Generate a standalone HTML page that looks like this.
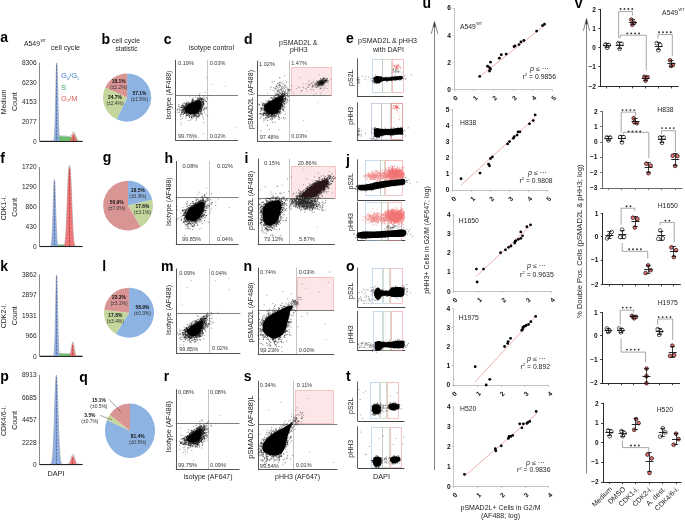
<!DOCTYPE html>
<html><head><meta charset="utf-8"><style>
html,body{margin:0;padding:0;background:#fff;width:685px;height:520px;overflow:hidden}
svg{display:block;will-change:transform}
text{font-family:"Liberation Sans",sans-serif}
</style></head><body>
<svg width="685" height="520" viewBox="0 0 685 520" fill="#1e1e1e">
<defs><filter id="b1" x="-20%" y="-20%" width="140%" height="140%"><feGaussianBlur stdDeviation="0.7"/></filter><filter id="b2" x="-20%" y="-20%" width="140%" height="140%"><feGaussianBlur stdDeviation="0.5"/></filter></defs>
<text x="0.30" y="42.30" font-size="14" fill="#000" font-weight="bold">a</text>
<text x="24.00" y="46.00" font-size="7" textLength="16" lengthAdjust="spacingAndGlyphs">A549</text>
<text x="40.40" y="42.20" font-size="4" textLength="5.6" lengthAdjust="spacingAndGlyphs">WT</text>
<text x="51.00" y="50.10" font-size="7" textLength="29" lengthAdjust="spacingAndGlyphs">cell cycle</text>
<line x1="39.5" y1="62.6" x2="39.5" y2="141.7" stroke="#8a8a8a" stroke-width="1.0"/>
<text x="36.60" y="65.00" font-size="6.6" text-anchor="end">8306</text>
<text x="36.60" y="84.68" font-size="6.6" text-anchor="end">6230</text>
<text x="36.60" y="104.35" font-size="6.6" text-anchor="end">4153</text>
<text x="36.60" y="124.03" font-size="6.6" text-anchor="end">2077</text>
<text x="36.60" y="143.70" font-size="6.6" text-anchor="end">0</text>
<path d="M40.20 141.30 L40.20 140.95 L40.37 140.95 L40.55 140.95 L40.72 140.95 L40.90 140.95 L41.07 140.95 L41.25 140.95 L41.42 140.95 L41.60 140.95 L41.77 140.95 L41.95 140.95 L42.12 140.95 L42.30 140.95 L42.47 140.95 L42.64 140.95 L42.82 140.95 L42.99 140.95 L43.17 140.95 L43.34 140.95 L43.52 140.95 L43.69 140.95 L43.87 140.95 L44.04 140.95 L44.22 140.95 L44.39 140.95 L44.56 140.95 L44.74 140.95 L44.91 140.95 L45.09 140.95 L45.26 140.95 L45.44 140.95 L45.61 140.95 L45.79 140.95 L45.96 140.95 L46.14 140.95 L46.31 140.95 L46.48 140.95 L46.66 140.95 L46.83 140.95 L47.01 140.95 L47.18 140.95 L47.36 140.95 L47.53 140.95 L47.71 140.95 L47.88 140.95 L48.06 140.95 L48.23 140.95 L48.41 140.95 L48.58 140.95 L48.75 140.95 L48.93 140.95 L49.10 140.95 L49.28 140.95 L49.45 140.95 L49.63 140.95 L49.80 140.95 L49.98 140.95 L50.15 140.95 L50.33 140.95 L50.50 140.95 L50.67 140.95 L50.85 140.95 L51.02 140.95 L51.20 140.95 L51.37 140.95 L51.55 140.95 L51.72 140.95 L51.90 140.95 L52.07 140.95 L52.25 140.95 L52.42 140.94 L52.60 140.94 L52.77 140.93 L52.94 140.90 L53.12 140.86 L53.29 140.78 L53.47 140.65 L53.64 140.42 L53.82 140.04 L53.99 139.44 L54.17 138.52 L54.34 137.15 L54.52 135.21 L54.69 132.52 L54.87 128.95 L55.04 124.39 L55.21 118.77 L55.39 112.14 L55.56 104.64 L55.74 96.57 L55.91 88.34 L56.09 80.45 L56.26 73.47 L56.44 67.94 L56.61 64.33 L56.79 62.96 L56.96 63.94 L57.13 67.20 L57.31 72.43 L57.48 79.21 L57.66 86.98 L57.83 95.20 L58.01 103.32 L58.18 110.94 L58.36 117.73 L58.53 123.52 L58.71 128.26 L58.88 131.99 L59.05 134.81 L59.23 135.81 L59.40 135.82 L59.58 135.83 L59.75 135.85 L59.93 135.86 L60.10 135.87 L60.28 135.88 L60.45 135.90 L60.63 135.91 L60.80 135.92 L60.98 135.94 L61.15 135.95 L61.32 135.96 L61.50 135.98 L61.67 135.99 L61.85 136.00 L62.02 136.01 L62.20 136.03 L62.37 136.04 L62.55 136.05 L62.72 136.07 L62.90 136.08 L63.07 136.09 L63.25 136.11 L63.42 136.12 L63.59 136.13 L63.77 136.14 L63.94 136.16 L64.12 136.17 L64.29 136.18 L64.47 136.20 L64.64 136.21 L64.82 136.22 L64.99 136.23 L65.17 136.25 L65.34 136.26 L65.51 136.27 L65.69 136.28 L65.86 136.29 L66.04 136.31 L66.21 136.32 L66.39 136.33 L66.56 136.34 L66.74 136.35 L66.91 136.36 L67.09 136.36 L67.26 136.37 L67.44 136.38 L67.61 136.38 L67.78 136.39 L67.96 136.39 L68.13 136.39 L68.31 136.39 L68.48 136.39 L68.66 136.38 L68.83 136.38 L69.01 136.37 L69.18 136.36 L69.36 136.34 L69.53 136.32 L69.70 136.30 L69.88 136.28 L70.05 136.25 L70.23 136.22 L70.40 136.19 L70.58 136.16 L70.75 136.12 L70.93 136.08 L71.10 136.04 L71.28 135.99 L71.45 135.95 L71.62 135.90 L71.80 135.47 L71.97 134.94 L72.15 134.41 L72.32 133.91 L72.50 133.44 L72.67 133.01 L72.85 132.64 L73.02 132.33 L73.20 132.09 L73.37 131.93 L73.55 131.85 L73.72 131.87 L73.89 131.98 L74.07 132.17 L74.24 132.44 L74.42 132.77 L74.59 133.17 L74.77 133.61 L74.94 134.10 L75.12 134.61 L75.29 135.13 L75.47 135.66 L75.64 136.19 L75.81 136.29 L75.99 136.37 L76.16 136.86 L76.34 137.38 L76.51 137.89 L76.69 138.39 L76.86 138.89 L77.04 139.39 L77.21 139.68 L77.39 139.89 L77.56 140.08 L77.74 140.23 L77.91 140.36 L78.08 140.47 L78.26 140.57 L78.43 140.64 L78.61 140.70 L78.78 140.75 L78.96 140.79 L79.13 140.82 L79.31 140.85 L79.48 140.87 L79.66 140.89 L79.83 140.90 L80.00 140.91 L80.18 140.92 L80.35 140.92 L80.53 140.93 L80.70 140.93 L80.88 140.94 L81.05 140.94 L81.23 140.94 L81.40 140.94 L81.58 140.94 L81.75 140.95 L81.93 140.95 L82.10 140.95 L82.10 141.30 Z" fill="#fff" stroke="#666" stroke-width="0.45"/>
<path d="M55.91 141.30 L55.91 140.79 L56.09 140.01 L56.26 139.24 L56.44 138.46 L56.61 137.69 L56.79 136.93 L56.96 136.16 L57.13 136.00 L57.31 136.01 L57.48 136.03 L57.66 136.04 L57.83 136.05 L58.01 136.06 L58.18 136.08 L58.36 136.09 L58.53 136.10 L58.71 136.12 L58.88 136.13 L59.05 136.14 L59.23 136.16 L59.40 136.17 L59.58 136.18 L59.75 136.20 L59.93 136.21 L60.10 136.22 L60.28 136.23 L60.45 136.25 L60.63 136.26 L60.80 136.27 L60.98 136.29 L61.15 136.30 L61.32 136.31 L61.50 136.33 L61.67 136.34 L61.85 136.35 L62.02 136.36 L62.20 136.38 L62.37 136.39 L62.55 136.40 L62.72 136.42 L62.90 136.43 L63.07 136.44 L63.25 136.46 L63.42 136.47 L63.59 136.48 L63.77 136.49 L63.94 136.51 L64.12 136.52 L64.29 136.53 L64.47 136.55 L64.64 136.56 L64.82 136.57 L64.99 136.59 L65.17 136.60 L65.34 136.61 L65.51 136.63 L65.69 136.64 L65.86 136.65 L66.04 136.66 L66.21 136.68 L66.39 136.69 L66.56 136.70 L66.74 136.72 L66.91 136.73 L67.09 136.74 L67.26 136.76 L67.44 136.77 L67.61 136.78 L67.78 136.79 L67.96 136.81 L68.13 136.82 L68.31 136.83 L68.48 136.85 L68.66 136.86 L68.83 136.87 L69.01 136.89 L69.18 136.90 L69.36 136.91 L69.53 136.93 L69.70 136.94 L69.88 136.95 L70.05 136.96 L70.23 136.98 L70.40 136.99 L70.58 137.00 L70.75 137.02 L70.93 137.03 L71.10 137.04 L71.28 137.06 L71.45 137.07 L71.62 137.08 L71.80 137.09 L71.97 137.11 L72.15 137.12 L72.32 137.13 L72.50 137.15 L72.67 137.16 L72.85 137.17 L73.02 137.19 L73.20 137.20 L73.37 137.21 L73.55 137.22 L73.72 137.24 L73.89 137.25 L74.07 137.26 L74.24 137.28 L74.42 137.29 L74.59 137.30 L74.77 137.32 L74.94 137.33 L75.12 137.34 L75.29 137.36 L75.47 137.37 L75.64 137.38 L75.81 137.39 L75.99 137.41 L76.16 137.84 L76.34 138.31 L76.51 138.77 L76.69 139.22 L76.86 139.67 L77.04 140.12 L77.21 140.57 L77.39 141.01 L77.39 141.30 Z" fill="#5cb85c" fill-opacity="0.9"/>
<path d="M53.29 141.30 L53.29 141.13 L53.47 141.00 L53.64 140.77 L53.82 140.39 L53.99 139.79 L54.17 138.87 L54.34 137.50 L54.52 135.56 L54.69 132.87 L54.87 129.30 L55.04 124.74 L55.21 119.12 L55.39 112.49 L55.56 104.99 L55.74 96.92 L55.91 88.69 L56.09 80.80 L56.26 73.82 L56.44 68.29 L56.61 64.68 L56.79 63.31 L56.96 64.29 L57.13 67.55 L57.31 72.78 L57.48 79.56 L57.66 87.33 L57.83 95.55 L58.01 103.67 L58.18 111.29 L58.36 118.08 L58.53 123.87 L58.71 128.61 L58.88 132.34 L59.05 135.16 L59.23 137.22 L59.40 138.67 L59.58 139.66 L59.75 140.30 L59.93 140.71 L60.10 140.97 L60.28 141.12 L60.28 141.30 Z" fill="#86a6dc" fill-opacity="0.92"/>
<path d="M68.48 141.30 L68.48 141.19 L68.66 141.16 L68.83 141.11 L69.01 141.05 L69.18 140.98 L69.36 140.89 L69.53 140.78 L69.70 140.65 L69.88 140.49 L70.05 140.30 L70.23 140.08 L70.40 139.83 L70.58 139.54 L70.75 139.23 L70.93 138.87 L71.10 138.49 L71.28 138.07 L71.45 137.63 L71.62 137.17 L71.80 136.71 L71.97 136.23 L72.15 135.77 L72.32 135.32 L72.50 134.90 L72.67 134.52 L72.85 134.19 L73.02 133.91 L73.20 133.70 L73.37 133.57 L73.55 133.50 L73.72 133.52 L73.89 133.61 L74.07 133.78 L74.24 134.01 L74.42 134.31 L74.59 134.66 L74.77 135.06 L74.94 135.49 L75.12 135.94 L75.29 136.41 L75.47 136.88 L75.64 137.35 L75.81 137.80 L75.99 138.23 L76.16 138.63 L76.34 139.01 L76.51 139.35 L76.69 139.66 L76.86 139.93 L77.04 140.17 L77.21 140.37 L77.39 140.55 L77.56 140.70 L77.74 140.82 L77.91 140.92 L78.08 141.01 L78.26 141.07 L78.43 141.13 L78.61 141.17 L78.61 141.30 Z" fill="#ec6464" fill-opacity="0.88"/>
<line x1="56.5" y1="65.3" x2="56.5" y2="141.3" stroke="#2b3a6a" stroke-width="0.5" stroke-dasharray="2.2 1.2"/>
<line x1="73.5" y1="135.5" x2="73.5" y2="141.3" stroke="#7a2020" stroke-width="0.5" stroke-dasharray="2.2 1.2"/>
<line x1="39.7" y1="141.5" x2="82.6" y2="141.5" stroke="#222" stroke-width="1.1"/>
<text x="61.00" y="78.30" font-size="7.6" fill="#3f7cc4">G<tspan font-size="3.8" dy="1.4">0</tspan><tspan dy="-1.4">/G</tspan><tspan font-size="3.8" dy="1.4">1</tspan></text>
<text x="61.00" y="89.80" font-size="7.6" fill="#3aa050">S</text>
<text x="61.00" y="101.00" font-size="7.6" fill="#e05a5a">G<tspan font-size="3.8" dy="1.4">2</tspan><tspan dy="-1.4">/M</tspan></text>
<text x="6.00" y="101.90" font-size="7" text-anchor="middle" transform="rotate(-90 6.00 101.90)">Medium</text>
<text x="17.00" y="101.70" font-size="7" text-anchor="middle" transform="rotate(-90 17.00 101.70)">Count</text>
<text x="0.30" y="162.50" font-size="14" fill="#000" font-weight="bold">f</text>
<line x1="39.5" y1="167" x2="39.5" y2="247.1" stroke="#8a8a8a" stroke-width="1.0"/>
<text x="36.60" y="169.40" font-size="6.6" text-anchor="end">1720</text>
<text x="36.60" y="189.33" font-size="6.6" text-anchor="end">1290</text>
<text x="36.60" y="209.25" font-size="6.6" text-anchor="end">860</text>
<text x="36.60" y="229.17" font-size="6.6" text-anchor="end">430</text>
<text x="36.60" y="249.10" font-size="6.6" text-anchor="end">0</text>
<path d="M40.20 246.70 L40.20 246.35 L40.37 246.35 L40.55 246.35 L40.72 246.35 L40.90 246.35 L41.07 246.35 L41.25 246.35 L41.42 246.35 L41.60 246.35 L41.77 246.35 L41.95 246.35 L42.12 246.35 L42.30 246.35 L42.47 246.35 L42.64 246.35 L42.82 246.35 L42.99 246.35 L43.17 246.35 L43.34 246.35 L43.52 246.35 L43.69 246.35 L43.87 246.35 L44.04 246.35 L44.22 246.35 L44.39 246.35 L44.56 246.35 L44.74 246.35 L44.91 246.35 L45.09 246.35 L45.26 246.35 L45.44 246.35 L45.61 246.35 L45.79 246.35 L45.96 246.35 L46.14 246.35 L46.31 246.35 L46.48 246.35 L46.66 246.35 L46.83 246.35 L47.01 246.35 L47.18 246.35 L47.36 246.35 L47.53 246.35 L47.71 246.35 L47.88 246.35 L48.06 246.35 L48.23 246.35 L48.41 246.35 L48.58 246.35 L48.75 246.35 L48.93 246.35 L49.10 246.35 L49.28 246.34 L49.45 246.34 L49.63 246.33 L49.80 246.31 L49.98 246.28 L50.15 246.22 L50.33 246.14 L50.50 246.01 L50.67 245.81 L50.85 245.51 L51.02 245.07 L51.20 244.45 L51.37 243.57 L51.55 242.39 L51.72 240.81 L51.90 238.76 L52.07 236.18 L52.25 233.01 L52.42 229.21 L52.60 224.79 L52.77 219.80 L52.94 214.34 L53.12 208.56 L53.29 202.67 L53.47 196.93 L53.64 191.61 L53.82 186.97 L53.99 183.30 L54.17 180.80 L54.34 179.63 L54.52 179.86 L54.69 181.48 L54.87 184.38 L55.04 188.40 L55.21 193.28 L55.39 198.78 L55.56 204.60 L55.74 210.47 L55.91 216.16 L56.09 221.49 L56.26 226.30 L56.44 230.52 L56.61 234.11 L56.79 237.09 L56.96 239.49 L57.13 241.37 L57.31 242.81 L57.48 243.89 L57.66 244.68 L57.83 244.75 L58.01 244.75 L58.18 244.75 L58.36 244.75 L58.53 244.75 L58.71 244.75 L58.88 244.75 L59.05 244.75 L59.23 244.75 L59.40 244.75 L59.58 244.75 L59.75 244.75 L59.93 244.74 L60.10 244.74 L60.28 244.74 L60.45 244.74 L60.63 244.74 L60.80 244.74 L60.98 244.74 L61.15 244.73 L61.32 244.73 L61.50 244.73 L61.67 244.72 L61.85 244.72 L62.02 244.71 L62.20 244.71 L62.37 244.70 L62.55 244.69 L62.72 244.68 L62.90 244.67 L63.07 244.66 L63.25 244.65 L63.42 244.64 L63.59 244.62 L63.77 244.61 L63.94 244.59 L64.12 244.57 L64.29 244.54 L64.47 244.52 L64.64 244.21 L64.82 243.48 L64.99 242.56 L65.17 241.38 L65.34 239.93 L65.51 238.17 L65.69 236.05 L65.86 233.55 L66.04 230.67 L66.21 227.39 L66.39 223.72 L66.56 219.69 L66.74 215.34 L66.91 210.74 L67.09 205.95 L67.26 201.07 L67.44 196.19 L67.61 191.41 L67.78 186.83 L67.96 182.55 L68.13 178.65 L68.31 175.20 L68.48 172.27 L68.66 169.87 L68.83 168.02 L69.01 166.71 L69.18 165.90 L69.36 165.52 L69.53 165.45 L69.70 165.61 L69.88 166.12 L70.05 167.10 L70.23 168.59 L70.40 170.63 L70.58 173.22 L70.75 176.33 L70.93 179.94 L71.10 183.98 L71.28 188.38 L71.45 193.03 L71.62 197.86 L71.80 202.75 L71.97 207.61 L72.15 212.34 L72.32 216.87 L72.50 221.11 L72.67 225.02 L72.85 228.56 L73.02 231.70 L73.20 234.46 L73.37 236.82 L73.55 238.81 L73.72 240.47 L73.89 241.82 L74.07 242.90 L74.24 243.76 L74.42 244.42 L74.59 244.93 L74.77 245.31 L74.94 245.59 L75.12 245.80 L75.29 245.95 L75.47 246.05 L75.64 246.13 L75.81 246.18 L75.99 246.22 L76.16 246.25 L76.34 246.27 L76.51 246.29 L76.69 246.30 L76.86 246.31 L77.04 246.31 L77.21 246.32 L77.39 246.32 L77.56 246.33 L77.74 246.33 L77.91 246.33 L78.08 246.34 L78.26 246.34 L78.43 246.34 L78.61 246.34 L78.78 246.34 L78.96 246.34 L79.13 246.35 L79.31 246.35 L79.48 246.35 L79.66 246.35 L79.83 246.35 L80.00 246.35 L80.18 246.35 L80.35 246.35 L80.53 246.35 L80.70 246.35 L80.88 246.35 L81.05 246.35 L81.23 246.35 L81.40 246.35 L81.58 246.35 L81.75 246.35 L81.93 246.35 L82.10 246.35 L82.10 246.70 Z" fill="#fff" stroke="#666" stroke-width="0.45"/>
<path d="M55.56 246.70 L55.56 246.62 L55.74 246.38 L55.91 246.15 L56.09 245.92 L56.26 245.68 L56.44 245.45 L56.61 245.22 L56.79 245.10 L56.96 245.10 L57.13 245.10 L57.31 245.10 L57.48 245.10 L57.66 245.10 L57.83 245.10 L58.01 245.10 L58.18 245.10 L58.36 245.10 L58.53 245.10 L58.71 245.10 L58.88 245.10 L59.05 245.10 L59.23 245.10 L59.40 245.10 L59.58 245.10 L59.75 245.10 L59.93 245.10 L60.10 245.10 L60.28 245.10 L60.45 245.10 L60.63 245.10 L60.80 245.10 L60.98 245.10 L61.15 245.10 L61.32 245.10 L61.50 245.10 L61.67 245.10 L61.85 245.10 L62.02 245.10 L62.20 245.10 L62.37 245.10 L62.55 245.10 L62.72 245.10 L62.90 245.10 L63.07 245.10 L63.25 245.10 L63.42 245.10 L63.59 245.10 L63.77 245.10 L63.94 245.10 L64.12 245.10 L64.29 245.10 L64.47 245.10 L64.64 245.10 L64.82 245.10 L64.99 245.10 L65.17 245.10 L65.34 245.10 L65.51 245.12 L65.69 245.30 L65.86 245.49 L66.04 245.67 L66.21 245.86 L66.39 246.05 L66.56 246.23 L66.74 246.42 L66.91 246.61 L66.91 246.70 Z" fill="#5cb85c" fill-opacity="0.9"/>
<path d="M50.15 246.70 L50.15 246.57 L50.33 246.49 L50.50 246.36 L50.67 246.16 L50.85 245.86 L51.02 245.42 L51.20 244.80 L51.37 243.92 L51.55 242.74 L51.72 241.16 L51.90 239.11 L52.07 236.53 L52.25 233.36 L52.42 229.56 L52.60 225.14 L52.77 220.15 L52.94 214.69 L53.12 208.91 L53.29 203.02 L53.47 197.28 L53.64 191.96 L53.82 187.32 L53.99 183.65 L54.17 181.15 L54.34 179.98 L54.52 180.21 L54.69 181.83 L54.87 184.73 L55.04 188.75 L55.21 193.63 L55.39 199.13 L55.56 204.95 L55.74 210.82 L55.91 216.51 L56.09 221.84 L56.26 226.65 L56.44 230.87 L56.61 234.46 L56.79 237.44 L56.96 239.84 L57.13 241.72 L57.31 243.16 L57.48 244.24 L57.66 245.03 L57.83 245.58 L58.01 245.97 L58.18 246.23 L58.36 246.41 L58.53 246.52 L58.71 246.59 L58.71 246.70 Z" fill="#86a6dc" fill-opacity="0.92"/>
<path d="M63.42 246.70 L63.42 246.57 L63.59 246.50 L63.77 246.40 L63.94 246.25 L64.12 246.04 L64.29 245.74 L64.47 245.35 L64.64 244.81 L64.82 244.12 L64.99 243.22 L65.17 242.08 L65.34 240.66 L65.51 238.93 L65.69 236.85 L65.86 234.40 L66.04 231.55 L66.21 228.32 L66.39 224.69 L66.56 220.71 L66.74 216.41 L66.91 211.86 L67.09 207.12 L67.26 202.29 L67.44 197.46 L67.61 192.72 L67.78 188.19 L67.96 183.96 L68.13 180.10 L68.31 176.70 L68.48 173.79 L68.66 171.43 L68.83 169.61 L69.01 168.32 L69.18 167.53 L69.36 167.16 L69.53 167.10 L69.70 167.25 L69.88 167.75 L70.05 168.71 L70.23 170.17 L70.40 172.18 L70.58 174.73 L70.75 177.81 L70.93 181.38 L71.10 185.37 L71.28 189.72 L71.45 194.33 L71.62 199.11 L71.80 203.95 L71.97 208.76 L72.15 213.45 L72.32 217.92 L72.50 222.12 L72.67 225.98 L72.85 229.47 L73.02 232.58 L73.20 235.29 L73.37 237.61 L73.55 239.56 L73.72 241.18 L73.89 242.50 L74.07 243.55 L74.24 244.38 L74.42 245.01 L74.59 245.50 L74.77 245.85 L74.94 246.12 L75.12 246.30 L75.29 246.44 L75.47 246.53 L75.64 246.59 L75.64 246.70 Z" fill="#ec6464" fill-opacity="0.88"/>
<line x1="54.5" y1="181.9" x2="54.5" y2="246.7" stroke="#2b3a6a" stroke-width="0.5" stroke-dasharray="2.2 1.2"/>
<line x1="69.5" y1="169.1" x2="69.5" y2="246.7" stroke="#7a2020" stroke-width="0.5" stroke-dasharray="2.2 1.2"/>
<line x1="39.7" y1="246.5" x2="82.6" y2="246.5" stroke="#222" stroke-width="1.1"/>
<text x="6.00" y="208.00" font-size="7" text-anchor="middle" transform="rotate(-90 6.00 208.00)">CDK1-i.</text>
<text x="17.00" y="207.50" font-size="7" text-anchor="middle" transform="rotate(-90 17.00 207.50)">Count</text>
<text x="0.30" y="271.00" font-size="14" fill="#000" font-weight="bold">k</text>
<line x1="39.5" y1="274.5" x2="39.5" y2="356.5" stroke="#8a8a8a" stroke-width="1.0"/>
<text x="36.60" y="276.90" font-size="6.6" text-anchor="end">3862</text>
<text x="36.60" y="297.30" font-size="6.6" text-anchor="end">2897</text>
<text x="36.60" y="317.70" font-size="6.6" text-anchor="end">1931</text>
<text x="36.60" y="338.10" font-size="6.6" text-anchor="end">966</text>
<text x="36.60" y="358.50" font-size="6.6" text-anchor="end">0</text>
<path d="M40.20 356.10 L40.20 355.75 L40.37 355.75 L40.55 355.75 L40.72 355.75 L40.90 355.75 L41.07 355.75 L41.25 355.75 L41.42 355.75 L41.60 355.75 L41.77 355.75 L41.95 355.75 L42.12 355.75 L42.30 355.75 L42.47 355.75 L42.64 355.75 L42.82 355.75 L42.99 355.75 L43.17 355.75 L43.34 355.75 L43.52 355.75 L43.69 355.75 L43.87 355.75 L44.04 355.75 L44.22 355.75 L44.39 355.75 L44.56 355.75 L44.74 355.75 L44.91 355.75 L45.09 355.75 L45.26 355.75 L45.44 355.75 L45.61 355.75 L45.79 355.75 L45.96 355.75 L46.14 355.75 L46.31 355.75 L46.48 355.75 L46.66 355.75 L46.83 355.75 L47.01 355.75 L47.18 355.75 L47.36 355.75 L47.53 355.75 L47.71 355.75 L47.88 355.75 L48.06 355.75 L48.23 355.75 L48.41 355.75 L48.58 355.75 L48.75 355.75 L48.93 355.75 L49.10 355.75 L49.28 355.75 L49.45 355.75 L49.63 355.75 L49.80 355.75 L49.98 355.75 L50.15 355.75 L50.33 355.75 L50.50 355.75 L50.67 355.75 L50.85 355.75 L51.02 355.75 L51.20 355.75 L51.37 355.75 L51.55 355.75 L51.72 355.75 L51.90 355.75 L52.07 355.75 L52.25 355.75 L52.42 355.74 L52.60 355.74 L52.77 355.73 L52.94 355.70 L53.12 355.65 L53.29 355.56 L53.47 355.40 L53.64 355.11 L53.82 354.64 L53.99 353.88 L54.17 352.71 L54.34 350.97 L54.52 348.47 L54.69 345.03 L54.87 340.50 L55.04 334.78 L55.21 327.87 L55.39 319.91 L55.56 311.20 L55.74 302.22 L55.91 293.56 L56.09 285.91 L56.26 279.92 L56.44 276.14 L56.61 274.96 L56.79 276.47 L56.96 280.55 L57.13 286.78 L57.31 294.60 L57.48 303.33 L57.66 312.31 L57.83 320.94 L58.01 328.79 L58.18 335.56 L58.36 341.13 L58.53 345.52 L58.71 348.82 L58.88 351.22 L59.05 352.88 L59.23 353.47 L59.40 353.48 L59.58 353.48 L59.75 353.48 L59.93 353.48 L60.10 353.49 L60.28 353.49 L60.45 353.49 L60.63 353.49 L60.80 353.49 L60.98 353.50 L61.15 353.50 L61.32 353.50 L61.50 353.50 L61.67 353.51 L61.85 353.51 L62.02 353.51 L62.20 353.51 L62.37 353.52 L62.55 353.52 L62.72 353.52 L62.90 353.52 L63.07 353.53 L63.25 353.53 L63.42 353.53 L63.59 353.53 L63.77 353.53 L63.94 353.54 L64.12 353.54 L64.29 353.54 L64.47 353.54 L64.64 353.55 L64.82 353.55 L64.99 353.55 L65.17 353.55 L65.34 353.56 L65.51 353.56 L65.69 353.56 L65.86 353.56 L66.04 353.56 L66.21 353.57 L66.39 353.57 L66.56 353.57 L66.74 353.57 L66.91 353.57 L67.09 353.57 L67.26 353.58 L67.44 353.58 L67.61 353.57 L67.78 353.57 L67.96 353.57 L68.13 353.57 L68.31 353.56 L68.48 353.55 L68.66 353.54 L68.83 353.53 L69.01 353.51 L69.18 353.49 L69.36 353.47 L69.53 353.44 L69.70 353.41 L69.88 353.37 L70.05 353.33 L70.23 353.27 L70.40 353.22 L70.58 352.69 L70.75 351.92 L70.93 351.03 L71.10 350.05 L71.28 348.98 L71.45 347.86 L71.62 346.71 L71.80 345.58 L71.97 344.52 L72.15 343.59 L72.32 342.81 L72.50 342.25 L72.67 341.92 L72.85 341.86 L73.02 342.07 L73.20 342.53 L73.37 343.21 L73.55 344.07 L73.72 345.08 L73.89 346.18 L74.07 347.33 L74.24 348.47 L74.42 349.57 L74.59 350.59 L74.77 351.52 L74.94 352.35 L75.12 353.05 L75.29 353.65 L75.47 354.14 L75.64 354.53 L75.81 354.84 L75.99 355.08 L76.16 355.26 L76.34 355.40 L76.51 355.50 L76.69 355.57 L76.86 355.62 L77.04 355.66 L77.21 355.69 L77.39 355.70 L77.56 355.72 L77.74 355.73 L77.91 355.73 L78.08 355.74 L78.26 355.74 L78.43 355.74 L78.61 355.75 L78.78 355.75 L78.96 355.75 L79.13 355.75 L79.31 355.75 L79.48 355.75 L79.66 355.75 L79.83 355.75 L80.00 355.75 L80.18 355.75 L80.35 355.75 L80.53 355.75 L80.70 355.75 L80.88 355.75 L81.05 355.75 L81.23 355.75 L81.40 355.75 L81.58 355.75 L81.75 355.75 L81.93 355.75 L82.10 355.75 L82.10 356.10 Z" fill="#fff" stroke="#666" stroke-width="0.45"/>
<path d="M57.66 356.10 L57.66 355.80 L57.83 355.46 L58.01 355.13 L58.18 354.80 L58.36 354.47 L58.53 354.14 L58.71 353.82 L58.88 353.82 L59.05 353.82 L59.23 353.82 L59.40 353.83 L59.58 353.83 L59.75 353.83 L59.93 353.83 L60.10 353.84 L60.28 353.84 L60.45 353.84 L60.63 353.84 L60.80 353.84 L60.98 353.85 L61.15 353.85 L61.32 353.85 L61.50 353.85 L61.67 353.86 L61.85 353.86 L62.02 353.86 L62.20 353.86 L62.37 353.87 L62.55 353.87 L62.72 353.87 L62.90 353.87 L63.07 353.88 L63.25 353.88 L63.42 353.88 L63.59 353.88 L63.77 353.88 L63.94 353.89 L64.12 353.89 L64.29 353.89 L64.47 353.89 L64.64 353.90 L64.82 353.90 L64.99 353.90 L65.17 353.90 L65.34 353.91 L65.51 353.91 L65.69 353.91 L65.86 353.91 L66.04 353.92 L66.21 353.92 L66.39 353.92 L66.56 353.92 L66.74 353.92 L66.91 353.93 L67.09 353.93 L67.26 353.93 L67.44 353.93 L67.61 353.94 L67.78 353.94 L67.96 353.94 L68.13 353.94 L68.31 353.95 L68.48 353.95 L68.66 353.95 L68.83 353.95 L69.01 353.96 L69.18 353.96 L69.36 353.96 L69.53 353.96 L69.70 353.97 L69.88 353.97 L70.05 353.97 L70.23 353.97 L70.40 353.97 L70.58 353.98 L70.75 353.98 L70.93 353.98 L71.10 353.98 L71.28 353.99 L71.45 353.99 L71.62 353.99 L71.80 353.99 L71.97 354.00 L72.15 354.00 L72.32 354.00 L72.50 354.00 L72.67 354.01 L72.85 354.01 L73.02 354.04 L73.20 354.29 L73.37 354.53 L73.55 354.77 L73.72 355.02 L73.89 355.26 L74.07 355.50 L74.24 355.75 L74.42 355.99 L74.42 356.10 Z" fill="#5cb85c" fill-opacity="0.9"/>
<path d="M53.29 356.10 L53.29 355.91 L53.47 355.75 L53.64 355.46 L53.82 354.99 L53.99 354.23 L54.17 353.06 L54.34 351.32 L54.52 348.82 L54.69 345.38 L54.87 340.85 L55.04 335.13 L55.21 328.22 L55.39 320.26 L55.56 311.55 L55.74 302.57 L55.91 293.91 L56.09 286.26 L56.26 280.27 L56.44 276.49 L56.61 275.31 L56.79 276.82 L56.96 280.90 L57.13 287.13 L57.31 294.95 L57.48 303.68 L57.66 312.66 L57.83 321.29 L58.01 329.14 L58.18 335.91 L58.36 341.48 L58.53 345.87 L58.71 349.17 L58.88 351.57 L59.05 353.23 L59.23 354.35 L59.40 355.06 L59.58 355.51 L59.75 355.77 L59.93 355.93 L59.93 356.10 Z" fill="#86a6dc" fill-opacity="0.92"/>
<path d="M69.01 356.10 L69.01 355.97 L69.18 355.91 L69.36 355.82 L69.53 355.69 L69.70 355.51 L69.88 355.28 L70.05 354.97 L70.23 354.58 L70.40 354.10 L70.58 353.51 L70.75 352.81 L70.93 352.00 L71.10 351.10 L71.28 350.11 L71.45 349.07 L71.62 348.00 L71.80 346.95 L71.97 345.97 L72.15 345.10 L72.32 344.38 L72.50 343.86 L72.67 343.57 L72.85 343.51 L73.02 343.70 L73.20 344.12 L73.37 344.75 L73.55 345.55 L73.72 346.49 L73.89 347.51 L74.07 348.57 L74.24 349.63 L74.42 350.65 L74.59 351.60 L74.77 352.45 L74.94 353.20 L75.12 353.84 L75.29 354.37 L75.47 354.80 L75.64 355.15 L75.81 355.41 L75.99 355.61 L76.16 355.76 L76.34 355.87 L76.51 355.95 L76.51 356.10 Z" fill="#ec6464" fill-opacity="0.88"/>
<line x1="56.5" y1="277.3" x2="56.5" y2="356.1" stroke="#2b3a6a" stroke-width="0.5" stroke-dasharray="2.2 1.2"/>
<line x1="72.5" y1="345.5" x2="72.5" y2="356.1" stroke="#7a2020" stroke-width="0.5" stroke-dasharray="2.2 1.2"/>
<line x1="39.7" y1="356.5" x2="82.6" y2="356.5" stroke="#222" stroke-width="1.1"/>
<text x="6.00" y="316.00" font-size="7" text-anchor="middle" transform="rotate(-90 6.00 316.00)">CDK2-i.</text>
<text x="17.00" y="315.80" font-size="7" text-anchor="middle" transform="rotate(-90 17.00 315.80)">Count</text>
<text x="0.30" y="381.20" font-size="14" fill="#000" font-weight="bold">p</text>
<line x1="39.5" y1="375" x2="39.5" y2="465.2" stroke="#8a8a8a" stroke-width="1.0"/>
<text x="36.60" y="377.40" font-size="6.6" text-anchor="end">8913</text>
<text x="36.60" y="399.85" font-size="6.6" text-anchor="end">6685</text>
<text x="36.60" y="422.30" font-size="6.6" text-anchor="end">4457</text>
<text x="36.60" y="444.75" font-size="6.6" text-anchor="end">2228</text>
<text x="36.60" y="467.20" font-size="6.6" text-anchor="end">0</text>
<path d="M40.20 464.80 L40.20 464.45 L40.37 464.45 L40.55 464.45 L40.72 464.45 L40.90 464.45 L41.07 464.45 L41.25 464.45 L41.42 464.45 L41.60 464.45 L41.77 464.45 L41.95 464.45 L42.12 464.45 L42.30 464.45 L42.47 464.45 L42.64 464.45 L42.82 464.45 L42.99 464.45 L43.17 464.45 L43.34 464.45 L43.52 464.45 L43.69 464.45 L43.87 464.45 L44.04 464.45 L44.22 464.45 L44.39 464.45 L44.56 464.45 L44.74 464.45 L44.91 464.45 L45.09 464.45 L45.26 464.45 L45.44 464.45 L45.61 464.45 L45.79 464.45 L45.96 464.45 L46.14 464.45 L46.31 464.45 L46.48 464.45 L46.66 464.45 L46.83 464.45 L47.01 464.45 L47.18 464.45 L47.36 464.45 L47.53 464.45 L47.71 464.45 L47.88 464.45 L48.06 464.45 L48.23 464.45 L48.41 464.45 L48.58 464.45 L48.75 464.45 L48.93 464.44 L49.10 464.44 L49.28 464.43 L49.45 464.42 L49.63 464.41 L49.80 464.39 L49.98 464.36 L50.15 464.32 L50.33 464.26 L50.50 464.18 L50.67 464.08 L50.85 463.93 L51.02 463.73 L51.20 463.46 L51.37 463.11 L51.55 462.65 L51.72 462.07 L51.90 461.33 L52.07 460.40 L52.25 459.24 L52.42 457.83 L52.60 456.13 L52.77 454.10 L52.94 451.70 L53.12 448.92 L53.29 445.73 L53.47 442.12 L53.64 438.10 L53.82 433.67 L53.99 428.88 L54.17 423.77 L54.34 418.42 L54.52 412.91 L54.69 407.34 L54.87 401.84 L55.04 396.53 L55.21 391.55 L55.39 387.01 L55.56 383.06 L55.74 379.81 L55.91 377.34 L56.09 375.75 L56.26 375.07 L56.44 375.34 L56.61 376.53 L56.79 378.62 L56.96 381.54 L57.13 385.20 L57.31 389.49 L57.48 394.30 L57.66 399.48 L57.83 404.91 L58.01 410.47 L58.18 416.01 L58.36 421.45 L58.53 426.67 L58.71 431.61 L58.88 436.20 L59.05 440.40 L59.23 444.20 L59.40 447.57 L59.58 450.53 L59.75 453.09 L59.93 455.28 L60.10 457.12 L60.28 458.66 L60.45 459.92 L60.63 460.94 L60.80 461.76 L60.98 462.41 L61.15 462.92 L61.32 463.32 L61.50 463.62 L61.67 463.85 L61.85 464.02 L62.02 464.14 L62.20 464.23 L62.37 464.30 L62.55 464.35 L62.72 464.38 L62.90 464.40 L63.07 464.42 L63.25 464.43 L63.42 464.44 L63.59 464.44 L63.77 464.44 L63.94 464.44 L64.12 464.45 L64.29 464.45 L64.47 464.45 L64.64 464.45 L64.82 464.45 L64.99 464.44 L65.17 464.44 L65.34 464.44 L65.51 464.44 L65.69 464.44 L65.86 464.43 L66.04 464.43 L66.21 464.42 L66.39 464.41 L66.56 464.40 L66.74 464.39 L66.91 464.38 L67.09 464.36 L67.26 464.33 L67.44 464.30 L67.61 464.27 L67.78 464.22 L67.96 464.16 L68.13 464.09 L68.31 464.00 L68.48 463.89 L68.66 463.76 L68.83 463.61 L69.01 463.43 L69.18 463.21 L69.36 462.96 L69.53 462.67 L69.70 462.34 L69.88 461.97 L70.05 461.56 L70.23 461.10 L70.40 460.61 L70.58 460.09 L70.75 459.53 L70.93 458.96 L71.10 458.37 L71.28 457.78 L71.45 457.20 L71.62 456.64 L71.80 456.12 L71.97 455.64 L72.15 455.22 L72.32 454.88 L72.50 454.61 L72.67 454.44 L72.85 454.35 L73.02 454.38 L73.20 454.49 L73.37 454.71 L73.55 455.00 L73.72 455.38 L73.89 455.82 L74.07 456.32 L74.24 456.86 L74.42 457.43 L74.59 458.01 L74.77 458.60 L74.94 459.19 L75.12 459.76 L75.29 460.30 L75.47 460.81 L75.64 461.29 L75.81 461.72 L75.99 462.12 L76.16 462.47 L76.34 462.79 L76.51 463.06 L76.69 463.30 L76.86 463.50 L77.04 463.67 L77.21 463.82 L77.39 463.94 L77.56 464.04 L77.74 464.12 L77.91 464.18 L78.08 464.24 L78.26 464.28 L78.43 464.32 L78.61 464.34 L78.78 464.37 L78.96 464.38 L79.13 464.40 L79.31 464.41 L79.48 464.42 L79.66 464.42 L79.83 464.43 L80.00 464.43 L80.18 464.44 L80.35 464.44 L80.53 464.44 L80.70 464.44 L80.88 464.44 L81.05 464.45 L81.23 464.45 L81.40 464.45 L81.58 464.45 L81.75 464.45 L81.93 464.45 L82.10 464.45 L82.10 464.80 Z" fill="#fff" stroke="#666" stroke-width="0.45"/>
<path d="M53.64 464.80 L53.64 464.67 L53.82 464.51 L53.99 464.35 L54.17 464.19 L54.34 464.03 L54.52 463.87 L54.69 463.71 L54.87 463.70 L55.04 463.70 L55.21 463.70 L55.39 463.70 L55.56 463.70 L55.74 463.70 L55.91 463.70 L56.09 463.70 L56.26 463.70 L56.44 463.70 L56.61 463.70 L56.79 463.70 L56.96 463.70 L57.13 463.70 L57.31 463.70 L57.48 463.70 L57.66 463.70 L57.83 463.70 L58.01 463.70 L58.18 463.70 L58.36 463.70 L58.53 463.70 L58.71 463.70 L58.88 463.70 L59.05 463.70 L59.23 463.70 L59.40 463.70 L59.58 463.70 L59.75 463.70 L59.93 463.70 L60.10 463.78 L60.28 463.90 L60.45 464.03 L60.63 464.16 L60.80 464.29 L60.98 464.42 L61.15 464.54 L61.32 464.67 L61.32 464.80 Z" fill="#5cb85c" fill-opacity="0.9"/>
<path d="M50.15 464.80 L50.15 464.67 L50.33 464.61 L50.50 464.53 L50.67 464.43 L50.85 464.28 L51.02 464.08 L51.20 463.81 L51.37 463.46 L51.55 463.00 L51.72 462.42 L51.90 461.68 L52.07 460.75 L52.25 459.59 L52.42 458.18 L52.60 456.48 L52.77 454.45 L52.94 452.05 L53.12 449.27 L53.29 446.08 L53.47 442.47 L53.64 438.45 L53.82 434.02 L53.99 429.23 L54.17 424.12 L54.34 418.77 L54.52 413.26 L54.69 407.69 L54.87 402.19 L55.04 396.88 L55.21 391.90 L55.39 387.36 L55.56 383.41 L55.74 380.16 L55.91 377.69 L56.09 376.10 L56.26 375.42 L56.44 375.69 L56.61 376.88 L56.79 378.97 L56.96 381.89 L57.13 385.55 L57.31 389.84 L57.48 394.65 L57.66 399.83 L57.83 405.26 L58.01 410.82 L58.18 416.36 L58.36 421.80 L58.53 427.02 L58.71 431.96 L58.88 436.55 L59.05 440.75 L59.23 444.55 L59.40 447.92 L59.58 450.88 L59.75 453.44 L59.93 455.63 L60.10 457.47 L60.28 459.01 L60.45 460.27 L60.63 461.29 L60.80 462.11 L60.98 462.76 L61.15 463.27 L61.32 463.67 L61.50 463.97 L61.67 464.20 L61.85 464.37 L62.02 464.49 L62.20 464.58 L62.37 464.65 L62.55 464.70 L62.55 464.80 Z" fill="#86a6dc" fill-opacity="0.92"/>
<path d="M67.78 464.80 L67.78 464.68 L67.96 464.64 L68.13 464.58 L68.31 464.52 L68.48 464.44 L68.66 464.33 L68.83 464.21 L69.01 464.06 L69.18 463.88 L69.36 463.67 L69.53 463.42 L69.70 463.14 L69.88 462.82 L70.05 462.46 L70.23 462.06 L70.40 461.62 L70.58 461.15 L70.75 460.66 L70.93 460.14 L71.10 459.61 L71.28 459.08 L71.45 458.56 L71.62 458.05 L71.80 457.58 L71.97 457.15 L72.15 456.77 L72.32 456.47 L72.50 456.23 L72.67 456.07 L72.85 456.00 L73.02 456.02 L73.20 456.13 L73.37 456.31 L73.55 456.58 L73.72 456.91 L73.89 457.31 L74.07 457.76 L74.24 458.25 L74.42 458.76 L74.59 459.29 L74.77 459.82 L74.94 460.35 L75.12 460.85 L75.29 461.34 L75.47 461.80 L75.64 462.22 L75.81 462.60 L75.99 462.95 L76.16 463.25 L76.34 463.52 L76.51 463.76 L76.69 463.95 L76.86 464.12 L77.04 464.26 L77.21 464.38 L77.39 464.47 L77.56 464.55 L77.74 464.61 L77.91 464.65 L78.08 464.69 L78.08 464.80 Z" fill="#ec6464" fill-opacity="0.88"/>
<line x1="56.5" y1="377.4" x2="56.5" y2="464.8" stroke="#2b3a6a" stroke-width="0.5" stroke-dasharray="2.2 1.2"/>
<line x1="72.5" y1="458" x2="72.5" y2="464.8" stroke="#7a2020" stroke-width="0.5" stroke-dasharray="2.2 1.2"/>
<line x1="39.7" y1="464.5" x2="82.6" y2="464.5" stroke="#222" stroke-width="1.1"/>
<text x="6.00" y="420.80" font-size="7" text-anchor="middle" transform="rotate(-90 6.00 420.80)">CDK4/6-i.</text>
<text x="17.00" y="420.50" font-size="7" text-anchor="middle" transform="rotate(-90 17.00 420.50)">Count</text>
<text x="47.50" y="476.00" font-size="7" textLength="17" lengthAdjust="spacingAndGlyphs">DAPI</text>
<text x="101.50" y="43.50" font-size="14" fill="#000" font-weight="bold">b</text>
<text x="112.00" y="43.30" font-size="7" textLength="28" lengthAdjust="spacingAndGlyphs">cell cycle</text>
<text x="115.50" y="50.60" font-size="7" textLength="22" lengthAdjust="spacingAndGlyphs">statistic</text>
<path d="M127.1 97.55 L127.10 73.45 A24.1 24.1 0 1 1 116.62 119.25 Z" fill="#8db3e2"/>
<path d="M127.1 97.55 L116.62 119.25 A24.1 24.1 0 0 1 105.22 87.45 Z" fill="#c3d69b"/>
<path d="M127.1 97.55 L105.22 87.45 A24.1 24.1 0 0 1 127.10 73.45 Z" fill="#d99594"/>
<text x="139.50" y="94.80" font-size="4.9" fill="#111" text-anchor="middle" font-weight="bold">57.1%</text>
<text x="139.50" y="100.60" font-size="4.9" fill="#333" text-anchor="middle">(±1.5%)</text>
<text x="115.00" y="99.40" font-size="4.9" fill="#111" text-anchor="middle" font-weight="bold">24.7%</text>
<text x="115.00" y="105.20" font-size="4.9" fill="#333" text-anchor="middle">(±2.4%)</text>
<text x="118.60" y="82.70" font-size="4.9" fill="#111" text-anchor="middle" font-weight="bold">18.1%</text>
<text x="118.60" y="88.50" font-size="4.9" fill="#333" text-anchor="middle">(±2.2%)</text>
<text x="102.70" y="161.80" font-size="14" fill="#000" font-weight="bold">g</text>
<path d="M128 205.6 L128.00 180.70 A24.9 24.9 0 0 1 152.22 199.81 Z" fill="#8db3e2"/>
<path d="M128 205.6 L152.22 199.81 A24.9 24.9 0 0 1 140.68 227.03 Z" fill="#c3d69b"/>
<path d="M128 205.6 L140.68 227.03 A24.9 24.9 0 1 1 128.00 180.70 Z" fill="#d99594"/>
<text x="137.80" y="192.10" font-size="4.9" fill="#111" text-anchor="middle" font-weight="bold">18.5%</text>
<text x="137.80" y="197.90" font-size="4.9" fill="#333" text-anchor="middle">(±0.3%)</text>
<text x="142.40" y="207.90" font-size="4.9" fill="#111" text-anchor="middle" font-weight="bold">17.6%</text>
<text x="142.40" y="213.70" font-size="4.9" fill="#333" text-anchor="middle">(±3.1%)</text>
<text x="116.70" y="204.40" font-size="4.9" fill="#111" text-anchor="middle" font-weight="bold">50.9%</text>
<text x="116.70" y="210.20" font-size="4.9" fill="#333" text-anchor="middle">(±7.0%)</text>
<text x="102.30" y="270.50" font-size="14" fill="#000" font-weight="bold">l</text>
<path d="M129.1 312.7 L129.10 287.70 A25 25 0 1 1 115.84 333.89 Z" fill="#8db3e2"/>
<path d="M129.1 312.7 L115.84 333.89 A25 25 0 0 1 104.24 310.03 Z" fill="#c3d69b"/>
<path d="M129.1 312.7 L104.24 310.03 A25 25 0 0 1 129.10 287.70 Z" fill="#d99594"/>
<text x="142.40" y="309.00" font-size="4.9" fill="#111" text-anchor="middle" font-weight="bold">58.9%</text>
<text x="142.40" y="314.80" font-size="4.9" fill="#333" text-anchor="middle">(±0.3%)</text>
<text x="119.00" y="299.00" font-size="4.9" fill="#111" text-anchor="middle" font-weight="bold">23.3%</text>
<text x="119.00" y="304.80" font-size="4.9" fill="#333" text-anchor="middle">(±3.1%)</text>
<text x="115.30" y="317.00" font-size="4.9" fill="#111" text-anchor="middle" font-weight="bold">17.8%</text>
<text x="115.30" y="322.80" font-size="4.9" fill="#333" text-anchor="middle">(±3.4%)</text>
<text x="79.30" y="381.60" font-size="14" fill="#000" font-weight="bold">q</text>
<path d="M130 430.75 L130.00 403.50 A25.05 27.25 0 1 1 106.95 420.09 Z" fill="#8db3e2"/>
<path d="M130 430.75 L106.95 420.09 A25.05 27.25 0 0 1 109.64 414.87 Z" fill="#c3d69b"/>
<path d="M130 430.75 L109.64 414.87 A25.05 27.25 0 0 1 130.00 403.50 Z" fill="#d99594"/>
<text x="137.60" y="438.20" font-size="4.9" fill="#111" text-anchor="middle" font-weight="bold">81.4%</text>
<text x="137.60" y="444.00" font-size="4.9" fill="#333" text-anchor="middle">(±0.5%)</text>
<text x="98.90" y="401.90" font-size="4.9" fill="#111" text-anchor="middle" font-weight="bold">15.1%</text>
<text x="98.90" y="407.70" font-size="4.9" fill="#333" text-anchor="middle">(±0.5%)</text>
<text x="89.90" y="417.00" font-size="4.9" fill="#111" text-anchor="middle" font-weight="bold">3.5%</text>
<text x="89.90" y="422.80" font-size="4.9" fill="#333" text-anchor="middle">(±0.7%)</text>
<line x1="109.2" y1="399.4" x2="121.1" y2="412.2" stroke="#333" stroke-width="0.45"/>
<line x1="100.2" y1="415.3" x2="111.7" y2="419.9" stroke="#333" stroke-width="0.45"/>
<text x="163.80" y="43.50" font-size="14" fill="#000" font-weight="bold">c</text>
<text x="189.00" y="50.00" font-size="7" textLength="45" lengthAdjust="spacingAndGlyphs">isotype control</text>
<line x1="207.5" y1="59.8" x2="207.5" y2="140.4" stroke="#bdbdbd" stroke-width="0.9"/>
<line x1="175" y1="95.5" x2="238" y2="95.5" stroke="#7a7a7a" stroke-width="0.95"/>
<line x1="175.5" y1="59.8" x2="175.5" y2="140.9" stroke="#555" stroke-width="1.0"/>
<line x1="175" y1="140.5" x2="238" y2="140.5" stroke="#555" stroke-width="1.1"/>
<text x="178.00" y="65.00" font-size="5.6" fill="#3a3a3a">0.19%</text>
<text x="209.70" y="65.00" font-size="5.6" fill="#3a3a3a">0.03%</text>
<text x="178.00" y="138.30" font-size="5.6" fill="#3a3a3a">99.76%</text>
<text x="209.70" y="137.80" font-size="5.6" fill="#3a3a3a">0.02%</text>
<text x="171.00" y="95.10" font-size="7.4" text-anchor="middle" textLength="49" lengthAdjust="spacingAndGlyphs" transform="rotate(-90 171.00 95.10)">Isotype (AF488)</text>
<text x="244.00" y="43.50" font-size="14" fill="#000" font-weight="bold">d</text>
<text x="298.30" y="44.60" font-size="7" text-anchor="middle" textLength="38.5" lengthAdjust="spacingAndGlyphs">pSMAD2L &amp;</text>
<text x="298.80" y="52.40" font-size="7" text-anchor="middle" textLength="17.5" lengthAdjust="spacingAndGlyphs">pHH3</text>
<rect x="291.5" y="67.5" width="40" height="28" fill="#fce6e7" stroke="#f2b0b1" stroke-width="0.7"/>
<line x1="289.5" y1="60.6" x2="289.5" y2="141.2" stroke="#bdbdbd" stroke-width="0.9"/>
<line x1="257.1" y1="95.5" x2="331.5" y2="95.5" stroke="#7a7a7a" stroke-width="0.95"/>
<line x1="257.5" y1="60.6" x2="257.5" y2="141.7" stroke="#555" stroke-width="1.0"/>
<line x1="257.1" y1="141.5" x2="331.5" y2="141.5" stroke="#555" stroke-width="1.1"/>
<text x="259.00" y="65.80" font-size="5.6" fill="#3a3a3a">1.02%</text>
<text x="291.20" y="65.40" font-size="5.6" fill="#3a3a3a">1.47%</text>
<text x="259.70" y="138.90" font-size="5.6" fill="#3a3a3a">97.48%</text>
<text x="291.20" y="137.50" font-size="5.6" fill="#3a3a3a">0.03%</text>
<text x="253.40" y="99.50" font-size="7.4" text-anchor="middle" textLength="59" lengthAdjust="spacingAndGlyphs" transform="rotate(-90 253.40 99.50)">pSMAD2L (AF488)</text>
<text x="164.50" y="162.50" font-size="14" fill="#000" font-weight="bold">h</text>
<line x1="209.5" y1="161.1" x2="209.5" y2="244" stroke="#bdbdbd" stroke-width="0.9"/>
<line x1="175.8" y1="197.5" x2="238.6" y2="197.5" stroke="#7a7a7a" stroke-width="0.95"/>
<line x1="176.5" y1="161.1" x2="176.5" y2="244.5" stroke="#555" stroke-width="1.0"/>
<line x1="175.8" y1="244.5" x2="238.6" y2="244.5" stroke="#555" stroke-width="1.1"/>
<text x="182.40" y="167.50" font-size="5.6" fill="#3a3a3a">0.08%</text>
<text x="217.00" y="167.50" font-size="5.6" fill="#3a3a3a">0.02%</text>
<text x="182.00" y="241.40" font-size="5.6" fill="#3a3a3a">99.85%</text>
<text x="217.00" y="240.70" font-size="5.6" fill="#3a3a3a">0.04%</text>
<text x="171.00" y="201.75" font-size="7.4" text-anchor="middle" textLength="48.5" lengthAdjust="spacingAndGlyphs" transform="rotate(-90 171.00 201.75)">Isotype (AF488)</text>
<text x="244.50" y="162.50" font-size="14" fill="#000" font-weight="bold">i</text>
<rect x="291.5" y="166.5" width="44" height="32" fill="#fce6e7" stroke="#f2b0b1" stroke-width="0.7"/>
<line x1="289.5" y1="158.7" x2="289.5" y2="244" stroke="#bdbdbd" stroke-width="0.9"/>
<line x1="257.7" y1="198.5" x2="334.8" y2="198.5" stroke="#7a7a7a" stroke-width="0.95"/>
<line x1="258.5" y1="158.7" x2="258.5" y2="244.5" stroke="#555" stroke-width="1.0"/>
<line x1="257.7" y1="244.5" x2="334.8" y2="244.5" stroke="#555" stroke-width="1.1"/>
<text x="264.00" y="164.80" font-size="5.6" fill="#3a3a3a">0.15%</text>
<text x="297.70" y="164.80" font-size="5.6" fill="#3a3a3a">20.86%</text>
<text x="264.00" y="241.30" font-size="5.6" fill="#3a3a3a">73.12%</text>
<text x="298.90" y="240.60" font-size="5.6" fill="#3a3a3a">5.87%</text>
<text x="253.40" y="200.50" font-size="7.4" text-anchor="middle" textLength="59" lengthAdjust="spacingAndGlyphs" transform="rotate(-90 253.40 200.50)">pSMAD2L (AF488)</text>
<text x="161.00" y="270.50" font-size="14" fill="#000" font-weight="bold">m</text>
<line x1="209.5" y1="268.5" x2="209.5" y2="353.1" stroke="#bdbdbd" stroke-width="0.9"/>
<line x1="176" y1="313.5" x2="240.4" y2="313.5" stroke="#7a7a7a" stroke-width="0.95"/>
<line x1="176.5" y1="268.5" x2="176.5" y2="353.6" stroke="#555" stroke-width="1.0"/>
<line x1="176" y1="353.5" x2="240.4" y2="353.5" stroke="#555" stroke-width="1.1"/>
<text x="179.20" y="274.50" font-size="5.6" fill="#3a3a3a">0.09%</text>
<text x="210.90" y="274.50" font-size="5.6" fill="#3a3a3a">0.04%</text>
<text x="179.20" y="350.80" font-size="5.6" fill="#3a3a3a">99.85%</text>
<text x="212.10" y="350.40" font-size="5.6" fill="#3a3a3a">0.02%</text>
<text x="171.00" y="310.00" font-size="7.4" text-anchor="middle" textLength="50" lengthAdjust="spacingAndGlyphs" transform="rotate(-90 171.00 310.00)">Isotype (AF488)</text>
<text x="243.50" y="270.50" font-size="14" fill="#000" font-weight="bold">n</text>
<rect x="297.5" y="277.5" width="36" height="33" fill="#fce6e7" stroke="#f2b0b1" stroke-width="0.7"/>
<line x1="296.5" y1="267.6" x2="296.5" y2="354" stroke="#bdbdbd" stroke-width="0.9"/>
<line x1="257.8" y1="310.5" x2="334.3" y2="310.5" stroke="#7a7a7a" stroke-width="0.95"/>
<line x1="258.5" y1="267.6" x2="258.5" y2="354.5" stroke="#555" stroke-width="1.0"/>
<line x1="257.8" y1="354.5" x2="334.3" y2="354.5" stroke="#555" stroke-width="1.1"/>
<text x="260.10" y="274.00" font-size="5.6" fill="#3a3a3a">0.74%</text>
<text x="298.70" y="274.00" font-size="5.6" fill="#3a3a3a">0.03%</text>
<text x="260.10" y="351.70" font-size="5.6" fill="#3a3a3a">99.23%</text>
<text x="298.70" y="351.70" font-size="5.6" fill="#3a3a3a">0.00%</text>
<text x="253.40" y="312.50" font-size="7.4" text-anchor="middle" textLength="60" lengthAdjust="spacingAndGlyphs" transform="rotate(-90 253.40 312.50)">pSMAD2L (AF488)</text>
<text x="163.80" y="380.90" font-size="14" fill="#000" font-weight="bold">r</text>
<line x1="208.5" y1="389.2" x2="208.5" y2="469.6" stroke="#bdbdbd" stroke-width="0.9"/>
<line x1="175.8" y1="423.5" x2="239.5" y2="423.5" stroke="#7a7a7a" stroke-width="0.95"/>
<line x1="176.5" y1="389.2" x2="176.5" y2="470.1" stroke="#555" stroke-width="1.0"/>
<line x1="175.8" y1="469.5" x2="239.5" y2="469.5" stroke="#555" stroke-width="1.1"/>
<text x="178.00" y="394.40" font-size="5.6" fill="#3a3a3a">0.08%</text>
<text x="210.00" y="394.40" font-size="5.6" fill="#3a3a3a">0.08%</text>
<text x="178.00" y="467.40" font-size="5.6" fill="#3a3a3a">99.75%</text>
<text x="210.00" y="466.70" font-size="5.6" fill="#3a3a3a">0.09%</text>
<text x="171.00" y="426.75" font-size="7.4" text-anchor="middle" textLength="51.5" lengthAdjust="spacingAndGlyphs" transform="rotate(-90 171.00 426.75)">Isotype (AF488)</text>
<text x="208.10" y="479.00" font-size="7" text-anchor="middle" textLength="48.75" lengthAdjust="spacingAndGlyphs">isotype (AF647)</text>
<text x="243.70" y="380.90" font-size="14" fill="#000" font-weight="bold">s</text>
<rect x="295.5" y="390.5" width="38" height="33" fill="#fce6e7" stroke="#f2b0b1" stroke-width="0.7"/>
<line x1="293.5" y1="380.7" x2="293.5" y2="469.9" stroke="#bdbdbd" stroke-width="0.9"/>
<line x1="258" y1="424.5" x2="337.4" y2="424.5" stroke="#7a7a7a" stroke-width="0.95"/>
<line x1="258.5" y1="380.7" x2="258.5" y2="470.4" stroke="#555" stroke-width="1.0"/>
<line x1="258" y1="469.5" x2="337.4" y2="469.5" stroke="#555" stroke-width="1.1"/>
<text x="259.80" y="387.30" font-size="5.6" fill="#3a3a3a">0.34%</text>
<text x="296.80" y="387.30" font-size="5.6" fill="#3a3a3a">0.11%</text>
<text x="259.80" y="467.50" font-size="5.6" fill="#3a3a3a">99.54%</text>
<text x="295.80" y="467.00" font-size="5.6" fill="#3a3a3a">0.01%</text>
<text x="253.40" y="427.00" font-size="7.4" text-anchor="middle" textLength="63.5" lengthAdjust="spacingAndGlyphs" transform="rotate(-90 253.40 427.00)">pSMAD2 (AF488)L</text>
<text x="297.50" y="479.00" font-size="7" text-anchor="middle" textLength="45" lengthAdjust="spacingAndGlyphs">pHH3 (AF647)</text>
<path d="M193.5 105.1h0m4.9-3.3h0m-2.1 17.2h0m5-19.3h0m-5.9 5.4h0m-7.7 4.7h0m1.2-1.2h0m9.2-7.5h0m-4.8 12.8h0m-14.5-9.1h0m6.1 2.2h0m9.6 8.6h0m3.6-6.1h0m3.7-2.8h0m-22.3 5.4h0m9.6-6.6h0m-3.7 5.5h0m16-12.1h0m-7.6 14.8h0m-2.8-9h0m9.8-2.6h0m-8.4 6.7h0m-2.2-0.5h0m5.3 2.5h0m4.5 1.2h0m-0.2-3.1h0m-13.8-5.1h0m0.4 10.5h0m6.9-14.5h0m3.1 3.7h0m-9.5 7.7h0m-0.5 1.9h0m12.5-1.6h0m-5.8-7h0m-8.4 7.8h0m1.5-2.8h0m12.7-2.7h0m-3 7.1h0m1.5-7.1h0m-7.1-1.5h0m7.9-5.1h0m3-1.5h0m-14.2 9.9h0m8.6-1h0m-3.9 5.2h0m2.9-10h0m-5.2 3.6h0m12 0.8h0m-16.1-0.5h0m7.9 1.3h0m-7.8 0.1h0m7.3 0.5h0m10.1-2.6h0m-6.6 0.5h0m-4.4 11.2h0m-6.1-9.1h0m13.6-7.3h0m-3.4 10.1h0m-12.1 0.4h0m21.6-11.1h0m-14.5 6.3h0m0.5 0.4h0m2.5-1.3h0m5.6-3.7h0m-7.9 10.6h0m9.8-4.6h0m-4-2.8h0m1.5-5.6h0m-7.2 4.3h0m-6 3.3h0m3.6-3.5h0m4.5-3.3h0m9.2-1.5h0m-3.5 6.1h0m-10.1 7.7h0m8.6-10.4h0m-13.3 10h0m6.8-9.8h0m-3.1 1.6h0m4.4-2.8h0m1.8 6h0m7.7-2.9h0m-4.3 5.3h0m-1.9 2.8h0m-11.7-5.3h0m17 1.5h0m-4.9 1.4h0m2.2-2.5h0m-2.6 3.6h0m1-4.4h0m0-3.8h0m-12.8 9.3h0m8.3-7.6h0m3.1 5.4h0m1.8-6.5h0m-8.5 5.6h0m7.8-6.7h0m-4.7 9.2h0m-0.4-9h0m2.6-1.5h0m12-3.9h0m-9.9 5.5h0m-4.6 0.6h0m8.3-5.7h0m-0.5 2.6h0m-13.8 3.2h0m4.2 2.1h0m8.8-2h0m-6.1-4.7h0m6.5 10.1h0m5.3-1.1h0m-12.7 3.1h0m9.5-10.5h0m-13.7 9.1h0m6.3-4.5h0m7.2 1.6h0m-6.9 7.5h0m-1-9.5h0m11.5-6.1h0m-18.9 5.9h0m14.6-5.9h0m-8.9 10.4h0m-2.1 7.8h0m-7.8-9.4h0m14 3.5h0m2.2-8.1h0m-2.4 1.2h0m2.4-5.8h0m-4.5 9.8h0m-1.8 8.7h0m8-10.3h0m-0.3-5.1h0m-6.3 8h0m11-8.7h0m-14.5 4.8h0m9.8 1.5h0m1.8-2.9h0m-2.7-0.9h0m-5.9-3h0m10.1 0.2h0m1.7 2.6h0m-21.4 6.8h0m7.1-6.1h0m0.5 9.6h0m12.6-11.9h0m-11.3 2.5h0m-6.3 0.3h0m13.1 6.7h0m3.3-8.5h0m-13.7 12.3h0m0.8-4.8h0m6.3 3.4h0m-8.7-6.9h0m1.7-0.6h0m12.2-3.7h0m0 7.4h0m-11.4-5h0m8.6-1.7h0m-13.5 4h0m7.2 1.9h0m7.7 5.8h0m-11.8-6.2h0m9.7-5.7h0m3.8 5.6h0m-8.1-7.8h0m-13.8 5.8h0m23.3-1.7h0m-16.5 3.8h0m2.1-3.5h0m7.2 4.8h0m1.5-8.1h0m-2.5 8.7h0m-7.1-0.4h0m16-6.5h0m-13.5 1.9h0m-1.5 4.9h0m3.2 2.8h0m2.8-3.5h0m-9.5-0.4h0m4.9-1.8h0m-4.8-0.5h0m16.9-0.1h0m2.3-2.2h0m-19.7 8.6h0m7.1-0.7h0m-0.4-5.1h0m8 8.8h0m-13.9-7.4h0m10.9-5.5h0m0.4 2.9h0m-11.7 2.6h0m16-2.7h0m-16.7-0.4h0m0.2 3.6h0m14.5 3.4h0m-7.9 1.7h0m7.9-0.8h0m-11.4-2.3h0m10.7-9.6h0m-15.5 5.4h0m10.8-2.8h0m7.9-2.9h0m-18.1 6.3h0m11.3 1.2h0m1.3-3.5h0m-0.3-2.6h0m2-2.2h0m-0.2 2.3h0m-1.7 3h0m-7.5 3.6h0m-0.2-1.1h0m16.4-6.9h0m-18.3 7.7h0m10.5-0.9h0m-0.6-2.1h0m6.1-7.5h0m-10.2 4.6h0m2.5 10.4h0m-8.6-4.4h0m16.4 3.2h0m-3.9-6.3h0m0 4.1h0m0.6-8.7h0m-5.1 1.2h0m9.7-1h0m-14.6 8.8h0m9.2-6.3h0m3.9 5.1h0m-5 6.7h0m5.3-10.4h0m-7.6-1.7h0m6.4-2.5h0m-4.3 7.5h0m-1.7-4.2h0m5.6 7.8h0m-17.7-0.1h0m7.4-6.5h0m7.7-1.4h0m3.7 2.5h0m-9.9-1h0m-1.5 4.3h0m-9.6 4.7h0m12.3-2.3h0m6-9.2h0m-2 3.4h0m1.8 3.2h0m-2.3-6.5h0m-9.5 12h0m3.1-0.6h0m8-4h0m-8.3-7.3h0m9.3-3.7h0m2.1 9h0m-11.9 1.4h0m-1.1-6.3h0m10-4.4h0m-0.5 6.2h0m-10-0.7h0m2.7 8.2h0m4.7-7.8h0m5.2 0.4h0m-13.6 5.4h0m12.3-0.9h0m-7.1-7.5h0m6.2 7h0m-6.1-0.6h0m5.2 6h0m-7.1-8.6h0m-3.6 4.9h0m8.2-4.2h0m-1.3 2.2h0m7.9-7.1h0m-10.6 9.5h0m1.3-6.3h0m-1.2-2.3h0m2.8-4.2h0m-8.5 12.7h0m9.5-10.2h0m-4.2 7.5h0m-2.2-1.4h0m11-3.1h0m-11.8 0.7h0m1.1 1.1h0m1.3 9.1h0m-2.8-3.8h0m11.1-7.1h0m-11 8.3h0m14.9-12.9h0m-8.1 11.5h0m-8.9-4.9h0m8.2 0.1h0m6.1-0.4h0m-1.3 9.6h0m-15.6-6.2h0m0.3-0.9h0m10.3 4.4h0m4.8-4.2h0m-5.1-1.8h0m-8.1-2h0m4.3 7.3h0m4.2-10.8h0m5.6 2.5h0m-8.8 3.8h0m7.6 4.8h0m4.3-4.2h0m-5.5 1.2h0m0.8-1.5h0m-5.2 4.3h0m4.3-7.9h0m-9.2-2.1h0m2.9 3.1h0m-3.3 5.7h0m16.4-5.7h0m-10.4-0.6h0m3.3-2.6h0m0.6-1.1h0m0.7 1.5h0m1.3 7.2h0m-0.9-9.9h0m5.9 1.6h0m-20.9 7.7h0m15.2-8.2h0m-6.9 6.6h0m8.4-3.5h0m-3.4 1h0m6.1 3.2h0m-2.8 6.8h0m3.1-6.2h0m-10.5 4.2h0m-4.7-8.3h0m7.6-2.2h0m9.2 0.5h0m-9.6 7.5h0m-10.1-1.2h0m8.6-7.1h0m8.9 10.7h0m-6.7 1.6h0m0-12.8h0m-9.2 8.6h0m10.1 0.8h0m-0.8-7.2h0m-1.9 3.4h0m5.2-2.1h0m8-4.8h0m-11.8 15.6h0m-10.8-7.9h0m2.8-0.3h0m4.6-2.3h0m-4.9-2.5h0m-4.1 9.1h0m14.2-8.6h0m-6.6-1.2h0m2.9-2.4h0m11 0.7h0m-21 4.5h0m13.4 0.4h0m3.6 0.5h0m-15.5 4h0m1.9 2.6h0m2.9-0.9h0m-2.2-5.5h0m13.9 2.8h0m-7.8-6h0m10-4.4h0m-1.1-0.3h0m-8.2-1.1h0m7.7 4.5h0m-2.6 8.2h0m-3.3-3.6h0m3 6.8h0m1.1-8.9h0m-9.7 8.2h0m10.7-6.4h0m-0.3-2h0m-10.2 4.3h0m7.2 2.8h0m-6.8-1.8h0m2.8-2.7h0m9.8-5.1h0m-3.4-3h0m-1.7 1.7h0m-4.2 9.9h0m7.8 0.4h0m-8.3-8.3h0m2.3 12.3h0m-9.6-2.2h0m4.6-7.5h0m-0.1 0.6h0m12.9 10.8h0m-1.9-13.8h0m-5.2 1.3h0m-0.3 7.8h0m4.3-12.1h0m-13.3 7.9h0m9.8-7.6h0m-8.6 2.8h0m-3.3 5.6h0m8-1.3h0m-2.9-1.8h0m4.3 7h0m0.4-3.3h0m-0.3 0h0m-5.9-2.2h0m2.4 5.1h0m3.6-5.4h0m3.7-4.8h0m3.4 3.8h0m-3.2-5.9h0m-8.8 10.6h0m4 1.9h0m5.1-5.9h0m-17.4 10.2h0m18.6-7.9h0m-8 2.6h0m4.1-7.2h0m-6.7 1h0m1.5-1.4h0m4.2 4.8h0m9-5.4h0m-20.3 1.9h0m10.9 1.8h0m-1 4h0m-4.2-1.8h0m1.5-3.8h0m4.1 9.3h0m-4.3-7.2h0m14.4 4.5h0m-15.3-4.8h0m6.7 2.2h0m1.9-5.1h0m1.6 4.2h0m-5.5-6.2h0m0.5 3h0m-10.5 2.3h0m11.7 6.8h0m-5.9-4.1h0m4.7-5.6h0m5.6 3.6h0m-9.6 2h0m9.8-6.5h0m0.1-0.7h0m1-0.1h0m-3.8-1.1h0m1.7 0.4h0m4.3 0.7h0m-13.4 2.3h0m-3.6 6.4h0m-3.6-1.7h0m3.6 0.2h0m-5.1-4.5h0m16.9-3.8h0m5-0.5h0m-10.6 0.2h0m-6 13.7h0m3.4-12.5h0m-9.1 4.6h0m6.8 4.6h0m0.3-7.1h0m-1.2 7.6h0m7.1-7.7h0m-12.4 7.5h0m17.9 2.9h0m-16.6-5h0m13.3 0.6h0m2.9-6h0m-10.1 4.6h0m9.7-1.3h0m-1.7-4.1h0m5.3 9.9h0m-3.6-11.8h0m0.2-3.9h0m1.5 4.5h0m1.6 3h0m-0.6 4.3h0m-23.5 2.5h0m8.3-1.5h0m12.9 4.8h0m-3.4-7.9h0m0.7 1.6h0m-5.2 6.7h0m-3-1.9h0m10.6-6.5h0m-15.6 3.2h0m16.1-10.3h0m-13 10h0m5.8-6h0m-7.5 6h0m8-4.6h0m10.8 4.1h0m-5 2.8h0m-12.1-3.6h0m11.8 2.8h0m2-8.6h0m-1-0.7h0m-5 6.4h0m12-2.3h0m-9.6-5.5h0m-9 8.8h0m11.3-4.6h0m-8-1.8h0m5.3 8.5h0m-4.6-4.2h0m-4-2h0m8 7.2h0m2.4-3.4h0m-5.7 0h0m-2.7 3.7h0m7.2-9.4h0m-5.5 3.2h0m-4.4 5.7h0m-3.3 1.1h0m3.9-7.4h0m-1.9 1.8h0m13.7-0.9h0m-1.9-6.4h0m2 3.9h0m4.5 3.1h0m-8.8-7.5h0m3 4.5h0m-3.8 10.9h0m-7.2-5.6h0m14.3-12.1h0m-7.5 15h0m-2.2-0.5h0m-7.5-0.5h0m12.2-7.4h0m4.9 2.6h0m-20.1-0.7h0m17.9-8.2h0m-9.3 7.7h0m9.6-1.2h0m0.8 3h0m-7.8-0.2h0m2-3.6h0m-2.6 11.8h0m0.9-14.3h0m0.7 14.7h0m4.6-3.9h0m-2.5-3.7h0m2.2-6.8h0m0.3 4.8h0m-9.1-3.6h0m3.8 1.5h0m8.6 1.1h0m-7-2.8h0m-5.1 7.3h0m12.1-6.2h0m-14.2 3.8h0m3.2 3h0m2.3 2h0m4.3-10.9h0m5 7.8h0m-17.6-2.3h0m0-5h0m11.3 2.7h0m-0.3-1.2h0m0.2-3.8h0m-1.4 13.9h0m1.1-3.7h0m-9.1 0.5h0m14.2-5.8h0m-4.1 3.4h0m1-5.5h0m-10.1 10.2h0m4.8-10.3h0m3.9 7.9h0m6-8.3h0m-8.8 5h0m9.3-3.3h0m1.5-5.1h0m-3.9 1.9h0m-9.5 9.9h0m-0.4 1.5h0m5.7-7.3h0m-16.9 3.3h0m17-7.4h0m-7.7 4.5h0m8.4-3.5h0m-11.1 6.2h0m0.9 4.2h0m2.3-8.6h0m7.8 4.4h0m-1.9 5.4h0m4.2-0.5h0m-13.5-2.1h0m14.9-0.2h0m-7.1-8.2h0m8.6 1.3h0m-16.6 2.5h0m11.4-5.2h0m-6.4 5.4h0m7.6-3.9h0m-7.5 5.3h0m5.5-0.7h0m4.7 3h0m3.4-5.8h0m-8.5 10h0m-10.4-1.8h0m16.7-14h0m-7.6 4h0m6.6 4.2h0m-5.3 3.2h0m2.7-5.6h0m-9.3 4.7h0m-2.3-0.3h0m11.2-1.8h0m7.4 0.3h0m-5.9-1.4h0m2.2-8.1h0m-12.6 15.8h0m8.2-7.9h0m-13.9 5.1h0m10.4-8.7h0m-7.7 8.6h0m13.9-10.9h0m-8.2 11.7h0m0.5-7h0m4.4 8.2h0m-6.1-4.6h0m9.3-5.1h0m1 0.4h0m-5.8 2.6h0m5.8-1h0m-7.8 1.8h0m4.5 5.2h0m-3.2-1.1h0m-12.4 2.7h0m15.4-3h0m9.7-9.5h0m-18.5 0.5h0m1 11h0m12.4-11.1h0m-11.1 4.5h0m4.2-1.8h0m-8 3.3h0m7.5-3.7h0m3.3 8.4h0m-5.3 1.1h0m-0.4-4.6h0m9.5-10.5h0m-6.9 16.1h0m2-4.8h0m-15.6 4.1h0m9.8-3.6h0m9.8-7.3h0m-5.6 0h0m-7.3 12.2h0m3.1-6h0m1.8 1h0m5.2-12.3h0m-4.2 4.2h0m5.3 4.7h0m1.9 1.8h0m-11.9 4.5h0m-11.1-3.6h0m11.8 5.8h0m2.7-12.4h0m-7.2 9.9h0m-0.2-5.1h0m10.2-1.5h0m0.7-4.6h0m-5.4 3.3h0m11.7-0.9h0m1.3 2.4h0m-19.8 0.4h0m0-0.6h0m16.5 0.7h0m-7.1 4.5h0m5.4-10.7h0m-5 1.9h0m-5.9 6h0m12-13.6h0m-19.5 14.7h0m22.6-7h0m-11.2 2.6h0m-3.4 5.6h0m-1-7.1h0m5.4 3h0m3.8-5.7h0m3.3 10.1h0m-2.5 0.4h0m5.3 2.5h0m-3-0.5h0m7.3-5.9h0m-5.6-6.8h0m-9.1 0.4h0m5.9 3.5h0m1.2 5.1h0m-15.4-0.1h0m7-1.6h0m-4.1 3.2h0m8.7-5.2h0m5.8 3h0m-4.1-3.2h0m2.7-4.4h0m4.4 2.5h0m-2 0.8h0m0.9 2.1h0m-19.7 0.5h0m9.2 4.2h0m1.8 1h0m-3.2 0.7h0m4.6-7.4h0m-5.7 3.9h0m7.2 4.7h0m-7 1.1h0m4.3-9.9h0m7.5 5.4h0m-1.6-9.7h0m-9.1 9.3h0m-4.2-2.9h0m14.1 3h0m-4.2-7.6h0m-2.3 8.7h0m-1.1 1.1h0m4.9-12.3h0m-7.4 13.4h0m11-12.4h0m-13.1 3.5h0m14.8-2.9h0m-3.6 6.9h0m-1.3-3h0m-11.9-2.5h0m6.9-0.1h0m0.9-0.3h0m-10 4.3h0m15.4-8.3h0m-3.9 15.7h0m-6.2 2h0m0.1-12h0m10.6 2.3h0m-4.4 5.6h0m-4.7-6.1h0m5.1 1.4h0m3.1 3.2h0m-17.9-0.1h0m16.8-2.4h0m-13.3 1.4h0m-1-1.8h0m12.8 7.6h0m-14.8-2.3h0m2.4-5.2h0m7.4-1h0m3.7-3.7h0m2.8-1.7h0m-0.1 5.1h0m-5.3-1.7h0m2.8 5.6h0m-1.1-9.4h0m9 1.6h0m-18.2 2.6h0m11.4 0h0m1.3 1.1h0m-10.6 2.7h0m10.6-12.3h0m-1 11.4h0m1.2-2.6h0m-6.2 6.8h0m0.8-11.8h0m5.2 15.5h0m-7.8-4.5h0m-6.3-3.4h0m13.9-2.7h0m3 1.2h0m1.4-0.9h0m-1.5-1.7h0m-13.6 1.3h0m8.9 5.3h0m-5.5-1.6h0m-3.2-0.5h0m12.6-1.1h0m-13-3.3h0m13.2-7.9h0m-13.9 18.5h0m10.3 2h0m0.9-16.7h0m1.7 0h0m-13.1 10.1h0m12.8-3.4h0m-6 1h0m-8.7-1h0m16.3 5.5h0m-14.8-7.6h0m12.1 7.8h0m-9.1-1.9h0m6.2 3.3h0m-8.5-5.1h0m6.7-3.6h0m7.3 5.1h0m-4 1.6h0m5.1-6.8h0m-13.1-2.1h0m3.3 10.9h0m5.7-11.3h0m-9.2 9.1h0m-0.1 0.3h0m12.4-9.7h0m-10.6 4.4h0m6.3 0.1h0m-5.2 6.1h0" stroke="#1a1a1a" stroke-width="0.75" stroke-linecap="square" stroke-opacity="0.85" fill="none"/>
<path d="M188.5 110.4h0m-4.4-4.6h0m18-7h0m-18.3 11.4h0m15.5 1.3h0m-4.5-0.7h0m-2.1 3.8h0m-6.4-1.3h0m4.1-2.2h0m9.3-14.9h0m-18.9 23.2h0m16.5-17.6h0m2.6-8.5h0m-12.8 19.2h0m3-1.7h0m-1.4-3.1h0m-5.5 8.4h0m-0.6-12.2h0m14.8 2.4h0m3.2-4.4h0m-9.4 10.5h0m0.4 5.2h0m11.3-7.9h0m-9.7-7.7h0m6.9 0.3h0m-10.6 14.9h0m2-13.7h0m0.4-4.1h0m6.3 8.3h0m-4.7-5.3h0m1.9 8.5h0m8.4 11.7h0m5.5-26.9h0m-8.3 14h0m-11.2 1.6h0m2.5-3.9h0m0.2 9.2h0m-2.7-19.6h0m-0.2 8.7h0m5.3-2.5h0m-1 7h0m9.9-10.2h0m-10.7 9h0m-7.2-0.4h0m2.3 12h0m-7.1 3.7h0m5.6-22h0m6.6 13.2h0m2.3-8.2h0m-0.2 9.8h0m11.9-18.3h0m-24 13h0m4.4-6.8h0m10.3 4.5h0m0.8 7.6h0m-1.8-7.4h0m-9.9-3.8h0m-3.3 7.6h0m12.1-2.2h0m-13.3-6.3h0m-2.6 4.2h0m17.4-3.3h0m1.9-10.6h0m1 14.6h0m-12.9 1.2h0m8.9 9.3h0m-0.7-23.4h0m-2.4 6.8h0m-1.1-1.6h0m-8.1 7.2h0m2.3 4.2h0m-3.8 5h0m14.2-13.4h0m8.3-12.8h0m-18.3 18.2h0m-5.4 0.3h0m15.4-10.9h0m1.6 1.2h0m-2.2 10h0m-7.7-0.9h0m15.1 8.7h0m-15.4-15.5h0m-11 6.8h0m24-3.8h0m-21.2 0.9h0m13.3 7.9h0m-0.7-12.1h0m-0.8 9.3h0m-4.2-6.9h0m-4.9 0.6h0m3.3 0.4h0m12.4 5.6h0m1-12.7h0m-5.9 13.4h0m-7.5-1.1h0m12.4 3.1h0m-6.1 0.3h0m7.2-1.5h0m-13.2-2.1h0m5.4 7.3h0m7.4-14.3h0m-16.2 0.5h0m16.8 3.2h0m-14 9.9h0m0.9-13.9h0m17.6 0.7h0m3.6 11h0m-7.7-0.9h0m-3-10.8h0m-9.7 11.2h0m12.2-13.7h0m7.1 7h0m-17.8 4.1h0m-0.1-10.9h0m15-3.8h0m-19.4 8.1h0m-1.9 6.4h0m15.6-9.1h0m-2.9 12.6h0m4.7-6.5h0m-9.7-4.8h0m12.5-7.2h0m-12.5 15.4h0m11 0.6h0m-14.8-1.8h0m-0.3 3.7h0m0.4-1.8h0m10-13.2h0m7.6-4.3h0m-2.2 8h0m-9.5 14.3h0m9.9-10.3h0m-6.2 5.5h0m-8.7-8.2h0m9.4 5.2h0m-15.9-0.6h0m7.1-1.8h0m12.6-8.9h0m1.9-0.9h0m-17.8 13.3h0m-3.2-5.7h0m16-2.7h0m-11.3 2.2h0m6.6-5.2h0m-2.4 19.7h0m-4.5-11.3h0m3.6-5.5h0m15.6 6h0m1 5.5h0m-18.2-10h0m6.1 5.7h0m-3.7 2.3h0m5.1-0.5h0m4.3-14.5h0m-7.7 9.2h0m1.5 9.2h0m-2.2-14.3h0m-7 1.6h0m6 10.1h0m11.9-15.1h0" stroke="#333" stroke-width="0.65" stroke-linecap="square" stroke-opacity="0.8" fill="none"/>
<path d="M184.8 108.8C184.9 107.9 185.8 106.8 186.5 106.0C187.2 105.2 188.1 104.7 189.1 104.1C190.1 103.5 191.4 103.1 192.5 102.6C193.6 102.2 194.8 101.7 195.8 101.3C196.8 100.9 197.7 100.4 198.4 100.3C199.2 100.3 200.0 100.4 200.4 101.0C200.8 101.5 201.0 102.5 201.1 103.6C201.1 104.7 201.0 106.2 200.7 107.5C200.3 108.8 199.8 110.3 199.0 111.4C198.2 112.4 197.0 113.3 195.8 113.7C194.6 114.1 193.1 114.1 191.9 114.0C190.6 113.9 189.2 113.7 188.2 113.3C187.1 112.9 186.3 112.4 185.7 111.7C185.2 110.9 184.6 109.8 184.8 108.8Z" fill="#000" filter="url(#b1)"/>
<path d="M280.2 111.3h0m3.2-15.7h0m-5.1 12.2h0m-2.1 1.2h0m-6.1 7.4h0m4.2-7.3h0m-3.4 6h0m5.1-14.1h0m-5.3 8.5h0m12.3-7.3h0m-7.4 11.5h0m-6.6-11.8h0m0.3 8.9h0m12.5-6.1h0m0.4-8h0m-2.3 10h0m-3.9-4h0m-13 12h0m15.6-15h0m-5.1 10.1h0m5.2-12.8h0m-3.3 16.7h0m-3.3 1.3h0m-7.1-4.6h0m14.4-14.2h0m-6.6 13.9h0m-4.1 7.3h0m4.6-17.4h0m6.9-0.7h0m2.8 10.4h0m1.6-6.5h0m-6.2 8.3h0m-5.7 1h0m5-6.4h0m-5-1.3h0m7.9 2.5h0m2.3-5.5h0m-11.5 4h0m5.2 0.5h0m-2 8.1h0m-4.7-6.8h0m13.8-11.6h0m-8.8 0h0m3.5 14.4h0m-6.4 2.5h0m8.7-16.2h0m-14.1 19h0m2.7-3.3h0m-5.3-1.6h0m12.7-2h0m2.4-2.6h0m-13.7 0.7h0m-1.3-1.9h0m3.5 5.7h0m14.8-12.7h0m-12.2 12.3h0m9.2 7.1h0m-3.6-18.8h0m-11.8 9.7h0m21.9-10.5h0m-16.6 3.3h0m-6.5 13.3h0m1.3-6.2h0m1.6 1.5h0m13.2-7h0m-17.6 7.6h0m16.2-11.6h0m7.5-4.6h0m-7.3 10.7h0m7.1-0.8h0m-7 5.2h0m0.3 1.6h0m-2.6-1h0m3.7-10.8h0m-14.9 11h0m5 4.2h0m15.5-6.5h0m-9.4-13.1h0m-2.6 5.5h0m1 4.9h0m3.5-6.9h0m2.6 16h0m-12.5 1h0m3.7-5.2h0m1.9 1.1h0m-3.6-9.1h0m9.5-3.4h0m-0.2 10.6h0m4-12.3h0m-2.5 7.8h0m-14.4 0h0m18.3-1.4h0m-14.9 12.6h0m0-2.2h0m11.6-12h0m-9.8 5.6h0m-0.6 4h0m8.1-3h0m-11.1 4h0m8.2-12.5h0m-6.2 8.6h0m2.7-6.1h0m-5.5 11.9h0m14.4-14.6h0m-7.9 16.9h0m3.5-5h0m-1.9-9.2h0m4.9 1.3h0m-15.6 0.5h0m8.4 1.1h0m6.1 0.2h0m-5.3-3.9h0m-7.1 12.9h0m9.1-15.5h0m-10.6 9.7h0m17.9-7.7h0m-4.9 8.1h0m2.7-4.9h0m-9.7 6.3h0m9.5 1.5h0m-13.1-4h0m-5.2 0.6h0m11.9-8.2h0m-5.4 9.4h0m7.9 1.1h0m6.5-3.9h0m-12.6-3.1h0m-8.7 4.5h0m18.1-9.3h0m6.6 4.1h0m-7.9 2.7h0m-13.2 14.2h0m5.7-4.1h0m9.4-18.5h0m-3.8 16.3h0m2.2-9.6h0m4.9-3.6h0m-1.8-1.5h0m-11.1 6.2h0m-1.4 6.2h0m3.7-6.2h0m-5.5 4.4h0m1.1-1.5h0m2.8-1.5h0m8.5-6.4h0m-4.8 7.8h0m-7.8 7.5h0m11.4-1.5h0m-8.8-8.6h0m-2.5 7.8h0m8.2-15.4h0m-0.9 6h0m8.3-5h0m-3.1 7.8h0m-13 5.9h0m8.6-4.2h0m1.3 0.5h0m-1.8 2.7h0m-15.5-6.8h0m9.7-0.5h0m-8.4 7.1h0m11.2 2.6h0m0.5-10.3h0m12 0.7h0m-13.7 5.3h0m1.1-2h0m-10.6 0.6h0m20.6-3.9h0m-1.2-8.4h0m-2.9 13.2h0m-1.8-7.7h0m1.8-1.2h0m4.8-6.1h0m-11.8 11h0m-2.5 12.1h0m8.6-5.7h0m-4.6 3.1h0m-0.1-3.1h0m-0.7 5.4h0m-5.3-10.2h0m16.7-5.9h0m-0.4-3.5h0m-15.2 8.1h0m13.3-2.1h0m-4.1 12.8h0m-0.6-5.8h0m-3.4-9.9h0m9 4.5h0m-15.8 0.3h0m5.5 10.3h0m-4.3-2h0m12.7 5.6h0m-3.3-20.3h0m-3.1 9.6h0m-0.8-5.9h0m-2 4.7h0m11.5-8.3h0m-17.7 16.9h0m4.1-14.4h0m10.6-6.9h0m-3.5 3.9h0m3.3 0.5h0m-8.3 13.2h0m13.3-10.5h0m0.9-2.8h0m-6.4 7.8h0m-13.2 6.4h0m15-6.3h0m-14.6-0.7h0m13.2 0.7h0m-1.8 0.6h0m-8.4 10h0m8.6-8.9h0m-4.5 3.8h0m-6.4-4.9h0m19.9-13.9h0m-12.6 7h0m6.4 7.2h0m4.2-9.4h0m-10.5 5.1h0m-1.9 10.2h0m-2.3-8.7h0m9.7 0.5h0m-2.7 2.6h0m-1.5-5.7h0m4.1 9.2h0m-18.3-3.1h0m16.8-7.9h0m-9.6 6.4h0m9.4-7.1h0m12-9.4h0m-16 17.9h0m12-16.5h0m-4.7 7.7h0m-13.8 10.7h0m9.2 5.7h0m9.3-17h0m-4-1.6h0m-7.6 18.1h0m1.3 0.8h0m3.5-9.3h0m-15.2 7.3h0m5.1-0.6h0m-2.5-3.2h0m11.4 3.5h0m10.1-14.8h0m-9.5 13.1h0m-10.8-2.1h0m-1.1 0.7h0m2.8 0.5h0m14.1-15.9h0m-1-3.5h0m-4.4 21.1h0m2.4-3.6h0m-5.3 0.6h0m-6 0.8h0m4.5-8.9h0m2.4 11.4h0m-2.4 2.9h0m-0.1-14.5h0m11.8 0h0m-16.9 3.9h0m3.6-1.5h0m1.4 14.6h0m13.6-16.5h0m-5.4 0.2h0m-14.2 8.7h0m13.8-0.9h0m-11.6-7.9h0m8.7-1.4h0m-6.4 0.3h0m4.5 4.7h0m-2.3-2.2h0m1.8-5.4h0m-8.5 14h0m7.8-6.2h0m3.8-3.9h0m4.9-3h0m-3.9 8.8h0m3.1-4.1h0m-6 6h0m-1.2-12.2h0m-3.3 17.7h0m6.6-14.5h0m0.9 0.4h0m-3.6 15.2h0m-6.7-1.8h0m-1.2-4h0m-2.7-6.4h0m2.2 4.9h0m12.3 0.3h0m-5.2-2.3h0m-4.9 3.8h0m-2.3-1.4h0m6.7-10h0m9.9 0.6h0m-17.7 17.9h0m5.9-3.9h0m-5-7.1h0m2.6-1.5h0m5.5-1.1h0m-14.7 13.7h0m24.7-26.9h0m-18.3 14.7h0m11.2-9.1h0m-5.8 17.8h0m-6.3-9h0m14.4-9.5h0m-13.2 14.9h0m18-10.2h0m-18 5.2h0m-1 5.8h0m-5 1.7h0m9-4.9h0m13.2-6.1h0m-10.2 9.1h0m-0.9 2.8h0m11.3-18.1h0m-12.1 11.6h0m17.2-11.1h0m-6.3-2.9h0m-10.6 20.8h0m6.1-9.8h0m-15.5 0.5h0m8.4-7.6h0m1.6 11.1h0m-3.3-8.6h0m9.5 9.9h0m-3.6-2.8h0m12.7-13.5h0m-7.4 15.2h0m-6.3-2.4h0m2-1.8h0m-4.5-1.9h0m-0.2 0.4h0m12.5-6.9h0m-11.7 11h0m-6.6-3.6h0m16.8-5.4h0m-3.8 13.6h0m3.7-16h0m-19.2 14.4h0m9.5 6.3h0m3.6-14.2h0m-6.5 4.2h0m2.9 4.7h0m-3.6-3.7h0m3-0.3h0m-6.3-1.2h0m2.9 1.7h0m7.1-7.5h0m-3.1 13h0m-1.3-2.4h0m1.7-8.8h0m11.1-3.3h0m-9.7 9.6h0m8.7-6.9h0m-10.2 3.9h0m5.5 0.5h0m-0.2-2.4h0m3.7 2.6h0m-13.1-4.7h0m5.5 13.5h0m9.7-21.3h0m-20.6 21.1h0m13.4-6.3h0m8.3-13.9h0m-13 21.1h0m6.1-10.5h0m3.4-8h0m-8.8 9.3h0m9.3-2.2h0m-6 6.4h0m-8.6 4.3h0m14.2-12.5h0m-4.1-1.8h0m-2.6 5.6h0m8.6-15.2h0m-9 21.2h0m-6.4-10.1h0m15.8-2.1h0m-4.3 9h0m2-5.1h0m-11-2.6h0m-2.8 10.4h0m7.3-11h0m-0.8 5.7h0m-2.7-0.3h0m-5.7 2.4h0m14.3 0.2h0m-11.7 1.6h0m5.7 4.3h0m5.2-12.1h0m-10.7 12.5h0m10.9-10.5h0m-10.2 11.4h0m11.3-10.4h0m-1.9-0.9h0m0.3 8.3h0m-14-6.7h0m18 0.3h0m-17.7 2.3h0m13.5 3.3h0m6.7-14.4h0m-21 7.7h0m13.2 0.8h0m1.6 5.4h0m-7.1-13.2h0m-5.5 14.2h0m2.3-3h0m1.7-7.8h0m-7.2 11.7h0m17.8-18.8h0m5-1.3h0m-3.4 6.6h0m2.4-1.3h0m-1.4-0.5h0m0.7 0.6h0m-6.2 9.4h0m4.7-12.8h0m-2.5 8.5h0m-6.4-6.2h0m3.1 14.3h0m-2.4 0h0m-0.4-5.6h0m-7.2-3.4h0m-1.8 6h0m2.3 2.9h0m8.1-10.2h0m-8.7 1.7h0m3.7 6.5h0m10.3-13.1h0m3.2-2h0m-6 6.2h0m-5.8 3.1h0m4-1.5h0m-1.7-1.5h0m2.4 10.9h0m-10 13.4h0m10.9-8.8h0m-6.2-2.5h0m5.9-20h0m-8.9 14.3h0m0 1.8h0m14.7-5.4h0m-16.6 3.3h0m3.1-2.6h0m1.1 14.3h0m7.4-24.2h0m2.3 13h0m-1.7 4h0m3.4-19.8h0m0 12.5h0m5.2-16.2h0m-15.9 21h0m11.4-13.8h0m-10.1 13.8h0m5.9-8.5h0m6.5-2.8h0m-6.7 7.6h0m-0.7 3.2h0m-11.8 0.4h0m8.6-7.6h0m-10.1 11.1h0m3.5-8.5h0m-0.8 1h0m9.3 0.9h0m-11.7 2.4h0m6.6-7.4h0m6.9 2.8h0m-19.8 0.2h0m17.5 4.2h0m7.2-14.7h0m-17.2 18.8h0m18.6-14.6h0m-6.4-1.9h0m-11.6 12h0m7.1 3.8h0m-5.3 3.4h0m7.1-10.2h0m4.5-7.4h0m-6.3 2.4h0m0.3 12.4h0m7.5-7h0m-18.9 1.1h0m4.6 3.7h0m3.5-0.3h0m13.3-14.6h0m-11.9 6h0m0 3.7h0m-0.5-4.7h0m2.1 0.6h0m-3.6-0.5h0m2.8 10.5h0m-3-9.1h0m6.3 4.2h0m2.3-4.6h0m-10.3 11.9h0m3.8 8h0m-8.5-8h0m15.2-1.4h0m8-12.8h0m-14.1-0.4h0m-7.2 13.8h0m7.2-9.1h0m-7.1 13.4h0m15.4-19.4h0m-18.4 7.1h0m2.7 4.3h0m-0.5 8.5h0m6.5-20.4h0m16-5.5h0m-15.1 13.1h0m15.6-15h0m-16.9 26h0m10.9-17.4h0m-10.9 15.9h0m2.5-8.8h0m-4.4 6.7h0m6.8-4.8h0m-8.4 5.7h0m7.5-4.8h0m0.8-1.2h0m-8 0.3h0m14.1-1.6h0m-14.4 0h0m1.3-3.3h0m-2 3.6h0m5.6 3.9h0m3 0.7h0m1.5-12.4h0m-9.2 11.4h0m14.9-10.5h0m-12.7 4h0m10.3 5.5h0m-3.6-2.6h0m-2 9.1h0m-1.9-2h0m-11.5-4.2h0m18.1-13.7h0m-1.5 11.2h0m-5.3 4.4h0m-8.6-0.9h0m17.9-17h0m0 7.1h0m-7.1 17.3h0m7.2-21.8h0m-18 7.9h0m12.7 3.8h0m5.2-1.9h0m-1.6-12.6h0m-7.1 7.5h0m6.4 2.9h0m-6.7 5.2h0m-4.2 5.6h0m-6.5-9.9h0m16.2 3.2h0m-14.2 2.5h0m2.6 5.8h0m6.6-13.5h0m-8.2 10.6h0m11.1-1h0m4.8-6.3h0m-10-4.4h0m1.9 4.6h0m4.7-0.4h0m1.4-6.5h0m-13.3 6.2h0m7.6 10.3h0m10.6-21.6h0m-1.9 0.4h0m-10.8 13.2h0m8.5 0.5h0m2.2-6.1h0m5-5.9h0m-8 0.8h0m-0.5 9h0m-0.3-10.6h0m-9.5 18.7h0m-1.2 6.3h0m9.2-17h0m-2.7 1.1h0m-8.5 0.6h0m17.2-7.6h0m-18.5 10.4h0m16.2-4.7h0m-9.5 2.2h0m-5.3 0.5h0m11.8-4h0m-9.3 3.9h0m9.1-2.8h0m-2.4 8h0m2-9.3h0m1.2 5.2h0m4.1 3h0m-12.6 6.9h0m1.5-14.4h0m-7.1 7.1h0m12.5-6.2h0m7.1 3.7h0m-14.7-0.4h0m8.2-0.4h0m-12.8-1.6h0m16.6-6.1h0m-0.1 6.4h0m-9.8 1.3h0m10.9-4.2h0m-15.6 4.3h0m11 1.4h0m-4.3 7h0m8.1-10.3h0m-5.8-5.4h0m-9.9 10.5h0m-0.5 2.4h0m17.8-3.3h0m0.5 1.8h0m-2.7-6.5h0m-6.1 12.4h0m-10.6-3.3h0m1-2.2h0m5.9-3.2h0m3.7-3.5h0m4.8-11.3h0m-4.7 8.4h0m-10.5 4.6h0m15.4 6.2h0m5.4-17h0m-12.3 5.8h0m-2.9 1.6h0m1.1 5.9h0m-1.5-2.5h0m12.3-0.5h0m-14-0.1h0m6.1 5h0m1.1-11.4h0m1.8-3.6h0m2.1 17.4h0m-5.8 0.7h0m6.8-1.8h0m-6.8-5.8h0m-8 7.8h0m23.7-24h0m-8.7 7.5h0m-6.7 4.9h0m0 15.9h0m-10.9-8.9h0m19.7-1.6h0m-8.4 1.2h0m4.6-5.8h0m-9 7.6h0m7.5-4.3h0m-4 5.7h0m1.2-11.5h0m-7.2 14.5h0m-0.4-8.2h0m-2.2-1.1h0m13.3-5h0m-8.1 9.1h0m12.1-13h0m-1.9 7.3h0m0.7 6h0m-2.5-1.2h0m-1.9 2.8h0m-10.4-7.3h0m2.2 8.5h0m17.9-15.6h0m-16.3 6.4h0m11.9-4.2h0m-3.3-1.5h0m-16.6 16.6h0m14.3-4.8h0m4-3h0m-13.4-2.3h0m-0.6 9.2h0m18.1 4.2h0m-7-15.6h0m-9.4 14.5h0m9.9-2.9h0m2.6-8.5h0m1.4 7h0m-14.6-4.1h0m9.1 5.5h0m-11.8 0h0m3.4-8.5h0m1-0.7h0m13.4 4h0m0-13.7h0m-4.8 2.9h0m0.9 1.2h0m0 12.9h0m4.7-6.2h0m-8-4.9h0m-0.3 12.5h0m1.7-5.8h0m-2.3 4h0m4-14.2h0m-9.2 4h0m15.2-1.8h0m1.5-3.3h0m-4.6 7.2h0m-8.3 8.9h0m5.4-9.4h0m0.9-2.2h0m6.7-1.7h0m-6.6-2.6h0m-7.3 22h0m-5.7-3.1h0m2.5 2.1h0m11.8-11.3h0m-14.9 3.9h0m14.9-11.7h0m0.4-4.8h0m-11.9 17.4h0m-6.1-2.3h0m23.2-7.5h0m-7.1 4.7h0m-3.6-2.6h0m-5.5 7.6h0m2.5 5.6h0m8-13.5h0m-2.1-1.8h0m2 5.7h0m-3.9 1.3h0m3.8 1.5h0m-6.2 1.6h0m3.1-5.3h0m-5.3 4h0m9.6-13.8h0m3.1 5.5h0m-12.2 8.5h0m3.3 3.9h0m-8.5-2.8h0m2.4-5.4h0m8.6-2.5h0m-4.4-1.1h0m-8.4 4.1h0m17.9-13.8h0m-1.9 16.5h0m-8.5-3.2h0m-0.1 9.5h0m1.8-5h0m5.5-13.2h0m5.4-3.9h0m-12.3 20.1h0m7.4-4.9h0m-5.6-0.8h0m-6.9-1.1h0m3.7-4h0m16.3-2h0m-15.2-1.9h0m-3.2 14.5h0m2.6-6.8h0m2.7 0.3h0m2.7 4.1h0m-14.4-6.6h0m14.6-9.4h0m-0.4 19.7h0m-3.8-11.5h0m-3.5 2.9h0m10.3-0.8h0m3.6-10.6h0m-10.5 20h0m-0.9-9.3h0m-8.4 11h0m2.7-11.4h0m14.5-3.4h0m-12.5 13.3h0m-4-1.4h0m15.7-8.7h0m-3.5 2.6h0m5-1h0m-21.7 8h0m23.6-4h0m0.8-15.5h0m-3.1 13.6h0m-6-9h0m5.3 14.7h0m-9.9-2.6h0m-3.6 0.5h0m12.6-10h0m-0.9-0.5h0m4.8 2.4h0m-12.1 2.1h0m5.4 4.2h0m-5.1 2.5h0m3.3-6.8h0m10-13h0m-4.1 15.3h0m-2.9 6.5h0m-7.2-8.7h0m-6.4 0.2h0m12.1 5.5h0m2.3 5.1h0m2.3-16.2h0m-10.7 9.2h0m8.4-6.2h0m-8.8 4h0m7.1-8.9h0m-11.3 8.8h0m11.4-2.4h0" stroke="#1a1a1a" stroke-width="0.75" stroke-linecap="square" stroke-opacity="0.85" fill="none"/>
<path d="M283.7 101.6h0m-13.6 1.4h0m8.3 5h0m-1.7-10.5h0m10.7-3.1h0m-22.4 16.9h0m-1.3-8.1h0m15.3 26.7h0m5.1-10.8h0m-13.1-17.6h0m0.4 1.9h0m-2.1 26h0m2.8-18.4h0m1.7-12.7h0m10.7-5.4h0m-3.9 11.6h0m-8.6 2.9h0m1.4 2.2h0m-4.6 2.9h0m14.1-11.6h0m-14.9 10.2h0m12.3 0.6h0m0.9-16.9h0m-7.7 9.2h0m14.8-10.9h0m-13 20.4h0m5.4-14.3h0m-6.5 8.7h0m15-7.6h0m-3.6-0.4h0m-15.2 1.4h0m4.6 7.1h0m-3.6-3.5h0m8.6-2.7h0m-12 5.4h0m-0.1 2.9h0m17.4 7.6h0m-10.5-11.1h0m0 15.5h0m-3.6-7.7h0m5.4-12h0m6.5-3.1h0m-15.9 6h0m1.8 3.8h0m11.3-19.9h0m-18.6 12.4h0m22.5 9.2h0m-10.6-8.5h0m-7.7-1h0m6.1 1h0m-3.9 12h0m7.3-3.9h0m1.5-2.1h0m-9.8 9.7h0m13.9-16.2h0m9.4-12.7h0m-24.7 24.1h0m11.9-8.4h0m0.6 4.5h0m4.2-5h0m-19.9 1.6h0m15.7-2.1h0m-7.5 14.6h0m5.6-15.7h0m5.1 15h0m-1.3-14.2h0m1.2 2.2h0m9.9-20.5h0m-27.8 23.2h0m3.2-3h0m7.6-7.9h0m10.3-2.5h0m-2 9h0m5.2-2.1h0m-3.4-1.1h0m-14.9 0.5h0m9.6 1.3h0m-18.9 10.7h0m3.4 5.2h0m7.4-9.8h0m7.4 2.3h0m3.5-8.4h0m0.8-0.9h0m-4.3 8.5h0m0 8.5h0m-0.9-19.6h0m-11.8 5h0m9.7 11.5h0m4.4-10h0m-8.2 5.3h0m7.6-18h0m2.1-3.3h0m-8 21.3h0m-3.7-0.4h0m-9.8-6.8h0m22.2-10.2h0m-3.7 0.6h0m-3.3 16.6h0m1.6-12.4h0m11.1-10.6h0m-6.6 15.9h0m-18 8.9h0m10.8 0.6h0m-9.3-4.4h0m6.9-2.9h0m-0.9 4.2h0m1.6 6.9h0m-6.7-7h0m7.2-4.7h0m-7.3 1.3h0m20 7.6h0m-17.8-5.2h0m-6.3 21.7h0m24.7-32h0m-16 20.3h0m4.8-7.3h0m-13.2 4.6h0m17-0.9h0m-7.2 0h0m2.6 1.3h0m2.8-15.9h0m-5.7 11.3h0m15.7-16.6h0m-19.9 6.6h0m13.3-4.4h0m-7.8 11.8h0m3.3-14.2h0m-10.4 18.9h0m23-24.4h0m-11.5 24.2h0m3.9-12.4h0m9.3-10.6h0m-12 22.3h0m-0.6-13.4h0m-12.5 12.5h0m-4.3 1.1h0m19.8-9.2h0m-1.1-0.6h0m5.4 2.2h0m-3.4-8.2h0m-12.7 4.3h0m9.9 6.4h0m6.2-12.7h0m-11.9 23.4h0m2.9-10.6h0m-7.5 7h0m1-5.9h0m18.5-14.6h0m-21.4 11.9h0m-2.8-3.9h0m20.9-2.2h0m-20.6 20h0m4.5-14.6h0m7.6 4.4h0m7.5-1.9h0m-9.5-12.5h0m6.7 12.9h0m-1.2-6.8h0m1.4 4.3h0m-4.6-5.3h0" stroke="#333" stroke-width="0.65" stroke-linecap="square" stroke-opacity="0.8" fill="none"/>
<path d="M264.1 107.6C264.1 106.4 264.9 105.2 265.8 104.2C266.6 103.2 267.9 102.5 269.2 101.7C270.4 100.9 271.9 100.4 273.3 99.7C274.7 99.0 276.3 98.2 277.5 97.5C278.8 96.9 279.9 96.2 280.9 95.9C281.9 95.5 283.1 94.9 283.4 95.5C283.8 96.0 283.3 97.7 283.0 99.2C282.8 100.6 282.3 102.5 281.8 104.2C281.3 105.9 280.7 107.9 280.0 109.3C279.3 110.7 278.6 111.8 277.5 112.7C276.4 113.5 274.7 114.1 273.3 114.3C271.9 114.5 270.4 114.3 269.2 113.9C267.9 113.5 266.6 112.8 265.8 111.8C264.9 110.7 264.1 108.9 264.1 107.6Z" fill="#000" filter="url(#b1)"/>
<path d="M208.1 208h0m-13.7 2h0m11.9-12.5h0m-17 16.9h0m-3.4 3.1h0m18.7-22.8h0m1.4 20.8h0m-10.2-8.3h0m-1.6-4.1h0m8.3-3h0m-2 12.1h0m-12.3 1.2h0m11.1-10h0m-15.4 15.6h0m16.4-2.3h0m-6-0.6h0m9.2-8.6h0m-6.5-2.3h0m-8.2 10.9h0m-3.4 0.3h0m12.7 1.6h0m1.3-3h0m-4.1-4.8h0m-0.5 0.8h0m6.1-5.1h0m2.3-1.7h0m-12.5 5.2h0m2.1 10h0m6.9-14.7h0m0.9 2.3h0m-4.7 14.6h0m-7.5-2.5h0m4.1 7.4h0m-2.6-14.3h0m1.1 2.2h0m10.2-1.1h0m-8.9-5.7h0m2 9.6h0m-8.8-0.3h0m7.1-9.9h0m10.8 2.9h0m-8.1 6.3h0m1.9-7.5h0m-0.9 11.4h0m4.5-14.3h0m2.1-8.9h0m-7.3 6h0m-6.9 11.6h0m12.3 2.1h0m-3.7-2.1h0m3.4-16.8h0m-1.7 6.3h0m-1.7 4.7h0m-11.1 17.3h0m7.4-5h0m-4.6-10h0m-0.6 6.3h0m11.6-12.2h0m4.3 2.5h0m-11.2 12.2h0m-8.3-4.4h0m2.3-1.1h0m-0.5 3.5h0m6.3-8.2h0m-7.3 6.9h0m15.1-6.8h0m3.4-7.3h0m-1.6-4.6h0m-3 21.1h0m-9.3 0.2h0m14.2-16.3h0m-8.6 9.7h0m-6.3 1.8h0m7.7-10.5h0m1.9 8.6h0m8.8-6.1h0m-19.2 4.1h0m-4 2.1h0m12.8 6.6h0m-0.4-0.1h0m-2.7-2h0m11.6-9.1h0m-12.4 4.2h0m6.1-7.6h0m-3.4-0.8h0m-10 9.9h0m9.7-7.4h0m-7.3 10.7h0m1.9 3.2h0m9.2-4.1h0m-16.3-1.9h0m9.8 4.9h0m14.7-20.1h0m-3.6 8.8h0m0.1-2.1h0m-11.9 11.7h0m11.6-7.6h0m-0.1-4.6h0m-2.2 7.8h0m2-6h0m-10.4 1h0m-7.7 5.4h0m3.5 5.9h0m5.2-5.6h0m-7 6.8h0m8.8-12.5h0m-2.2 4.2h0m-1.3 6.9h0m2.6-5.3h0m1.3-7.3h0m4.7 10h0m-17.3-3.7h0m2.6-9.4h0m8.9 9.4h0m0.6 7h0m3.9-9.4h0m-7 8.9h0m-4.2-1.4h0m16.5-15h0m-12.2 7h0m-3.8 4.4h0m5.6 4.5h0m-4.2-9.3h0m2-3.4h0m0.9 18h0m0.8-13h0m-4 0.1h0m2-2.1h0m-4.5 1.6h0m12.4-7.6h0m-1.7 6.3h0m-4.8-3.2h0m4.6 11.8h0m1.1-0.4h0m4.5-9h0m-2.2-12.3h0m-9.9 14.4h0m4.6 11.2h0m-5.3-8.9h0m-0.7-2.4h0m-6.6 4.7h0m22.9-7.3h0m-20-3.6h0m17.8 6.6h0m-1.1-1.2h0m-12.2 6.5h0m-5.5 4.8h0m15.7-4.5h0m-12.3-8.9h0m-0.6 12.9h0m-0.1-9.5h0m5.9 2.5h0m-6.9 4.8h0m8-10.7h0m4.5 9.6h0m1.1 4.6h0m-7.6-2.7h0m-8.9-1.9h0m7.4-11.5h0m8.7-2.4h0m-2.7 16.4h0m-3.8-6.6h0m-5.3-7.4h0m12.6 5.6h0m-2.6 2.9h0m3.4-5h0m0.5-2.5h0m-5.1-3.5h0m-2.5 4.4h0m3.3-5.1h0m4.5 7.9h0m-15.4 9.4h0m5-11.2h0m-1.3 1h0m1.3-0.4h0m-7.3 1.2h0m-0.2 0.2h0m13.6 7.5h0m-13.4-2.9h0m23.9-9h0m-10.7 1.4h0m-5.5 5.4h0m0.8-8.5h0m1.7 6.7h0m-3 14.5h0m6.3-16.9h0m-10.1 4.2h0m14.8-13.4h0m-19.2 18.4h0m10.9-8.2h0m6.9-5.9h0m-14.9 16.9h0m9.4-0.1h0m-7.9 2.4h0m10.7-10.8h0m5.2-15.4h0m-7 20.2h0m-9.1 8.9h0m1.8-15.9h0m8-8.7h0m4.3 2.7h0m-12.1 8.8h0m-0.4-1.3h0m13.6-6.7h0m-17.5 4.7h0m7.3 3.1h0m-5.3-1.3h0m2.5 2.2h0m8.6-2.4h0m-12.1 8.3h0m5.2-4.1h0m4.3-1.9h0m-1.6 3h0m7.8-18h0m-3.1 15.1h0m-2.9-4.7h0m-3.9-1.2h0m-6.1 12.7h0m4-3.1h0m-4-8.5h0m5.1-3.2h0m-2.1 5.3h0m8.5-9.1h0m-7 20.1h0m-6.4-1h0m17.8-9.4h0m-20.6-0.9h0m13.5 11.7h0m4.7-8.7h0m2.7-9.1h0m2.7 11.6h0m-12.6-10.4h0m-9.4 16.2h0m3.8-12.4h0m1.7 4.7h0m6.2-7h0m-0.6 13.4h0m-10.3 1.7h0m14.6-3.1h0m2.9-3.6h0m-2.6-12.9h0m-0.5 15.1h0m0.1 3.5h0m1-8h0m0.6-5.8h0m-5.9-1.5h0m5.1 9.8h0m-2.2-0.8h0m4.7 0.5h0m-0.2-6.7h0m-8.6 10.4h0m-5.4-2.1h0m15.5-8h0m-0.7-8.4h0m3.1 7.8h0m-5.1 4.6h0m-0.5 0.8h0m2.8-4.8h0m-13.7-0.7h0m12.3 6.1h0m-12.7 1.4h0m14.8-1h0m-15.6-3.3h0m13.3-6.9h0m3.2-1.7h0m-23.9 14h0m30.5-12.5h0m-11.2-3.5h0m-13.7 16.7h0m11.2-4.3h0m-2.2-8.6h0m-8.2-2.8h0m-1.7 15.2h0m14.7-12.3h0m-11.9 14.6h0m0.6-2h0m8.3-18.4h0m4.3 8.1h0m-10.1 6.7h0m1.3 3.2h0m-4.3 0.2h0m-2.6-6.3h0m5.9 2.4h0m1.6 2.4h0m5.9-7.5h0m3.8 7.7h0m-3.9 3h0m-7.1-13.1h0m9.8 0.1h0m-5-2.2h0m6.5-3.1h0m-12.5 15.7h0m-5.5 0.2h0m9.9-10.3h0m-0.6-2.9h0m-9.3 8.8h0m11.1-4.9h0m-11 2.9h0m21 5.3h0m-10.5 2.1h0m-0.7-13.8h0m-2.3 15.2h0m-4-8.2h0m0.8 4.5h0m-3.5 2.4h0m-1.1-6.5h0m15.4 2h0m1.6-12.7h0m-10.7 17.1h0m5.5-6.8h0m6.4-5.1h0m-17.7 6.4h0m10.9 4.8h0m-4.5-7.2h0m8.3 5h0m-13.6 7.7h0m6.8-17.9h0m7.3-1.1h0m-12.5 4.3h0m-3.2 13.6h0m17.6-13.2h0m-2.3 3.7h0m-10.9 9.5h0m3.1 1.3h0m-2-13.2h0m1 2h0m2.3 13.8h0m-9.9-12.1h0m17.3-0.9h0m-4.8 4.7h0m-12.5 3h0m17.7-10.1h0m-10.7-0.2h0m9.6-2.2h0m-13.1 10.1h0m8-13.4h0m-6.9 5.2h0m0.5-0.1h0m1.7 0h0m-4.6 4.6h0m8.7 1.4h0m-2.1-13.8h0m6.4 6.6h0m3.9 2.6h0m-0.4-5.5h0m-8.8 4.3h0m8.1-8.7h0m-6.4 19.1h0m-6.6 2.1h0m2-11.2h0m4 10.7h0m-0.1-0.3h0m-1.9-4.5h0m5.7-4.2h0m-10-2h0m-5.1 3.6h0m12.8-0.4h0m-8.8 6.1h0m11.6-7.4h0m-8.1 5.7h0m5.7-15.3h0m-0.3 8.5h0m-7.3 10.1h0m0.8-3.8h0m-8.9 2.2h0m17.8-13.9h0m6.2 4.6h0m-18.9 6.7h0m25.4-14.3h0m-9.6 3.9h0m-13.6 13.6h0m2.9-13.5h0m2.4 14.9h0m-0.2-3.3h0m-7.8-1.8h0m13 0.5h0m2.3-15.6h0m-5.3 18h0m0.4-18.8h0m2.2 12.9h0m-12.8 5.5h0m19.5-18.3h0m-10.3 4h0m-6.4 8.2h0m5.3 0.1h0m14.1-14.7h0m-15.5 17.4h0m0.4-7.5h0m7.9 11.1h0m-7.9-7.4h0m-4.7-3.6h0m0.6 1.4h0m18.6-9.1h0m-19.2 10.5h0m2.6-3.7h0m4.9 8.6h0m-0.8-1.4h0m5.2-13h0m3.6 8.9h0m-12.2 1.7h0m-9.3-1.4h0m6.2-1.5h0m13.5-2.7h0m-1 6.7h0m-10.7 9.5h0m-2.7 1.6h0m9.5-8.6h0m-7.7 7.6h0m10.5-21.9h0m1.9 4.4h0m-17.4 12.2h0m2.7-4.1h0m9.7-0.1h0m-1.8-5.6h0m0.6 6.8h0m-3.6-6.9h0m-2-0.3h0m1.2-1.5h0m-2.1 11h0m-2.5-1.7h0m5.9 2.3h0m10.6-5.1h0m-14.6-0.4h0m5.9-2.6h0m2-10.7h0m-1.7 8.4h0m0.8-1.4h0m-3.5 10h0m3.6-2.9h0m5.1-5h0m-14.4 7h0m8.2-8.9h0m-1.8-0.6h0m9.5-4.3h0m-3.3-1.6h0m-9.5 12.8h0m0.9 3h0m9.2-3.4h0m-1.7 4h0m-9.8 7.1h0m17-16.7h0m-18.5 4.3h0m4.1 4.4h0m-2.8 5.8h0m-2.2-0.4h0m5.6 3.2h0m3.7-19.2h0m0.8-1.3h0m4.3-3.2h0m-14 24.6h0m26.3-22.5h0m-21.5 21.3h0m-0.4-4.1h0m7.7-5.8h0m-3.6 7.5h0m5.6-1.4h0m1.9-11.2h0m-6.3-5h0m4.6 14.4h0m-6-4.8h0m-3.2-2.6h0m-0.7 8.6h0m-5.1-5.9h0m10.5-3.9h0m-10.6 4.3h0m13.1-2.1h0m-4.8 6h0m3.6-4.1h0m-6 1.7h0m-0.6-1.3h0m-3.5 1.2h0m4.2-3.5h0m8.4-5.3h0m-5 3.1h0m3.1-6.6h0m-6.5 5.5h0m-7.2 13.2h0m12.7-15.9h0m-8.1 14.7h0m2.1-16.9h0m-0.9 17h0m-1.2-5.5h0m11.5-10.9h0m-7.4 12.9h0m-6.4 2.3h0m6.4-3h0m8.1-13.4h0m-2.5 1.5h0m-2.9 12h0m-9.9-4.5h0m14.9-0.5h0m-4.1-2.5h0m-7 2.2h0m15.6-7.7h0m-10.4 2.9h0m7.2 10.6h0m-9.2 12.6h0m-7.6-10.4h0m12.9 6.2h0m-12.8-12.5h0m3.6 11h0m4.9-10.8h0m-9 2h0m14.5-1.1h0m-4.7-4.5h0m1.7-0.4h0m-9.9 8.3h0m0.1-1.3h0m17.2-15.1h0m2 0.1h0m-11.1 20.2h0m11.5-10.9h0m-3.7-7.2h0m-14.1 15.9h0m19.4-18.9h0m-11.5 13.3h0m1.2 7.7h0m-2.5-15.6h0m4.9-1.2h0m-10.7 13h0m10.6-9.2h0m-5.7-2.9h0m-3.7 8.2h0m-2.5 5.6h0m13-16h0m-8-1.4h0m-2.3 6.5h0m5.1 14.4h0m9.2-7.5h0m-15.7 1.8h0m10.3-1.8h0m-9.9-0.3h0m-4.1 3.8h0m11.6-6.7h0m-0.6-3h0m-11.1 3.2h0m10.9 6.9h0m2.8-9.8h0m-6.6-3.8h0m1.1 12.7h0m3.1-3.5h0m5.7-1.2h0m-19.3 2h0m19.9-2h0m-13.5 8.6h0m0-4.6h0m21.6-17.6h0m-9.3 0h0m6.3 5.1h0m-5.3 6.8h0m-7.2-7.5h0m-10.2 10.5h0m-1.2 0.8h0m18.2-14.8h0m1.2-0.2h0m-9.6 15.3h0m6.4 1h0m-3.8 6.7h0m-6.6-14.8h0m-2 3.9h0m14.3 1h0m-9.7 0.7h0m4.8-8.2h0m-0.2 4.3h0m0.5-1.9h0m3.5-8h0m-12.5 19.8h0m3.9-2.6h0m6.2-8.2h0m-8.9 8.1h0m-4.1-2.5h0m8-1.9h0m-0.5 10.3h0m-0.3-2.9h0m-5.1-4.6h0m3.3 8.1h0m16.5-26.1h0m-3.5 12.9h0m-8.1 5.3h0m2.7 3.7h0m-4.8-5.5h0m6.4-3.2h0m0.5-10.9h0m-14.1 12.6h0m9.8 0.4h0m-8.7 0.2h0m7.7 9.5h0m-1.8-10.4h0m9.1-2.4h0m-4.4-4.5h0m-7.1 12.9h0m0.6-8.6h0m9.9-6.1h0m-18.1 7.1h0m3.2 7.2h0m-3.3-7.5h0m15.8-9.2h0m4.4 6.5h0m-10.2 18.5h0m3.7-12.5h0m1 3.3h0m-1 0.2h0m2.6-10.3h0m1.4-0.2h0m-1.5 1.3h0m-0.3 7.8h0m-11.3-1.1h0m7.7-6h0m8.9 11.7h0m-9.6 1.1h0m-8.6-5.2h0m16-13h0m-13.6 17.4h0m15.5-10.6h0m-16.3 13.3h0m-2.4-7.7h0m18-16.8h0m-3.5 17.4h0m-9.3-9h0m8.5 8.4h0m-8.7-9.6h0m-0.2 6.6h0m1 5.4h0m4.9-2.7h0m8.4-1.1h0m-5.6-8.2h0m-6.7 11.9h0m8 1.4h0m-1.3-10.7h0m-6.2 8.7h0m-3.8-3.4h0m5 3.9h0m-2.2-6.6h0m-1.9 7.1h0m0.2-6.1h0m12.1-4.5h0m-13.2 3h0m-0.8 0.8h0m-2.8 8.8h0m8.4-5.1h0m-1.6 5.6h0m-2.5-2.3h0m-2 0.7h0m1-5.8h0m9.1 6.9h0m-3.2-7.9h0m2.3-1.3h0m-4.3 2.5h0m10.2 3.1h0m-13.3-2.1h0m11.5 0.9h0m-2-14.5h0m-9.3 11h0m-3.2 6.6h0m0.2-9.4h0m15.6-3h0m-1.1 0.8h0m0.3-0.5h0m-8.6 10.6h0m1.2-6.4h0m5.4-1.4h0m-8.7 3.8h0m6.4-8.5h0m4.2-0.9h0m-2.1 12.7h0m-3.8 0.5h0m-1.8-5.1h0m-6.9 12.2h0m-1.4-11.3h0m19-6.4h0m2.1-5.1h0m-15 11.4h0m0.4 7.2h0m-2.6-12.3h0m10.4 9.6h0m-14.5-0.3h0m14-12.9h0m-1.1 3h0m-13.4 2.6h0m21.7-4.2h0m-11.5-1h0m-7.1 21.5h0m17-22.4h0m-10.4 4.3h0m-9 8h0m16-10.3h0m-5 2.9h0m-6.7 9.6h0m1.8 3.1h0m0.9-6.9h0m-2.3 5.1h0m7.6 0.4h0m-11.2-2.5h0m-1.4 6.5h0m20.8-26.6h0m-2 3.6h0m-14 14.5h0m-1.6-3.4h0m7.7-5.7h0m-6.8 10.4h0m2.5 0.6h0m4.3-3.6h0m-2.9-4.7h0m12.6-5h0m-18 11.8h0m3.5 3.6h0m11-10.3h0m-0.4 5.9h0m-13.9-2.2h0m-1.2 6.7h0m7.8 5.1h0m-2.3-4.7h0m12.8-16.4h0m-15.2 6.3h0m11.7 7.9h0m-5.3-1.2h0m1.8-8.4h0m-6.9 3.6h0m12.5-11.3h0m-12.7 22.5h0m-5-12.9h0m11.1-6.9h0m-1.4 6.8h0m6.2 6h0m-11.8-10.7h0m-2 9.6h0m-0.6-1.1h0m7 0.1h0m0.1 0.3h0m-8.3 7.3h0m11.5-6.7h0m1.2-12.4h0m-9.6 5.8h0m14.4 3.4h0m-16.9 6.3h0m18.1-12h0m-12 8.8h0m-0.2 0.5h0m1.2-5.9h0m2.2 11.2h0m-8.5-12.3h0m16.1-4.9h0m-13.4 5.5h0m0 19.9h0m3.2-22h0m-7.3 22.1h0m10.2-9.9h0m7.5-16.8h0m-9.8 14.9h0m-2.4-5.2h0m10.6-4.5h0m0.5 8.7h0m-9.5 4.4h0m-5.1 8.3h0m13.5-15.9h0m6.8-12.6h0m-10.9 6.6h0m0.4 2.3h0m-2.1 10.2h0m8.8-17.8h0m-11.2 15.8h0m7.5-10.6h0m-11.5 4.5h0m1.7-4.7h0m-4.4 12.9h0m17.6-23.8h0m-8.1 19h0m-10.5-2.5h0m19.9-1.3h0m-18.3-4.2h0m5.2-3.4h0m-0.1 12.3h0m-0.7 1.9h0m4.3-15.1h0m7.5 7.9h0m-4.9-6.4h0m-3.3 10.4h0m-6.9-0.5h0m14.5-2.7h0m-7.9 6.2h0m-0.5-3.5h0m0.2 4.1h0m-2.1-2.1h0m8.1-4.2h0m-0.3 8h0m-19.1 0.8h0m14.4-14.6h0m-12 15.9h0m10.9 4.1h0m-3.4-18.2h0m7.5 2.2h0m3.6 1.3h0m-2.4-7.7h0m-4.9 1.5h0m-8.6 13.6h0m20-11.7h0m-7.2-2.2h0m-2.4 1h0m-4.5 4h0m5.3 1h0" stroke="#1a1a1a" stroke-width="0.75" stroke-linecap="square" stroke-opacity="0.85" fill="none"/>
<path d="M215.6 205.5h0m-7.1-0.4h0m-15.3 16.4h0m-0.7-0.5h0m2.3-15.8h0m-1.3-1.8h0m-1.6-0.3h0m-5.3 12.4h0m10.5 5.6h0m6-18.5h0m-2.8-0.4h0m-7.7 13.7h0m-1.3-5.1h0m13.7 1.8h0m6.3-3.7h0m-8.2 2.1h0m2 1.7h0m-7.3-9h0m-11.9 8.3h0m19.2 5.8h0m-2.6-18.8h0m-2.2 16.2h0m2.8-14.9h0m-13.6 10.9h0m1.7-3.8h0m13.5-12.3h0m3.5 10h0m-12.4 1.5h0m-0.8-1.3h0m3.8 16.7h0m-15.9-11.8h0m9.3 8.8h0m10.7-3.3h0m-12.8-6.6h0m21.3-15h0m-22.4 28.1h0m17.1-22.7h0m-10.6 15h0m-4.9-1.8h0m4.5 6.2h0m-12.5-9.2h0m9.7 5.9h0m-0.7 0.9h0m13.9-15h0m-9.6 5.7h0m-18.8-0.8h0m25.9 12h0m-5.7 0h0m-14.4 4.4h0m13.7-13.3h0m-5 2h0m8.3-10h0m-7 12.1h0m-1.2-0.4h0m0.1 13.2h0m4.1-11.1h0m5.7-4.9h0m-18 4.9h0m5.4 2.6h0m8.6 6.8h0m-13 10.7h0m2.9-14h0m15.1-21.3h0m-4.6 13.6h0m5.8-1.9h0m-1.9-2.3h0m8.2 1.1h0m-23.8 7.4h0m9.1 4.2h0m-6.6-6.8h0m-10.1 2.6h0m4.3-10.3h0m21.1-3.7h0m0.4 0.5h0m-15.3 0.7h0m10.1-13h0m7.3 1.1h0m3.1 11.8h0m-32.2 14.1h0m11.2-9.9h0m21.1 3.9h0m-1.1 9.1h0m-22.4-16.2h0m11-3.9h0m8.1 4.2h0m-1.7 8.1h0m-22.8-1.6h0m8.2 15.4h0m2-15.5h0m6.8-18.5h0m8.1 12.1h0m-3.4 7.7h0m-10-0.3h0m10.4-9.3h0m-7 13.5h0m3 0.6h0m1.7-9.8h0m0.6 9.1h0m-12-5h0m6.7-12.4h0m-3.8 22.4h0m4.1-15.5h0m2.3-3.2h0m0.4 2.6h0m-9.2 16.9h0m8.4-21.8h0m-0.1 8.2h0m0.9 6.6h0m-4.7-11.5h0m5 9.2h0m-6.3 7.6h0m-15.7-12.1h0m27 4.2h0m-7.6-3h0m-1.2-13.2h0m11.4 13h0m-20.3 10.9h0m6.4-10.1h0m-4.4 3.6h0m14.1 8.4h0m-10.2-13.7h0m0.1 2.6h0m11.9 4.9h0m-7.2 5.6h0m-1.5-14.6h0m13.8-2.2h0m-17.9 14.8h0m1.9-12.7h0m-12.2 10.8h0m21.8-3.7h0m-4.2-10.6h0m4.2 1.3h0m-4 22.8h0m-4-19.1h0m-4.3 11.5h0m-7 1.2h0m19.4-6.2h0m-14.7 7h0m21.6-20h0m-7.1 8.9h0m-16.8 8.7h0m6.2-4.7h0m-4.9-5.5h0m7.1 5.7h0m-3.3 8.6h0m10.5-4.5h0m5.5-21.8h0m-13.5 28.4h0m-0.1-23.2h0m3.7 8.6h0m-1.5 6h0m-1.8-12.3h0m-1.5 6.6h0m5.5 0.9h0m3.6-3.1h0m-13.7 16.6h0m11.3-14.5h0m-4-6.5h0m3.1 10h0m-16.1-0.4h0" stroke="#333" stroke-width="0.65" stroke-linecap="square" stroke-opacity="0.8" fill="none"/>
<path d="M185.8 215.9C185.9 214.5 186.7 212.2 187.5 210.8C188.4 209.4 189.6 208.4 190.8 207.4C192.1 206.4 193.6 205.7 195.0 204.9C196.4 204.1 198.0 202.9 199.3 202.4C200.5 201.8 201.7 201.3 202.6 201.6C203.4 201.9 204.2 202.9 204.3 204.1C204.5 205.4 203.9 207.4 203.5 209.1C203.0 210.7 202.6 212.6 201.8 214.1C201.0 215.7 199.7 217.3 198.4 218.4C197.1 219.5 195.6 220.6 194.2 220.9C192.8 221.2 191.3 220.8 190.1 220.4C188.8 220.1 187.4 219.5 186.7 218.8C186.0 218.0 185.7 217.2 185.8 215.9Z" fill="#000" filter="url(#b1)"/>
<path d="M269.7 205.4h0m14.5 2.8h0m-16.2-4h0m-3.1 9.1h0m3.2-10.2h0m-2.9 19.6h0m2.2 3.6h0m14.8-24.7h0m-1.7 13h0m-13.1 0.9h0m3.1-3.9h0m-2.1 19.1h0m8.4-23h0m1.7 5.3h0m-0.4 5h0m-14.6-0.2h0m20.8-9h0m1 1h0m-19.5 4.3h0m8.2 4.1h0m5.5 3.9h0m0.5-17.2h0m-7.5 7.6h0m-0.1-6.9h0m10.1 4.8h0m-2.6-10.5h0m-19.5 4h0m20.4 9.2h0m-7.8 22.6h0m-10.2-17.4h0m15.3-10.8h0m-11-2.4h0m9.4 5.8h0m-6.8-3.8h0m7.5 2.8h0m-4.4-9.1h0m8.8 2.4h0m0.2 2.2h0m-15.2 6.5h0m1-8.6h0m3 18.6h0m-6.6-12.6h0m17.3 9h0m-3.4-13.8h0m-13.1 18.3h0m10.8-24.8h0m3.6 11.1h0m-4.1 5.9h0m2-12.4h0m-1.2 22.9h0m-7.1-19.1h0m1.9 8.7h0m-7.2-7.1h0m7.2 1.4h0m1.3 2.3h0m5-5h0m-6.7-4.3h0m-1.5 6h0m12.6 3.1h0m-13.8 16.4h0m11.4-25.9h0m0 13.7h0m-6.3 12.5h0m2.6-27.9h0m1.7 20.1h0m1.8-17.6h0m-6.5 12.8h0m-4.4-6.7h0m7.4 15h0m-13.9-3.5h0m4.9-7h0m-0.7 5.1h0m18.1-11.2h0m-22 17h0m11.7-19.6h0m-2.4 1.5h0m0-5.9h0m1.6 22.7h0m5.4-7.5h0m-9.4 9.6h0m0.8-0.2h0m-3.1-19h0m4.9-0.7h0m-6.9 8.7h0m5.1-11.7h0m11 0.3h0m1.2 2.3h0m-10.6 2.2h0m-0.8-1.3h0m3.9 4.6h0m-2.5 16.7h0m-4.6-25.5h0m-3 19.3h0m-0.5 0.5h0m1.1-12.9h0m2.3 12.6h0m4.5 5.2h0m-1.9-8.5h0m10.9-17.6h0m-17.4 13h0m13.7-3.6h0m-4.6 4.2h0m-5.7-2.7h0m2.9 10.5h0m-6.8-13.1h0m5.4 0h0m-6.9 1.9h0m5.4-9.2h0m16.1 0.5h0m4.7-2.8h0m-12.8 10.3h0m-0.9 3.7h0m6-14.9h0m-12.3 19.7h0m10.5 5.2h0m-6.1 3.1h0m-8.6-11.7h0m7.9 10.5h0m-3.5-26.3h0m-5.4 12.7h0m14.7-6.4h0m-5.5 2.7h0m-3-1.4h0m-7.8 16.7h0m20.7-14.5h0m-4.1 7.2h0m-6-5.1h0m-3.6 5h0m-2.2 3.2h0m0 1.1h0m2.1-7h0m15.7-8.1h0m-4.4 20h0m-14.1-19.5h0m9.3 17.5h0m-12-12.8h0m20-4.7h0m-21.5 5.8h0m8.9 9.8h0m-3.1-14.3h0m-0.1 18h0m0.2-19.6h0m-2.3-0.6h0m0.1 10.1h0m12.8 4.6h0m-0.2 2.3h0m3.4-8.3h0m-13.8 3.1h0m3.7-2.9h0m8.1 6.6h0m-12.1-7.2h0m-2.3-7.4h0m0.1 20.6h0m9.1-23h0m-1.2 9.5h0m-5.7 10.8h0m8.7 0.5h0m-7.1 0.4h0m-1.2 0.3h0m-1.5-6.1h0m13.1 2.1h0m-5.2-2.6h0m-5.2-6.8h0m4.3 14.6h0m-6.5-8.5h0m10.2-15.7h0m-1.2 9.7h0m5-11.1h0m-9.9 25.3h0m2.3-15.3h0m-3.4 14.3h0m11.1-10.6h0m-9.9-15h0m8.6 7.8h0m-15.1 5.4h0m8-1.4h0m-1.1-2.8h0m1.5-2.8h0m-5.2 15.2h0m3.9 6.3h0m3-8.3h0m2.7-14.5h0m-8.7 6.9h0m1.2 5.5h0m14.1-5.6h0m-6.8 11.3h0m-5.3-13.8h0m12.6-3.9h0m-8.7 6.8h0m2.8-3.3h0m0.1-9.9h0m-4 20h0m-5.4 12.2h0m-2-15.4h0m5.1 8.7h0m-2.5-15.3h0m-6.6 10.1h0m11.6-8.3h0m-3 0.8h0m8.1-8.4h0m-2.5 12.6h0m-10.5-5.7h0m12.8 5.8h0m-8.9-11.3h0m-0.7 7.7h0m-3.9-1.4h0m-4.2 13.9h0m3.8-0.5h0m8.8-1.6h0m5.1-24.1h0m-16.6 25.6h0m10.4-18.2h0m13.1-4.2h0m-6.2 6.9h0m-11.5 18.6h0m-3.8-12.8h0m-0.8 7.7h0m15.4-1.6h0m-6.5-10.9h0m9.6-0.3h0m-6.7 4h0m5.5-6.3h0m-9.2 18.1h0m8.6-19.5h0m-12.1 9.9h0m3.4 13.8h0m-3-23h0m6.7-2.3h0m4.4 4.3h0m-10.2-3h0m8.9 11.2h0m-16.4-3h0m2.3 2h0m2.9-11.3h0m14 2.4h0m-12.3 14.3h0m-4.8-7.7h0m4.5-1.9h0m0.2 15.3h0m-4.7-17.9h0m11.2-1h0m2.4-8.7h0m3.3 7.7h0m-18.9 6.3h0m7.5-10.1h0m5.4 3.1h0m8.3-0.6h0m-6.5 17.5h0m-14.1-8.2h0m4.1 15.1h0m2.9-18.6h0m-2.6 15.2h0m10.8-25.2h0m-7 21.2h0m2-19.8h0m3.4 1.4h0m-10 4.2h0m-5.9-2.3h0m10.1-2.7h0m9.8 27.4h0m-11.1-5.6h0m-3.4 0.2h0m1 0.9h0m9.9-1.8h0m8.3-20.2h0m2.1-3.1h0m-5.4 11.3h0m-15.6 9.8h0m2.5-3.3h0m4 1.7h0m-6.4 4.8h0m2.4-17.4h0m3.2 2.4h0m11-2.7h0m-13.3 11.8h0m4-0.7h0m3.4-8.5h0m4.1-4h0m-6.4 18.2h0m6.4-4h0m-16.2 2.3h0m15.9-11.4h0m1.4-4.5h0m-12.4 10h0m0.2-6.6h0m10.7 4h0m-10.8-10.9h0m0.2 10.6h0m-0.3 12.3h0m17.3-4.5h0m-20-8.3h0m5.7 6.1h0m11.2-10.3h0m-1.2 1.8h0m-9.3-11.7h0m-2.4 8.6h0m9.9 10.5h0m-12.8 2.4h0m-3.6-5.4h0m18.9-8.9h0m-6.1 19.8h0m1-14.4h0m4.2-10.9h0m-1.8 1.9h0m-13.5 27.1h0m3.6-7.4h0m-8.4-15.3h0m2.6 19.8h0m3-13.1h0m-1.8-7.9h0m8.9 19.2h0m-6.4-10.9h0m1.6 7.5h0m11.8-20.2h0m-19.5 15.5h0m16.6-1.8h0m-13.7 0.2h0m7.2 5.3h0m5.4 2.8h0m5.7-12.5h0m-5.9 10.1h0m-6.9-1.8h0m1.7-2.1h0m-1.9 10.7h0m-1.5-20h0m6.4 8.2h0m-13.3-12.3h0m19.6 1h0m-10.7 0.1h0m-3.8 20.7h0m2.7-21.6h0m-6.6 8.7h0m4.1 12.1h0m0.9-18.1h0m8.9 14h0m0-16.4h0m-0.1 21.6h0m-9.3-5.6h0m6.8-21.6h0m-5.1 14.1h0m-5.5 7.9h0m13.1-3.6h0m-6.6 4.2h0m9.9-18.2h0m-7.1 9.8h0m-9.8-9.2h0m10.5 8.4h0m0.3 8.3h0m-7.5-15.4h0m3.5 18.2h0m-8-2.4h0m17.8-5h0m-1.5-1.6h0m-2-4.9h0m-10.8 19.4h0m0.2-2.2h0m-0.8-8.8h0m8.2 7.3h0m-9.8-21.7h0m5.2-3.5h0m-2.3 28.7h0m1.4-12.5h0m-5.4-6.1h0m3-4.9h0m10.2 1.7h0m5.2 7.7h0m-10.4 12.3h0m10.6-5.4h0m-20.2-12.9h0m9.6 0.7h0m-4.8 12.2h0m5.7-14.7h0m-6-1.9h0m4.8 16.9h0m-2.3 1.5h0m-4-14.9h0m4.7 5.8h0m5 0.9h0m-0.3-2.7h0m-7.9-3.4h0m-4.9 1h0m16.8 11.6h0m5.7-18.2h0m-17.9 6.3h0m5.5 0.7h0m5.3 12.9h0m-0.5-4.6h0m-7.8-10.9h0m-8.4 16.7h0m4.8 1.2h0m1.9-18.6h0m6.5 1.5h0m-4.1-3.3h0m16.4 7.4h0m-4.9 1.5h0m-0.2-13.9h0m-12.7 5.5h0m0.7 13.7h0m-1.1 4h0m1.6-9.3h0m19.2-7.4h0m-15.8 24.9h0m-6.2-20.7h0m13.5 5.1h0m-12.6-5.8h0m5.6 1.2h0m2.8-4.4h0m8.4 5h0m-4.5 10.7h0m-6.2 2.2h0m-1.5-15.6h0m1.3 6.1h0m-3.7-8.7h0m0.9 13.4h0m12.5-17.6h0m-15 3.3h0m2.6 19h0m-4.4-7.9h0m10.3 7.9h0m-6.7-9.5h0m-1.8 1.6h0m9.9-12.9h0m4.1 10.9h0m-0.8-5.6h0m-15 11.4h0m12-9.7h0m1.3-3h0m-8 2.2h0m-7.4 5.5h0m16.8 6.4h0m-13-15.6h0m0.2-2.1h0m4.1 21.8h0m1.5-15h0m-10.5 20.4h0m5.8-5.7h0m3.5-3.8h0m-4 2.2h0m2.2-7h0m5.2 1.1h0m-1-20.4h0m2.3 6.8h0m-6.3-5.1h0m-1.3 7.3h0m5.9 11.6h0m-0.7 2.2h0m-1.5 5.5h0m12.3-27.6h0m-19 26h0m0.8-6.9h0m-0.1 8h0m2.3-15.5h0m-1.1-11.1h0m0.1 2.4h0m10.4 13.6h0m-0.1-12.6h0m-6.6 21.4h0m10.4-20.5h0m-1 17.9h0m-11.1 5.7h0m4.6-7.9h0m3.2 5.5h0m-3.5-14.3h0m1.7 13.9h0m-12 8.9h0m16.5-24h0m-6.9 4.4h0m8.1-3.5h0m-5.8-7.6h0m-11.7 19.7h0m0.9-7.5h0m10.3 0.6h0m-1.8 4h0m7.7-2.6h0m-11.7-10.7h0m-2 2.2h0m0 12.4h0m-0.2 14.1h0m-5-11.3h0m2.9-17.6h0m0.9 6.9h0m18.8-5.6h0m-16 18.3h0m0-22.2h0m23.9 1.5h0m-17.7 19.7h0m-5-10.3h0m9.4-6.9h0m1.5-4.4h0m-18 8.7h0m2.9 19.2h0m-1.2-8h0m16.4-13.8h0m-10.7-5.4h0m13.1 5.9h0m-12 16.7h0m9-24.9h0m1.8 9.1h0m-20.1 2.5h0m6.4 11.6h0m5.2-15.3h0m-10.8-1.4h0m9 11.2h0m-1.9-14.2h0m6.6 8h0m9.6 9.1h0m-10.1-3h0m-9.5-4.7h0m8.6 16.2h0m-4.2-14.8h0m6.8-7.6h0m-12.1 7.3h0m12.2 8.6h0m-10.3-14.3h0m7.7-1.4h0m-11.1 12.7h0m17.8-2.5h0m-18.8 2h0m9.3 11.3h0m4.3-31.7h0m-8.6 6.1h0m-1.6 23.7h0m2.2-11.9h0m-3.1 0.3h0m18.2-6.9h0m-5.9-0.6h0m3.6 3h0m-16.2 1.6h0m2.9 0.2h0m1-9.4h0m3.6-2.4h0m2.7 11.8h0m9.2-16.9h0m-17.8 22.7h0m10.9 3.6h0m-0.2-13.3h0m-1.2-12.5h0m1.4 9.1h0m-4.9-6.5h0m-10 13.8h0m11.4-11.4h0m-1.4 7.3h0m0.5-7.2h0m1.7 5.4h0m-5.3 8.3h0m9.5 5.3h0m-2.2-4.6h0m-4.1 1h0m15-17.9h0m-19.3 24.4h0m4.1-22.3h0m1.7 8.8h0m-1.8-7.1h0m7.9 10.8h0m-12.2-9.6h0m5.1 11.6h0m-2.3-16.3h0m6.8 20.4h0m-11.8-9.6h0m12.4-7.8h0m-9.8 14.5h0m5 3.2h0m4.5-4.1h0m-11.5-4.2h0m-2.3 1.4h0m10.9 7.5h0m-11.1-14.7h0m2.7 10.7h0m4.7-4.6h0m2.4 12.8h0m3.6-27.6h0m1.5 20.2h0m-5.8-10.1h0m-5.2 11.3h0m10.4-17.1h0m-4.6 1.4h0m3.8-1.8h0m-15.6 17.2h0m13.2-11.7h0m-2.5-2.3h0m11 15h0m-13.4 7.1h0m5-3.5h0m-5-1.4h0m10.6-10.2h0m-9.2-2.5h0m-5.5 12.5h0m2.7 2.4h0m11.2-15.8h0m-6.5 7.5h0m-6.8-10.1h0m5.7 8.6h0m-3-0.5h0m-8.1-7.3h0m15.8 8.1h0m-8.4-8.8h0m-0.4 6.6h0m12.7-9h0m-4.8 11.1h0m-6.7-6.1h0m9.5-9.1h0m0.2 8.3h0m-12.9 13h0m8.2 6.2h0m10.6-25.2h0m-22.8 13.1h0m11.2-13.5h0m-10.7 4.2h0m2.3 6.3h0m-0.1-0.7h0m8.8-2.2h0m-7.4-9.9h0m7.3 13.6h0m-6.4-10.1h0m-4.3 14h0m9.3-14.4h0m5.2 19h0m-8.9-15.5h0m-6.5-1.3h0m15.4 16.2h0m8.7-20.5h0m-13.7 5.1h0m4.5-7.5h0m4.1 4.8h0m-5.8 23.1h0m1.2-2.4h0m2.7-19.2h0m-13.3 4.3h0m4.6 6h0m12.4-11.7h0m-9.8 25h0m-2.8-23h0m4.2-0.6h0m-1.6 10.8h0m8.4-6.3h0m-9.7-4.7h0m-4.9 25.2h0m18.7-25.5h0m-6.8 14h0m-13.5-7.3h0m-0.2 13.2h0m11.6-5.8h0m-9.2-3.7h0m6.8-1.6h0m3.1-6.1h0m1.2-6.3h0m-4.3 12.4h0m-7.8-6.1h0m6.2 2.5h0m7.9 12.5h0m-5.8 3.3h0m5-12.2h0m-4.8-1.6h0m-5.4 18h0m2.4-12.3h0m1.4-5.9h0m-9.9-2.5h0m-1.9 12.2h0m5.5-11.2h0m-3.3 0h0m14.1 9.6h0m0.8-12.8h0m-0.1 11.8h0m-7-15.8h0m-8.9 20h0m11.5-24h0m-12.6 11.1h0m16.5 3.1h0m-8.8-0.7h0m6.8 3.6h0m6.4-8.1h0m-14.1 8.2h0m1.1-4.1h0m8.4-10.4h0m-5.2 16.2h0m4.4-10.8h0m-7.3 20.7h0m9.7-22.5h0m-13.8 3.5h0m8.8 11h0m0.3-7.8h0m12.2 6.5h0m-24.6-5.6h0m15.5-15.6h0m-13.2 29.2h0m11.9-5.3h0m-1-0.9h0m3.3-10.7h0m-1.8-10.3h0m2.2 22.1h0m-11.9-3.3h0m4.6-12h0m5.2 9.6h0m-14.3-2.4h0m14-8.6h0m0.2 22.2h0m5.3-18.9h0m-14.8 8h0m-0.3-5.4h0m-3.3 9.4h0m9.2-3.8h0m9.4-17.9h0m-19 16.1h0m7.6 11.7h0m0.3-18h0m0.1 12.2h0m6.6 2.3h0m-3.4-2.9h0m-1 6.4h0m10.7-22.8h0m-13.6 26.7h0m-0.7-18.6h0m-3.4 12.4h0m11.6-5.1h0m-10.6-3.7h0m-4.2 5.5h0m4.3 3.1h0m-5.6-12.1h0m15.2 8.7h0m1.9-3.8h0m1.9-6.4h0m-3.8-1.8h0m-9.4 16.2h0m-2.6-5.1h0m1.3-14.8h0m6.1 30.9h0m-8.4-28.5h0m17.5 10.3h0m0.1-15.9h0m-4.8 22.7h0m-12.4-3.3h0m5.2-7.1h0m7.1-5.1h0m1.8 7.8h0m-11.3-14.6h0m14.2 6.3h0m-2.2 7.2h0m7.3-11h0m-4.3 8.7h0m-10.2-4.3h0m-4.6 21.4h0m-6.6-16.7h0m-0.7 0.3h0m12.9 2.4h0m4.1-13.4h0m0.8 4.8h0m-16.8 15.7h0m6.5-13.7h0m10.3 9.5h0m-11.3 4.4h0m14.8-15.7h0m-14.4 18.8h0m-0.5-19.7h0m8.5 13h0m-3-13.5h0m-2.7 6.6h0m-0.3 14.9h0m-7.2-7.4h0m15.2-0.7h0m-0.6 5.1h0m-8-1.7h0m0.2-18.7h0m1.6 14.8h0m-5.2-0.8h0m-0.5-10.7h0m17 4.8h0m-13.9 5.8h0m10.6 4.5h0m-8.7-15.2h0m11 10.4h0m-1.4 4.9h0m1.3-12.8h0m-19.1 10h0m2.4-8h0m-2.6-4.6h0m5.6 1.2h0m5-2.5h0m-5.1 8.5h0m1.4-5.9h0m-0.6 8.5h0m10.8-10.9h0m-4 13.3h0m8.4-6.5h0m-2.3-10.2h0m-11 27.2h0m-5.7-10h0m-2.2-7.6h0m15.8-6.3h0m-6.8 20.7h0m0-20.4h0m-6.1 2.8h0m17.3-3h0m-5.9 1h0m-8.3 11.3h0m4.2 5.6h0m3.3-6.8h0m-1.2-10.5h0m-8 16.8h0m18.9-24.2h0m-9.4 8.4h0" stroke="#1a1a1a" stroke-width="0.75" stroke-linecap="square" stroke-opacity="0.85" fill="none"/>
<path d="M260.4 215.3h0m6.9-6.3h0m21.3-17.5h0m-7.5 22.8h0m-5.6-5h0m-13.8 16.3h0m7.7-0.3h0m10.5-32.2h0m2 26.1h0m-18.9-17h0m4.3 14h0m-3.4-7.7h0m13.5-22.3h0m-13.8 32.9h0m21.1-13.9h0m-7.9 14.5h0m-14.6-11.8h0m2.8 17.6h0m9.9-18.8h0m-8.4 21.1h0m-7.9-22.6h0m14.6 5.2h0m13.4-1.8h0m-19.6 20.8h0m3.7 6h0m6.8-28.3h0m-12.2 9.6h0m14.2-4.7h0m-13.3-8.4h0m6-3.4h0m7.6 13.8h0m-1-8.8h0m2.5-11.3h0m-7.7 17.1h0m-6.8 1.2h0m8.7-13h0m4 3.5h0m-17.6 25.3h0m2.3 4.8h0m13.6-9.2h0m-2.7-8h0m6.1-8.5h0m-11.2 15.1h0m-8.6-5.6h0m13.6-1.4h0m-15.5-10.3h0m3.4 2h0m21.1-7.6h0m-1.2-1.8h0m-2.7 15.2h0m-8.1-18.3h0m-2.1 5.3h0m-7.6 10.9h0m13.4 26.4h0m-2.3-21.7h0m-8.8-3.5h0m11.3-18.3h0m-10.7 15.3h0m2.1 22.2h0m7-27.4h0m-11.4 26.3h0m10-24.9h0m8.4-5.7h0m-1 24.2h0m-3.1-37.3h0m0.7 31.5h0m8.1-7.4h0m-8.5 13.7h0m-4.3-3.4h0m-2.5-22.7h0m6.2 25.1h0m-16.9-4.4h0m12.1 8.8h0m4.2-28.4h0m13.1 8.7h0m-15.9 13.3h0m-5.8-16.8h0m4.3 17h0m-0.6-17.4h0m6.4 8.6h0m1.1-12.7h0m-15.4 15.5h0m8.9-2.4h0m-3.7-0.4h0m11.4 23.9h0m0.8-1.3h0m-10.8-35.6h0m-7.8 27.9h0m20.9-9.9h0m-14.6-11.9h0m14.1-0.2h0m-10.6-4.2h0m-2.3 19h0m13.4-21.1h0m-20.1 10.7h0m7.4-11.2h0m6.2 7.9h0m-2.1 17.1h0m-2.4 0.8h0m13.6-14.6h0m-20.6-22.8h0m9.2 25.3h0m-9.4 0.2h0m6.2 11.1h0m2.2-27.5h0m-5 6.7h0m7.2 8.3h0m3.7-5.2h0m-5.3 3.9h0m9.3 5.1h0m-15.4-14.2h0m0.1 7h0m1.7-6h0m1.7 5.8h0m0.3 22.9h0m-6.3-25.4h0m18.5-1.3h0m-18.3-3.6h0m13.3 1.1h0m1.4-8.1h0m10.9-15.8h0m-13.7 46.2h0m-16.9-5.3h0m0.5-6.4h0m14-12.6h0m-3.1 21.6h0m-2.7-7.3h0m3.3-9.8h0m1.1 11h0m2.5 6.9h0m0 8.1h0m11.3-50.7h0m-2.5 25.5h0m-23.3 12h0m16.1 4.1h0m-12.3 3.3h0m-2.4-3h0m7.7-28.7h0m6.7 12h0m-1.6 18.5h0m-15.9-23.1h0m18.4 13.4h0m-10.5-5.3h0m-3.5 17.2h0m7-27.3h0m-6.9 14.7h0m19.3-19.7h0m0.7 22.2h0m-21.7 0h0m19.5-10.9h0m-2.9 17.1h0m-6.2-18.7h0m-0.8 10.6h0m5.8 2.5h0m-5.5-17.9h0m-8.2 17.9h0m7.6 0.9h0m-4.8 14.7h0m23.2-31.5h0m-12.4 3h0" stroke="#333" stroke-width="0.65" stroke-linecap="square" stroke-opacity="0.8" fill="none"/>
<path d="M262.8 210.7C263.0 208.6 263.4 207.4 264.4 206.0C265.5 204.5 267.3 202.9 269.2 202.0C271.0 201.1 273.6 200.6 275.5 200.5C277.3 200.3 279.3 200.0 280.2 201.2C281.2 202.4 281.2 205.3 281.1 207.6C281.0 210.0 280.3 213.1 279.5 215.5C278.7 217.9 277.7 220.3 276.4 221.9C275.0 223.5 273.2 224.7 271.5 225.1C269.8 225.5 267.4 225.3 266.0 224.2C264.6 223.2 263.7 220.9 263.2 218.7C262.6 216.4 262.6 212.9 262.8 210.7Z" fill="#000" filter="url(#b1)"/>
<path d="M306.5 193h0m5.7 1.2h0m1.7-3.7h0m1.4-5.1h0m-4.2-0.5h0m2.3 10.2h0m7.9-8.5h0m-13.3 7.8h0m-2.9 6.1h0m9.2-4.8h0m-6.3-5.8h0m6.6-6.6h0m1.1 7.7h0m5-3.6h0m6.7-3.4h0m-7.5 0.9h0m-9.8 5.3h0m19-12.1h0m-14.1 6.9h0m14.3-0.8h0m-19.7 6.9h0m-0.1-3.5h0m2.8 14.9h0m-4.6-11.5h0m7.4-7.7h0m1.8 15.1h0m17.5-20.1h0m-12.2 5.7h0m-11.1 16.6h0m-8.1-8.5h0m20.6-3.5h0m-20.4 6.3h0m14-13.3h0m-0.9 10.6h0m-14.9 1.1h0m3 2.7h0m-4.2-1.1h0m11.4 0.6h0m11.5-9.6h0m-7.8-1.3h0m4.3-1.9h0m-8.4 3.9h0m7.1-2.1h0m-22.6 16.1h0m17.7-17.2h0m0.3 8.1h0m8.1-7.7h0m-4.8-1.9h0m0.4 5.6h0m14.6-13.6h0m-34.5 28.8h0m5.8-6.6h0m9.2-0.5h0m-2.8-4.8h0m8.7 0.8h0m-1.1-5.4h0m8.2-5.5h0m-3.8 6.1h0m-17.2 9.8h0m29.2-20.2h0m-17.5 7.5h0m-8.9 11h0m-7.5 1.9h0m15.3-1.8h0m-2.4-3.9h0m-4.7 1.5h0m14.9-9.6h0m-20.7 8.5h0m9.9 2.2h0m9.3-4h0m-12.8 9.1h0m6.2-8.1h0m4.7-9.6h0m-11 14h0m15.4-7.6h0m-15.4 1.9h0m7.8 8.6h0m7.8-19.2h0m-2.2 3.1h0m-6.5 14h0m-7.7 1h0m1.1-3.8h0m-5.1 7.3h0m17.1-17.9h0m-14.7 16.2h0m7.8-6.7h0m-7.5 6.2h0m21.8-21.1h0m-18.8 8.8h0m-1.3 3.1h0m11.6-3.8h0m-7.6 9.9h0m7.2-4.2h0m3-2.5h0m-21.5 11.3h0m10.4-6.8h0m7.9-0.9h0m13.9-10.6h0m-25.8 11.1h0m-7.7 6.9h0m-2.8-3.9h0m28.7-18.8h0m-1.7 6.1h0m-0.8 1.9h0m-7.9-0.8h0m15.1-6.3h0m-17.7 7.2h0m-3.9 8.2h0m-8.4 1.4h0m4.1-1.2h0m6-2.4h0m8.9-2.2h0m-22.6 9.2h0m25.2-11.4h0m2.7 5.4h0m2.6-4.5h0m0.8-7.9h0m-1.8 10h0m-19.8 6.7h0m9.2-12h0m-2.8 6.3h0m16.9-5.3h0m-1.4 1.9h0m-7.2 5.6h0m3.8-5.7h0m6.7-7.6h0m-24.8 18.9h0m3.7-10.1h0m5.5 9.9h0m-10.8-1.3h0m-7.7 0.6h0m30.3-16.7h0m-12.2 2.4h0m-4.3 15.5h0m3.5-6h0m-6.4 0.4h0m13.9-10.6h0m-9.3 15h0m-5.6-6.6h0m-10 8.5h0m11.4-5.2h0m10.8-9.3h0m-4.7 7.9h0m-5.9 5.7h0m4.9-13.3h0m-14.5 10h0m6.4 2h0m15.9-8h0m-2.8-1.1h0m-7.7-1.1h0m11.4-8h0m5 8.7h0m-29.3 8.9h0m18.7-5.8h0m3.5-3.7h0m-9.3-1.5h0m6.8 5.7h0m12.3-13h0m-3.1 8.3h0m-24.5 11h0m2.7-4.8h0m12.1-5.9h0m-9.9 7.8h0m7.4 2.6h0m0-13.8h0m-5.8 9.9h0m-8.1 6h0m16-3.7h0m1-12.3h0m-12 9.5h0m4.8-2.3h0m7-9.3h0m12.9-4.5h0m-3.3 2.7h0m-2.8 10.8h0m-18.3 7.2h0m24.2-16.2h0m-18.5 3.4h0m5.7 8.9h0m-7.9-2.7h0m0.9-1.3h0m14.7-5.9h0m-5 1.7h0m-5.9 15.4h0m-3.9-10.3h0m5.7-3.3h0m-9.5 4.4h0m-0.9 5h0m18.6-16.3h0m-14.4 8.9h0m14.4 0.2h0m0.1-10.5h0m1.5 0.2h0m-6.6 5.7h0m-7.8 13.8h0m7.3-20.5h0m-8.5 22h0m10.6-14.4h0m2.4-0.7h0m-5.3 9.4h0m-2-1.9h0m8.7-3.5h0m-8.9 2.2h0m-2.4 1.2h0m8.6-7.1h0m-12.3 10.5h0m19.2-19h0m-27.4 19.6h0m10.6-3.8h0m-5.4-1.9h0m11.1 1.4h0m-14.6-1.6h0m13.6 5.9h0m-2.3 3.7h0m-4.7-13h0m16.4-6.2h0m-1.8 4.7h0m-0.9 2.5h0m-6.4 2.9h0m-5.9-0.1h0m6.7-0.7h0m-6.7 12.2h0m-15.7 0h0m18.9-19.5h0m7.2 4.8h0m-11.9 11.1h0m-5.1-1.8h0m-4.7-1.5h0m7.3-7.3h0m8.2 3.7h0m7.1-4h0m-10.3 4.7h0m12.9-11.6h0m-21.3 13.5h0m-1.2 2.2h0m24.4-9.9h0m-11.3 3.6h0m-3.3-0.8h0m2.8-3.7h0m-3.3 5.7h0m12.6-3.5h0m-32.2 15.5h0m24.5-20.6h0m7.3 0.7h0m1.9-0.7h0m-4.7 10.2h0m1.9-1.9h0m-10.6-1.6h0m-5.7 4h0m-10.8 6.7h0m26.2-19.3h0m-1.1 6.7h0m-10.5 1.2h0m11.2 3.2h0m5.4-6h0m-19.5 3.1h0m24.7-7.6h0m-19.2 16.9h0m10.5-17.9h0m-17.3 8.2h0m19.2-7.3h0m-21.5 11.7h0m12.8 5.5h0m-1-17.9h0m-11.2 14.7h0m16.7-11.4h0m7-0.9h0m-17.2 4.6h0m10.2-0.4h0m10.6-9.2h0m-15.2 16.5h0m-17.2-0.5h0m8.8 2.3h0m-8.6 1.5h0m12.8-13.5h0m5.7 12.8h0m-8.8-8.3h0m-8.7 13.8h0m4.1-2.9h0m19.2-22h0m-3.4 4.5h0m-10.9 14.1h0m9.3-3.5h0m-11.2-3.7h0m16.2-0.6h0m-2.4-1.3h0m-6.5 1.1h0m-8.6 2.1h0m21.4-10.8h0m-24.9 19.6h0m24.7-17.8h0m-24 10.9h0m19.1-9.5h0m1.8-4.1h0m-4 11.4h0m-3.1-8.5h0m-15.5 19.5h0m18.9-21.2h0m-15.4 16.3h0m5.1 0.5h0m5-10.8h0m0.8-1.6h0m-8.4 5.9h0m-2.3 5.7h0m2.6 1.4h0m18.7-14h0m-2.7 5.1h0m-15.2 0.2h0m3.1-4h0m9.4 0.7h0m-7.4 7.5h0m-3.2 4.2h0m17-11.3h0m-23.4 8.3h0m11.2-11.5h0m12.7-0.6h0m2 1.2h0m-10.3 3.2h0m-10.6 3.3h0m14.1 0.1h0m-10.4-2.1h0m-6.5 3.9h0m-4.4 4.6h0m14.1-9h0m-10.1 7.9h0m-4.4 2.6h0m13.3-1.3h0m1.3-12.5h0m4.2-1.7h0m-5.1 4.7h0m-4.8 6.3h0m12.2-13.2h0m-4.4 1.1h0m6.8 3.9h0m0-3.1h0m-0.1 3.6h0m-14 1.3h0m6.1 4.1h0m2.1 3.4h0m-20.5-1.3h0m6.4 5.5h0m0.3 7.8h0m20.4-25.4h0m-23.8 14.4h0m5.6 4.1h0m16.4-14.5h0m-2.3 5.3h0m-16.6 8h0m0.7-1.2h0m0.2-1.1h0m12.1-14.5h0m-11.2 6.7h0m7.3 11.5h0m1.4-8.2h0m-5 4.7h0m0.8-9.7h0m-10 11.9h0m17.3-14.2h0m-4.2 8.7h0m-8.9 5.6h0m-3.2 2.8h0m15.7-11.6h0m-25 3.9h0m22.2 1.5h0m-15.3-1.2h0m8.9 3.3h0m7.1-5.5h0m2.8-9.3h0m-1.4 5.6h0m-2.7 10.3h0m-17.6-1.3h0m15.1-11.8h0m-5.4 4.5h0m12.5 4.6h0m2.3-13.9h0m-8.1 3.3h0m13.1-2.2h0m-14.2 5.1h0m-5.9 6.8h0m-2.6 1h0m19.4-5.9h0m-2.1-5.7h0m-7 12.1h0m-3.3-8.4h0m15.1-2.7h0m-26.5 17.9h0m5.2-10.6h0m20.8-11.6h0m-19.4 15.5h0m19-12.6h0m-4.6-6.3h0m-20.2 20.6h0m24.8-15.3h0m-1.1-1.7h0m2.9 4.3h0m-16.9 7.4h0m13.7-9.2h0m-20.2 10h0m0.5 5.6h0m24-18.4h0m-19.6 18.7h0m-1.1-8.6h0m5.8-3.8h0m-15.1 7.6h0m20-0.9h0m-20.3 9.6h0m14.6-7.1h0m13.5-12.5h0m-29.6 15h0m22-11.4h0m-7.7 2.7h0m11.6-3.5h0m-7.8 9.9h0m3.7-7.5h0m0-5.8h0m-0.8 5.9h0m5.8-11.7h0m-12.7 19.8h0m0.8 0h0m7.7-9.3h0m-2.5 5.2h0m0.2 2.2h0m-1-4.8h0m6.9 3.7h0m-2.5-0.3h0m-3.2 2.7h0m2.9-12.3h0m-12 7h0m23.3-6.2h0m-12.3-3.8h0m4.2 9.2h0m-7.6-5.5h0m8.1 1.1h0m-9.8 1h0m-4.4 11.5h0m8.7-4.7h0m-12.5 3.5h0m19.5-9.7h0m1.7-2.7h0m-16.3 13.2h0m-7.2 2.8h0m23.2-21h0m-16.4 8.2h0m3.3 9.7h0m2.4-10h0m-11.6 12.3h0m23.3-21.2h0m-5.1 11.7h0m-15.9 8.2h0m21.2-16.7h0m-10.2 14.3h0m-0.1 1.9h0m6-11.2h0m-28.1 15.2h0m16.8-16.5h0m8.8 6.6h0m-13.9 6.8h0m15.6-6.3h0m1.1-2h0m-23.4 6.9h0m6.9-0.4h0m-5.3-2.1h0m18.9-9h0m-17.8 9.5h0m14.6-4.5h0m-12.2 0.7h0m7.9 4.9h0m-6.9 1.9h0m-9.3 0.9h0m30-18.6h0m-20.9 15.9h0m-0.8-7.4h0m4.6 0.2h0m-12.2 11.3h0m12.7-7.8h0m5.6 4.3h0m11.1-10h0m-27.7 9.6h0m12.7-6.1h0m5.3-8.3h0m-17.4 16h0m2.8 3.2h0m4.7-1.5h0m0-10.1h0m5.1-1.7h0m-3.4 0.2h0m7.3-3.7h0m3.1 1.4h0m4.5 2h0m1.7-8.3h0m0.6 6.8h0m-15.4 12.3h0m-11.5-1.9h0m2.7 1.4h0m-2.3-5.8h0m19.7-1.7h0m-3.2-6.9h0m3.4 3h0m-4.4 0.1h0m0.8-1.5h0m-8.5 10.1h0m-8.8 1.4h0m18.7-12.5h0m-19.8 12.6h0m15.2-10.8h0m3.3 2.1h0m-13.6 4.9h0m22-10.5h0m-13 14.5h0m19.7-15.4h0m-32.3 16.3h0m20.3-6.5h0m-15.7 4.8h0m-5.4 3.7h0m30.7-20.9h0m-5.6 11.7h0m-5.9 6.7h0m11.9-20.4h0m-14.4 14h0m0.3 3.4h0m-6.9-3.2h0m12.1-5.7h0m-2.2-2.7h0m5.9 1h0m-17.3 12.8h0m6.1-6.9h0m2-1.2h0m5.4-1.3h0m-9.4 6.7h0m-1.5-8.5h0m-1 10.8h0m2.3-4.9h0m-3.5 1.2h0m-0.8 6h0m9.8-14.3h0m6.8 5.7h0m-10.7-2.2h0m4.2 0h0m-12.3 2.5h0m14.3 0.7h0m-18.5 3.5h0m14.6-6.7h0m-11.7 8.4h0m7.9-1.2h0m6.4-11.8h0m-7.8 7.3h0m1.7-1.6h0m6.1 4.2h0m2.5-6.2h0m-2 9.7h0m10.5-7.7h0m-18.8 10h0m1.9-4.2h0m-5.4 0.6h0m15.5-6.2h0m8.8-10.3h0m-22.2 11.3h0m1.4-0.9h0m12.4-4h0m-17.3 10.1h0m6.3 3.2h0m1.1-8.7h0m-11.7 10h0m13.5-14.1h0m-2.8 1.2h0m9.4 7.4h0m1 1.5h0m7.1-10.3h0m-22.4 8.1h0m24.1-17h0m-26.2 21.6h0m18.8-7h0m-22.9 6.1h0m11.5-1.1h0m16.2-11.8h0m-17.1 4.1h0m16.3-10.1h0m-21.3 16.7h0m12-5.1h0m-3.3 4.3h0m0.5-3.8h0m-0.3-3h0m3.3 0.6h0m2-5.9h0m-9.5 8.7h0m0.8-4.2h0m4.5 6.1h0m-9.7 4.6h0m11.4-7.2h0m2.1-4.8h0m1.9-3.3h0m-13.4 7.3h0m-3.9 12.3h0m-11.6 0.6h0m26.8-8.1h0m-8.5 0.5h0m-9.3 1.8h0m19.7-13h0m-12.3 4.6h0m17.5-9h0m-8 3.4h0m-9.5 5.7h0m-6.5 15.6h0m21-16.7h0m-5.1-4.4h0m-16.8 14.8h0m17.9-19.5h0m3.8 7.5h0m-27.7 11.5h0m16.3-9.5h0m3.9 0.2h0m-2.7 0.1h0m13.3-4.8h0m-9.4 4.3h0m1.1 6.9h0m1.6-11.6h0m-14.7 9.3h0m6.8 9h0m5.9-12.5h0m-12.7 10.4h0m17.7-10.6h0m0.2 0h0m1.9-0.8h0m0.5-5.4h0m-27.6 14.3h0m13-4.2h0m7.3-4.5h0m-3 7.5h0m2.3-6.4h0m3.3-5.1h0m-3.1 3.7h0m-9.9 15.3h0m8.3-8.5h0m1.2-7.3h0m-8.5 4.7h0m12.1 1.8h0m-18.7 7.4h0m7-11.3h0m10.7 8.8h0m-0.8-14.2h0m-15.7 12.7h0m1.6 0.5h0m15.9-10.7h0m5.4-6.6h0m-18.2 16.5h0m21.4-17.5h0m-4.7 5.4h0m-8.5 11.2h0m5.4-9.1h0m2.6 1.7h0m-11.6 11.6h0m17.4-23.2h0m-12.6 11.4h0m7.5-0.4h0m-8.4 3.2h0m-8.5 0.9h0m2.6-4h0m9.4-3.7h0m9.4-7.9h0m-12.3 18.3h0m11.5-9.4h0m-21.7 9.2h0m12.9-3.2h0m-4.9-6h0m2.5 5.1h0m3.2 1.9h0m-2.5-6.3h0m-24.5 17.4h0m10.8-4.3h0m7.5-9.6h0m-12.2 8.3h0m7.7 1.7h0m-8.3 1.1h0m5.3-5.7h0m2.9-7h0m15.5-1.7h0m-13.5 10.8h0m6.9-8.3h0m0.4 1.6h0m-6.5 4.6h0m-2.6-1.4h0m8.1-8.3h0m0.1-1.6h0m16.2-1.9h0m-13.2 14.6h0m-14.9 2.3h0m-6.7-1.6h0m28.4-9.5h0m-11.1-1.7h0m-11.2 15.6h0m17.7-14.5h0m7.1-1.9h0m-3.4-1.2h0m-25.5 13.6h0m27.1-15.2h0m-12.9 14.7h0m14.7-13.7h0m-13.2 3.6h0m-8.2 3.1h0m16.8-7.7h0m-15.8 7.4h0m14.5-9h0m-11.1 8.3h0m12.1 1.1h0m-5.4-7.6h0m-3.4 5.5h0m-4.8 3.3h0m-2.5 8.2h0m11.6-2.8h0m1.7-12.1h0m-17.5 8.6h0m12.8-4.9h0m8.8 1.9h0m-29.7 9.9h0m20.4-2.2h0m0.2-3h0m7.4-12.1h0m-5.6 2.7h0m6 2h0m-31.3 13.3h0m15.8-8.4h0m5.1 3.7h0m-3.4-6.8h0m-7.4 7.7h0m26.9-8.1h0m-4.7-4.3h0m-16 3.1h0m12.3-5.1h0m-6.3 14.7h0m2.4-15.4h0m-23.4 21.4h0m22-9.4h0m7.7-4.6h0m-4.8 8.9h0m-21.5 0.7h0m28.3-10.7h0m1.9-2.5h0m-18.2 14.5h0m17.4-17.2h0m-3.9 8.3h0m-10.6-3.6h0m11.9-5.8h0m-4.6 6.8h0m-17.7 4.8h0m6.4 3.9h0m13.9-7.2h0m-8.8 2.5h0m4.9 0.3h0m-11.1-1.5h0m-8.3 8.7h0m23.5-11.5h0m-7.2 10.6h0m-15-0.3h0m17.6-12.2h0m4.1 2.1h0m7.1-6.4h0m-23.1 16.5h0m-8.9 0.7h0m8.2-3.3h0m23.6-11.5h0m-14.8 5.4h0m8.5-1.6h0m2.4-3.5h0m-9.3 8.8h0m-0.9 5.5h0m-0.3-8.7h0m1.6-3h0m-12.5 6.9h0m13.2-0.5h0m7-11.7h0m-7.8 12.9h0m-5.1-3.3h0m20.9-6.6h0m-30.8 7.5h0m12.4 6.1h0m-3.5-1h0m8.7-5.4h0m-9.4 9h0m3.8-5.9h0m5.8-1.2h0m-5.8 3h0m10.1-0.2h0m0.5-15.8h0m2.6 5.5h0m-21 14.4h0m19.8-16.8h0m-1.1 3.4h0m-2.1-5.4h0m2.4 3.9h0m4.9-9.7h0m-21.3 21.4h0m15.5-9.5h0m3.5-6.1h0m-6.9 8.9h0m-5.1 4.4h0m4.4-9.9h0m-18.6 11h0m15.8-7.4h0m-9.3 0.5h0m0.3 7.4h0" stroke="#1a1a1a" stroke-width="0.75" stroke-linecap="square" stroke-opacity="0.85" fill="none"/>
<path d="M329.9 178.5h0m-8.8 8.3h0m-6.4 8.6h0m12.5-10h0m-7.3 7.6h0m-22.8 3.7h0m5.6-5.2h0m11.8 9.9h0m-2.9-10.7h0m12.6-3.1h0m-27.9 5.4h0m20.3-8.8h0m-7.1 10h0m0.2-1.5h0m8.1-11.7h0m-6.4 21.8h0m-8.5-8.7h0m6.2-3h0m-2.5 5.3h0m-2.9-5.9h0m19.5-0.4h0m-11.6-3.5h0m20.7 6.3h0m-6-7.8h0m-17.2 9.8h0m4.6 1.9h0m-19.8 9.7h0m20.8-17.3h0m-22.6 12.2h0m27.7-22.4h0m-9.4 24.2h0m6.1-19.6h0m8.5 7.2h0m-3.6-9h0m0.4 4.1h0m-4.4 4.4h0m-4.4-9.4h0m20.4-2.1h0m-10.6 2.5h0m-1.2 5.6h0m-12 3.9h0m1.3 7h0m-1.1-2.6h0m5.9-11.2h0m-3.4-0.5h0m8.9 5.6h0m-7.6-4.4h0m-0.5 7.1h0m7.2-4.9h0m-21.4 3.5h0m12.1 3.2h0m12.5-9.8h0m-3.6-0.8h0m9-0.7h0m-14.4 5.3h0m0.8 1.6h0m12.9-0.5h0m-7.9-0.5h0m1.9-6.3h0m1.5 21.5h0m-4.9-6.1h0m-12-4h0m-5.4 1h0m16.9-11.7h0m14.7-6.1h0m-10.7 29.7h0m-12.5-15.1h0m8.4-17.9h0m-5 21.2h0m1.2-17.4h0m12.9 2h0m4.6-1.7h0m-5.5 1.4h0m-20.5 12.9h0m25.3-8h0m-23.9 9.3h0m19.3-9.1h0m0.8-1.4h0m-6.2 6.4h0m-7.7 8.2h0m-0.8 3.6h0m3.6-11.7h0m9.9 2.7h0m9.1-13.3h0m-7.2 4.1h0m-0.1 9.1h0m-20.6-4.5h0m9.6 3.8h0m-0.8-1.6h0m3.4 13.8h0m-6.5-18.3h0m7.5 7.8h0m-5.5-4.2h0m-20.5 12h0m0.6 1.1h0m16.5-5.4h0m2.5-10h0m-0.7 2.5h0m1.5 12.9h0m-3.7-14.1h0m16.8-12.1h0m-8.1 9.9h0m9.2-2.4h0m-20.6 11.9h0m17.5-7.2h0m-1.2-8.3h0m-7.2 13.7h0m0.5 2.8h0m4.1-13.6h0m-3.3 7h0m-22.1 12.7h0m2-11.9h0m4.4-4.9h0m13.2-2.2h0m-5.2 13.2h0m-1.5 1.9h0m-0.6-14.1h0m5.2 1.4h0m0.7-3.5h0m2.4 4.5h0m11-4.7h0m-8.5 1.4h0m-6.1 9.7h0m-6.3-0.5h0m25.8-12.9h0m-17 9.6h0m-9.3 1h0m6.4 6.4h0m10.1-6.8h0m-8.1 5h0m6.4-2.7h0m-0.9 1.1h0m5.3-6.3h0m-12.9 20.1h0m-21-6.2h0m16.8-11.7h0m-2.4-9.7h0m12.2 9.4h0m-12.6 5h0m21.4-6.3h0m-13.8 2.2h0m4.3-1.2h0m-13.4 13.5h0m-12-6.7h0m27.5-11.8h0m6.2 9.8h0m-12.9-9.1h0m11 6h0m-18 4.7h0m-5.5 1.8h0m13.1-10.5h0m2.8 6.7h0m-17.9 7.8h0m35.8-22.6h0m-5.9 1.4h0m-2.8 2.7h0m-15.5 9.1h0m15.3-2.2h0m-15.5 9.4h0m5.7-13.3h0" stroke="#333" stroke-width="0.65" stroke-linecap="square" stroke-opacity="0.8" fill="none"/>
<path d="M300.9 195.5C301.4 194.6 303.2 193.1 304.6 191.8C306.0 190.6 307.8 189.2 309.4 188.0C311.0 186.9 312.5 185.8 314.0 184.8C315.6 183.8 317.1 182.8 318.7 182.0C320.2 181.2 322.0 180.6 323.4 180.2C324.7 179.8 326.3 179.2 327.0 179.7C327.8 180.2 328.3 181.7 328.0 183.0C327.7 184.2 326.3 185.9 325.2 187.2C324.1 188.5 322.8 189.6 321.5 190.9C320.3 192.1 319.0 193.6 317.7 194.6C316.5 195.7 315.8 196.5 314.0 197.0C312.3 197.4 309.5 197.4 307.4 197.4C305.4 197.5 303.0 197.8 301.9 197.4C300.8 197.1 300.5 196.4 300.9 195.5Z" fill="#2a1414" filter="url(#b1)"/>
<path d="M196.4 333.2h0m-5-4.3h0m6.9-6.7h0m6.7-1.7h0m-13.1 4.3h0m3.2 13h0m-4.8-8.4h0m4.6 5.5h0m-2.4-1.9h0m7.7-2.9h0m-14.3 4.7h0m13.1-0.9h0m10-18.2h0m1.3 5.6h0m-14 1.3h0m-6.6 6.5h0m10.1-0.8h0m1.1 3.3h0m3-11.5h0m2.2 4.7h0m-11.8 6.2h0m4.8 6h0m0.7-10.9h0m-13.3 3.9h0m9.6-0.2h0m2.3-1.7h0m-2.6-5.1h0m-2.9 0.3h0m-0.6 2h0m6.8-1.5h0m-0.1 8.7h0m2.9-14.8h0m3.1 3.4h0m-18.8 6.8h0m10.5-6h0m-2.5 17.1h0m-5.7-8.9h0m11.2-1.9h0m-11.9 3h0m4.8-4.5h0m-8.6 7.8h0m17.9-16h0m-2.3 11.2h0m-2.1-6.7h0m1 11.4h0m-7.5-4.6h0m11.3-3.9h0m-2.4 7.5h0m-0.9-9.9h0m-11.8 1.2h0m15.7 3.9h0m-7.6-0.8h0m-0.3 2.3h0m-6.7 1.5h0m10.9 3.9h0m-13.7-4h0m17-3.2h0m-3.8 6.9h0m-6.2-3.5h0m2-4.7h0m-7.7 8.1h0m14.1-17.1h0m-5.7 5.9h0m-7.7 7.1h0m10.1-8.8h0m-5.7 4.4h0m-0.5-0.5h0m12.8 2.9h0m-1.7-4.1h0m1.3-8.3h0m-15.8 14h0m10.6-2h0m-1.8 10.7h0m2.8-17.5h0m-3.3 7.2h0m10-10.3h0m-12.9 17h0m3.8-7.5h0m-5.5-5h0m14.7-0.4h0m-10.5 11.1h0m1.9-2.3h0m-2.7 2.2h0m-7 0.3h0m6.3-4.9h0m-5.9 3.9h0m12.1 3.2h0m-8.6-1.9h0m11.4-1.3h0m-9.9 2.6h0m10.2-17.3h0m-8.7 5h0m8.7 1.6h0m0.1 0.3h0m-7.7-1h0m7.7-8.3h0m-8.7 21.4h0m7.6-8.8h0m3.5-10.7h0m-8.2 15.3h0m-1.1-8.5h0m-2.5 6.3h0m5.5-7.3h0m5.7-5.3h0m-13 8.3h0m0.8-1.5h0m1.8 14.7h0m0.4-4h0m0.4-10.9h0m-5.6 10h0m5.6-9.7h0m4.3-1.4h0m-6.2 1.9h0m-0.9 1h0m-6.4 4.8h0m4.6-7h0m5.7 11.7h0m2.3-13.7h0m-7.7 4.6h0m17.6-6.8h0m-9.4 1.9h0m2.2 1.3h0m2.4-7.3h0m-7.2 11.6h0m3.5 6.7h0m-9.4 3.3h0m0-2.1h0m2.4-3.6h0m14.2-5.7h0m-17.9 6.5h0m0.2-5.9h0m12.1-1.5h0m-17 11.6h0m3.3-9.6h0m1.2-0.3h0m5.9 7.1h0m2.8-7.7h0m1.9 2.8h0m-8.1-1.4h0m4 4h0m0.4-4.8h0m9.8-4.8h0m-13.3 6.2h0m2 1.5h0m-5.3 1.1h0m0.7 3.5h0m12.4-2.2h0m3.5-7.6h0m-17.5 9.3h0m-2.4-6.5h0m8.3-7h0m-1.6 12.3h0m0.9-5.1h0m10.8-8.8h0m0-2.5h0m-3.6 1.7h0m-4.5 13.6h0m-2.3 1.8h0m-0.3-0.4h0m5.9-4h0m0.5-9h0m-3.4 1.6h0m-17.5 11.9h0m13.1-2.7h0m5.7-7h0m-12.9 13.6h0m-5.2-3.8h0m22.7-14.7h0m-16 9.2h0m12.1-2.2h0m3.2 2h0m-6.8 0.2h0m-1.2 0.7h0m6.1 2.1h0m-5.3-7.7h0m3.9 3.1h0m-7.9 12.1h0m9.4-13.4h0m-2.9 5.1h0m-12.2 5h0m14.9-8h0m-3.8 3.1h0m-8.6-3.5h0m10 3.7h0m-0.4-5.5h0m-4.8 11.6h0m1.5-11.8h0m-3.8 12.5h0m-3.4-3.3h0m3.3 3.7h0m10.7-7.5h0m1-11.7h0m-12.1 7.9h0m5.2 0.4h0m3.4 7.8h0m-8.8-2.8h0m2.8-6.5h0m6.7 4.1h0m3.5-5.8h0m-8.7 4.6h0m-5.1 7.2h0m2.7-9.4h0m3.7 5.4h0m-12.6 2.8h0m20.3-7.7h0m2.8-6.5h0m-6.6 16.6h0m7.5-19.6h0m-13.3 18.6h0m11.8-11h0m-4.6-5.1h0m6.3-3.3h0m-9.9 15.9h0m0.9 2h0m7.1-16.4h0m-3.9 12.7h0m-7.7 6.5h0m3.4-9.5h0m-9 7.6h0m-1.2-4.5h0m14.8 3.1h0m-5.8-0.7h0m4.4-5.5h0m-1.2-1.4h0m1.5 9.2h0m-1.5-6.5h0m-12.2 2.2h0m1.2 4.8h0m2.8-9.9h0m-2.1 10h0m15.8-6.5h0m-20.8 5.1h0m12.5-11.3h0m-13.5 10.6h0m9.5-4h0m-2.1-3.2h0m0.6 7.2h0m7.6-6h0m1.6 1h0m-10.1-0.9h0m-4.3 2.6h0m14.6 2.5h0m-20.4 1.1h0m17.9-4.3h0m-0.5-3.1h0m-3.2 8.5h0m3.9-4.4h0m-5-1.1h0m-6.6 7.5h0m14.3-13.2h0m-2.9 0.1h0m-1.9 1.4h0m-6.4 2.6h0m12.9-2.4h0m1.6-7.1h0m-7 15.8h0m-0.1-7.7h0m-1.2-1.9h0m-4 9.7h0m6.1-13.2h0m-7.9 15.7h0m1.2-10.1h0m10.1-3.3h0m-13.3 6.2h0m-2.9 6.4h0m19.9-13.6h0m-1.1-4h0m-17.7 11.9h0m12.1-10.7h0m-10.7 9.9h0m21.1-5.9h0m-6.8-3.7h0m-1.4 5h0m-4-3.8h0m-8.1 9.7h0m-0.5 0.6h0m5.8 0.9h0m-1.7-6.4h0m-8.2 4h0m10.7 2.3h0m-5.2 1.9h0m6.8-0.8h0m5.3-14.4h0m-0.7 3.6h0m0.4 0.4h0m-0.6 8.8h0m-9.3 4.3h0m11.1-0.2h0m-14.6-1.1h0m7.1-7.9h0m-7.2 7.8h0m-3 2.8h0m4.2-0.3h0m0.7-12.5h0m-1.8 4.6h0m7.1 9.6h0m3.5-5.9h0m4.7-5.9h0m-1.8 8.7h0m-4 0.9h0m-19.3-4.1h0m19.6-6.6h0m-14.2 6.5h0m8.5-2.9h0m5.1 0.7h0m-3.1-0.4h0m7.6-10.3h0m1.4 6.1h0m-7.3 13.8h0m-5.2-5.9h0m-4.6-3.1h0m11.1-0.4h0m2.2-1.1h0m-12.7 2.5h0m9.7-0.1h0m3.3 3.7h0m1.3-9.3h0m3.3-3.8h0m-11.1 8.5h0m-3.3 1h0m2.8 2.5h0m3.4 1.9h0m-3.4-3.1h0m5.8 2.7h0m-5.8-5.8h0m11.1-6.7h0m-16.5 6.3h0m10.5-5.3h0m-1.4-3.3h0m0.9 14.5h0m4.6-11.1h0m-7.8 0.4h0m-7 6.4h0m22.5-8.1h0m-12.7 8.6h0m2-4.5h0m-4.4 8.6h0m-2.6-10.4h0m4.6 0h0m-3.2 0.7h0m1.8 6.4h0m-9.6 1.8h0m-0.4 3.5h0m21.3-10.8h0m-6.3-1.6h0m-7.3 8.4h0m-4.1 3.4h0m1.2-8.8h0m1.6 9h0m3.8-7.8h0m3.9-1.9h0m-9 8.1h0m1.5-1.7h0m-0.7-5.3h0m-0.5 4h0m-5.4-3.5h0m20.1-5.7h0m-11.5 8.8h0m-3-1.9h0m7.6 0.7h0m-11.2-2h0m15-4.8h0m-2.2 9.4h0m-12.3-5.1h0m13.7-0.3h0m5-2.2h0m-12.6 8.7h0m-0.1 0.5h0m-5.5-0.6h0m2.3-2.9h0m12.5-7.3h0m7.2-6h0m-10.6 8.9h0m-1.4 2h0m-5.3 0.2h0m-9.4 0.4h0m14-5.8h0m-4.1 12.4h0m1.5-3.8h0m-3.2 1.2h0m-5.6-2.5h0m12.7-4.7h0m-8.6 6.8h0m-2.7 2.9h0m9.2-6.9h0m3.3 3h0m7.4-17.2h0m-7.6 8.1h0m-5.5 8.6h0m3.3-2.7h0m-7 9.1h0m3.5-10.3h0m3.9-2.9h0m4.5 2h0m-1.6 9.1h0m3.2-15.3h0m1.5 0.4h0m-18 7.1h0m1.2 4.6h0m17.3-10h0m-7.3 4.7h0m-4.5 2.5h0m9.4 3h0m-4.4-3.2h0m-11.3 1.5h0m13.2-3.9h0m-14.8 6.9h0m12.5-10.8h0m2.6-1.1h0m-16 13.3h0m4.4-0.4h0m1.7 2.2h0m7.4-4.4h0m-6.2 6.7h0m-5.2-12.5h0m7.6 6.5h0m-8.1-6h0m9.2 7.3h0m6.8-12.6h0m-2.6 16.5h0m-4.6 2.5h0m-1.1-7.2h0m9.3-9.8h0m-16.3 9.8h0m8.3-2.5h0m6.9 0.5h0m-17.3-0.8h0m11.7 5.4h0m-9.3-7h0m-1.5 2.7h0m17.9-9.1h0m-20.2 11.6h0m5.2 1.9h0m-10.4-2.6h0m14.6-1h0m16-10.1h0m-9.2-5h0m3.9-2h0m-6.1 6.2h0m-3.8 7.5h0m3.8-11.1h0m-6.7 11.3h0m3 4.9h0m10.3-14.4h0m-7.1 13.6h0m9.4-16.5h0m-12.1 12.9h0m-1.7-1.6h0m7.8 0h0m-0.9-5.6h0m-8.9 13h0m6.6 1h0m-0.1-8.1h0m-14.5 2.8h0m5.7 3.7h0m10.5-7.5h0m-11.5-0.7h0m12.9 4.3h0m-9.4-3.4h0m1-4h0m8.1-3.6h0m4.9 2h0m1.2-4.6h0m-18.6 19.1h0m-6.8-0.4h0m14.1-8.9h0m1.2 4.5h0m6-11.9h0m-6.8 10h0m-3.6-5.6h0m-3.4 6h0m10.2 3.2h0m-12.3 0.6h0m4.6-4.7h0m9.9-10.6h0m-6.7 14.9h0m-5.4-4.6h0m0.3-0.2h0m9.5-4.4h0m10.7-1.7h0m-14.1 2.1h0m8.7-5.6h0m-7.1 8.1h0m0.7 6.1h0m-6.2 1h0m-5.4-3.8h0m17.8-14.7h0m-10.7 19.4h0m-6.6-4.8h0m15.7-7.1h0m-1.9-3h0m-10.1 8.2h0m-4.6 0.5h0m10.4-6.6h0m-1.7 8.7h0m-1.2-0.4h0m8-10.9h0m-9.9 14.8h0m4.9-13.5h0m-9.5 15.9h0m8.7-2.2h0m8.9-9.1h0m-10.5 12.7h0m2-17.6h0m-5.2 14.1h0m9.8-8.9h0m0.3 8.8h0m-6.5-8.3h0m-0.7-1.2h0m-4.3 9.7h0m18.1-19.8h0m-24.1 16.5h0m15.3-6.7h0m3.6-6.9h0m-5.1 17.4h0m-7.5-5.7h0m7.2 4.3h0m3.7-15.5h0m-13.4 8.9h0m3 9.9h0m6.2-7.9h0m6.7-12h0m-14.3 15h0m3.8 2.8h0m14.6-21.9h0m-6.4 18.7h0m-8.2 3.6h0m6.3-8.4h0m-2 3.8h0m2-2.1h0m2.4-11h0m-15 11.5h0m5.1-4.6h0m6.2 3.6h0m-2.1 1.5h0m-8.7 3.8h0m12.2-7.7h0m-3.6 6.7h0m-0.1-9.8h0m-4.4-1.1h0m9.3 10h0m1.3-6.7h0m5.2-8.5h0m-5.4 0.6h0m-7.2 12.3h0m11.2-12.8h0m-4.9 6.4h0m-7.9 9.3h0m9-14.7h0m3-1.1h0m-10.1 18.1h0m6.1-1.5h0m-12-6.7h0m16.8-9.7h0m-19.6 11.8h0m12.8-8.2h0m6.4 4.4h0m-11.5 6.5h0m-2.1-5.3h0m6.8 3.1h0m-9.1 2.2h0m8.6-9.4h0m-11.6 15.9h0m18.5-17.3h0m-20.1 15.6h0m10.9-5.9h0m6.1-1.1h0m5.4-14.2h0m-6 8.4h0m2.5 2.7h0m-3.3-5.8h0m-2.4 6.8h0m-11.9 0.8h0m0.4 7.1h0m13.4-0.2h0m-2.7-6.3h0m-0.4-8.4h0m0.5 10.4h0m-5.3-2.6h0m4.6-4h0m-2.8 0.5h0m-4.9 3.6h0m12.5 10.4h0m-1-14.3h0m3.6-5.1h0m1.3 2.3h0m-5.9 7h0m-2.4-5.7h0m6.4 5.4h0m0.2 2.2h0m-4.9-8.6h0m-5.7 10.3h0m1.7-1.2h0m1.1-9.4h0m4 1.7h0m-0.5-0.8h0m2.5 9.4h0m-2.1-0.4h0m-9.3 3.7h0m10.2-13.8h0m-4.2 12h0m8.2-16.1h0m-14.7 12.2h0m15.9-8.2h0m-12.6 15.4h0m-1.5-4.1h0m-2-3.8h0m14.4-2.1h0m-4.4-2.7h0m-7 3.2h0m7.6-3.6h0m-8.1 9.1h0m-0.9-7.8h0m16.7-2.2h0m-1.2 1.4h0m-19.2 10.2h0m3.5-4.4h0m12.5-11.4h0m-8.2 12.8h0m6.3 0.3h0m-10.9 1.4h0m10.9-5.8h0m-8.6 7.2h0m-0.3 0h0m8.4-11.7h0m-4.3 5.7h0m15.5-16.9h0m-12.9 17.6h0m2.7-7.8h0m-12.1 6.8h0m10.5 1.8h0m-0.8 1.9h0m-1.4-9.6h0m4.7 7.3h0m-6.3-4.8h0m6.1 5h0m-13.6 5.6h0m14-13.7h0m-3.1-1.8h0m-1.4 9.9h0m7.8-7.4h0m-21.6 8.9h0m20-14.3h0m-7.4 15.7h0m7.5-9.3h0m-2.3 0.1h0m0.7-7.9h0m-6.8 14.3h0m8.9-3.3h0m-12.6 7.6h0m-1.3-7.1h0m-1.4 0.2h0m-4.4 4.7h0m19.4-11.3h0m-1.7 3.2h0m-5.4 8.5h0m6.5-13h0m-3.9 11.5h0m2.8 1.9h0m-12.2-5.3h0m5.7 8.5h0m-8-5.3h0m2.7 3.7h0m-0.5-10.3h0m5.4 0.2h0m4.3 1.9h0m-5.5-2.6h0m13.5 0.4h0m-17.5 8.7h0m11.9-2.2h0m-6.8-1.8h0m-3.3 3.9h0m1.8-3.6h0m5.7 0.3h0m-8.9 3.9h0m-4-2.4h0m5.3 4.6h0m-10.1 2.8h0m20.7-16.4h0m-17.3 10.8h0m20.6-18.6h0m-2.3 12.8h0m-9.6-1h0m2.2-6.1h0m8.7-2.5h0m-10 23.2h0m-5.9-9.7h0m-0.3 5.1h0m12.2-7.9h0m4-7.6h0m-18.4 6.1h0m12.3 7.3h0m0.4-11.8h0m-5.8 1.1h0m3.9 9.1h0m-0.4 2.9h0m1.1-6.4h0m-1.6-2.9h0m5.1 1.4h0m-5.6 6.4h0m-15.7 5h0m18.3-3.8h0m-2.7-13.1h0m1.9-0.9h0m-0.3 1.3h0m-0.5 17.7h0m5.7-17.3h0m-4.7-0.5h0m-0.3 1.2h0m-6.5 9.8h0m-7.2-2.1h0m7.6 3.2h0m15.7-19.9h0m-17.7 19.9h0m8.9-7.7h0m-9.8 3.9h0m17.1-3.6h0m-8.3 1h0m5 2.2h0m-12.5 0.7h0m9.3-0.8h0m0.5-8.4h0m-0.4-0.5h0m-0.1 12.2h0m-9.1 4.3h0m-4-0.6h0m10.7-14.1h0m-2.9 6h0m4-4.6h0m3.7 3.3h0m-11.9 12.8h0m15-21.4h0m-10.2 14.5h0m-8 0.8h0m2.8-1.9h0m10 3h0m-13.9-2.2h0m19-12.9h0m-11.3 14.7h0m8.3-9.9h0m-11 15.7h0m5.4-16.4h0m-6.4 12.7h0m7.7-7.2h0m-0.7 3.1h0m2.7-12.7h0m-9.9 16.5h0m4.8-13h0m-6.9 4.7h0m6.4 4.5h0m2.3 1.5h0m-11.3-5.3h0m13.1 5.9h0m7.1-16.4h0m-4.3 9.2h0m-1.8 6.1h0m-13.7-2.1h0m22.1-6.5h0m-5.3 4.1h0m-12.8 3.6h0m3.5-12.1h0m-10.2 11.1h0m6.1 0.5h0m7.2-1.3h0m-2.6 1h0m-2-5.2h0m-6.1 9.5h0m11.7-7.2h0m-12.7 11.3h0m18-22.5h0m4.2 5.3h0m-9.4 1.4h0m4.1-1.6h0m-10 5.7h0m14.4-11.2h0m-0.6 3.7h0m-19.9 7.1h0m21.4-9.1h0m-7.8 7.1h0m-6.5 9.7h0m7.2-9.2h0m-7.1 6.8h0m10.3-14.3h0m-2 11.4h0m-19.6-0.9h0m8.6 9.5h0m-0.3-14.4h0m-0.3 8.1h0m14.7-6.5h0m-2.5 0.8h0m-12.1-2.1h0m7.5 10.8h0m6.9-8.8h0m-5.8 11.4h0m-3.7-9.8h0m-4.2 4.2h0m9.7 1.4h0m-1.2-8h0m-2 3.8h0m6.6-0.5h0" stroke="#1a1a1a" stroke-width="0.75" stroke-linecap="square" stroke-opacity="0.85" fill="none"/>
<path d="M191 335.7h0m-4.9-1.8h0m5.1-11.3h0m-5.2 6.8h0m-1.2 1.9h0m22.7-3.9h0m-10.2 1.4h0m7.8-2.9h0m-6.7-9.4h0m-8.2 18.8h0m-4.6-0.9h0m4.9-4.3h0m-8.7 7.2h0m12.6 0.4h0m3.4-12.7h0m0 6.6h0m-5.8 6.6h0m-2.2 4.4h0m-9.7 2.3h0m20-13.4h0m-3.9-9.8h0m-2 0.1h0m-0.9 4.5h0m3-5.6h0m-0.3 9.7h0m-3.6-1.2h0m13.5 2.4h0m-9.6 5.5h0m-9.4-5.1h0m5.2 2.1h0m6 2.8h0m-2-3.1h0m-7.7-3.6h0m11.9 4.6h0m4.2-13.1h0m-6.3 0.3h0m-14.1 12.2h0m9.2-2.4h0m-1.8-8.2h0m2.3 10.6h0m8.6-15.3h0m1 3.6h0m-14.4 11h0m9.9-9.2h0m4.1 4.6h0m-1.2-3.5h0m-18.6 8.4h0m17.1-3.6h0m-3.8-1h0m-10.4-0.4h0m21.6-9.5h0m-17.6 10.2h0m-4.3-1h0m-6.3 9.8h0m29.4-22.3h0m-3.6 14.5h0m-3.5 1.4h0m-12.8 2.2h0m13.7-10.1h0m-11.1 16.6h0m15.9-20.5h0m-8.8 15.2h0m-4.8-14.4h0m5.1 4.9h0m13.1-7.8h0m-16.1 9.3h0m15.5 0.9h0m-17.5-3.7h0m-1.2 9.9h0m-9.9 1.3h0m7.9-7.7h0m2.7-2.1h0m17.7-2h0m-9.6-5.5h0m-8.8 16.8h0m-6.9 4.6h0m21.8-27.1h0m-18.7 26.7h0m10-5.8h0m4.6 5.2h0m0.8-3.5h0m2.6-21.5h0m-10.6 18.7h0m-5.1-6.4h0m15.8-9.2h0m-13.8 14.4h0m13.4-12.7h0m-2.6 7.7h0m-0.4-5.5h0m9.6 1.8h0m-25.2 9.1h0m7.6-6.1h0m-1.5 16.8h0m23.8-30.2h0m-16 8.7h0m-11.9 7.6h0m11.8 4.5h0m-5-2.8h0m0.7-2.1h0m-7.4 6.6h0m8.5 0.4h0m4.9-15.9h0m-2.2 4.8h0m-17.9 21.2h0m0.3-8.9h0m16.7-17.5h0m5.9 3h0m-3.1 7.6h0m5.7-5h0m-9.6-2h0m-2 13.2h0m-4.6-7.7h0m14.7-3.1h0m-17.5 5.8h0m-2.2 5.5h0m6.5 1.8h0m3-22.1h0m10-1.3h0m-14.3 10.7h0m9.7 10.2h0m-14.9 2h0m9.5-12.3h0m-6 3.4h0m19.9-9.9h0m-19.8 8.3h0m9.7 6.8h0m11.2-19.5h0m-32.8 15.5h0m32.7-7.6h0m-20.4 3.9h0m11.8-1.1h0m-16.1 15.6h0m0.5-7.6h0m17.7-11.6h0m-17.1 17.6h0m13.1-16.1h0m-1.9-2.4h0m-8.4 17.2h0m-0.1 5.1h0m-1 8.1h0m4.3-18.7h0m11.5-3.8h0m-25 7.7h0m27.9-21.8h0m-16.7 13.6h0m8.1 2.5h0m-3.7 4.1h0m2.9-14.1h0m-0.9 13h0m11.6-17.9h0m-5.9 3.9h0m-11.6 21h0m4.9-18.9h0m-2.4 5.2h0m2.9-3.8h0m-14 4.6h0m9.7 2.1h0m9.1-10h0m-4.3 14.1h0m-3.5-4.2h0" stroke="#333" stroke-width="0.65" stroke-linecap="square" stroke-opacity="0.8" fill="none"/>
<path d="M187.0 330.4C187.3 329.5 188.5 328.8 189.5 327.9C190.5 327.1 191.5 326.3 192.8 325.5C194.0 324.6 195.7 323.7 197.0 323.0C198.2 322.2 199.3 321.3 200.3 320.9C201.2 320.5 202.3 320.0 202.7 320.5C203.2 321.0 203.3 322.4 203.2 323.8C203.0 325.2 202.5 327.2 201.9 328.7C201.3 330.2 200.5 331.8 199.4 332.9C198.3 334.1 196.6 335.3 195.3 335.8C193.9 336.2 192.4 336.1 191.1 335.8C189.9 335.4 188.6 334.6 187.9 333.7C187.2 332.8 186.7 331.4 187.0 330.4Z" fill="#000" filter="url(#b1)"/>
<path d="M261.2 329.7h0m20.5-21.8h0m-18.2 13.2h0m14.6-3.1h0m-6.8-0.6h0m-6.9 13.1h0m16-20.1h0m-1.4 36.1h0m-7.7-27.2h0m-7 6.3h0m19.2 1.8h0m-12.2-4.8h0m-3.1-1.5h0m0.8 0.9h0m0.5-12.6h0m-10.3 15.9h0m8.4 1.2h0m-1.9-3.8h0m13.9 13.1h0m6.2-15.5h0m-2-1.7h0m-7.8 5.7h0m-5.1 1.6h0m5.3 18.9h0m7.7-7.9h0m-16.7-11.7h0m-1.5-1h0m12.7-11.8h0m-2.3 14.7h0m8.6-20.5h0m-5.4 32.1h0m-8.4-3h0m-4.2-3.8h0m4.6-3.9h0m7.9-9.7h0m-2.9 15.6h0m13.6-23.9h0m-11.3 4.2h0m22.5-15h0m-14.4 19.8h0m-15 9h0m21.7-26.1h0m-10.5 14.2h0m-13.2 10.7h0m-6.4-2.9h0m2.6-1.4h0m13.7 13.5h0m5.6-4.2h0m3.8-14.6h0m-14-0.5h0m-8.6 5.8h0m21.9-3.4h0m-10.3-5.9h0m4.2 7.5h0m-7.9 14.6h0m-8.5-0.3h0m5-7h0m13.3-14.5h0m3.2 8.2h0m-5.2-13.6h0m-4.1 3.5h0m3.2 30h0m-7-25.1h0m11.6 14.7h0m-7.4 7h0m-13.2-11.2h0m5.2-9.3h0m11.4-6.9h0m-9.4 15h0m6.9 5.9h0m-3.2-0.8h0m11.8-26h0m-23.5 29.3h0m3.5-3.9h0m16.9-13h0m2.9-0.1h0m-25 7.3h0m26.1-11.3h0m-1.9 17.6h0m-26.3 4.2h0m26.5-20.7h0m-20.6 14.1h0m12.1 3h0m6.6-16.8h0m0.7-5.7h0m-12.3 23.7h0m6.1 4.6h0m-17.5-16.3h0m36-17.9h0m-9.3 11.8h0m-19.7 29.4h0m19-28.6h0m-19.9 1.7h0m21.6 6.4h0m-24.4 12.8h0m17.4-22.1h0m-7.3 30.3h0m2.9-22.8h0m-1-8h0m7.5 17.7h0m-4-1.3h0m-6-6.4h0m-6.8-7.2h0m9.8 10.9h0m3.5-9.5h0m-8.5-0.7h0m1.5 17.8h0m-10.7-10.9h0m4.7-0.6h0m15.8 1.7h0m-4.7-5.6h0m-5.3-8.8h0m2.8 1.7h0m-3.6 1.6h0m2-2.1h0m9.3-4.3h0m3 26.6h0m-1.8-12.8h0m-0.3-11.8h0m-14.3 18.9h0m12.7-16.2h0m-7.7 6.4h0m4.4-3.6h0m-5.9 2.6h0m-5.3-1.4h0m0.2 8.2h0m1.4 14.1h0m-11.9 0.2h0m26.7-8.1h0m-12.6-1h0m11.5-15.3h0m-20.3 17.4h0m22-7.9h0m-0.9 5.6h0m4-23.3h0m-11.8 3.9h0m-13.7 10.9h0m10.3 15h0m6.5-18.6h0m-14.5 0.1h0m8.3 12.2h0m18.9-27.5h0m-14 23.4h0m-11.7 4.7h0m-0.3 6.5h0m-5.8-4.1h0m-0.2-1.3h0m14.1-1.2h0m-5.1-16.1h0m7.3-0.9h0m7.7-1.1h0m2.7 0.9h0m-0.4 6.2h0m-13.3 2.5h0m4 17.3h0m-14.9-16.3h0m22.4 4.7h0m-13.9 11.1h0m8-20.8h0m-16.5 7.6h0m18.4 5.4h0m3.6-2.5h0m-17.3-5.2h0m19.9-18.1h0m-14.8 30.4h0m2.2-23.5h0m-4.1 16.8h0m10-23.1h0m10 2h0m-23.8 10.9h0m-0.4 17.8h0m15.2-3h0m3.9-7.5h0m-18.1-2.7h0m-1.5 0.7h0m12.4-2h0m-21.1 11h0m4.9 1.9h0m7.8-15.6h0m7.9-7h0m-9.4 13.6h0m9.2-17.8h0m-14.8 12.4h0m18.9 8.4h0m6.3-23.6h0m-22.7 30.1h0m18.1-12.3h0m11.9-18.8h0m-11.3 5.9h0m-0.4 11.4h0m-21.2 15.8h0m-3.1-5.8h0m14.9 9.4h0m-7.4-23.3h0m21 3.8h0m-12.1 6.7h0m-5.9 1.3h0m6.7-8.4h0m-0.2-2.2h0m14.4-13.8h0m-6.6 21.8h0m3.6-11.8h0m-9.9 15h0m2.9 2h0m3.9-10.5h0m6-12.2h0m-15.3 37.2h0m0.5-9.5h0m1.5-6.5h0m3.9-14.6h0m-13.8-2.9h0m2.5 17.6h0m17.6-19.5h0m-4.8 18.7h0m1.5-11.2h0m-15.3 0.9h0m24.7-9.6h0m-14.9 8.4h0m-8.1 3.4h0m-2.8 2.4h0m-1.8 0.8h0m-2.8 0.8h0m15.3-9.1h0m8.2-5.7h0m0.4 0.9h0m-10.1 0.7h0m2.7 19.1h0m0.2-21h0m7.4-0.9h0m-6.8 10.8h0m0 0.7h0m-10.7 0.1h0m17.8-5.2h0m-25.5 18.6h0m18.8-0.3h0m-23.9 1.2h0m12.6 10h0m4.8-27.4h0m16.5-9.8h0m-8.3 15.5h0m1.4-2.7h0m-18 17.7h0m19.2-23.8h0m-20.6 19.8h0m17.8-16.2h0m2.8-12.3h0m-8.4 4h0m-9.2 20h0m10.4-19.3h0m4.6-1.4h0m-8.1 14.3h0m9.2-1.3h0m-8.8 6.6h0m11.4-17.3h0m-14.8 17.2h0m2.7 9h0m14.2-5.9h0m-23.4-4.1h0m13.8-15.6h0m-13.3 10h0m14.8-4.7h0m-13.5 14.2h0m3 2.5h0m-9.7 0.1h0m13.4-6.5h0m-6.6 3.6h0m14.5-6.4h0m-2.3 7.7h0m-3.1-16.8h0m9.8-1.4h0m1.2 10.1h0m-18.4 8.8h0m28.6-34.3h0m-21.6 42.2h0m-14-12.5h0m26.2-6.9h0m-9.3-8.4h0m6.8-4h0m-19.6 14.3h0m1.4 0.1h0m2.2 9.6h0m11.3-20.4h0m-12.1 8.8h0m-0.4-8.5h0m16.4-7.1h0m-11.9 31.8h0m5.4-18.6h0m-2.8 9.9h0m-8.9 0.2h0m5.4-13.9h0m-0.9 12.2h0m5.3 6.3h0m0.7-13h0m3.2 11h0m-8.4 6.4h0m5.7-8.7h0m12-23.5h0m-15.9 19.3h0m10.9-17.4h0m-3.7 21.4h0m-17.9 5.7h0m13.3-9.3h0m-10-3.7h0m24.2-13.7h0m-1.1 12.8h0m-1.7-9.4h0m7.1-1.6h0m-15.2 9.1h0m8.6 9.7h0m-19.8-14.5h0m5.9 11.5h0m-12.6 2.5h0m20.9 3.2h0m-17.2 1.2h0m6.7-21.7h0m-0.1 28.3h0m5.4-7h0m-7-10.7h0m5.4 0.1h0m3.7-2.8h0m-5.4-2h0m-9.3 5h0m24.2-9h0m-17.2 3.1h0m-8.4 14.4h0m27.7-21.3h0m-4.1-3.6h0m0.7 16.4h0m-4.4-15.9h0m-18.1 16.2h0m0.5 3h0m2.7-5.9h0m0.1-3h0m7.8-0.7h0m-0.2 8.1h0m1 2.9h0m5.2-6.2h0m6.3-13.3h0m-13.6 28.2h0m5.9-1.7h0m1.6-25.7h0m-10.2 9.6h0m8.6-4.3h0m-10.3 15.5h0m-9.3-7.1h0m13.5-2.2h0m-2 15h0m-4.8-8.2h0m13.9-19.5h0m2.7 10h0m-3-1.8h0m-1.6 0.5h0m-6.3 25.2h0m-1.5-3.2h0m0.4-29.3h0m5.5 6.3h0m8 14.8h0m-0.7 4.8h0m-18.7-15.7h0m11-10.1h0m-1 12.8h0m3.8 3h0m-10.7-6.3h0m-0.4-5.6h0m9 4.7h0m-16.4 8.4h0m15.2-5.7h0m-2.2 18.3h0m9.3-4.9h0m-23.1-10.1h0m23.5 8.4h0m-21.5-1h0m19.8-22.3h0m2.1 14.4h0m-4.3 3.3h0m-8.9-12.2h0m-8.1 22.8h0m20.5-26.2h0m-19.4 15.2h0m13.6-14.5h0m-0.9 10.7h0m11.5-15.6h0m-20.3 25.6h0m22.1-26.5h0m0.1-4.5h0m-4.2 19.5h0m-18.7 1.1h0m17.1 9.2h0m-8.8-18.9h0m14.2 9.3h0m-10.2 19.7h0m3.9-29.6h0m-15.6 19.3h0m9.4 10.8h0m-4.7-16.8h0m19.7-12.1h0m-25.9-2.1h0m-4.3 10h0m17.6 4.2h0m-10.6-2.3h0m-1.7 4h0m15-8.3h0m-6.2-3h0m-13.2 7.3h0m19.2-16.2h0m-10.4 24.2h0m14.8-18.7h0m-24.7 11.3h0m8.9 13.5h0m-2.4-9.3h0m-5.6-2.6h0m-1.3 0.1h0m22-17.1h0m-10.6 15.2h0m-8.6 1.7h0m-2.7 14.7h0m10.5-8h0m14.2-4.5h0m-13 2.3h0m-0.1-20.3h0m-10.2 15.6h0m-3.9 1.2h0m23.4-19.8h0m-0.7 16.6h0m1.3-1.8h0m15.5-23.3h0m-9.4 11h0m-15.6 33h0m4.7-22.5h0m-13.6-2.7h0m-1 3h0m18.9-8.3h0m-15.1 20.8h0m16.7-14.8h0m-13.7 5.1h0m0.7-0.5h0m2.8 14.8h0m7.3-22.9h0m-2.2 23.3h0m-22.3-8.5h0m21.1 1.1h0m-15.9-4.1h0m18.2-6.6h0m-13.3-3.4h0m0.3 0.4h0m10.2 20.1h0m-19.5-16.4h0m18.9 2.2h0m9.4 4.4h0m-22.9 0.8h0m9.5 3.7h0m2 1.9h0m4-27.2h0m-17.8 14.7h0m10.4 17.5h0m13.4-20.9h0m-23.6 9h0m11.9 10.3h0m4.5-16.9h0m-0.4 7.3h0m-9.5-4.8h0m23.2-18.1h0m-29.7 32.7h0m23.3-27.7h0m-13.1 7.2h0m9.9-6.9h0m-21.9 21.4h0m11 5h0m11.5-22.5h0m-9.9 24.9h0m-13.2-14.6h0m22.5-2.2h0m8.8-10.1h0m-4.1 13.8h0m-4.3 6.5h0m-19.6-4.8h0m19.7-12.2h0m-16.3 11.5h0m1.5-6.9h0m-0.2-4.3h0m-7.2 16.2h0m-2.9 4.8h0m18.3-25.1h0m-9.9 24h0m1.3-14.3h0m13.8 3.1h0m-15.1 4.5h0m17.9 8.2h0m-6.7-3.3h0m0.3-8.7h0m6.6-7h0m-7.2 26.4h0m5-28.3h0m-9.1 19.6h0m-0.6-20h0m7.7 23.2h0m7.3-30.3h0m-23.5 23.9h0m11.3 9.9h0m-2.3-5.4h0m0.5 0.9h0m-6.9-25.5h0m8 22h0m6.8-7.6h0m0.3 5.9h0m-7.7-9.6h0m16.9-14.9h0m-15.8 26h0m-1.1-20.3h0m3.6 14.8h0m-9.7-7.4h0m20.1-8h0m-3.5-2.4h0m-6.9 12.2h0m-17.9 12.5h0m26.3-12.7h0m-5.5-10.7h0m-3.3 4.5h0m-6.6 2.2h0m-8.4 17.3h0m31.2-27.1h0m-13.6 6.8h0m-4.1 20.7h0m7.3-2.2h0m-13.8-3.2h0m-1.2-11.7h0m8.6 0.5h0m7.8 12.2h0m7.4-24h0m-17.9 31.5h0m14.1-15.2h0m-16.9 0.2h0m-4.9 19.8h0m-3.3-12.5h0m19.7-18.6h0m-22 12.6h0m23.9-1.5h0m1.9-3.3h0m-19 19.8h0m14.5-26.2h0m3.6-9.4h0m-19.7 25.7h0m0.5-5.8h0m4 2.1h0m-2.8-7.2h0m15 2.9h0m-7-6.4h0m15.1 4.2h0m-24.1 2.1h0m11.9 14.7h0m-6.4-23.2h0m1.8 16.1h0m-9-10.6h0m1.1 8.8h0m-5.2 7.8h0m30.6-19.8h0m-3.9 2.3h0m-7.7-6.1h0m0 1.4h0m-16.3 12.1h0m15-1.6h0m7.3-11.3h0m-27.4 16.8h0m15.3-5.5h0m-2.9 4.2h0m-4.5 10.1h0m4.5 0.4h0m-1.7-19.9h0m-2 4.3h0m-3 4.2h0m6.9-2.9h0m8.1 1.5h0m4.9-14.4h0m-9.7 5.7h0m2-3.1h0m4.1 17.7h0m-5.7-9.6h0m-1.3 18.2h0m12.5-13.7h0m-8.4 0.9h0m3.3-9.2h0m9.3-10.1h0m-31.7 14.1h0m14.3 16.2h0m-4.9-13.3h0m-5.3-2.3h0m18.2 12.5h0m-15.9-9.9h0m1.3 9.9h0m5.4-8.5h0m21.1-25.7h0m-12.5 20.6h0m7.3 10.2h0m-12.9 5.7h0m-2.3-23.1h0m2-7.6h0m-3.3 21.1h0m2.6-7.9h0m1.7 0.9h0m-8 7.1h0m10.4-5.5h0m6.7 4.9h0m-10.2 15.5h0m5.2-30.4h0m-4.1 26.2h0m15.1-31.7h0m-16.3 26.7h0m-1.7 4.2h0m9.5-20.4h0m-1.4 14.5h0m8.1-15.7h0m-11.5 18.3h0m1.3-10.1h0m6.3-2.5h0m-9.4-0.2h0m-14.8 0.7h0m16.1 7.2h0m-10.7-8.8h0m2.3 12.3h0m17.4-14.4h0m-4.1-6.7h0m-13.1 27.4h0m3.8-11.9h0m-7.2-9.8h0m2.7 18.2h0m7.3-2.7h0m-10.3 4.1h0m16.6-27h0m6.1-0.1h0m-14.4 29.6h0m9.2-15h0m1-12h0m-20 18.8h0m18.2-13.8h0m-0.7 15.3h0m3.6-0.5h0m-13.8-2.2h0m10.1 1.7h0m-8.4-2.4h0m-3.8 0.6h0m-5.2 9h0m14.4-8.3h0m-4.6-16.4h0m-0.1 24.7h0m10-11.9h0m1.6-12.9h0m-6.6-0.3h0m-5.3 24.6h0m-11.9-9.4h0m14.6 7.2h0m0.7-21.9h0m-0.1 21.3h0m5.2-24.6h0m-7.9 6.8h0m6.2 15h0m9.3-15h0m-18.7 24.2h0m12-31.5h0m-3.9 17.8h0m4.6 2h0m5.3-8.9h0m-19.6 5.7h0m5-12.7h0m0.3 24.3h0m-3.8-12.2h0m4.2 12.5h0m-14.1-10.7h0m14.7 3.2h0m-3.3-13h0m10.1-6.8h0m7.7-6.8h0m-9.3 34.4h0m-11.9-9.6h0m-4.7 22.1h0m3.3-27.1h0m6.9 5.4h0m7.5-11.8h0m-12.7 0h0m10.7 7.7h0m8.4-19.2h0m-9.8 28.7h0m10.9-19.4h0m-12.8 12.6h0m-2.4-15.5h0m0.4 15.1h0m19.9-18.6h0m-17.1 14.4h0m-3.4 2h0m9.4-10h0m3.6 2.8h0m-9.1-1.8h0m8.3-0.9h0m13.3-19h0m-17 41.7h0m-18.9-20h0m-1.4 0.9h0m17.2 5.5h0m-2.2-3.1h0m7.3-7.3h0m-2.3-2.4h0m-12.5-0.7h0m4.1 27.9h0m11.8-16.3h0m-25.8 6.3h0m30.3-19.7h0m-18.9 8h0m12.3 10.1h0m-20 16.6h0m4.5-27.3h0m-0.1 7.1h0m20.6-11.6h0m-5.5 17h0m-19.2-8.8h0m19.6 13h0m4.7-14.7h0m-7.7 11.9h0m1.2-5.7h0m-13.7 6.8h0m9.2 4.6h0m-7.7-14.5h0m0.6 18.6h0m-5.6-11.6h0m21.9-17.3h0m-18 22.2h0m3.2 1.3h0m13.7-0.4h0m-15.9-16.5h0m18.5-12.1h0m-2.3 4.3h0m7.8-11.4h0m-15.1 18.2h0m-5.6 15.6h0m2.7 9.2h0m11-15h0m-16.7 3.1h0m-7.7 12.6h0m28.5-8.6h0m-28.1-11.1h0m20.7 0.3h0m-3.8-10.2h0m6.6 13.2h0m3.9-18.4h0m-16.9 19.4h0m1-3.7h0m11.2-3.4h0m-17.5-4.8h0m15.9-6h0m3.7 16.7h0m-1.3 1.7h0m-8.5-10h0m2.8-10.2h0m3.6 16h0m5.8-21.4h0m2.3-0.6h0m-3.2 4.7h0m-2.9 19.4h0m-14.8-9.4h0m15.2 12.6h0m-22.8-11.8h0m9.3 10h0m3.4-16.4h0m1.7 3h0m-3.3 3.4h0m-0.8 19.3h0m11.4-7.5h0m-10.8 8.5h0m-0.3-20.8h0m22.2-17h0m-24.7 36.1h0m8.7-20.1h0m8.5 6.1h0m1.8-7.9h0m-21.9 5.9h0m-1.2 1.1h0m13.2 7h0m-8.8-5.4h0m-1.9 7.1h0m-5.3-6.6h0m4.5-9.5h0m22.5 8h0m-24.2 10.1h0m14.8-5h0m9.7-23.5h0m-8.9 27.4h0m7.3-9.5h0m-10.4 15.9h0m4.7-8.7h0m-11.9 2.3h0m11.8-8.8h0m-20.6 5.4h0m16.6-5.3h0m8.5 3.5h0m-16.8-6.8h0m18.9-9.5h0m-18.6 20.2h0m11.4-10.8h0m-17.3-0.1h0m16.4-2.6h0m-11.9 20h0m17.4-16.4h0" stroke="#1a1a1a" stroke-width="0.75" stroke-linecap="square" stroke-opacity="0.85" fill="none"/>
<path d="M284.8 320.3h0m-0.3-9.8h0m0.8 14.5h0m-15-2.8h0m-2.5 8.6h0m15.7-12.9h0m-24.5 13.6h0m-0.3 4.3h0m11.1-9.1h0m21.6-32.7h0m-28.5 23h0m22.9-4.5h0m-11.2 6.3h0m1.8 12.1h0m-8.6 12.9h0m18.8-2.9h0m6.1-31.2h0m-27.9 20.9h0m22-15.7h0m-15.8 14.5h0m-7.4-13.9h0m23.7-16.7h0m-16 38.4h0m3.4-0.9h0m-1.9-32.7h0m-5 10.5h0m-0.5 18h0m12.1-20.2h0m17.4-8.7h0m-16.9 9.6h0m3.2-21.3h0m10.8 12.5h0m-23.9 21.3h0m13.7-8h0m-10.5-6.1h0m1.7 16.7h0m-12.3 3.3h0m39.2-14.7h0m-21.8-1.2h0m1 12.5h0m-8.4-5.5h0m-7.8 1.2h0m37.3-39.4h0m-8.6 28.6h0m-24.2 3.1h0m18.3 1.1h0m-14.1 24.4h0m-8.9-9.7h0m11.3-14.1h0m-1.9 33.9h0m9.1-9h0m-2.4-9.9h0m-16.8-1h0m18.1-4.2h0m9 8h0m-15.2 0.5h0m4.7-12.4h0m-2.3 9.7h0m6.1-13.2h0m-12.8 16.5h0m36.2-22.2h0m-25.1 18.1h0m-2.5 4.1h0m1.3-16.9h0m-0.8-5.5h0m-13.8-18.8h0m29.3 10.5h0m-28.5 13.4h0m30.5 7.6h0m-13.8 10.1h0m-22.1-6.7h0m19.9-12.7h0m0 34.2h0m1.5-21.3h0m-12.4-5.6h0m12.4-15.6h0m-16.3 4.1h0m3.9 14.5h0m16-19.8h0m-19.6 38h0m11.7-36.9h0m10.7-0.1h0m-19.5 33.7h0m24.5-40.3h0m-20.2 14.9h0m8-6.3h0m12.4-4.4h0m-10.4 17.7h0m3.3-17.9h0m-19 33.8h0m-5-11.6h0m-1.2-5.8h0m16.5-13.4h0m-4.6 4.2h0m14.5-5.7h0m-14.6 9.3h0m3.8-9.4h0m7.7 15.9h0m9.7-22h0m-25.6 17.4h0m-6.2 10.2h0m0.1-24.3h0m17.3 42.1h0m0.4-29.4h0m-2.6 4.5h0m-9.1 23.9h0m20.9-38.3h0m-2.6 0.8h0m-5.1 10h0m9.7-13.3h0m-11.6 37.5h0m-5.9-22.5h0m-3-9.5h0m7.6 14.7h0m-5.7 11.7h0m-4.5-11h0m9.9-5.6h0m-18.3 3.7h0m9.6 5.5h0m9.3-10.2h0m0.7 15.5h0m-2.8 4.6h0m-13-9.5h0m-5.9-16.8h0m28.7 5.6h0m-18.4 8h0m10.3-3h0m1.8 8.2h0m-7.3 11.9h0m7.3-11.6h0m-12.7 2.5h0m-10.5-11.4h0m24.9-13.4h0m-3.7 17.8h0m7.3-6.3h0m-5.1-18.1h0m-9.7 19h0m3.1 16.1h0m-4.9-24h0m17.7-3.6h0m-16.4 2.9h0m15.5 12.4h0m-24.5 3.5h0m6.5 5.2h0m9.7-16.4h0m-9.7 26.8h0m13.2-13.1h0m8.5-5.1h0m-17.4-2.1h0m-14.1 17.7h0m22.1-26.4h0m48-44.4h0m-52.5 60.6h0m12.5-6.8h0m-20.5-1.5h0m24.2-8.9h0m-18.1-10.8h0m-10.8 10.6h0m20.6 22.2h0m-11.2-8.2h0" stroke="#333" stroke-width="0.65" stroke-linecap="square" stroke-opacity="0.8" fill="none"/>
<path d="M262.8 326.5C262.9 324.8 263.2 322.9 264.1 321.3C264.9 319.6 266.3 318.1 268.0 316.7C269.8 315.3 272.4 313.9 274.6 312.7C276.8 311.5 278.9 310.4 281.1 309.4C283.3 308.5 285.9 307.5 287.7 306.8C289.4 306.2 290.8 305.5 291.6 305.5C292.5 305.5 293.2 305.8 292.9 306.8C292.7 307.8 291.1 309.5 290.3 311.4C289.6 313.4 289.0 316.1 288.4 318.6C287.7 321.1 287.1 324.1 286.4 326.5C285.6 328.9 285.0 331.3 283.8 333.1C282.5 334.8 280.9 336.1 279.1 337.0C277.4 337.9 275.2 338.5 273.3 338.3C271.3 338.1 269.0 336.8 267.4 335.7C265.7 334.6 264.2 333.3 263.4 331.8C262.6 330.2 262.6 328.3 262.8 326.5Z" fill="#000" filter="url(#b1)"/>
<path d="M197.1 437.6h0m-2.5 0.8h0m2.8 8.8h0m4.1-5.6h0m-14.7-1.7h0m-1.8 6h0m18.3-9.5h0m-14.2 4.7h0m0.1-3.6h0m14.7-1h0m-1-6.8h0m-4.9 5.8h0m1.8-4.1h0m-13.2 10.4h0m1.6 3.3h0m16.5-12.1h0m-0.4-4.7h0m-5.1 0.1h0m-8.7 9.9h0m5.2-7.6h0m15.2-5.3h0m-16.7 10.7h0m-2.4 1.4h0m8.2-2.8h0m-3.5-6.3h0m-10.7 12.2h0m12.3-6h0m-3.7-0.6h0m8.3-4.4h0m-2.1 1.8h0m-12.7 17.6h0m6.3-9.1h0m-1.3-4.1h0m-5.5 4.5h0m17-4.5h0m-9.4-0.3h0m1.4 10.9h0m7.4-9h0m-13.9-1.5h0m12.3 0.3h0m0.3 9h0m0.6-12.7h0m-11.6 3.5h0m3.1 0.7h0m4.8 3.2h0m-10.6-1.7h0m9.4 3h0m-3.6-2.3h0m-4.9 3.4h0m11.9-12.7h0m-6.3 7.1h0m-9.5 1.8h0m1.6-0.1h0m8.4-1.4h0m7.6-3.3h0m-9.1 1.6h0m-10.7 8.5h0m12.6-11.7h0m-11.1 10.5h0m16.9-8.1h0m-15.6 2.8h0m5 0.1h0m3.7 5.6h0m2.6-9h0m-5.3 8.8h0m1.1-0.5h0m-5-3.3h0m11-0.2h0m-6 0.6h0m2.7 2.5h0m2.2-7.3h0m-3-3h0m-6.5 10.8h0m14.9-16.1h0m-1.6 13.1h0m-7.9 4.7h0m3.9-3.4h0m-8.7 2.8h0m4.2-10.5h0m-0.3 11.2h0m5.7-6.6h0m-2.3 0h0m3.2-16.2h0m-2.9 14.8h0m-12.5 6.6h0m6.7-5.3h0m7.7 4h0m-4.8 2h0m7.1-5.3h0m0.4-2h0m0.8-2.3h0m-6.1 3.8h0m-3.4 7.5h0m3.3-8h0m-1.9 4h0m-2.1 1h0m5.2-11.8h0m0.7 2.8h0m0.7-1h0m2.1-1.9h0m-6.1 12.6h0m-3.2-9.6h0m-1.9 9h0m-0.2-0.2h0m12.6-8.1h0m-7.9-1h0m3.2 5.3h0m-0.7 6.8h0m-7.3 0.6h0m11.2-9.8h0m-12.4 1.7h0m8.2-0.9h0m-9.8 3.3h0m-2.4 4.1h0m9.8-4.9h0m2.1-8.8h0m4.1 4.8h0m5-8.3h0m-9.5 15.9h0m3.9-16.8h0m-18.3 17.2h0m15.9-2h0m-4.3 5h0m10.1-14.7h0m-10.1 8.8h0m8.6-6.4h0m-15.4 7.8h0m0.1-2.6h0m4.2 7.5h0m12.9-16.4h0m-18.1 10.4h0m8.6-10.7h0m0.3 9.1h0m-3.6-4.5h0m-4.4 8.3h0m5.5-5.3h0m3.9-3.3h0m1.8-2.4h0m-5.9-0.6h0m-1.4 3.2h0m8.2 11.3h0m-3.2-7.4h0m-5.9 1.5h0m4.2-2.8h0m9.9-6.8h0m-11.9 8.4h0m-1 0h0m9.5-10.4h0m-4.7 12.2h0m5.3-4.1h0m-4.8 1.7h0m-6.2-4.5h0m12.2-1.4h0m-12.2 5.7h0m8.1-0.2h0m-5.2-6.7h0m-4.5 12.2h0m12.5-12.6h0m-9.3 10.4h0m-0.2 3.5h0m-2.9 0.1h0m0.8-6.7h0m3.5 5.5h0m-3-1.1h0m8.7-11h0m0.3 1.3h0m5.3-6.6h0m-7.1 5.3h0m-14.1 7.3h0m5.8-1.7h0m3 3.5h0m6 3.4h0m1.4-9.1h0m-7.4 3.1h0m-0.5-1.5h0m1.1-5.2h0m3.8 10.5h0m-6-6.5h0m-2.8 5.2h0m11 0.9h0m-13.9 6.6h0m8.2-7h0m6.4-6.3h0m0.6 8h0m-0.4-4.1h0m-5.6-6.7h0m7.4 6.9h0m-2.8-7.8h0m1.7 1.1h0m-7.4 8h0m2.7-4.4h0m5.5-0.3h0m-7.8-0.3h0m6.4 1h0m-3.7 5.6h0m-5.5 0.4h0m-4.5-1.8h0m-0.4 3.5h0m6.3-3.6h0m7.5-3.5h0m-7.3 6.4h0m11.6-13.5h0m-5.6-1.8h0m-1.2-1.9h0m-5.6 8.6h0m7.3 1.5h0m4.2 1.9h0m-0.7 4.5h0m0.6-1.7h0m2.7-10h0m-8.2 11.3h0m-0.3-6.9h0m-1.4 1.2h0m-0.4 1.3h0m6.9-9.1h0m2.3 4.5h0m-3-5.5h0m-1.3 2.1h0m-4.9 10.3h0m0.9 4.1h0m5.9-3.8h0m1.4-10.5h0m-7.8 5h0m6.4 2.1h0m-6.2-3.4h0m-4 7.6h0m-0.5-6h0m7.1 2h0m9.7-7.8h0m-16.3 15.2h0m2.4-5.4h0m3.7 2.3h0m-1.2-5.5h0m-4.7 3.8h0m9.1-6.5h0m-3.1 8h0m2.9-9.4h0m-13.5 8.8h0m5.2-7.4h0m11.5-5.4h0m-7.3 15.7h0m1.5-9.5h0m5.3 5.8h0m-9.8 4.2h0m7.9-16.1h0m-7.2 8.1h0m-1.4 7.2h0m-5.5-3.3h0m15.7 3.4h0m-3.1-0.1h0m-3.5-6.1h0m5.8-9.6h0m-10.4 14.4h0m-9.5 0.7h0m4.2 2.2h0m-0.8-0.9h0m0.1-6.7h0m12.4-1.8h0m0.3 5.1h0m-8.3 0.1h0m0.5-1.7h0m-3.2 0h0m-2.2 0.6h0m15.5-4.1h0m0.9 3.6h0m-4.1-6.6h0m1.1 8.4h0m6.4-7.4h0m-5.1 0h0m-5.9-1.7h0m-3.7 7.7h0m16.8-15.4h0m-13.4 11.8h0m-3.5-1.5h0m11.8-1h0m-3.8-0.8h0m-6.1 0.5h0m9.3 8.4h0m-12.4-0.9h0m0.9-3.7h0m13.7-5.9h0m2.6 2.3h0m-4-3.4h0m-10.4 14.3h0m-2.9-5.5h0m2.4 3.3h0m10.6-15.8h0m-6.6 8.6h0m5.3 2.8h0m3.4-3h0m-13 2.2h0m-0.4 4.1h0m9.6-0.1h0m1-11.1h0m4.5-1.4h0m-12.3 13.3h0m6.4-14.1h0m3.3 11.7h0m-14.6 1.7h0m-0.7 0.2h0m17.2-11.5h0m1.6 0.9h0m-16.7 11.3h0m-0.7-0.6h0m12.6-11.4h0m-3.5 4.5h0m4.4-3.5h0m-9.4 6.6h0m4-5.7h0m3.4 7.2h0m-6 4.5h0m3.3-13.7h0m-4.3 13.9h0m4.8-8.5h0m7.2-3.7h0m-25.3 10.4h0m16-10.7h0m2 7.6h0m4.1-12h0m-1.7 8.1h0m-10 8.6h0m4.7 0.6h0m4.8-9.4h0m-5-2h0m-7.1 4.2h0m15.4 1.2h0m-9.2 5.6h0m-9.2-3h0m11.3-7.8h0m-1.8-0.9h0m2.7 1.5h0m5.2 0.9h0m4.1 4.9h0m-18.3-1.8h0m-0.3 2.7h0m6.2-2.9h0m10.2 2h0m-8.8-4.2h0m-0.1-0.2h0m-3 8.4h0m6.1-5.5h0m-11.9 2.5h0m13.6-12h0m-2.4 15.3h0m-0.1-13.4h0m4.8-1.3h0m-6.9 17.7h0m-1.2-3.7h0m5.1-10.2h0m-2.9 0.7h0m-0.6-2h0m3 7.3h0m-6.8-4.2h0m11.8 3.1h0m-6.2 7.1h0m1.6-13.8h0m-1.5 3h0m-5.2 5.7h0m9.8-8.5h0m-4-0.2h0m6 2.7h0m-10.7 3.1h0m2.5 3h0m-0.2 7.8h0m5.4-14.3h0m-16.8 8.7h0m9.1-5.2h0m1.4 4.7h0m2.5-12.3h0m-4.1 4.8h0m5.8-2h0m-10.5 11.9h0m10.3-11.9h0m-4.2 8.8h0m8.5-11.9h0m-6.1 15.6h0m-3.1 0.3h0m5.3-5.2h0m2.5-1.4h0m-9.4-4.3h0m10.3 0.8h0m4.5 1.7h0m-10.8 3.4h0m-6.8 2.5h0m6.3-10h0m1.1 10.6h0m-5.9-8h0m-8 4.2h0m11.7-6.3h0m-2 1.6h0m12.1-4.1h0m-6.4 7.8h0m-12.5 6.7h0m7.9-6h0m-2 7.2h0m-3.1-7.9h0m-0.1 7.6h0m11.4-21.3h0m-0.1 1.1h0m-3 11.7h0m-4.6-4.3h0m12.5 7h0m-14 1.3h0m4.4 2.8h0m8.4-12h0m-7.3 10.8h0m6.4-10.3h0m1.4 1.7h0m-11 4.2h0m0.3-2.9h0m-9.6 3.3h0m4.1 1.8h0m13.5 0.2h0m-2.4-10.1h0m5.1 3.4h0m-13.6 1.8h0m7.5 1.4h0m3-1.5h0m2.3-7.3h0m0.9 1h0m-9.9 9h0m-0.2-6.3h0m1.8-0.3h0m-10.2 5.3h0m18.6-11.4h0m-3.4 0.7h0m-2.8 6.4h0m-8.3 12.1h0m4.9-8.3h0m-4.8 5.5h0m0.6-6.9h0m3.7 2.6h0m7.4-3.1h0m-11.1 4.1h0m6.7 0.1h0m-13.5 5.7h0m9.2-8.6h0m-4.1 2.2h0m11.3-5.1h0m3.6-1.1h0m0.5-4.2h0m-5.4-0.5h0m-9.9 13.9h0m0.6-7h0m-1.8 3.5h0m14.8-4.4h0m-14.7 15.1h0m4.3-8h0m6-9.1h0m6.6 5.1h0m-13.3 2.3h0m10-0.5h0m-8.6-5h0m10.7-3.4h0m-6.3 1.5h0m7-4.2h0m-5.6 7.5h0m-10.5 1.4h0m-1.8 1h0m20.6-6.6h0m-20.4 9.5h0m12.6-9.3h0m-12 8.4h0m10.7 1.9h0m1.6-0.6h0m-13.2 0.6h0m16.2-8.7h0m1.6 6.2h0m-6.6 4.2h0m3.2-13.8h0m2.6-0.9h0m-9.5 16.3h0m8.1-8.8h0m-11.8-1.5h0m0.5 2.1h0m8.8 1h0m2.4-7.3h0m2.6 9.7h0m-9-5.5h0m4.2-4.9h0m-8.8 16.5h0m9.2-8.9h0m-1.7 2.6h0m-5.5-1.4h0m-2.2-4.7h0m3.7 7.6h0m4.3-6h0m-1.7 1h0m10.2-0.2h0m-14.3-2.1h0m3.4 8.6h0m3.3-13h0m1.8-1.7h0m-3.4 2.1h0m2.8 6.6h0m-3 2h0m0.1-9.4h0m-8.6 14h0m10.4 4.9h0m-6.3-10.5h0m6.6-9h0m-0.5 6.3h0m-0.8 7.6h0m6-15.2h0m-11.8 6.7h0m-6.6 11.4h0m-4.3-0.6h0m18.5-5.2h0m-12.5-1.4h0m15.7-5.4h0m-6.7 12.4h0m-5.2-4.8h0m7.9-5.3h0m1.5-2.6h0m-8.5 6h0m-4-2h0m9.4 0.8h0m2.1-2h0m-13.1 3.5h0m-3.1 2.5h0m1.1 2.4h0m4.8-4.3h0m3.3-3.7h0m2.1 8.9h0m3.6-14.4h0m-2.4 0.3h0m-2.8 13.3h0m4-1.8h0m1.2 2.6h0m-0.8-5.4h0m0.1-9.3h0m1.3 2.2h0m-0.8 11.3h0m-8.5-0.9h0m12.9-6.8h0m-12.7 2.7h0m12.1 7.7h0m-2.1-17.9h0m-2.7 15h0m-14.3 2.4h0m11.8-1.3h0m11.9-7.1h0m-16.2 4.4h0m0.9 2.3h0m-0.3-8.2h0m8.1-3.6h0m4.3 2.3h0m-15.3 4.4h0m8.5-2.2h0m2-3.9h0m0.5-3.6h0m-2.8 5.3h0m1.5 4.3h0m-5.9 4.6h0m5.4 0.5h0m3.3-8.9h0m1.4-1h0m-8.2 11.5h0m1.6-10h0m-3.5 8.2h0m7.8-5.8h0m-3.6 5.7h0m4.8-4.6h0m-16.2 2.8h0m5.6 2.6h0m11.3-3.5h0m-8.6-8.3h0m-3.5 9.5h0m8 4.6h0m3.3-9.9h0m-16.5 3.9h0m14 3.1h0m3.4-7.9h0m-0.9-7h0m-11.6 8.4h0m-1.6 5.8h0m2.3-1h0m3.3-3.7h0m10.7-1.6h0m-3.5 3.6h0m-16.4 1h0m18.1-9.6h0m-14.7 9.1h0m3.7 1.2h0m-1.4-4.5h0m7.8-5.4h0m-1-1.8h0m4.5 0h0m1.7 8h0m-3.4-4.1h0m-8.1 9.8h0m-3.8-7.2h0m-4.6 9h0m13.5-7.1h0m7.9-11.4h0m-4.8 14.4h0m0-1.2h0m-9.6 8.4h0m7.4-8.7h0m-4.6 1.5h0m5.3 3.7h0m0-14.1h0m2.2-3.1h0m-5.4 16.5h0m-6.1-2.6h0m0.7 0.8h0m9.9 0.7h0m1.1-4.3h0m-2.9-10.9h0m-3.3 11.6h0m6.1-2.4h0m6-3.5h0m-7.6-5.6h0m2.7 10.9h0m-1.5-8.1h0m-7.4 13.2h0m2.7-9.8h0m-5.4 8.6h0m3.5-8h0m-3.4 3.7h0m-8.1 1.3h0m8.4 0.8h0m10.2-3.6h0m-11.7 9.2h0m8.1-11.8h0m-0.6 0.2h0m0.6 10.5h0m2.8-4.1h0m-10-0.9h0m12.2-5.1h0m-12.6 4.5h0m-2-2.3h0m9.1 7.3h0m0.1-7.7h0m-11.6 5h0m20.9-5.2h0m-5 5.2h0m-3.3-11.4h0m-5 8.5h0m2.6 6.8h0m3.3-6.2h0m-10.9 1h0m6-0.1h0m6.8-0.8h0m-5 0.5h0m5.1-3.4h0m-2.7-7.3h0m-8.5 10.6h0m13.3-8.1h0m-3.6 4.5h0m-14.6 7.9h0m17.9-13.4h0m-12.7 6.2h0m13.8-5.4h0m-11.4 0.1h0m9.8 3.9h0m-7.2 5.5h0m4.4-1.5h0m-1.5-8.7h0m-6.9 15.1h0m8.8-0.6h0m-8.6-10.6h0m9.9 7h0m-9.3-5.2h0m5.6 7.4h0m7.5-10.7h0m-6.1-4h0m2.5 3.1h0m-12.8 7.8h0m12.1 2.1h0m-1.2-8.5h0m-9.7 5.3h0m-0.3-2h0m4.2 2.7h0m8.4 0.7h0m-3.8 4.5h0m-17.3-1.4h0m19.5-11.8h0m-3.4 12.2h0m-1.2-8.2h0m1.2 2.8h0m-6.5 3.3h0m7.4-9.3h0m0.1 10.7h0m-9.4 0.1h0m4.9 0.8h0m2.1-11h0m1.7 11.8h0m2.5-12.1h0m-1.9-0.9h0m-8.2 13.8h0m5.9-8.7h0m-2.1-3.4h0m13.8-7h0m-10.8 10.7h0m-7.5-0.7h0m7.4-2.6h0m0.7 0h0m-14.6 9.7h0m11.7-11.6h0m12 3h0m-11.9 7.6h0m-2.9-4.2h0m5.7-1h0m10.4 0.3h0m-26.6 5.2h0m20.4-4.1h0m-1.8-7h0m-0.6 8.1h0m4.5-10h0m0.6 12.1h0m-13.7 0.4h0m6-9.7h0m3.4-1.7h0m-8.4 11.5h0m10.9-15.7h0m1.8 6.8h0m-1.5 9.7h0m-12.3-6h0m7.6-5.6h0m-8.3 10.3h0m10.8-11.6h0m-1.4 2.7h0m3.4-12.8h0m-1.8 19.4h0m-6.5-0.7h0m0.4-3.9h0m4.3 4.3h0m-7.7 1.7h0m11.9-1.7h0m2.2 2.1h0m-3.7-3.5h0m1.5-1.7h0m2.5-3.1h0m-6.1-3.7h0m-0.6 11.4h0m-1.8-3.9h0m-8.9 3.2h0m3.5 2.7h0m4.8-12.6h0m-2.7 2.3h0m3.8 11.6h0m-9.9-6.6h0m3.5 2.3h0m-0.2 5.5h0m4-4.4h0m0.8 3.4h0m-4.3-9.2h0m0.5 2.9h0m4.8-3.6h0m-2.1-0.3h0m0.9 0.3h0m-0.5-4.1h0m-8.1 12.8h0m4.1-2.9h0m10.8 0.7h0m-11.5-2.7h0m13.9-1.6h0m-6.6 1h0m-5.2 8.8h0m4-11.4h0m-4.4 4.4h0m2.8-2h0m-5.8 6.3h0m4.8-4.5h0m-0.3 1.5h0m-3.9 1.7h0m-0.6 2.6h0m8.5-3h0m-4.4 4.5h0m11.1-8.5h0m-6.5 0.4h0m1.9 3.7h0m1 0h0m-11 0h0m3.8-7h0m-8.2 2.8h0m7.1 0.9h0m-4.2-3.1h0m10.4 7.5h0m-3.5-0.6h0m-0.2-5.2h0m-3.7 6.4h0m1.4-7.7h0m0.9 4.4h0m-4.7-3.5h0m4.9-3.2h0m10.2-0.9h0m-3.2 4.7h0m-1.9-5.8h0m3.6 3.3h0m-9.1 3.1h0m7.8-5.9h0m-9.3 6.4h0m0.1-2.9h0m-4.6 2h0m13.1 3.6h0m4.9-11.8h0m-8.3 6.3h0m2.6 0h0" stroke="#1a1a1a" stroke-width="0.75" stroke-linecap="square" stroke-opacity="0.85" fill="none"/>
<path d="M196.4 439.2h0m-14-4.1h0m1.8 14.4h0m12.7-15.3h0m-4.4-0.7h0m2.5 13.9h0m1.8-10.8h0m11.6-15.6h0m-17 23.5h0m6.1-11.8h0m-3-0.6h0m12-4h0m-25.7 13.9h0m13.9-1.5h0m7.9-12h0m-4.7 3.2h0m-11.6 8.8h0m-2.2-1.8h0m17.4-8.7h0m-18.1 8.5h0m22.3-10.3h0m-14.5 13.2h0m-11.6 3.9h0m11.3-6.2h0m13.7-1.1h0m-14-0.7h0m2.1-1.5h0m15.6-7.9h0m-20.2 1.5h0m17.1-4h0m-6.3 6.2h0m-5.4 4.9h0m6.3-8.8h0m-15.7 10.9h0m1.8 0.5h0m19.9-3.1h0m1-10.8h0m-8.9 12.4h0m-1-1.3h0m6.5-11.7h0m-11.3 6.5h0m2.9-2.2h0m8.9 9.6h0m-20.1 1.3h0m3.2 4.7h0m3.6-10h0m1.3 0.5h0m8.6 3.7h0m2.2-17.8h0m-4.2 22h0m6.4-15h0m3.3-5.4h0m-14.1 12.8h0m-5.1 5.7h0m1.2 2.9h0m3.6-3.3h0m-9.8 3.7h0m18-14.4h0m0.8-2h0m-12.1 8.7h0m0.7-6.3h0m-1.3 8.4h0m5.6-2.1h0m-14 6.2h0m26.4-10.2h0m-16.3 3.7h0m0.8-1.8h0m9.2 5.1h0m-1.5-12.5h0m1.5 4.6h0m3.3 2.5h0m-12.8 4.5h0m5.5 2.7h0m-2.5-11h0m-8.7 11.9h0m-3.3 10.2h0m24.5-23.7h0m-28.1 20.4h0m17.9-19.2h0m-16.8 13.3h0m23.3-15.8h0m-6.2 8.6h0m-0.5-3.7h0m9 0.3h0m-2.7 3h0m-14 5.4h0m7.4 5h0m6.7-15.7h0m4.1 1.6h0m-22.4 19.2h0m0.7-8.2h0m11.3 1.5h0m3.5-14.8h0m-5.2 8.9h0m-1.8-0.8h0m0.9-5.9h0m1.6 11.1h0m-15.4-3.5h0m27-9.3h0m-18.1 0.4h0m7-6.8h0m-3.6 2.7h0m-5.1 14.3h0m11.1 0h0m-19 2h0m6-5h0m9 8.1h0m-5.8-10.1h0m10.2 0.5h0m-5.8 4.9h0m-2.7-1.7h0m-5.2 4.6h0m7.6-9.4h0m-5.2-2.6h0m9.9 3.4h0m1.2 1.1h0m-6.3-5.7h0m5.4 6.3h0m4.2 2.7h0m-10.8-7.2h0m1.4 4.5h0m13.8-14.6h0m-5.9 11.1h0m-14.4 2.7h0m15.1-6.8h0m-6.2 10.7h0m6.1-12.2h0m-14.8 4.1h0m-6.8 3h0m17.8 4.1h0m-5.9 7.4h0m-5-7.3h0m8.6-4.6h0m10.3-11.3h0m-11.6 10.2h0m-6.2 11h0m0.2-5.9h0m9.4-5.3h0m5.8-3.2h0m-3.2-0.5h0m11-3.5h0m-9.4 13.5h0m6.7-8.8h0m-13.6 8.4h0m-11.1-0.5h0m15.8-7.3h0m-19.7 11.7h0m7.9 4.3h0m5.4-15.3h0m1 4.5h0m3.2 5.7h0m4.4 5.5h0m-4.2-13.3h0m-12.3 7.4h0m-3.2-0.6h0m19.1-15.6h0m-9.8 24.6h0m-4.1 1.5h0m17.8-22.9h0m-22.5 13.4h0" stroke="#333" stroke-width="0.65" stroke-linecap="square" stroke-opacity="0.8" fill="none"/>
<path d="M186.6 439.6C186.7 438.9 187.4 437.5 188.2 436.6C189.0 435.6 190.1 434.7 191.2 433.9C192.3 433.1 193.7 432.4 195.0 431.6C196.2 430.9 197.8 429.8 198.8 429.3C199.9 428.9 200.6 428.5 201.1 429.0C201.6 429.4 201.8 430.8 201.8 432.1C201.8 433.3 201.6 435.2 201.1 436.6C200.6 437.9 199.9 439.5 198.8 440.4C197.8 441.4 196.2 442.0 195.0 442.3C193.7 442.6 192.4 442.5 191.2 442.3C190.0 442.1 188.5 441.6 187.8 441.1C187.0 440.7 186.5 440.4 186.6 439.6Z" fill="#000" filter="url(#b1)"/>
<path d="M269.4 436.5h0m22.5-5h0m-16.9 11.1h0m6.3 5.1h0m-10-9.1h0m-13.2 14.6h0m12-0.4h0m14.9-19.1h0m-10.8 10.2h0m-0.2 12.7h0m-5.5-8.6h0m10.6 7.8h0m7.6-20h0m-5.9 12.1h0m-0.5-7h0m-3.9-6.3h0m-12.8 15.9h0m11.7 9.5h0m1.3-14.8h0m-13.1 7.7h0m17.1-21.3h0m-5.5 24.6h0m-13.1-9.2h0m18.8-14.2h0m-11.3 14.5h0m9.8-14.1h0m-9.5 5.2h0m6.5 16.3h0m4.3-0.1h0m-0.6-1.5h0m-13.1-7.9h0m23.1-13.7h0m-5-1.3h0m-17.5 20.6h0m23.9-27.9h0m-10.2 28h0m6.6-24.1h0m-14.6 29.5h0m5.7-2.8h0m-10.4-11h0m13.2 13.9h0m-14.4-4.2h0m3.2-4.9h0m16.1-4.8h0m-19.9 6.1h0m4.6-9.1h0m9.8 1.1h0m-18 7.7h0m23.1-12.9h0m5.5 5.5h0m-22.5-1.9h0m9.9 8h0m8.3-5h0m7.9-22h0m-19 26.8h0m-8.8 1.5h0m3.7-16.3h0m-6.1 10.7h0m19.7-15.2h0m-16.1 21.4h0m15.5-12.2h0m-6.9-4.5h0m3.9 24.2h0m-11.5-1.8h0m16.4-22.2h0m-15.8 13.7h0m21.4-22.5h0m-30.2 19.3h0m20 12.9h0m-11.1-9h0m-5.6-7.2h0m29.4-13.1h0m-26.7 20.8h0m13.1-10.3h0m11-10h0m-18.9 9h0m20.9-15h0m-13.9 27.1h0m4-9.7h0m-23.2 13.5h0m13.3-6.5h0m7.8-15h0m-14.6 17.1h0m20.3-3.1h0m2.6-12.2h0m-12.8-1.3h0m6.5 7.3h0m-14.3 1.8h0m-1.9 19.1h0m14.9-13.9h0m-2-1.5h0m-14.4-0.1h0m12.4-13h0m-3.5 2.3h0m6-0.9h0m-9.8 13.6h0m17.8-12.9h0m-18.4 6.4h0m5.4-1.6h0m4.4-3.6h0m12-6.6h0m-24.3 17.7h0m-1.4-4.9h0m12 0.4h0m4.8 1.9h0m-9.3 1.5h0m-0.5-3.6h0m-4.9 13.4h0m5.3-16.5h0m-6.8 3.2h0m19.9-4.9h0m-15.5-1.7h0m-2.4 9.6h0m10.8-3.8h0m8.8-12.6h0m-16.1 14h0m10.5 5.2h0m-13-3.4h0m16.7-16.1h0m-5.3 21.8h0m2.9-15.2h0m-23 21.9h0m20.1-22.3h0m-12.8 8.4h0m5.5-1.1h0m-2.6 0.6h0m-3.5-2.4h0m16-1h0m0.8-5.4h0m-17.3 17.8h0m6 4.7h0m-6.2-11.2h0m17.5-9.4h0m-14.5 9.2h0m4.5 6.8h0m0-0.8h0m11.3-17.3h0m-4.7 1.5h0m-1.4 22.9h0m9-25.6h0m-7 17.5h0m-11.2-7.2h0m2.8-6.1h0m7.8 12.5h0m-5 1.8h0m-7.5-16.8h0m6 21.5h0m-7.1-8.8h0m5.2 2.3h0m10.8-17.3h0m-16.5 17.9h0m-1.1-7.1h0m17.3 5.3h0m-5.1-16.2h0m-11.5 12.9h0m3.1 11.3h0m9.7-3.9h0m-9-11.5h0m2.6-5.8h0m9.5-1.6h0m-7.1 8h0m11.8 4.4h0m-25.5-4.4h0m13.5 10.2h0m2.5-9.8h0m-6.9-4.1h0m9.5-2.3h0m-12.2 14.2h0m-1.4 2.7h0m16.5-19.4h0m-1.5 4.4h0m-15.2 11.5h0m21.2-17.8h0m-10.6 10.1h0m-2.4-2.5h0m13-3h0m-11.4 18.3h0m18.7-30.2h0m-31.7 24.9h0m27-8.4h0m-16.3 2h0m-7.4 12h0m0.6 4.1h0m12.9-19.2h0m1.9 7.2h0m-18.5-2h0m7.3 6.4h0m8.3-2.9h0m-12.2-7.5h0m18.5 4.8h0m-4.1 4.8h0m7.8-17.5h0m-10.9 22.7h0m-11.5 5h0m3.4-2.6h0m1.4-3.6h0m13.7-10.8h0m-4.8-4.1h0m2.5-6.9h0m-10.9 7.7h0m8.3 11h0m-3 6.3h0m-12.2-3.3h0m18.5-17.4h0m-12.5 14.6h0m16-23h0m-11.9 28.3h0m11.5-23.1h0m-3.5 22.3h0m0.3-4.1h0m-19.4-2.4h0m22.3-2.4h0m-11-11.1h0m-5.5 15.4h0m6.2-16.7h0m-1.5 0.4h0m11.9 0.2h0m-9.8 14.7h0m-10.1-0.4h0m10.8-3.5h0m-2.3-6.4h0m0.8 14.5h0m-2.2 1.1h0m4.9-5.6h0m-3.6 3.6h0m-13.8-8.3h0m8.3 11.8h0m1.2-19.9h0m8.8-5.1h0m-18.3 21.7h0m16.9-3.9h0m-13.6 0.2h0m15.9-13h0m-5.8 4.7h0m14.1-10.4h0m1.2-1.4h0m-8.9 9.1h0m-11.9 11.7h0m17.7-13.9h0m-19.8 8.8h0m12.1 5.9h0m-3.8 5.9h0m1.5-23.3h0m-9.7 8.2h0m7.4-2.4h0m8.8 5h0m-16.8 4.5h0m11.4-13.1h0m0.4 28.8h0m7-14.6h0m-22.2-0.7h0m17.2 6h0m7.2-8.1h0m-0.9-12h0m-12 3.6h0m11.8 15.7h0m-10.8-22.6h0m-2.4 16.5h0m6.3-9h0m-6.8 6.7h0m-1.6-13.9h0m1.1 18.1h0m-2.9 7.5h0m11.1-26.5h0m-11.2 21.5h0m11.5-1.8h0m-5.3-0.1h0m17.2-28.5h0m-26.6 38.3h0m14.3-27.4h0m5.7 9.1h0m4-3.2h0m-7.4-3.8h0m-10.5 8.6h0m-5.8-3h0m10.6-1.5h0m10-9.1h0m-16 23.3h0m-7.9-12.2h0m19.9 20.5h0m-1.4-16.9h0m0.8-2.8h0m-19.4 13.8h0m16.6-11.4h0m-11.7 3h0m5-3.1h0m-11.9 4.2h0m19.8 4.7h0m-21.2-5.4h0m13.2 5.4h0m21.8-34.1h0m1.1 3.3h0m-4.4 2.5h0m-5.5 17.1h0m-14.1 8.9h0m12.7-3.3h0m-6.7 6.5h0m-1.1 0.5h0m-7.7 0h0m25.4-32h0m-14.8 22.3h0m6.6-15.8h0m-19.9 29.9h0m11.8-5.6h0m-12.9 0h0m1-0.5h0m28.6-29.3h0m-24.1 37.1h0m16-29.8h0m0.6 13.2h0m-17.6 11.4h0m10.9-7.5h0m-14.1-8.3h0m0.7 12.3h0m4.6 1.5h0m9.3-13.2h0m-9.9 6.5h0m4.7 3.7h0m-14.2 4.1h0m4.4 3.9h0m15-6.2h0m0.5-4.9h0m-11.6-3.6h0m15.8-13h0m-0.3 5.9h0m-12.8 3.6h0m12.9-9.4h0m-18 15.2h0m1.2-8.1h0m12 10.3h0m-5.2-7.4h0m-3.7 10h0m4-17.5h0m3.8 24.2h0m-14.7-5.4h0m13.5-17.5h0m-7.5 2h0m0.7 16.2h0m4.6-0.5h0m5.8-21.6h0m-10.6 11.2h0m-1.4 9h0m16.3-24.5h0m-10.6 16.1h0m-4.8 7.8h0m8.2 0.9h0m-3.4-13.9h0m-10.3 10.9h0m29.3-17.2h0m-10.9-3.5h0m-19 26.6h0m8.7 1.7h0m6.4-21.2h0m7-0.1h0m-15.6 25.7h0m4.1-14.9h0m10.3-13.1h0m0.7-5.3h0m-19.2 15.8h0m-7.2 18.9h0m11.2-20.8h0m-2 9.6h0m10.4 4.2h0m-0.9 3.9h0m-10.2-13.4h0m-4 19.5h0m19-21h0m-6.3 15.5h0m7.4-15.8h0m0.4-13.7h0m-14 11.4h0m-3.8 8.5h0m2.2 5.3h0m-4-8.3h0m14-4.2h0m5.4 4.6h0m-3.3-12.1h0m7.7 6.1h0m-20.8 8.3h0m-1 7.3h0m11.3-5.5h0m-0.1-4.1h0m-12.1 7.6h0m10.9-17.6h0m-12 4.8h0m11.2-4.4h0m10.9-0.6h0m-1.1-7.5h0m2 6.5h0m-1.5 5.1h0m-3.3 3.4h0m-4-9.1h0m-5.5 0.4h0m-1.5 7.2h0m3.6 6.6h0m-6.9 12.6h0m17.7-17.5h0m-17.4-8.7h0m1.9 0.9h0m-0.5 9.1h0m12.4-0.1h0m-10.6 1.8h0m6.7-13.3h0m-3.6 2.6h0m-3.6 22h0m-11.4-11.4h0m16-7.2h0m-1 18.9h0m5.2-10.5h0m-3.6-7.2h0m7.2 6.8h0m-13.9 2.2h0m12.5-19.4h0m-2.9 7.3h0m-7.8-5.1h0m8.2-0.6h0m-9.7 19.7h0m6.2-10.2h0m-2.1 15.4h0m14.5-26.8h0m-18.4 25.1h0m2.2-13.2h0m5.6 4.9h0m1.6-0.9h0m-19.8-0.9h0m7.1 6.8h0m-3-3.8h0m16.5 2.5h0m0.3-10.8h0m-2.4 8h0m4.4 1.2h0m-0.1-18.4h0m-9.7 10.3h0m9.1 9.1h0m12.9-29.3h0m-26.9 32.9h0m9.4-8.5h0m-16.3 16.6h0m18.5-11.9h0m-5.2-6h0m8.6-5.4h0m0-3.8h0m-20.1 12.6h0m11.9 6.3h0m1.5-3.2h0m6.9-21.6h0m-25.5 18.8h0m22.8-6.2h0m8.8-13.7h0m-15.8 19h0m10.4-8.9h0m-21.2 28.1h0m9.1-24.9h0m-10.1 16.9h0m20-25.7h0m1.7 0.6h0m-17.3 11.5h0m19.5-14.4h0m-16.3 17.7h0m6.3 5.8h0m0.2-5.5h0m13.4-22.9h0m-18 13h0m8.3 1.8h0m-11.3 12.6h0m20.4-30.8h0m-12.5 12.6h0m-11.3 22.4h0m9.6-16.5h0m7.2 2.8h0m-1.4 5.3h0m-21.4 9.1h0m24-12.5h0m-11.9 6.8h0m26.1-28.6h0m-30.5 24.7h0m-1.7 15h0m8-23h0m-8.9 14.1h0m27.6-30.5h0m-22.5 16.3h0m-11.8 5.8h0m9.7-1.6h0m13 8.9h0m-3-19.1h0m-13.8 14.8h0m8.4-4.3h0m1.5 17.3h0m-14.7-7.2h0m8.3-11h0m6.4-6.5h0m2.3 2.8h0m3.8 12.9h0m2.1-16.8h0m-12.7-1.2h0m9 5.5h0m-1.4 3.6h0m9.7 1.3h0m-3.9 0.4h0m11.5-23.6h0m-19.8 12.4h0m6.2 6h0m-8.5-1.5h0m7.5-6.7h0m-1.5 18.4h0m-8.4-13.5h0m-0.6 15.3h0m10.8-8.2h0m-4.8-3.9h0m8.3-0.2h0m-11.1 0.8h0m4 5.4h0m-8.7-1.6h0m-7 1.1h0m6.6 5.3h0m18.8-9.1h0m-13.4 18.7h0m-9.4-16.1h0m15 5.9h0m7-6.6h0m-2.7 7h0m8.1-23.6h0m-10.2 9.7h0m0.4 2.5h0m-16.7 21.2h0m14.4-16.5h0m-14 3.4h0m12 12.2h0m-15.7-6.9h0m30.5-27.3h0m-6.1 2.5h0m-2.4 3.3h0m-0.4 1.7h0m-2.2-1.3h0m-4.8 26.3h0m-11.3-7.5h0m22.6-22h0m-12.7 8.7h0m1 2.7h0m-12.9 14.2h0m5.3-7.2h0m13.6-17h0m2.3 2.2h0m3.3 2.7h0m4.5-10.5h0m-11.3 9.1h0m2.8 15.1h0m-6-11.4h0m2.4 22.8h0m-16.1-3.3h0m15.6 2.3h0m2.8-22.7h0m5.8 6.5h0m-0.7-17.3h0m-4.6 16.1h0m-16.3 11h0m10.4-15.7h0m-3.5 4.1h0m-6.7 7.5h0m-3.2 2.1h0m30.4-30.9h0m-6.6 40.7h0m-13.2-21.3h0m16.8-11h0m-24.2 35h0m-4.9-13.2h0m6.4 2.2h0m10.8-14.7h0m3.6-1.4h0m-5 0.5h0m-1.6-3.8h0m-14.2 21.3h0m24.2-7.8h0m-11.8 2.4h0m10.9-18.6h0m-5-0.5h0m6.2 12.6h0m16.7-27.5h0m-17.3 32.5h0m-5.3-6.3h0m-8.6 14.7h0m-6.6-10.9h0m20.1-3.8h0m-11.8 7.3h0m13.6-10.8h0m-6.3-5.7h0m-8.5 16.5h0m12.8-3.2h0m-21.9 13.2h0m25.6-24.8h0m-15.6 10.2h0m6.3 6.7h0m-8.1-11.2h0m13.8-1.4h0m-7-2.7h0m7.4-4.5h0m-12.5 9h0m8.9 3.3h0m-0.3-0.7h0m-3.4-3h0m8.9-5.5h0m-14.5 22.8h0m14.1-27.3h0m-12.2 22.3h0m-3.8-18.5h0m13.1 1.5h0m-7.7 10.5h0m7.1-1.1h0m-22.2 2h0m8.8-3.6h0m3.4 2.7h0m18.2-15.8h0m-10.8 17.7h0m4-21.6h0m-8 11.7h0m-5.4 14.8h0m7.8-5.3h0m4.1-18.5h0m-5.3 13.2h0m7.1 3.1h0m0.4-12.3h0m-7.3 1.1h0m2.3 7.5h0m8.5-8.4h0m-4.3 4.6h0m-17.9 20.4h0m25.6-30.7h0m-18.8 7h0m1.8 14.4h0m-0.3-8.6h0m3.4 22.9h0m6.4-16.7h0m-7.5 4.1h0m-11 2.5h0m8.8-18.7h0m9.9 0.2h0m-15.5 13.1h0m-8.6 1.9h0m11.8 5.1h0m-0.7-18.6h0m-1.5 8.7h0m14.1-1h0m-3.6 6h0m0.9-10.5h0m-13.3 2.5h0m14.1 2.4h0m-2.2 15.6h0m-2.4-10.9h0m2.9-10.9h0m-20.8 17h0m7.4 7.2h0m6.3-17.6h0m0.8-7.5h0m-13.8 15.4h0m12.5 6.7h0m5.7-19.6h0m-3.2-0.7h0m3.2 22.3h0m-2.2-22.3h0m-11 17.8h0m23.8-24h0m-14.8 9.6h0m3.1 7.1h0m-12.4-1h0m21.2-9.9h0m-23.7 8.4h0m14.8-5.2h0m-12.9-1.3h0m14.4 19.7h0m-2.7-24.8h0m3.7 14.7h0m-15.3-1.1h0m11.6 0.3h0m2.3 3.4h0m9.6-12.4h0m0.1-11h0m-20.6 25.1h0m11.9 9.2h0m2.3-30.1h0m-5.6 17.4h0m-3.4 5.1h0m3.8-15.1h0m-5.2 18.9h0m19-33.4h0m-22.5 36.6h0m-2.3-18.3h0m14.9 2.6h0m-3.6 0.2h0m9.1 1.9h0m-14.9-11.1h0m9.8-9.1h0m-5.8 23.8h0m-0.4-12h0m6.7 0.6h0m3.6 7h0m0.9-2.8h0m-7.5-5h0m-10.1 3h0m11.8 11.3h0m-12.4-14.6h0m-7.9 13.7h0m36.1-28h0m-20.6 9.7h0m7.6 8.8h0m-1.3 0.6h0m-2.8 9.5h0m-12.2-19.3h0m18.6 30.3h0m-19.9-15.9h0m7.6-13.2h0m3.6 6.9h0m-12.8 0.1h0m3.1-3h0m1.2 5.2h0m7.2 10.7h0m-3.1 2.1h0m7.4-25.5h0m-5.3 12.8h0m-1.1-0.8h0m8.2 9.3h0m-14 0.4h0m-5.7 2.3h0m2.6 3.5h0m-4.7-9.3h0m28.1-10h0m-4-6.2h0m-14.9 22.5h0m16.3-8.5h0m-8.5-6.5h0m10.2 0.8h0m-9.7 10.2h0m-14.6 4.2h0m11.1-21.2h0m-4.3 8.7h0m7-7.8h0m-7.1 17.5h0m-7.3-1.9h0m19.4 4.8h0m-2.3-3.7h0m5.5-15.5h0m1.1 10.2h0m-0.9-13.7h0m-3.3 21.4h0m-23.2-4.3h0m25-5.3h0m-19.1 0.2h0m9.6-14h0m-7.1 16.2h0m2.1-10.1h0m16 1.7h0m-5.3 14.3h0m1-21.1h0m-0.4 5.4h0m4.2-1.9h0m-13.3 13.1h0m11.2-20.5h0m15.8-12.5h0m-15.3 26.1h0m-8.7-1.8h0m15.5-6.3h0m-13.3 2.1h0m-1.2 19.3h0m10-6.2h0m7.8-25.3h0m-4.4 18.3h0m3.6-11.8h0m-18.8 27.8h0m3.9-23h0m6 15.7h0m5.2-17.7h0m-3.8-1.3h0m-5.9 22h0m-4.3 1.2h0m-9.8-6h0m14.5-6.8h0m-9 8.5h0m1.8 3.6h0m15.5-19.2h0m-8.7 0.6h0m-14.8 15.4h0m14.2 0.7h0m8.4-19.9h0m-11.7 24.2h0m7.5-3.9h0m18.1-38.8h0m-31.6 39.4h0m15.9-13.3h0m-7.1 13.6h0m5.3-5.3h0m-8.8-4.5h0m12.6-9.6h0m1.5-0.1h0m-24.9 28.8h0m11.3-19.3h0m5.1-8.5h0m-12 14.5h0m14.2 3.6h0m-2.4 8h0m3.6-20.7h0m-15.1 6.4h0" stroke="#1a1a1a" stroke-width="0.75" stroke-linecap="square" stroke-opacity="0.85" fill="none"/>
<path d="M297.9 421.8h0m-15 15.8h0m-10.8 15.7h0m19.4-16.7h0m-30.9 5.7h0m5-3.4h0m8.4 22.4h0m-1.1-7.9h0m-4.1 11.2h0m5.2-9.1h0m1.2-5h0m-6 9.8h0m-10.9-10h0m2.4 0.4h0m7.4-3.3h0m-6.1 12.6h0m28.7-22.4h0m-6.8 10.3h0m-1 17.1h0m-13.7-25.9h0m22.5-16.3h0m-8 25.7h0m-24.9 5.6h0m26.3-9.8h0m0.7-18h0m-0.2 15.9h0m-25.7 12.8h0m2.1 5.6h0m21.7-14.6h0m6.4-19.7h0m-14 3.9h0m16.3 25.2h0m-13.4-15.9h0m-9.6 1.1h0m14.2-15.5h0m4.1 30.2h0m-22.4-4.6h0m1.8-0.9h0m6.9 1.1h0m-12.2-7.3h0m15.5 8.5h0m-0.8-22.9h0m3.6 0.8h0m10.1-5.5h0m-19 12.8h0m7.1 11.9h0m-10.2 7.3h0m3.6-13.2h0m17.2-16.7h0m-1.6 29.5h0m1.4-34.9h0m-9.4 21.4h0m-14.9 9.5h0m-1.2-3.7h0m23.6 9.5h0m-2.5-22.9h0m-10.5 20.2h0m5.9 0.4h0m11.2-18.9h0m7.2-12h0m-31.4 29.7h0m-1.8 3.4h0m2.6-13.6h0m6 10.3h0m10.6-0.3h0m-7.6-3.1h0m-9.8 5.7h0m29.8-38.1h0m-22 14.2h0m-8.5 1.7h0m1.4-4.5h0m1.2 20.6h0m3.9 2h0m-1.6 7.1h0m-7.7-8.4h0m33.9-43.5h0m-34.5 35.8h0m9.1-16.4h0m-1 15.6h0m4.5-0.4h0m-4.4-7.8h0m-1.5 3.4h0m10.3 1.8h0m-14.3 24.5h0m18.4-25h0m-19.6-0.2h0m3.2-4.3h0m17.3 24.1h0m13.3-37.9h0m-19.9 15.1h0m-3.5 1.8h0m5.1-9.4h0m-4.4 18.2h0m-8 1.5h0m17.2-15.7h0m-20.8 8h0m16.6-5.9h0m4.3-3.4h0m-10.6 6.5h0m-12 3.2h0m4.4 20.2h0m19.2-31.8h0m-14.2 15.6h0m21.4-16.8h0m2-3.6h0m0.3 0.7h0m-4.8 17.4h0m-21.6-4.7h0m12.3 8.2h0m15-35.8h0m-5.4 19.4h0m-15.3 15.2h0m15.1 14.1h0m-16.7-20.5h0m-9.6 20.7h0m10.4-11.6h0m2.2 12.2h0m-1.9-28.1h0m-6.7 1.6h0m11.3 17h0m3.1-20.8h0m-20.9 20.5h0m19.1-20.6h0m-13.3 30.5h0m-7.2-25.6h0m19.5 8h0m-17 2.7h0m14.4-1h0m-2.3-7h0m11.4 7.1h0m-18 4.1h0m2.7 4.3h0m8.2-2.3h0m-7.6-16.6h0m10.9 11.5h0m4.2 0.7h0m-12.7 11.9h0m13.4-25.8h0m-2 12.3h0m4.1-13.1h0m-24.3 13.1h0m-6.3 0.1h0m7.8 19.1h0m1.6-11.2h0m30.2-31.4h0m-18.5 19.6h0m-16.1 12.2h0m12.1-24.6h0m5.9 21.1h0m-11.7-1.2h0m-1.1 6.1h0m16.2-33.2h0m-9.4 22.9h0m5.5 6.7h0m10.2-20h0m-21.7 23.5h0m16.1-4.7h0m-11.5-10.3h0m10.2-13.1h0m-20.6 18.2h0" stroke="#333" stroke-width="0.65" stroke-linecap="square" stroke-opacity="0.8" fill="none"/>
<path d="M262.4 446.1C262.7 444.5 263.6 442.7 264.9 441.1C266.1 439.4 268.0 437.7 269.9 436.1C271.8 434.6 274.1 433.0 276.2 431.7C278.3 430.5 280.6 429.6 282.5 428.6C284.4 427.5 286.0 426.3 287.4 425.4C288.9 424.6 290.4 423.5 291.2 423.3C292.0 423.1 292.5 423.3 292.3 424.2C292.1 425.0 290.8 426.4 290.0 428.6C289.1 430.8 288.2 434.6 287.4 437.3C286.7 440.0 286.3 442.5 285.5 444.9C284.8 447.2 284.2 449.5 283.0 451.2C281.9 452.8 280.5 454.2 278.7 454.9C276.9 455.6 274.4 455.7 272.4 455.5C270.4 455.2 268.3 454.5 266.7 453.7C265.2 452.8 263.8 451.8 263.1 450.5C262.4 449.3 262.1 447.7 262.4 446.1Z" fill="#000" filter="url(#b1)"/>
<path d="M311.1 200.8h0m-13.5 0.4h0m10.8 5.4h0m-0.9 0.6h0m-4.5-1.7h0m9-0.2h0m-1.6 0.4h0m-7.5 1h0m0-5h0m11.3-0.1h0m-11.5 1.8h0m0.8 0.6h0m3.3 0.2h0m0.2-2h0m-6.5 0.2h0m9.4 3.8h0m-6.8-7.1h0m10 5.6h0m9.7 3h0m-27.1-0.1h0m16.4-4.9h0m1.2-3.3h0m-1.3 9.1h0m-0.3-1.6h0m-10.8-8.1h0m15.8 7.5h0m-12.3-0.2h0m-3.5-2.1h0m4.9 2.4h0m-5.2 4.3h0m4.7-11h0m0.1 2.1h0m-6.9-2.6h0m7.7 3.3h0m-2.2 7.3h0m5.2-10h0m-17-0.8h0m27.1 10.6h0m-20.9-5.2h0m6 0.1h0m4.5-3.8h0m-5.7 0.3h0m-4.5 0.4h0m7-2.5h0m10.1 4.4h0m-13-0.2h0m-0.5-1h0m-0.8-2.4h0m8.4 9.3h0m-4.2-9.8h0m3.2 6h0m-2.5-2.2h0m9.7 1.2h0m-9.5 1.1h0m-2.8 0.7h0m-6.5 1.5h0m4.7-5.3h0m-4.4 1.9h0m3.6-1.7h0m6.8 0h0m4.6-2.2h0m-12 1.3h0m9-2.2h0m-2 0.6h0m-0.2 2h0m-7.9-2.5h0m2.3 1.8h0m-5.2 3.3h0m0.9-1.9h0m14.4 3.2h0m-12.7-5.6h0m0.8 2.1h0m4.6-1.5h0m-9.1 3h0m19.4 0.7h0m-10.8-1.1h0m8.8-0.3h0m-20.6-2.9h0m21.3 3.3h0m-1.9 2.3h0m-4.2 0.3h0m-11.9-5.3h0m15 5.4h0m-8.9 0.7h0m-6.5-5.1h0m5.7 1.5h0m13.2-2.1h0m-8.2 1.4h0m-1.3 2.6h0m15.3 2.3h0m-14.3-6.3h0m-9.2 3.9h0m11.8-3.9h0m-2-1.5h0m1 1.2h0m3.1 0.6h0m6.5 5.1h0m-3.8-1.5h0m-10.1-0.8h0m9-1.1h0m-9.7-3.1h0m2.3-1.3h0m-6.1 7h0m5.5 0.9h0m10.8-4.2h0m-7.2 6.6h0m-3.6-7h0m-1.2 3.7h0m3.3-4.5h0m-1.9-1.2h0m-3.1 7.7h0m10-3h0m-6.5 3.1h0m2.1-4.6h0m-15.9 0.3h0m14.1-1.1h0m-3.5 3.6h0m14.2-4.8h0m-10 2.3h0m8 2.7h0m-9.7-3.6h0m7-0.1h0m-1.4-1h0m5.1 10.7h0m-6.1-9.1h0m-3.2 0.5h0m2.7-3.8h0m-7.4 2.8h0m9.1 1h0m-2.8 2h0m-6.6-6.2h0m-0.6 7.1h0m-0.3 0.7h0m7.4 1.2h0m-0.9 0.2h0m2.2-10h0m2.7 6.7h0m-19.2 4.3h0m11.9-7.4h0m4.1 1.5h0m0.6 0.3h0m-14.8-5.1h0m23.3 7.6h0m-14.1-0.2h0m4.5 0.7h0m1.2 0.2h0m4.4-6h0m-8 4.5h0m0.5-2.9h0m4.8-2.8h0m-10.5-0.6h0m26.3 0.9h0m-22.1 5.2h0m-4.4 0.6h0m17.9 0.5h0m-4.1-5.7h0m-12.2 4.7h0m3.9 0.4h0m0-4.2h0m14.3 3.2h0m-21.9-0.8h0m-0.1-4.7h0m4.3 1.3h0m4.3 1.1h0m-3.8 2.5h0m-2.8-1.4h0m-6 1.1h0m2.2-3.9h0m1 5.3h0m7.4 1.8h0m-8.5-2.4h0m8.9-5.6h0m4 1.9h0m3.1 3.5h0m-8.7 1.9h0m0.3-4.5h0m-10.3 1h0m7.4 3.7h0m-6.4-3.6h0m2.7-4.6h0m11 3.5h0m2.6 2.6h0m0 3.3h0m7.5-4.6h0m-11.1 0.4h0m-12.3-4.4h0m5.4 3.4h0m3.5 0.7h0m7.5-3.5h0m-5.6 0.3h0m-3.5 9.1h0m17.1-9.7h0m2.1 6.1h0m-13.3-3.9h0m-10.2 2h0m9.6-1.1h0m-5.2 0.2h0m-7.1 2.2h0m12.5-1.4h0m10.9-4.5h0m-10 2h0m14.3 7.8h0m-9.7-1h0m2.6-3.1h0m0 3.4h0m-6.3-2.2h0m0.5-0.6h0m-10.3-5.7h0m0.5 4.5h0m5.2-1.4h0m8.1-1.1h0m-10.5-0.1h0m23.6 0.7h0m-22.4-1.5h0m19.5 1.2h0m-13.1 0.9h0m-12.8-4.3h0m6.9 1.6h0m14.9 2.2h0m-11.7-1.3h0m1.4 2.1h0m-15.6-3.1h0m3 1.7h0m2.8 1h0m16.2 1.5h0m-4.6-2h0m1.8-1.1h0m-10.1 3.3h0m6.1 3.2h0m3.2-6.6h0m-6.3 10.7h0m6.5-11.7h0m-16.1-0.8h0m2.3 7.4h0m3.4-2.1h0m2.2-3.5h0m2.3 8.2h0m6-5.4h0m-9.8 2.4h0m-5.2-5h0m18.9 1.5h0m-19.5 0.8h0m15.5-3.7h0m-12.6-0.3h0m7-0.9h0m-7.1 3.2h0m17.5-1.7h0m-14.4 2.7h0m10.9 0.5h0m-6.2-0.2h0m-11.5-2.6h0m11.5 7.1h0m3.2-4h0m0.3-1.3h0m-16.4 3.3h0m15.5 2.4h0m-4.2 0h0m12-3.7h0m-10.1 1h0m-5.4 3.2h0m6-4h0m-7.5-1.2h0m-2.8-1h0m8.2 3.6h0m-2.6-0.7h0m-2.9-1.6h0m2.2 5.6h0m0.4-10.1h0m4.6 1.7h0m-7.1 3.1h0m-6-3.2h0m21.7 7.7h0m-13.6-5.1h0m5.3 4h0m-2.6-5.8h0m-6.1 3.9h0m0.3-4.2h0m10 4.6h0m-12-2.1h0m6.6 4.3h0m9.7-3.4h0m4.1 3.8h0m-19.5-6.7h0m4-1.8h0m-2.7 2.8h0m8.5 0.3h0m0.5 3.2h0m-6.2-7.1h0m10.3 4.4h0m-11.5-1.8h0m16.2 1.8h0m-20.6 1.2h0m17.2 1.9h0m-2.6-3.5h0m-6.4-1.6h0m-13.2 1.1h0m6.9-0.1h0m7.3-1.3h0m7.5 10.7h0m-7.2-10.8h0m16.9 3.4h0m-32.2 3.7h0m19.1-1.7h0m3.9-2.1h0m-13.8-1.6h0m8.4 2.2h0m-8.4 3.1h0m-0.6-8.4h0m2.9 5.1h0m8.5-0.1h0m-5.1-1.1h0m-8.5-0.5h0m16.7 2.1h0m-11.6-4.1h0m6.4-1.5h0m-0.2 2.8h0m-1.2-1.7h0m5.2 5.3h0m-3.2-3.8h0m-10-0.6h0m13.1 2.2h0m-9.6-3.1h0m-0.8 0.8h0m7.5 1.5h0m6-3.3h0m-15.5 2.9h0m-7.9-0.8h0m15.7 5.8h0m-2.3-6.4h0m-13.6-2.2h0m24.3 0.3h0m-8.7 5.4h0m-9-0.6h0m-1.4 2.1h0m6.9-5.5h0m3.9 0.2h0m-4.1 2h0m-2.3 3.9h0m-3.8-2.6h0m8 4.4h0m-2.4-3.5h0m0.3-2h0m1.3 2.5h0m9.6-1h0m-21.8-1.8h0m-0.3 0h0m11.3 3.3h0m9-2.6h0m-13-0.3h0m1.6 0.5h0m5.3-5h0m-6.3 1.1h0m-1 1.4h0m-8.3 2.9h0m19.4 4.8h0m-0.5-2h0m-8.2-5.2h0m4.3-0.2h0m-4.6-0.6h0m-8.5-2.3h0m19.8 1.9h0m-17.9 2h0m16.8 7.6h0m-10.6-6h0m-6.3-3.2h0m9.2-0.8h0m-4.4 7.6h0m10.1-5.8h0m-2.3 1.8h0m-16.5-3.9h0m3.9-0.8h0m5.1 3.4h0m7.1 0.6h0m-5.1-3.9h0m-1.7 6.7h0m11.2-3.1h0m-13.1-0.5h0m-4.7-1.4h0m29.5 9.2h0m-21.8-10.2h0m1.8 2h0m4.8 0.1h0m6.7 5.5h0m-23-0.8h0m11.4-5.1h0m-1.1 0.9h0m-5.3-1.8h0m4.5 3h0m4.1-5.1h0m6.9 3.3h0m-15.5 0.5h0m10.5 4.2h0m-2.9-7.3h0m-2.9-0.1h0m-10.3 5.9h0m18.9 1.5h0m-10.3-6.4h0m8.8 5.7h0m5 2.6h0m-4.6-6.4h0m1 1.8h0m-0.3 1.2h0m1.9-4h0m-3.1-1.5h0m-4.1 7.8h0m1.3-8.6h0m-4.9 1.7h0m1.6 0.7h0m6.9 3.3h0m-2.4-1h0m-0.6-1.2h0m-4.9 2.1h0m6.1-1.4h0m8.1-2.6h0m-15.3-0.9h0m4.7 2.1h0m-4.7-1.5h0m-3.9 3.7h0m1.4-1.7h0m-2.8 0.5h0m12.3-1.1h0m-3.5-3.1h0m4.5 7.7h0m-9.6 1.5h0m3.5-8h0m-1.2 1.9h0m10.5 0.8h0m-0.5 3.3h0m-2.4 2.9h0m-11.3-6.4h0m-2.2-3.7h0m11.3 0.5h0m7.6 6.1h0m-13.4 0.8h0m5.1-7.2h0m-0.9 5.1h0m12.7-2.9h0m-3.3 0.6h0m-9 2.2h0m-8.3-2.9h0m6.2-1.2h0m14.3 2.3h0m2.2 4.2h0m-9.1-2.9h0m-18.1-1.7h0m30.7 6h0m-11.9-4.8h0m5.5 2.3h0m-8.2-5.5h0m-8.4 0.7h0m-4.1 5.7h0m19 1.9h0m-20.4-5.4h0m9.1-1h0m16.6 3.2h0m-9.8 2.7h0m-12.5-8.1h0m13.7 6.8h0m10.2 1.7h0m-25.6-7.1h0m6.8 2.4h0m7.9 3.5h0m-0.8-4.4h0m-3.1 6.6h0m-6.6-5h0m12.4-0.1h0m-7 1.4h0m-5.9 1.3h0m8.5 0.5h0m-15.6-5.4h0m18.6 4.7h0m-5.4-5.7h0m-4.3 1.3h0m10.1-2.2h0m2.7 3.8h0m-2.6 1.6h0m-11.9-1.9h0m19.2 1.4h0m-5.9 0h0m-9.2 1.8h0m10.3-6.2h0m-10.7 7.2h0m11.6-5.6h0m-19.6 2.2h0m11.5 2h0m-0.1-4.9h0m-4.5 4.8h0m9.6-3.2h0m-18.1-1.2h0m12.5-0.3h0m0.8 2.6h0m-8.7 1.9h0m2.2 0.7h0m15.4-6.6h0m6.4 10.1h0m-16.5-6.7h0m6.6 3.7h0m4.4-1.1h0m-17.8-1h0m6.6-6.1h0m-5.1 3.3h0m17.2 4.8h0m-16.3-7.9h0m13 6.5h0m-1.4-3.5h0m-16.3 1.7h0m-5.1-3.5h0m10.3 0.2h0m4.6 4.7h0m-0.9 1.3h0m0.3-5.1h0m-6.6 3.8h0m6-4.9h0m10.3 4.5h0m-13.9-3.5h0m2.2 4.4h0m7.8 1.4h0m-1.2 1.1h0m2.6-7h0m-10.3 4.2h0m8.3 1.6h0m-8.7-3.3h0m15.2 5.1h0m-1.4-3.2h0m0.6 0.6h0m-11.3-2.3h0m-0.1-0.5h0m12.7 3.6h0m-10-2.1h0m5.6 0.2h0m-9.5 1.2h0m-0.9-6.8h0m-2.5 4.7h0m-1.2-3.3h0m18.3 0.9h0m-18 2.1h0m-2.4-2h0m25.8 8.9h0m-26.3-9.6h0m2.3 0.8h0m-6.8-1.3h0m8.4-0.7h0m7.4 0.9h0m-2.1 7.8h0m6.7 0.9h0m-3.6 1h0m6.2-8.9h0m-7.8 5.7h0m-3.5-0.3h0m3.8-3.4h0m5 5.3h0m-9.9-7.7h0m-1.6 1.8h0m14.1 4.5h0m-10-7.5h0m-4 3.9h0m7.8-3h0m-17.4 3.8h0m18.4 4.7h0m-3-9.6h0m3.4 8.3h0m6.3-6.8h0m-3.2 1.6h0m-9.9-1.6h0m2.1 4.7h0m6.1-4.5h0m-13.6 0.6h0m14.4 6.1h0m-7.5 1.7h0m7.3-0.4h0m-12.2-5.7h0m2.9-1.8h0m17.5 3.9h0m-4.9-3.7h0m-11 4.5h0m3.7-4.5h0m0.9 5.2h0m-3.7-2.1h0m-9.6 0.6h0m2.9-0.3h0m13.7 1.9h0m-21.6-1.7h0m27-1h0m-9.6-5.3h0m8.7 6.4h0m-7.2-2.7h0m-10 0h0m-1.4 2h0m21.2-1.8h0m-8.6-1.6h0m-4.9 5.9h0m5.2 0.1h0m-8.5-7.7h0m6.7 2.7h0m-6.6 2.7h0m20.1 0.1h0m-11.5 2h0m1.1-2.4h0m1.8 0.1h0m-13.6-0.6h0m-6.6 0.5h0m8.4-5.9h0m1.3 0.1h0m-2.3 3.5h0m2.6 1.9h0m-2.9-4h0m4.8 6.9h0m2.3-4h0m5.3-0.4h0m-2.5-2h0m-8.6 2h0m3.5 3.1h0m-3.5-3.4h0m-0.4-1.7h0m7.1 3.2h0m0.7-5.2h0m-2.8 6.1h0m-8.4-1.7h0m18.5-3.5h0m-5.4 10.4h0m-9.5-4.5h0m-5.6-2.6h0m25.1-1.3h0m-6.4-0.5h0m-1.5 4.7h0m-4.4-3.9h0m-15.4-2.6h0m15.2 3h0m5-2.6h0m0.7 7.4h0m-12.3-6.9h0m2.7 7.3h0m5.3-2.3h0m-16-6.1h0m13 3.2h0m5.3 0.9h0m-2 2.5h0m0-5.9h0m-21.2 1.5h0m5.4 4.8h0m7.7-2.4h0m9.8 2.8h0m-6.6-5.6h0m-1.3 2.4h0m-4.8-1.7h0m1.8-1.4h0m11.6 5.7h0m-8.5-6.3h0m-4-0.4h0m7.5 3.9h0m-5.9 2.3h0m1.5-1.6h0m13.8 5h0m-9.8-4.4h0m10.3-0.6h0m-14.7-3.1h0m21.2 8.9h0m-23.1-6.1h0m3.9-0.3h0m-2.4-0.9h0m4.5-0.7h0m4.9 4.7h0m-2.1-1.6h0m-7.7-1.2h0m-3.4 0.7h0m11.3-1.1h0m-2.5-3h0m-8.4 4.4h0m-3.9-5.3h0m15.9 9.1h0m-14.4-10.1h0m0.8 4.3h0m5.8 4.3h0m6.5-3.1h0m-8.5-2.7h0m-0.2 0.3h0m3.1 0.1h0m2.7 2.4h0m4.9 0.5h0m-13.5-3.5h0m6.1 7.7h0m7.8-4.1h0m-15.5-0.4h0m-1.2-4.6h0m9 3.5h0m-5.3 0.6h0m10.4 3.2h0m-9.5-6.5h0m1.1 0.9h0m8.7 2h0m-11.4-3.4h0m6.9 5.2h0m0.6-3.7h0m6.4 5.8h0m-16.7-5.7h0m9.3-0.8h0m-3.4 3.5h0m2-3.9h0m-5 2.9h0m15.7-0.2h0" stroke="#222" stroke-width="0.5" stroke-linecap="square" fill="none"/>
<path d="M320.6 83.6h0m-3.5 1.1h0m8.8-3.5h0m-8.7 3.1h0m2.6 0.2h0m3.4-2.2h0m-2.3-2.5h0m4.5 0.6h0m-6 2.9h0m-1.7 3.7h0m0.1-4.9h0m4.9-0.8h0m-2.1 2.5h0m-3.7 0.2h0m5.8 0.9h0m0.3-2.6h0m-1.9 2.9h0m-3.2-3.9h0m5.4-3.1h0m-4.6 5.7h0m7-5.1h0m-2.1-1.1h0m4 3h0m-5.9 2.5h0m-0.6 2.7h0m-0.1-2.2h0m1.4-1.7h0m-3 1h0m0.3-1.4h0m0.6-1.2h0m6.1-0.7h0m-3.6 0.9h0m1.2 2.2h0m-3-1h0m-0.2 0.2h0m-6 4h0m7.1-5.3h0m6 1.4h0m-9.2 2h0m1.4 0.1h0m2.5-4.2h0m-2.6 2.7h0m-3.1 4h0m1.7-4.5h0m-1.6 1.2h0m2.6 0.2h0m-1 1.2h0m1.5-0.9h0m-1.5 2.3h0m2.3-1.7h0m0.6-2.2h0m0 3.2h0m-3-3.3h0m6-0.1h0m-3-0.2h0m1.8 1.8h0m-1.6 1h0m0.9-0.5h0m-0.2-0.4h0m0.6 0h0m-7.7 1.7h0m5.6-4.7h0m1.3 0.8h0m-2.3 3.5h0m6.6-5.2h0m-5.5 0.6h0m0.7 2h0m-3.1 1.2h0m7.1-2.7h0m-3.6 0.1h0m4.6-0.8h0m-2.1-2h0m-1.5 5.3h0m3.3-3.3h0m-1.8-1.9h0m-2.9 6.1h0m1.8-0.7h0m1.4-1.8h0m-6.4 0.8h0m1.2 0.2h0m3.6 2h0m-4.6-2.5h0m-0.7 3.2h0m9.4-6.8h0m-4.7 5.9h0m2-2.7h0m0 0.5h0m-5.5 1.7h0m2.1-4.2h0m-1.4 2.9h0m1.7 0.1h0m2.2 1.1h0m2.4-3.1h0m-4.3-1.8h0m2.4 3h0m0.6-0.1h0m-4.2 0.1h0m-0.9-0.5h0m-2.1 1.8h0m1.1-2h0m9.1 1.1h0m-5.4-0.3h0m-4.8 0.6h0m5.5-1.5h0m3.1-0.5h0m-6 4.4h0m-5.3-1.5h0m4.3 0.1h0m-0.1-0.4h0m9.1-2.9h0m-5.8 3.5h0m-4.3-1.7h0m4.1-2.7h0m-0.6 4.4h0m0.1 0.5h0m5.1-4.2h0m-3.1 0.6h0m-3.3-2.6h0m-1.7 5.7h0m2.5-3h0m-1.4 2.4h0m2.6-4.5h0m2.2 1.5h0m-5.8 5h0m4.3-2.7h0m-0.3 1.3h0m-2.7-1.7h0m4.9-3.2h0m-4.3 4.7h0m2-3.1h0m2.2 0.7h0m-5.6-0.7h0m-2.9 0.1h0m2.9 2.5h0m-2.3 1.7h0m0.4 0h0m1.6-4.6h0m-1.7 1.3h0m6.1-3.5h0m-2.5 2h0m2.8 0.8h0m1.5-0.6h0m-6 2.1h0m1.7 1.1h0m3.7 1.7h0m-5.2-3.7h0m4.7 1.2h0m-4.1 0.4h0m1.1-1.8h0m-2 4.1h0m0.8-4.4h0m-4 2.7h0m5.2 0.5h0m-4.4-0.8h0m6.3 3.1h0m-0.6-5.3h0m-7.5 2.1h0m6.3 0h0m0.5-3h0m-0.4 2.3h0m0.6-2.8h0m-3 4.1h0m3-0.5h0m-0.7-2.8h0m3.1 0.8h0m-1.5 0.6h0m0.1 0.8h0m-1.3-2.3h0m-2.9 0.5h0m1.8 0.6h0m3 0h0m0.8 0.3h0m2-0.2h0m-4.8-0.2h0m-4.5 0.5h0m1.9-0.1h0m-5.4 7.7h0m7.4-6.1h0m1.1-2.1h0m1.3 2h0m-10.1 2.6h0m11.5-3.1h0m-2.5-1.1h0m0-3.2h0m1.2 3.9h0m-1.3 1.4h0m-1.2 3.9h0m-0.6-4.2h0m0.7-3.2h0m-2 0.9h0" stroke="#2a2a2a" stroke-width="0.55" stroke-linecap="square" fill="none"/>
<path d="M321.8 84.3h0m-1.3-2.3h0m1.6 1.2h0m3.1-1.8h0m-1.9 1.4h0m-1.9-0.1h0m2-0.3h0m-1.6 0h0m-1.9-0.4h0m3.1-1.5h0m0.4 1.7h0m-1.8 1h0m-0.1-1.4h0m1.6 0.3h0m-0.3 0h0m-0.2 0.1h0m3.7-1.3h0m-3.1 1.7h0m-0.8 0h0m-0.8 0.6h0m1.2 0h0m-1-1h0m-3 0.9h0m3.3 0.5h0m1.2-1.3h0m-1.8 0.5h0m1.1 0.4h0m0.8-1.1h0m-3.7 3.3h0m2.2-3.4h0m-0.1 1.7h0m0.4-0.7h0m0.5-0.1h0m-2.2-0.4h0m3.6-1.4h0m0.8-0.6h0m-1.3-0.8h0m-2.2 1.6h0m4.5-0.4h0m-4.5 0.8h0m2.5-0.7h0m-3.5 1.4h0m4.6 0.5h0m-4.2-1.2h0m-0.7 0.8h0m0.3 0.3h0m1.1 0.7h0m-2.2 0.6h0m2-2.5h0m1.5-0.6h0m-1.1 1.5h0m0.3 0.1h0m2.6-2.6h0m-3.4 4.3h0m-0.2-1.7h0m2.6-3h0m-2.5 4.5h0m4.5-3.4h0m-4.7 1.9h0m0 0h0" stroke="#111" stroke-width="0.6" stroke-linecap="square" fill="none"/>
<path d="M312.5 85.6h0m4.3 1.6h0m-4.8 0h0m10.8 2.9h0m-3-1.2h0m-16.6-5.1h0m20.4 4.6h0m4.4-2.9h0m-34.4 7.5h0m23.5-10.5h0m-9.2 4.5h0m-1.7 2.1h0m16.1-8.4h0m-13.2-0.6h0m18-1.7h0m-11 6.1h0m-1.6-0.2h0m-2.9-1h0m4.1 1.3h0m10 3.2h0m-12.4-5.1h0m-7.7 6h0m15.1-0.2h0m-12.3-1.3h0m12.7 5.7h0m-8.3-5.8h0m-2.1 2.7h0m10.9-3.9h0m-3.7-1.1h0m9.6-5.9h0m-13.9 16.5h0m-4-11.3h0m7.2 3.2h0m-17.9-0.8h0m16.4 0.6h0m0.8 0.5h0m-7.3-2.8h0m3.1 4.4h0m3.7-6.4h0m-8.3 4.5h0m-5.7 3h0m8.6-4.2h0m20.8-6.7h0m-10.6 1h0m-24 8.3h0m15.6-6.6h0m8.6 6.6h0m-9.5-5h0m12-1h0m-6.1 2.7h0m-13.2 2.3h0m-4.6-0.2h0m2.9 3.1h0m10.9-4.7h0m5.7 0.7h0m-15.8 0.5h0m9.6-2.4h0m13.5-5.9h0m-19.8 5.2h0m11.3 1.4h0m2.9 9.8h0m-11-10.5h0m-0.5-2.9h0m-7.8 10.2h0m14.8 1.6h0m8.3-11.1h0m-15.1 2.5h0m10.9 2.1h0m-12.7 4.1h0m5-4.5h0" stroke="#444" stroke-width="0.45" stroke-linecap="square" fill="none"/>
<path d="M274.6 81.5h0m7.7 2.6h0m3.6 5.3h0m-9.2 2.5h0m-5.9-4.6h0m8.6 7.1h0m4.3-7.3h0m-5.6 1.9h0m6.3-0.4h0m-8.1-2.4h0m-0.1-0.8h0m-4.3-3.4h0m11.8 2h0m-4.3-1.4h0m-8.3 4.3h0m11.5 5.1h0m-7.1-3.2h0m9.1-12.9h0m-4.4 19.7h0m-5-2.6h0m2.3 2.3h0m-4.7-13.4h0m13.7 5.2h0m-4.9 0.4h0m-1.8-4.5h0m-2.3 0.7h0m3 1.9h0m6-2.9h0m-9.4 11.2h0m7.7-8.8h0m-6.8-1.8h0m-0.6 9.6h0m4.4-4.3h0m-5.2 5.5h0m-3.5-3.8h0m-2.6-1h0m3-1.7h0m12 0h0m2.5 3.7h0m-13-3h0m7.8-6.5h0m-3 0.8h0m-0.4 2.8h0m-1.9 5.7h0m4.5-1.5h0m-5.8-0.3h0m3.8-11.5h0m-12.2 15.5h0m18.4-12.1h0m-8.1 4.3h0m5.4 4.2h0m-2.9-0.4h0m-2.6 1.8h0m7-4.8h0m-5.8 5h0m-4.3-3.1h0m2.9 2.4h0m-0.6-3.2h0m0.4 2.9h0m5.5-3.3h0m-7.1-0.2h0m2.4 4.2h0m4-2.5h0m-2.9-10.9h0m0.3 12.5h0m2.1-1.1h0m-5.8-0.7h0m1.1-1.2h0m8.1-1.4h0m-0.7 2.4h0m-5.5 3.2h0m-0.2-1.2h0m5.8-5.1h0m-2.3 6.8h0m-3.5-5.9h0m-0.9-2.1h0m4.2 2.5h0m-1.7-0.1h0m0.8 9.6h0m0.9-9.2h0m-2.5-1.7h0m-0.3-0.1h0m-5.2 6.1h0m5.6-6.3h0m0.4-2.4h0m1 1h0m1.3 10.3h0m-3.4-6.3h0m1.8 2.8h0m-1.3-3h0" stroke="#333" stroke-width="0.45" stroke-linecap="square" fill="none"/>
<path d="M198.3 137.8h0m-17.3-15.6h0m22.2 11.4h0m3.6-55.6h0m18.7 8.4h0m-13.4-1.9h0m-18.3 54.4h0m41.9-11.1h0" stroke="#555" stroke-width="0.45" stroke-linecap="square" fill="none"/>
<path d="M303.4 120.6h0m23.7-32h0m-9.1 14h0m-4.5-21.2h0m-47.6 18.9h0m40.8 30.7h0m-6.1-53.4h0m18.8-2.8h0" stroke="#555" stroke-width="0.45" stroke-linecap="square" fill="none"/>
<path d="M198.9 208.2h0m30.5-0.7h0m-22.9-19.6h0m-22.5 21.9h0m34.4-10.6h0m-17.4 29.3h0m19.3 7h0m-4.5-33.4h0" stroke="#555" stroke-width="0.45" stroke-linecap="square" fill="none"/>
<path d="M289.7 206.5h0m39.5-35h0m-46.9 13.7h0m35 41.9h0m-56.7-37.2h0m50.5-23.3h0m13.6 36.4h0m-20.9-33.2h0" stroke="#555" stroke-width="0.45" stroke-linecap="square" fill="none"/>
<path d="M228.7 278.3h0m-8.5-3h0m-4.8 5.4h0m-27.9 6.8h0m-8.8-11.7h0m3.4 29.3h0m9-24.7h0m38.2 9.3h0" stroke="#555" stroke-width="0.45" stroke-linecap="square" fill="none"/>
<path d="M319.1 291.9h0m-12.1 20.4h0m-0.8-24.1h0m18.8 35.6h0m-50-17.9h0m53.4-23.5h0m-20.1-8.5h0m17.9 65.6h0" stroke="#555" stroke-width="0.45" stroke-linecap="square" fill="none"/>
<path d="M180.6 428.2h0m39.6-12.6h0m-29.1 49.4h0m34.9-1.2h0m-40.7-9.8h0m-2.5 14.4h0m10.6-7.7h0m14-20.4h0" stroke="#555" stroke-width="0.45" stroke-linecap="square" fill="none"/>
<path d="M309.7 451.6h0m24.2 10.9h0m-27.8-80.2h0m-46.9 17.4h0m9.6 10.5h0m18.8 31.6h0m20.7-43.3h0m-27.4 3.9h0" stroke="#555" stroke-width="0.45" stroke-linecap="square" fill="none"/>
<path d="M294.8 300.4h0m-0.6 4.9h0m0.8-3h0m3.9 2.4h0m-5.1-3h0m3.8 0.5h0m-0.9 0.6h0m-1.6-0.5h0m-1 1.8h0m3.5-0.8h0m-2.1 0.8h0m-0.2-3.8h0m-0.2 1.8h0m0.7 0.9h0m1.1 0.2h0m0.5-1.7h0m-4.1-0.2h0m1.3 2.6h0m1.8-1.9h0m1.4 3.1h0m-2.5-0.8h0m0.1-3.2h0m-4.2 2.5h0m3.3-2.3h0m-0.7-0.9h0m0.1-0.2h0m-2.2 4.6h0m1.9-2.7h0m2.3 2.2h0m-1.1-1.3h0" stroke="#333" stroke-width="0.5" stroke-linecap="square" fill="none"/>
<path d="M298.1 423.8h0m-4-0.6h0m0.1-4.6h0m5.4-3.6h0m-3.1 2.7h0m-5-3.6h0m1.1 9.9h0m9.6-6.1h0m-5.4 7.1h0m-0.6-7.3h0m-4.7-1.3h0m10.8 1.4h0m-0.5-4.2h0m-10.4 9.4h0m9.6-1h0m-5 2.5h0m-0.2-0.6h0m6.2-7.4h0m-6.6 1.8h0m-0.5-2.4h0m1.7 6.6h0m5.2-3.9h0m0.5 5.6h0m-5.8-8.9h0m5.1 3.3h0m-10.2 5.5h0m7.5-2.9h0m4.7-5.8h0m-6.4 3.1h0m4.1-3.8h0" stroke="#333" stroke-width="0.5" stroke-linecap="square" fill="none"/>
<text x="346.00" y="42.80" font-size="14" fill="#000" font-weight="bold">e</text>
<text x="387.50" y="43.40" font-size="7" text-anchor="middle" textLength="59" lengthAdjust="spacingAndGlyphs">pSMAD2L &amp; pHH3</text>
<text x="388.50" y="51.60" font-size="7" text-anchor="middle" textLength="31" lengthAdjust="spacingAndGlyphs">with DAPI</text>
<line x1="357.5" y1="58.3" x2="357.5" y2="96" stroke="#333" stroke-width="0.8"/>
<line x1="357" y1="96.5" x2="403.3" y2="96.5" stroke="#444" stroke-width="1.0"/>
<rect x="372.5" y="59.5" width="10" height="33" fill="none" stroke="#a9c3e6" stroke-width="0.6"/>
<rect x="382.5" y="59.5" width="9" height="33" fill="none" stroke="#b9c9a9" stroke-width="0.6"/>
<rect x="392.5" y="59.5" width="11" height="33" fill="none" stroke="#ee9c9c" stroke-width="0.6"/>
<text x="352.70" y="77.70" font-size="7" text-anchor="middle" transform="rotate(-90 352.70 77.70)">pS2L</text>
<line x1="357.5" y1="102.4" x2="357.5" y2="140.5" stroke="#333" stroke-width="0.8"/>
<line x1="357" y1="140.5" x2="403.3" y2="140.5" stroke="#444" stroke-width="1.0"/>
<rect x="371.5" y="103.5" width="10" height="36" fill="none" stroke="#a0b4d0" stroke-width="0.6"/>
<rect x="381.5" y="103.5" width="9" height="36" fill="none" stroke="#b0b8c0" stroke-width="0.6"/>
<rect x="391.5" y="103.5" width="11" height="36" fill="none" stroke="#d86a6a" stroke-width="0.6"/>
<text x="352.70" y="115.70" font-size="7" text-anchor="middle" transform="rotate(-90 352.70 115.70)">pHH3</text>
<text x="346.00" y="165.00" font-size="14" fill="#000" font-weight="bold">j</text>
<line x1="357.5" y1="159.3" x2="357.5" y2="200.4" stroke="#333" stroke-width="0.8"/>
<line x1="357.3" y1="200.5" x2="405.3" y2="200.5" stroke="#444" stroke-width="1.0"/>
<rect x="365.5" y="160.5" width="15" height="35" fill="none" stroke="#a9c3e6" stroke-width="0.6"/>
<rect x="380.5" y="160.5" width="4" height="35" fill="none" stroke="#b9c9a9" stroke-width="0.6"/>
<rect x="385.5" y="160.5" width="17" height="35" fill="none" stroke="#ee9c9c" stroke-width="0.6"/>
<text x="353.00" y="181.30" font-size="7" text-anchor="middle" transform="rotate(-90 353.00 181.30)">pS2L</text>
<line x1="357.5" y1="201.8" x2="357.5" y2="240.8" stroke="#333" stroke-width="0.8"/>
<line x1="357.3" y1="240.5" x2="405.3" y2="240.5" stroke="#444" stroke-width="1.0"/>
<rect x="365.5" y="202.5" width="16" height="38" fill="none" stroke="#a9c3e6" stroke-width="0.6"/>
<rect x="381.5" y="202.5" width="6" height="38" fill="none" stroke="#b9c9a9" stroke-width="0.6"/>
<rect x="388.5" y="202.5" width="13" height="38" fill="none" stroke="#ee9c9c" stroke-width="0.6"/>
<text x="353.00" y="222.00" font-size="7" text-anchor="middle" transform="rotate(-90 353.00 222.00)">pHH3</text>
<text x="346.00" y="270.50" font-size="14" fill="#000" font-weight="bold">o</text>
<line x1="357.5" y1="267.6" x2="357.5" y2="307.5" stroke="#333" stroke-width="0.8"/>
<line x1="357.3" y1="307.5" x2="405.3" y2="307.5" stroke="#444" stroke-width="1.0"/>
<rect x="372.5" y="268.5" width="10" height="35" fill="none" stroke="#a9c3e6" stroke-width="0.6"/>
<rect x="383.5" y="268.5" width="6" height="35" fill="none" stroke="#b9c9a9" stroke-width="0.6"/>
<rect x="390.5" y="268.5" width="12" height="35" fill="none" stroke="#ee9c9c" stroke-width="0.6"/>
<text x="353.00" y="290.80" font-size="7" text-anchor="middle" transform="rotate(-90 353.00 290.80)">pS2L</text>
<line x1="357.5" y1="310.9" x2="357.5" y2="350.8" stroke="#333" stroke-width="0.8"/>
<line x1="357.3" y1="350.5" x2="405.3" y2="350.5" stroke="#444" stroke-width="1.0"/>
<rect x="373.5" y="311.5" width="9" height="39" fill="none" stroke="#a9c3e6" stroke-width="0.6"/>
<rect x="383.5" y="311.5" width="7" height="39" fill="none" stroke="#b9c9a9" stroke-width="0.6"/>
<rect x="391.5" y="311.5" width="11" height="39" fill="none" stroke="#ee9c9c" stroke-width="0.6"/>
<text x="353.00" y="334.30" font-size="7" text-anchor="middle" transform="rotate(-90 353.00 334.30)">pHH3</text>
<text x="346.00" y="381.00" font-size="14" fill="#000" font-weight="bold">t</text>
<line x1="357.5" y1="381.5" x2="357.5" y2="421.3" stroke="#333" stroke-width="0.8"/>
<line x1="357.8" y1="421.5" x2="404.4" y2="421.5" stroke="#444" stroke-width="1.0"/>
<rect x="370.5" y="382.5" width="9" height="36" fill="none" stroke="#a9c3e6" stroke-width="0.6"/>
<rect x="380.5" y="382.5" width="6" height="36" fill="none" stroke="#b9c9a9" stroke-width="0.6"/>
<rect x="387.5" y="382.5" width="11" height="36" fill="none" stroke="#ee9c9c" stroke-width="0.6"/>
<text x="353.50" y="405.80" font-size="7" text-anchor="middle" transform="rotate(-90 353.50 405.80)">pS2L</text>
<line x1="357.5" y1="426.3" x2="357.5" y2="468.3" stroke="#333" stroke-width="0.8"/>
<line x1="357.8" y1="468.5" x2="404.4" y2="468.5" stroke="#444" stroke-width="1.0"/>
<rect x="371.5" y="427.5" width="11" height="40" fill="none" stroke="#a9c3e6" stroke-width="0.6"/>
<rect x="382.5" y="427.5" width="7" height="40" fill="none" stroke="#b9c9a9" stroke-width="0.6"/>
<rect x="390.5" y="427.5" width="11" height="40" fill="none" stroke="#ee9c9c" stroke-width="0.6"/>
<text x="353.50" y="448.80" font-size="7" text-anchor="middle" transform="rotate(-90 353.50 448.80)">pHH3</text>
<text x="381.50" y="479.00" font-size="7" text-anchor="middle" textLength="17" lengthAdjust="spacingAndGlyphs">DAPI</text>
<path d="M399.7 171.6h0m-1.7 3.6h0m4 2h0m0.4 0.7h0m-13.3-3.1h0m7.1-1.5h0m2.3 3.4h0m-2.4-1.2h0m-6.1-0.7h0m6.4-4.2h0m0.1 5.2h0m-4.1-2h0m7.7 1.5h0m-16.7-2.3h0m5 3h0m4.9-1.2h0m5.3 0.4h0m0.4-4.1h0m-5.1 3.6h0m3.8-2.2h0m-4.7 2.8h0m-0.2-5.4h0m0.4-3.2h0m3.2 7.9h0m-2-0.2h0m0.5-0.6h0m3.9-0.4h0m0.4-0.6h0m-3.7 7.2h0m-3.9-11.6h0m5.8 6.2h0m-4.5 2.7h0m7-0.9h0m-5.2-2.8h0m6.6-1.4h0m-1.6 1.4h0m-10-3h0m0.7 6.9h0m7.2 0h0m-4.2-2.1h0m1.7 2.9h0m-0.7 2.6h0m0.4-7h0m5.8-1h0m2-3.4h0m-9.1 0.8h0m-2.6 1.8h0m11.1-4.3h0m-3.2 5.9h0m-9.1-3.5h0m5.2 5.5h0m1.5-6.3h0m-6.2 0.4h0m7.4 3.5h0m-3 1.5h0m2.4-0.8h0m-2.4-0.5h0m5.7-0.9h0m-4.6-2.1h0m0.4-0.6h0m-5.9 4h0m3 3.1h0m-2.4 0h0m6.4-1.3h0m-1.2 1.2h0m-1.5-1.9h0m-1.6-2.6h0m5.7 4.4h0m-4.9-0.9h0m1.2 1.3h0m0.8-4.7h0m2.3-0.5h0m-3.7 2.4h0m1.9-2.6h0m-5.2 1.4h0m-1.3-0.4h0m1.2 6.4h0m1.6-10.4h0m5.8 2.6h0m4.7 3.7h0m-4.8 1.4h0m0-3.7h0m0.8 1.8h0m4.7-0.5h0m-13.4-0.3h0m4.2-3h0m-1.2 2.3h0m-0.1-3.1h0m-1.6 8.2h0m3.5-5.3h0m7.6-0.2h0m-3.8 1.1h0m0.9-3h0m-6.3-2h0m0.2 4.4h0m-1.8 5.6h0m9.3-8.3h0m2.1-1.4h0m-4.4 2.9h0m-14.3 3.1h0m5.3 2.1h0m10.9-1.2h0m-14.5 1.9h0m8.2-5h0m0.8-3.7h0m2.9 4.6h0m-6.2 2.7h0m3.6-3.9h0m-2.9 3.3h0m0.8-0.5h0m-2-2.9h0m3.7 3.3h0m-1.1 0.2h0m-1.1-3.1h0m6.4 2.8h0m-6.4 0.5h0m-7.3-1.6h0m4.3 2.1h0m10.9-6.5h0m-6.3 2.5h0m-8.8 3.3h0m6.2-0.7h0m-6.6 1.3h0m7.3 2.2h0m3.3-3.5h0m-2.8-3h0m-6.6 5.2h0m6.5-1.6h0m2.3 0.3h0m-3.9-1.9h0m5.6-5.8h0m-2 6.8h0m-4.6-2.2h0m2-3.5h0m0.9 6.1h0m2.1-2h0m-0.7-1.1h0m-1.3-1.2h0m0.5 2.1h0m-5 0h0m11.9 1.3h0m-6.6 0.9h0m-5.7-2.7h0m7.2 1.9h0m5.7-0.6h0m-6.5 2.7h0m-5.1-1.7h0m5.7-1.6h0m-4.7-0.9h0m3.1 5.2h0m-10.2-4.9h0m20.4-6.2h0m-6.8 4.3h0m-5.3 3.1h0m0.5 0.9h0m5-1.1h0m3.1-0.2h0m0 3.2h0m-7.6-6.3h0m-1 3.9h0m4.4 2.2h0m-0.5-3.6h0m-12.4 0.5h0m13.7-0.1h0m-7.3 2.1h0m1.1-3.9h0m7.9 6.4h0m-7.1-2.4h0m5.4-2.9h0m6.8 1.3h0m-11.5-0.6h0m-0.8 0.8h0m6.2 0.6h0m-1.8-1h0m0.2 2.6h0m3.8-3.2h0m-3.3-1.3h0m-6.5 4h0m7.2-2.2h0m-6.9 0.9h0m7 0.7h0m-1.2 0.2h0m-1.6-3.8h0m6.7 3.7h0m-5.1-3.3h0m2.8-1.6h0m-8.7 3.9h0m-6.2 1h0m13.5-0.8h0m-8.5-2.2h0m2.9 7.2h0m1.7-4.2h0m1.3 0.3h0m5.7-5.1h0m-10.3 3.6h0m4.7-6h0m-1.2 4.9h0m-2.3-7.9h0m2.5 7.7h0m6.6 2.6h0m-3.3-5.5h0m0.6 6.2h0m-7.7-2.7h0m9.1 1.2h0m2.2-2.7h0m-4.1 0.8h0m0.9 6.6h0m-2.6-5.6h0m-6.6 0.2h0m6.8 2h0m1.5-0.7h0m-5.3-3.2h0m2.1 2.5h0m-1.4-0.1h0m2.7-1.6h0m-4.7 2.5h0m9.5-0.5h0m-5.8-1.3h0m2.5 0.5h0m-7.3-1.9h0m5.1 0.9h0m0.9-0.1h0m-2.6 3.1h0m-0.8-3.9h0m-1.5 2.3h0m-2.6-1.8h0m-0.3 1.9h0m3.3-2.2h0m11 0.7h0m-4.7-2.7h0m-8.8-0.1h0m5.7 10.7h0m3.9-6.2h0m-2.2-3.3h0m0.5 1.1h0m-5.6 2.7h0m-3.6 0.8h0m11.4 0.6h0m-6.4-1.3h0m2.8 1.6h0m-1.1-3.1h0m1.9 1.7h0m4.7-2.8h0m-11-0.1h0m4.5 0.5h0m3.1 0.6h0m-12.1-6h0m7.6 8.7h0m2.5-4.2h0m7.5 2h0m-6.7 0.8h0m-1.7-0.5h0m-3-6.7h0m1.2 8.4h0m-3.7 1h0m4.3-4h0m4.3 4.2h0m-6.1-2h0m1-1.5h0m1.7 2.2h0m1.4-2.2h0m1.4 0.4h0m-4.8-1.2h0m6-0.2h0m-2.8 0.4h0m-4.9 2.1h0m1 5.3h0m10.3-3.4h0m-7.9-3.1h0m-3.9 0.5h0m5.6 1.6h0m-7.1-5.7h0m10.6 5.5h0m-5.4-2.6h0m0.5-0.7h0m-5.6 1.9h0m-0.8-4.1h0m9.3 2.9h0m-2.3 3.4h0m-2-4h0m-7.2 1.4h0m8.9 0.8h0m-1.4 2.8h0m8.2 0.4h0m0.2-5h0m0.1 1.8h0m-6.1-1.5h0m5.2-5.9h0m-14.6 8.8h0m3.7-5.5h0m5 5.9h0m4.9 1.1h0m3-9h0m-9.1 7.2h0m0.4-2.2h0m4.1-0.3h0m2.1 0.6h0m-6.4 1.2h0m-0.2 2.7h0m-3.3-4.2h0m9.8 3.2h0m-10.5-8.3h0m4.4 4.8h0m-2.3-3.6h0m5.9 1.3h0m1.6 4.5h0m-5-2.7h0m-3-0.5h0m-0.5-0.3h0m0.1 0.9h0m1.1 6.1h0m9.5-2.5h0m-7.3 0.3h0m4.6-1.5h0m-3.1-0.5h0m-5.6-0.2h0m5.4 1.1h0m-1.7-4.9h0m6.7 2.5h0m-12.9 2.1h0m6.9-4.2h0m5.2 4.3h0m-12.2-6h0m6.1 3.3h0m-3.1 6.2h0m7-7.4h0m-12.7 1.1h0m9-2.9h0m-0.3 0.9h0m1 4.3h0m-4.3 1.6h0m6.3-1.2h0m0.3-3.7h0m-8.5 2.1h0m4 2.2h0m2.3-1.8h0m-0.5-0.1h0m-4.8-0.5h0m-6.4-1.7h0m7.8-0.6h0m1.7-0.3h0m1.5 2.3h0m-1.9-4.6h0m4 3.6h0m5.9 2h0m-9.1-1.7h0m-0.1-1.2h0m2.1 0.5h0m2.3 1.8h0m-0.4-4.5h0m-1.2 1.2h0m1.4 1.5h0m-4.3-3h0m1.9 8.1h0m-0.6-4.2h0m1.9 2.1h0m-4-3.5h0m4.7 4.7h0m-4.9-2.4h0m3.2-3.5h0m0.8 2.2h0m-3.5-3.4h0m-1.9 1.2h0m11.1 3.2h0m-17.3 2.7h0m6.2-2.5h0m1 3.1h0m-0.1-6.4h0m1.7 2.6h0m1.2 1h0m4.2-0.5h0m-13.6-1.4h0m8.1 4.8h0m4.5-0.4h0m0.2-6.3h0m-3.7 1.4h0m-3.3-0.3h0m5.3-2.2h0m-0.6 0.1h0m7.5 3.9h0m-7.4 2.5h0m1.3-2.7h0m-10.4 3.4h0m12.4 1.9h0m-1.2-5.8h0m-8.1-4.3h0m8.8 5.7h0m-10-3h0m1-4.2h0m-7.1 5h0m7.6 0.4h0m-1.9 1h0m9.3 1.8h0m-3.6-2.6h0m2.8 2.3h0m-7.2 3.6h0m2.2-3.8h0m7.8-1.4h0m-11.4-2.1h0m-1.3 0.8h0m2 2.9h0m6.4 2.8h0m2.8-3.8h0m-13.1-1.1h0m10.1-0.9h0m7.5 2.6h0m-5.5 4.2h0m-2.1-5.2h0m1.1 1.3h0m1.9-4h0m-10.9 5.3h0m14.6-0.4h0m-7.1-1.7h0m1.5 1.3h0m-7-4.5h0m9.8 1.8h0m-8.2-0.5h0m-0.3 7.2h0m4.4-3.9h0m-3.9-5.2h0m9.6 2.8h0m-5.2-1.1h0m4.8 2.1h0m-3.7-3h0m-0.5 0.6h0m-11.3 3.7h0m14.4-4.4h0m1 4.3h0m-0.4 1.8h0m-8.4-2.8h0m0.4 0.9h0m4.1 5.5h0m-2.5-5.4h0m0.4-2.9h0m-5.5 1.4h0m-3.3 0.1h0m10.3 2.9h0m-1-1h0m0.5-3.1h0m7.4-0.4h0m-2.9 0.2h0m3.3 1h0m-4.8 3.2h0m-6.8-5.1h0m-0.9 1.7h0m5.1-1.1h0m1.8-2.3h0m-0.2 0h0m-1 1.6h0m-6.4 3.1h0m3.9 0.8h0m7.9-4.1h0m-2.1 0.7h0m0.4-3.2h0m-3.6 7.8h0m5.5-2.4h0m-4.3-0.2h0m-0.9-0.6h0m-4.8 2.1h0m6.6 0.7h0m1.2-2.1h0m-9.9-3.9h0m6.3 6.1h0m-2.5 4.8h0m1.1-7.8h0m-0.7-3h0m-7 2.6h0m8.9-1.6h0m-2.8-0.3h0m2.8-0.1h0m1.4 2.1h0m-6.2 2.5h0m4.5 1.8h0m-2.9-3.3h0m2 1.9h0m9.7 1.3h0m-15.1 1.2h0m5.3-0.8h0m3.8-1.9h0m-2.7-2h0m4.5-4.2h0m-6 4.6h0m3.5 5.1h0m2.4-5.1h0m-1.1-3.1h0m-5.3-3.6h0m2.2 6.1h0m-4-2.2h0m-6.1 0h0m5.5 5.2h0m11.4-3.8h0m-8.9 6.2h0m0.7-8.2h0m4.4 3.2h0m-3 2.2h0m1.1-3.2h0m0.6 3.7h0m4.9-1h0m-10.2-0.3h0m11.9-2.6h0m-14.4-4.9h0m12.2 5.7h0m0.7 0.2h0m-16.3 0.4h0m5.4-0.5h0m8 1.9h0m-4.5-0.1h0m-2.2-0.1h0m4.5-1.5h0m-1.5-3.2h0m4.6 6.1h0m-2.6 2.9h0m0.3-8h0m-6 5.6h0m5.7-3.6h0m3.7 3.3h0m-9.4-1.9h0m12.6 0.7h0m-7.6-4.5h0m1.8-1.1h0m2.8 0.3h0m-1.6 3.4h0m-5.8 3.9h0m4-5.5h0m0.8-1.5h0m-0.3 0.7h0m-3.2 3.6h0m3.5-1.4h0m3.7-3.1h0m-5.6 4.7h0m3.6-3.4h0m-8.4 1.1h0m7.5-4.7h0m-1.4 7.2h0m1-0.7h0m-7-1h0m-1.8 5.1h0m7.5-5.3h0m5.9 1h0m-13.5-2.4h0m4.9 3.1h0m4.5-1.8h0m-5.6-1.7h0m-1.9-1.9h0m-1.8 3.7h0m0.4 3.8h0m7.5-1.2h0m1.3 1.7h0m-4.8-8.3h0m8.8-2.4h0m-8.6 7.8h0m8.6-2.3h0m-5.5-2.1h0m-4.3 4h0m0.1-0.2h0m-2.3 5.1h0m-3.6-5.5h0m4.4 1.6h0m1-8.7h0m-7.3 13.1h0m10-5.6h0m5.8-0.2h0m-3.7-8.1h0m-3.6 6.9h0m0.9 3.7h0m5.4 0.1h0m-11-4.7h0m10.3 3.5h0m-2.2-4h0m4.5 0.9h0m-2.4 2.2h0m-7.4 0h0m1.7-3.3h0m-2.7 6.7h0m1.8-4.7h0m-1.3-1.6h0m2.7-0.7h0m0.3 1.2h0m-0.1 2.4h0m1.2 0.4h0m0.7 1.9h0m3.8-0.4h0m-0.2-4h0m-5.4 2.3h0m-0.7-3.3h0m-0.7 0.3h0m1.1 4.8h0m4.8 1.4h0m4-1.1h0m-4.7-1.2h0m-9.3-4.6h0m1.8 6.2h0m0.3-3.2h0m-0.7-0.3h0m7.3-2.9h0m-10.2 4h0m8.2 0h0m-6 0.3h0m4.7 1.6h0m3.1-4.2h0m-14 3.8h0m10.6-0.9h0m-5.3-3.1h0m7.8 0h0m-0.8-1h0m-1 4h0m-3.4 1.7h0m-1.5-7.2h0m8 5h0m-3.3-2.2h0m-5.8-0.3h0m8.1 3.5h0m1.2-3.6h0m4.7 0.3h0m-11.6 0.7h0m1.2-2.5h0m7.8 0.7h0m-0.4 2.8h0m-1.7-1h0m-6-2.4h0m3 4.2h0m-11.7 0.3h0m7.6 3.6h0m7.4-5.6h0m0.3 1.6h0m-8.1-2.4h0m-5.8-2.3h0m7.5 0.6h0m-1.4 3.7h0m2.4-5.3h0m3.7 4.5h0m-0.3-1.2h0m-4.1 6.2h0m-6.2-4h0m6.2-0.7h0m4.5-1.8h0m-1.6 2.1h0m-11.4-1.7h0m10.6-6.8h0m2.6 7.4h0m-6.5-2.7h0m7 2.1h0m1.1 1.4h0m0.8 0.7h0m-5.9-0.2h0m-2.9 3.5h0m4.5-0.2h0m-1.2-3.9h0m-1.2-3.6h0m10.8 1.6h0m-6.2 4.9h0m-5.1-2.4h0m-3.2-3.3h0m4.4 3.5h0m0.5-0.9h0m-5.6 2.1h0m15.7-1.6h0m-7.7-4.6h0m-5.8 6.1h0m7.5-2.2h0m-5.4 4.6h0m-0.8-7.7h0m-5.3 3.4h0m5.3-5.1h0m4.9 8.8h0m0.7-2.4h0m-8.3-0.3h0m0.4-2.9h0m6.2 3.8h0m3.5-4.1h0m-1.8 2.6h0m-4.7-7.8h0m2.7 6h0m3.3-4.9h0m-6.5 8.7h0m-5.3-2.8h0m8.5 2.7h0m-2.7-5.2h0m9 5.2h0m-8.5-2.1h0m-1.4-2.8h0m-9.3 4.1h0m9.8-2.4h0m-5.9 4.8h0m10.1 0.8h0m-3.9-5.1h0m0.3-3h0m6.6-1.3h0m-9.3 11.4h0m1.3-4.8h0m-6.1 0.3h0m14.6-6.3h0m-1.1 3.6h0m1.7 1.6h0m-8.2 1.8h0m1.2-4.3h0m-1.4 4.5h0m5.5-6.5h0m-3 2.7h0m-0.9-1.2h0m-1.3 1.9h0m5.3-0.4h0m1.2-1.1h0m-7.7 2.1h0m5.7 0.1h0m3.7-3.9h0m-2.5 0.8h0m-3.3-3.3h0m-1.7 3.8h0m6.6-1.5h0m-5.2 1.6h0m2.7 0.1h0m0.7 2.8h0m-1.8 0h0m-2.4-0.5h0m6.2 3.3h0m-7.4-3.4h0m6.8-4.2h0m-4.5 0.3h0m-1.6-0.3h0m6.2 0.4h0m-5.7 4.2h0m7.8-0.8h0m-1-4.1h0m-6.2 4.2h0m1 2.8h0m0.6-4.7h0m-5 2h0m2.5-1.4h0m-6.6 3.8h0m14.8-0.7h0m-16.9 2.1h0m9.4-6h0m-1.9-3h0m4.2 4.1h0m-4.8 1.5h0m3.3 0.2h0m-3.5 0.4h0m5.3-1.7h0m1.1 1h0m1.4-2.3h0m-1.7 1.6h0m0.2 0.7h0m-6-0.3h0m6.4 1.3h0m-10.5-1.3h0m4.2-1.9h0m0.7 0.2h0m6.7 4h0m-1.6-1.5h0m-2.8-1.5h0m5-1.2h0m-12.4 1.1h0m12 1.6h0m-8.9-1.3h0m3.6 0.1h0m-5.6 3h0m7.1-1.9h0m-3.3-1.4h0m-0.6-0.2h0m-0.5 1.6h0m3.4-0.3h0m-1.6-4.8h0m8.8 6.7h0m-11-4.9h0m1-1.3h0m-2.6 3.6h0m2.8-1.6h0m-3.3 1.6h0m0.6 1.3h0m4-1.7h0m-2.8-1.8h0m-2.5 4.8h0m4.3-2.9h0m2.5 2.4h0m-3.4-1.2h0m3.2 2h0m4.6-0.3h0m-8.6-9.8h0m2.5 4.9h0m-1.8 2.3h0m-0.5 4.5h0m-4.9-1.9h0m17-4.6h0m-11.1 6.1h0m6.3-6h0m5.8 3.6h0m-5.2 7h0m-8.2-11.8h0m-3 6.7h0m13.1 1h0m-5-8.3h0m1.3-3h0m-3.6 12.8h0m-0.4-5.3h0m8.1-0.8h0m-6.2-3.6h0m-3.1-1.6h0m2.7 3.4h0m-2.6 0.4h0m8.1 0.9h0m-7.3 0h0m-4.2-5.6h0m-0.4 8.2h0m13.6-0.3h0m-6.3-2.1h0m-5.2 4.7h0m3.5-5.6h0m6.3 2.7h0m0-2h0m-9.2 2.5h0m3.1-3.4h0m-5.9 2.1h0m8.7-0.3h0m2.9 2.5h0m-9.8-1.4h0m7.5 0.7h0m-0.3-0.2h0m-5.4 0.7h0m-1-4.6h0m6.4-1.5h0m-3.5-0.9h0m-0.6 3.2h0m2.3 1.6h0m-1.2-8.1h0m8.6 7.6h0m-7-2.6h0m6.2-0.7h0m-3.5 0.9h0m-0.1 0.9h0m-3.5 0.6h0m4.3 1.7h0m-6.6 0.3h0m-4 2.4h0m8-4h0m-0.6 1.8h0m-7.6-0.6h0m6-0.1h0m3.3-4.6h0m-7.4 2.9h0m2.2 3h0m-0.2-5.6h0m-6.1 7.3h0m13.9-7.2h0m-5 1.1h0m-0.9 1.2h0m0.8 4.9h0m1.4-2.3h0m0.7-0.5h0m-2.2-2.6h0m1.1 5.3h0m2.8-6.4h0m-5.9 5.8h0m2.3-3h0m3.1 2h0m-8.7 0.3h0m5.1-2.1h0m0.7-1.8h0m-0.8 2.5h0m1 0.7h0m2-1.5h0m6 2.3h0m-16.1-1.6h0m9.4-3.6h0m-8 5.5h0m5.2-0.6h0m-4.7-1.8h0m4.5 1h0m-10.6 1.3h0m12-3.4h0m-5 3.1h0m5.9-1.4h0m-0.6-4.2h0m-1.3 1.9h0m-1.5 5h0m1.5-2.5h0m-8.6 4.5h0m17-7.3h0m-7.6 0.4h0m-1.5 6.7h0m-3.3-2.3h0m6.8-2.8h0m3.5-1.9h0m-8.5 2.1h0m0.8 1.2h0m-0.2 0.9h0m8.5-6.1h0m-2.2 1.7h0m-5 0h0m-3.2 3.9h0m9.3-4.2h0m-8.5-2.8h0m7.2 3.6h0m2.5 0.9h0m-6.3-0.1h0m5-2.3h0m-7 1.7h0m4.1 3.6h0m0-3.1h0m-10.9-4h0m0.7 4.2h0m8.7 3.1h0m-15.3 0.6h0m15.4-5h0m-10.7 4.6h0m7.7-2.5h0m-1.2 1.2h0m-3.6-5.7h0m6.2 5.2h0m5.1-4.7h0m-12.4 1.6h0m11.5 2.8h0m-4-1h0m5.1 1.9h0m2.1 0.3h0m-14-1.8h0m7.2 3.5h0m-2.7-6.8h0m2.6 3.9h0m-3.9-3.1h0m8.2 4.8h0m-9.7-0.9h0m-0.4 2.5h0m4.6-6.1h0m5.8-1h0m-5.9 4h0m0.1-1.7h0m-3.8 3.7h0m2.4-2.6h0m4.8-2.2h0m1.4-0.8h0m-5 5h0m1.1-2.2h0m-3.6 1.1h0m4.5 0.5h0m0.7-5.6h0m0.3 3.2h0m-4.3-0.5h0m5.9 1.3h0m-4.6-4.9h0m5.1 3.8h0m-2.5 1.9h0m-3.5-0.8h0m-2.1 2h0m-2.5-1.3h0m8.1 1.1h0m0.7-4.6h0m-1.3-0.1h0m-4.9 4.4h0m7.2-4.4h0m2.1 6h0m-4.5-3.1h0m5.7 1.4h0m-9.8-4.2h0m-3.3 5.2h0m-0.9-2.6h0m0.4 3.9h0m11-6.7h0m4 1h0m-8.1 5.4h0m-0.6-3.2h0m-1.6 1h0m1.7-5.2h0m9.4 6.1h0m-10-1.5h0m-10.5-0.6h0m19.2 1.2h0m-8.6-2.6h0m-4.2-5.1h0m9.3 5.5h0m-10.9 2.6h0m6.8-1.1h0m0.8-1.7h0m0.6 4.4h0m-1.8-4.3h0m1.5 2.6h0m3.6 0.9h0m-6.7-6.9h0m0.2 5.2h0m-1.7 1.7h0m2.1 0.4h0m0.5-0.7h0m3-3h0m0.5-1.1h0m-5.1 2.2h0m-3.9-3.7h0m7.8 1.5h0m5.3 3.1h0m-14.6 5.3h0m10-10h0m-4.8 4.2h0m0.9-7.9h0m1 10.2h0m-0.3 4.2h0m0.2-5.2h0m6.3 1.5h0m-14.1-4h0m7.8 0.4h0m6 2h0m-4.1-1.9h0m-1.4-3h0m-6.9 0.1h0m6.5 5.1h0m3.4-5.8h0m2.8 0.2h0m-1.3 3.6h0m-11.6 0h0m4.1 4.4h0m4.2-2.4h0m1.3-2.5h0m-7.3 7.1h0m10.9-6.4h0m-5.8 0.8h0m-6.7-2.1h0m4.5 1.3h0m3 2.5h0m7.7-0.3h0m-2.8-6.5h0m-2.1 8.8h0m-3.7-8h0m0.4 6.6h0m-0.2-5.4h0m6.2-0.2h0m-1.6-1.6h0m-4 0.1h0m-2.9 8.7h0m2-5.1h0m-0.4 0.2h0m5.6 0.7h0m-2-4.7h0m-0.1 5.5h0m-1.9-1.1h0m0.6-4.2h0m6.1 2.1h0m-8.8 0h0m1.2 3.6h0m6.2 1.8h0m-0.8 0h0m-7.3-6.9h0m-6.5-1.4h0m6.8 6.5h0m3.8-2.6h0m-1 0.2h0m-4-2.5h0m-3.1 1.8h0m7.4-4.7h0m-2 7.2h0m1.4-3.4h0m-1 1h0m-6.1 0.6h0m13.5 1.2h0m-4.4-4.1h0m-3.9 3.1h0m5.6 1.5h0m0.8 0.3h0m0 1.3h0m1.9-5.7h0m-4.4 2.7h0m-3.6 0.5h0m2.2 1.1h0m5.7 0.8h0m-3.7-7h0m-4.3 0.7h0m-0.4 3.1h0m-5.1 2.4h0m6.1-1.2h0m-1.7 0.2h0m0.4-6h0m11.7 5.6h0m-13.5 0.3h0m8.1-3.6h0m-5.9 2.9h0m6-0.5h0m-3.1-3.3h0m2.2 5.9h0m-10.4-2.3h0m8.7 2.9h0m0.7-3h0m-8.8 0.9h0m5.2 5.5h0m1-7.9h0m2.9 3.5h0m-4.5-4.4h0m-0.2 3.9h0m11-1.6h0m-9.1 2.9h0m-6.4-5.4h0m5.8 4.3h0m2.2 2.1h0m-5.1-3.5h0m-0.6 0.1h0m2.7-1.4h0m0.4 0.6h0m-0.7-0.3h0m-10.3-2.2h0m7.3 1.9h0m4.4 3.9h0m4-3.6h0m-7.1 1.3h0m8.1-1.4h0" stroke="#f07676" stroke-width="0.7" stroke-linecap="square" fill="none"/>
<path d="M368.7 174.9h0m12.8-0.2h0m-10.9 0h0m10.4 3.1h0m-2.9-4.5h0m-9.5 1.7h0m1.2 1h0m14.2-2.8h0m-7.2 4.5h0m7.9-3.6h0m-7.3-0.6h0m-0.8 3.4h0m-2.8-1.5h0m1.1 1.4h0m-4.4-0.6h0m11.4 1h0m-17.3 0.2h0m5.2 2.2h0m5.3-4.7h0m-6.2 1.8h0m0.5-0.4h0m4 3.2h0m5.8-4.5h0m-0.3 1.1h0m1.1-2.3h0m-13.7 1.1h0m5.4 0.8h0m2.1-1h0m5.7 0.8h0m-9.7 0.5h0m7.9-0.8h0m-8.6 2.1h0m8-1.7h0m-1.8 1.7h0m7.5 1.2h0m3.5-0.7h0m-10.2-1.4h0m-6.8 1.3h0m14.9-1.6h0m-10.2-1.3h0m8.8 0.5h0m-7.2 4h0m2.1 0.1h0m-5.1-5.6h0m10.4 4.3h0m-6.2-1.8h0m-3.8 0.9h0m0.2-4.1h0m7 4.5h0m-1.5-0.8h0m-4.4 1.8h0m1.1-1.1h0m-2.4-4.4h0m-1.7 4.5h0m3.3 4.9h0m6-4.4h0m-8.3-6.3h0m9.5 1.7h0m-6.8 5.1h0m7.3-2.8h0m-5.4-3.4h0m-2.6 3.7h0m0.8-3h0m-6.3 3.5h0m-0.7-0.4h0m11.6-1.7h0m2.7 4.9h0m-7.2-4.5h0m-1.4 0.3h0m15.2-0.1h0m-18-0.2h0m8.9 0.8h0m-9.9 0.7h0m22.4-0.6h0m-24.4-3h0m6.5 3.5h0m3.6-0.3h0m-2.9-5.2h0m-4.8 7.6h0m3.2-0.4h0m0 0.9h0m-0.6-5.9h0m5.3 6.4h0m-7.4-2.1h0m11.4 0.8h0m-9.2-2.6h0m16.9 1.8h0m-17.2-0.1h0m10.4-1.1h0m-12.1 1.5h0m4.2-4h0m-10.8 3.5h0m21.9 3.8h0m-14.3-4.4h0m7.7-1.9h0m0.4-2.1h0m-4.3 3h0m11.2 1.1h0m-9.1-0.1h0m-9.4 4.7h0m11.9-7.8h0m0.5 1.7h0m-5.4 1.6h0m1.9-5.2h0m-4.7 6.4h0m1.5-0.8h0m-0.9-3.3h0m-2.5 0.4h0m5.1 2.5h0m10-0.8h0m-17.7-0.7h0m0 0.1h0m5 3.8h0m-5.6-5.3h0m6.6 1.6h0m7.1 2.4h0m-9.8-1.3h0m6.4-5.2h0m2.8 4.3h0m-11.5-1h0m3.9 4.1h0m9.2-3.6h0m9.9 3.3h0m-20.2-2h0m-3.4-1h0m10.5 4.4h0m-5.4-0.6h0m4.7-2h0m-5.7-2.8h0m-0.5 5.2h0m9.5-0.6h0m4.7-1.6h0m-14.4-2.4h0m11.9 3.2h0m-2.5-0.4h0m-7.1-2.2h0m8-0.8h0m-4.5-1.5h0m-1.2 3.6h0m-0.7-1h0m-5.5 3.2h0m-0.6-2.5h0m2.8 0.3h0m-3.8-1.8h0m7.9-3.4h0m-8.4 2.9h0m16 1.9h0m-1 0.5h0m-19.4-1.4h0m13.6-0.3h0m-2.1 1.4h0m5.4 3.1h0m2.3-4.1h0m6-1.1h0m-4.4-1h0m-16.9 1.1h0m6.6 1.1h0m14.3 0.8h0m-21.3 3h0m4.9-4.6h0m6.9 5.1h0m-6.6-2.7h0m-0.8-2.5h0m8.3 4.3h0m5.4-3h0m-2.5 1.7h0m-11.6 1.3h0m7.2-3.5h0m-0.5 1.9h0m-1.5-6.9h0m3.1 2.4h0m-5 6.5h0m0-4.8h0m8.2 1.6h0m0.3 0.4h0m0.4-0.7h0m-8.5-0.9h0m-3.2 2h0m-0.9 2.1h0m11.6-3.6h0m-14.3 0h0m9.7 2.1h0m2.6-0.2h0m-14.9-1.7h0m8.1 0.5h0m2.5 4.3h0m7-7.6h0m-6.8-1.9h0m4.6-0.7h0m-10.9 3.1h0m10 4.3h0m-7-1.9h0m-0.3-1.9h0m7-0.8h0m-9.1-1.3h0m9.9 2.6h0m-14.5 3.6h0m9.6-3.2h0m-2.5 1.1h0m-0.4-3.2h0m1.9 5.2h0m-2.8 1.2h0m8.1-3.8h0m6-3.4h0m-6.8 7.4h0m-6.4-4.2h0m10.6 1.9h0m-2.7-0.4h0m-3.3-5.5h0m1.8 2.3h0m-9.5 2.2h0m4.2 0.6h0m12.2-0.7h0m-10.7-4.3h0m4.9-1.5h0m-1.7 7.5h0m1.7-2.3h0m-7.6 2.7h0m-2.6-0.2h0m1.9-6.5h0m-1.5 7.8h0m6.4-4.6h0m-2.2 4.4h0m-1.7-2.7h0m1.9-5h0m-10.4 5.5h0m10.9-1.9h0m4.5 2.7h0m6.3-2.2h0m-13.7 0.9h0m9.4-0.4h0m-12.4 1.4h0m6.5-2h0m3.3-0.2h0m-8.5 0.2h0m0.6-2.4h0m-0.1 3.4h0m2.5-3.8h0m1.5 0.9h0m-5.4 1.1h0m9.8 2h0m-10.9-0.5h0m11.8-1h0m5.3 6.5h0m-15.9-5.5h0m19.4-2.2h0m-17.9 1.3h0m8.1 1.5h0m-0.3-0.8h0m-1.9-0.6h0m-10.3 2.1h0m9.9 1.4h0m-10.2-3h0m14.8-0.8h0m0 1.9h0m-4.4-1.9h0m0-0.5h0m-5.9 1.7h0m-2.1 0.7h0m-2.2 0.5h0m-0.4-1.2h0m11.8 0.5h0m-12.5-0.8h0m6.6-0.3h0m4-0.7h0m-4.2 0.3h0m3.6 1.3h0m1.1 2.8h0m0.2-3.3h0m-0.8 0.7h0m-8-3.4h0m11.3 0.2h0m-5.5 5h0m1.6-2.1h0m0-2.4h0m11.3 1.2h0m-12.7 2.7h0m2.5-4.2h0m10.6 4h0m-21.6 1.8h0m6.9-1.5h0m-1.2-1.4h0m5.3-0.7h0m3.9-0.8h0m-9.7 1.9h0m5.4-1.2h0m0.2 2.4h0m-2.4-3.1h0m4.5-2.6h0m-14.3 3.1h0m10.3 0.4h0m-1-2.2h0m0.5 2.5h0m4.4 0h0m-0.2 2.6h0m0.2-5.6h0m-1.1 8.1h0m5.9-5.3h0m-4.2-3.3h0m8.3 7.3h0m-10.4-1.4h0m-5.1-0.5h0m9.6-4.8h0m-12.5 3.1h0m10.8-2h0m8.8 0.8h0m-8.6 4.1h0m-2.7-4.2h0m-1.6 1.2h0m-1.3-0.3h0m4.2-2.3h0m1 7.7h0m3.1-5.8h0m-8 2.7h0m-1.5 0.2h0m6.1 1.7h0m-11.2-6.2h0m3 4.5h0m4.7-3h0m8.2-0.2h0" stroke="#f08686" stroke-width="0.6" stroke-linecap="square" fill="none"/>
<path d="M396.6 207.6h0m6.5 7.9h0m-0.5 5.9h0m-1.2-11.7h0m-3.6 5.8h0m-0.9 3h0m-1.6-3.5h0m-2.4 0.8h0m-2.9-0.1h0m3.5 1.6h0m9.6 2.1h0m-5.3-6.8h0m-3.2 4.6h0m-0.3 0.3h0m2.2 2.3h0m4.7-3.2h0m-11.2-2.5h0m3.5 1.1h0m9.7 3h0m-2.8-2.5h0m-4.2 0.7h0m0.6-0.1h0m-1.1 4.3h0m0.3-7h0m2.9 3.8h0m-5.3 1.2h0m3.5-0.6h0m-0.3-1.3h0m5.8 2h0m-11.5-2.5h0m0 2.9h0m5.7-2.3h0m4.3-2.4h0m-1.5 6.6h0m-0.1-5.5h0m0.9-4.7h0m-3.6 7.6h0m4.2-0.7h0m-7.4 0.2h0m-1.6-5.1h0m5.4 8.5h0m2.2-2.8h0m-3.6-5.7h0m-2.5 5.1h0m3.4-1.6h0m6.1-2h0m-8.9-0.6h0m-0.2 1h0m6.2 3.1h0m-0.9-3.3h0m-0.3 1.1h0m-2.2 2.5h0m1.5 1.7h0m5.7-6h0m-1.4 2.3h0m-10.1 1.2h0m7.3 6.3h0m-4.1-11.3h0m-0.7 5.5h0m4 0.2h0m-0.8-2.1h0m-4.4-3.5h0m-3.4 0.5h0m5 8.9h0m-5.3-6.1h0m-0.2 2.2h0m-1.7 3.1h0m9.9-8.5h0m4.7 2.9h0m-14.6 6h0m14-8h0m-11.9 2.8h0m8.8 0.6h0m-5-2.5h0m-0.5-2.1h0m-4.1 3.7h0m-1.3 1.8h0m4.1-3.7h0m0.5 2.4h0m2.5 3.3h0m0-6.2h0m-4.9 4h0m4.1-3.1h0m1.7 2.8h0m-0.5 2.6h0m1.6-3.8h0m-2.9 1.8h0m1.6-2.6h0m8.5 1.5h0m-6.5-2.5h0m2.9-1.7h0m-5.4 2.5h0m-1.2 6.1h0m3.4-3.2h0m2.6-4.1h0m-7.6 0.4h0m1.3 0.2h0m-6.8 3.9h0m7.5 1.4h0m-2.4-3.2h0m-3.3-2.5h0m1.6 2.4h0m4-2.8h0m3.2 5.1h0m-0.3-1.5h0m6.8 1.6h0m-4.5-6.4h0m2.1-0.4h0m-2.5 3.8h0m-3.5 1.8h0m-5.8-1.3h0m2.5 8h0m0.7-5.6h0m11.2-5.1h0m-5.9 4.5h0m1.3 0.3h0m1.5-3h0m-6.9-0.2h0m-2.5-1.3h0m10.5 1.3h0m-3.3 5.7h0m-7.1-5.4h0m10.9 1.5h0m-9.8-2.3h0m3.3 0.2h0m-9.4-2.6h0m6.8 3.2h0m-9.1 0.7h0m9.4 6.3h0m6.7-5.4h0m-4.2-1.2h0m-6.6-0.3h0m7.3 5.4h0m-5.3-5h0m5.3-3.1h0m-6.4 3.4h0m7.5-0.3h0m1.4-2.8h0m-5.2 2.1h0m-4.8 2.2h0m-1.4 0.3h0m2.8 2h0m9.2-11.8h0m-0.7 10.3h0m-5.5 0.1h0m3.8-1.5h0m-4.4-6.4h0m-2.5 2.2h0m5.2 3.8h0m-3.6 1.8h0m-1.4-1.9h0m0 6.2h0m-3.2-7.6h0m1.8 5.2h0m3.7-3.8h0m8.3 3.5h0m-10.6-5h0m3.5 4.3h0m-3.5-6.7h0m6.5 6.6h0m-3.2-2.9h0m-5.3 1h0m4.8 4.2h0m4.4-1.8h0m-2.3-6.6h0m8.1-0.4h0m-12.8 2.9h0m0.3 6h0m-5.1-2.5h0m5 0.7h0m6.3-0.3h0m-5.4 1.4h0m6 0.4h0m-1.5-9.4h0m-9.2 1.2h0m7.9 8.4h0m-3.8-7.1h0m3.2-0.4h0m5.6 6.1h0m-2.7-1.6h0m-5.8-0.9h0m6.9-1.8h0m-3-0.2h0m-3.2-3.1h0m-0.6 4.3h0m0.2-0.8h0m7.7 6.1h0m0.3-3.4h0m-6.6-4.7h0m6.1 7.3h0m-6.8-3.7h0m8.5 0.9h0m-1.8-4.7h0m-3.4 2.4h0m-9.4-3.4h0m8.2 0.7h0m-4.1 3.1h0m3.7 0.8h0m3.8-0.4h0m-6.6-1.2h0m8.1 1.5h0m-3.4-2.5h0m-1.2-1h0m-3.9 3.3h0m5.2 3.3h0m0.3-5.6h0m1.1-3.2h0m-2.2 4.3h0m-3 2h0m1.7-7.8h0m-5 9.6h0m4.6-5.4h0m-2 4.8h0m9.1 2.4h0m-5.7-0.2h0m-5.9-5.5h0m6.1 4h0m-3.2 4.9h0m7.4-10.7h0m-3.4 5h0m-3.8 0.4h0m10.2-3.6h0m-8.7 2.4h0m0.1-4h0m-7.2 1.1h0m4.5-5.9h0m-0.6 7.9h0m-1.6-2.4h0m-3.6-1.9h0m16.6 5.4h0m-6.2-4.8h0m-7.9 5.5h0m13.8-4.8h0m-8.8 5.2h0m8.4-2h0m-11.4-0.5h0m6.2-2.6h0m-6.8 7.8h0m4.2-5.7h0m-3.9 2.9h0m-0.5-3.9h0m11-0.5h0m-9.1 3.3h0m2.1 2.6h0m10.5-3.2h0m-7.1 0h0m-14.7 5h0m15.7-7h0m-8.4 3h0m4.2-6.1h0m8.7 5.1h0m-2.1-2.5h0m-0.1-1.8h0m-8.7 0.9h0m-0.5-2h0m9.4 6.8h0m-2.1-5.8h0m-9.2 3.8h0m4.3 1.8h0m7.4-2.9h0m-10.2-6.2h0m4.1 8.1h0m-3.9-4.9h0m-2.7 0.9h0m7.8 4.9h0m-3.2-2.7h0m6.8-4.9h0m-6.8 8.6h0m0-5h0m6.1 9.8h0m-9.3-8.7h0m8.4-2.4h0m-0.2 5.9h0m-6.1 0.3h0m6.6 0.4h0m-1-7h0m-5.2-3.6h0m1.2 8.1h0m1.9-2.4h0m2.6 2.8h0m-5.7-1.5h0m1.5 3.5h0m0.2-2.1h0m-2.5-1.3h0m2.4-1.9h0m0.1 0.6h0m-0.5-0.2h0m-1.9 3.8h0m6.5 2.5h0m0-5.4h0m0.3 1h0m-0.3 0.2h0m-8-3.5h0m6.6 6.2h0m-4.3-0.9h0m11.7-2.9h0m-5.8-0.1h0m-7.1 2.9h0m2.5-1h0m6.2-3.5h0m-4.7 6.8h0m0.8-3.2h0m-4.4-4.9h0m-3.7-0.1h0m1.8 1.2h0m1.2 5.2h0m-0.9-4.2h0m4.1-3.6h0m0.4 3.4h0m5.5 1.7h0m2.9 4h0m-9.3-1.2h0m-0.3-2.4h0m-1.7-0.9h0m5.4-7.3h0m-7.4 4h0m-4.8 2.5h0m7.2-2.2h0m1.1 3.5h0m2.4-7.1h0m-0.6 7.5h0m-2.6 1.2h0m11.3-5.5h0m-9.2 6.1h0m8-2.1h0m-13.7 0.7h0m7.6-0.9h0m4.9 1.2h0m-9.6-1.9h0m11.9 4.7h0m-16.6-5.8h0m3.7-0.9h0m4 1.5h0m0.2 0.4h0m2.9-0.8h0m-9.1 3.2h0m13-7.7h0m-6.5 7.7h0m-5.9 0h0m9.2-0.9h0m-0.9-3.7h0m-0.7 3.2h0m-12.2-4.6h0m9.1 1.1h0m-6 5.6h0m6.6-1.6h0m-10.1 6.2h0m17.5-6.7h0m-8.4 6.9h0m8.9-8.4h0m-1.1 2.2h0m-8-2.4h0m-8.7 0.3h0m4.3-0.4h0m12.2 0.1h0m-5.1 1.3h0m0.7 0.1h0m3-4.5h0m-2.9-0.5h0m4.2 7h0m-13.2-7.1h0m5.3 5h0m-0.2 0.7h0m-0.9-3h0m7.9 0.3h0m-9.3 2.9h0m1.1-3.8h0m6.7 4.3h0m-3.1-4h0m-7.6 4.4h0m6.2 0.3h0m-3.6-7.2h0m10.1 1.1h0m-12.1 4.1h0m13.6-4.1h0m-1.5-2.5h0m-6.8 9.3h0m-7.7-4.3h0m6.4 0.8h0m2 4.8h0m-1-3h0m0.6 0.2h0m8.9-5.4h0m-17.3 1h0m4.9 9.8h0m12.5-8.1h0m-0.1 2.8h0m-5.5-2.2h0m5 6.5h0m-0.9-5.3h0m-1.7-2.5h0m-4.5 1.6h0m0.6 4.3h0m1.4-0.3h0m-3.1-1.4h0m-2.8-1h0m6-4.1h0m4.2 6h0m-4.8-7.1h0m-1.9-0.5h0m-5.6 1.1h0m10.4 2.8h0m-7.2 2.1h0m2.1-3.4h0m7.8 0.2h0m-17.6 5.7h0m5.9-9h0m2.6 7.5h0m0.1-1.3h0m-1.4-1.3h0m5.8 5h0m-4.5-5.9h0m3.8 3.7h0m1.1-3.1h0m-2.6 4.3h0m1.5 3.2h0m-3.1-7.3h0m-10.4-2.3h0m0.6 6.6h0m15.5-7.1h0m-3.6 6h0m-1.4-4.8h0m-6.2-3.4h0m8.3 11.9h0m0.6-7h0m-1.5-4.4h0m1.4 0.3h0m-11.5 5.8h0m4.8 1.3h0m4.7-3.4h0m4.4-0.2h0m-14.1-2.4h0m15.2 5.6h0m0.3-1.2h0m-4.7-1.2h0m-8.6-2.5h0m3.8 3.3h0m8 1.5h0m0.8-2h0m-5.5 3h0m8.8-3.7h0m-18.7-0.7h0m7.6 0.5h0m5.4-1.8h0m-6.1 0.2h0m1.9 7h0m-5.1-5.8h0m7.9 3.3h0m-5.4-6.5h0m0.6 5.7h0m-2.1-0.3h0m5.7 0.8h0m-3-3.9h0m-4.3 4h0m11.3-0.3h0m-3.3 0.6h0m-4.5-2.5h0m4.7-0.7h0m-2.3 6h0m-1.2-6.9h0m2 1.9h0m1.4 1.1h0m3.5-2.8h0m2.3 8.8h0m-2.9-5.2h0m-10.8-1.8h0m15.6-3.3h0m-7 5.4h0m5.7-1.8h0m-8.6-1.3h0m-2.2 3.6h0m1.2-5.7h0m3 8.5h0m-2.8-3.7h0m6.4 0h0m-10.7-2.9h0m10 0.3h0m-2 1.8h0m4.6 0.7h0m-8.6-2.3h0m5.1 3.7h0m-8.1-3.7h0m10.3-1.8h0m-5.3 8.2h0m-7.7-6.8h0m9.7-0.8h0m1.2 4.9h0m-9 0.6h0m1.2-1.4h0m5-4.3h0m2.5 0.8h0m-3.6 5.4h0m0.4-9.5h0m-5.5 3.7h0m4.4 5.1h0m8.8-3.9h0m-5.2 1.7h0m-9.6-4h0m3 3.8h0m13.4-3.1h0m-2.8 2.3h0m-3.3-4.5h0m-6.3 9h0m3.5 2.3h0m6.7-10h0m-9.3 3.3h0m8-6.1h0m-1.9 5.2h0m-3.6 1h0m-2.3-3.9h0m3.2 3.9h0m-3 1.5h0m-1.1-7.1h0m4.2 10.5h0m-12.2-3.2h0m12-3.7h0m0.6 5.5h0m6.2-6.6h0m1 10.8h0m-9.3-10.8h0m-11.7 1.2h0m8.8-1.4h0m5.9 5.8h0m1-8.2h0m-3.4 6.5h0m4.2 2.3h0m-9.2-0.2h0m9.6-0.9h0m-7.1-0.5h0m8.8 1.1h0m-5.3-2.4h0m-6.2 2.1h0m7.1-0.8h0m-6.4-0.1h0m4.6-4.2h0m3.5 1h0m-7.4 2.6h0m9.8-3.3h0m0.6-3.1h0m-0.2 7.6h0m-7.6-1.5h0m7.5-1.4h0m-12-1.3h0m6.5 3.2h0m-5 0.8h0m8.6-2.7h0m-12.2-4.8h0m2.6 7.5h0m5.1-3.7h0m-5.5-4.8h0m4.5 4.5h0m-1.4-2h0m5.9 1.7h0m-9.4 2.6h0m-2.4 2.9h0m12.5-1.9h0m-3.4-1.8h0m2.7-5.8h0m-5.3 1.5h0m6.5 4.3h0m-1.5-2.8h0m-6.4 4.6h0m5.3-7.2h0m0.7 6.5h0m4.6 7.5h0m-8.4-8.6h0m-0.7 0h0m10.6 2.8h0m-10.8-6.7h0m-8.3 8.3h0m10-3.8h0m-6.2-3h0m8.6 2.1h0m-6.8 7.8h0m6.1-9.3h0m-5.7 3.6h0m5.9-4.8h0m-4.2 7.5h0m6.9-1.6h0m-2.7-1.6h0m-0.5 2.2h0m-0.2-0.7h0m3-3h0m-4.9-2.3h0m-1.7 2.5h0m0.9-6.7h0m-1.4 7.2h0m-4.9 2.2h0m13.2-4.8h0m-4.1-1.3h0m-3.8 6.8h0m7.6-4h0m-1.4-1.4h0m4 4.9h0m-15.9-3.8h0m10.9 5h0m-1.5 1.1h0m-2.1-3.1h0m2.5-4.1h0m-1.5 2.1h0m0.8-1.1h0m-5.7 4.9h0m6.8-7h0m-3.7 3.5h0m-1.5-3.4h0m4.4 4.8h0m-6.3 3.8h0m13.2-11.1h0m-8.2 9.6h0m6.7-4.9h0m-3.3 5.5h0m1.8-6.7h0m4.3 1.5h0m-5.3 1.1h0m-1 4.8h0m4.2-8.3h0m-13.9 3.3h0m11.1 3.4h0m-2-5.4h0m-2.3 0.4h0m-6.1 1.4h0m11.6-3.2h0m-4 2.5h0m-3.4-3.9h0m9.3 5.7h0m-11.5 0.2h0m-0.8-2.8h0m7.4 3.2h0m1.6-4.7h0m-3.2 3.5h0m-2.1 6h0m-5.3-4.2h0m-4.1 0h0m16.2-0.7h0m-8.8-0.6h0m6.6 1.2h0m-2.7 3.2h0m0.9-6h0m-4.3 3.9h0m5.4 1.8h0m-8.6-8.3h0m11 9.3h0m-2.6-9.4h0m-5.1 5.9h0m-4.8-2.9h0m8 4.2h0m4.4-0.1h0m-3.7-6.5h0m-1.6 5.2h0m-0.8-3.2h0m6.4-1.1h0m-1.6 3.9h0m-1.1 1.5h0m-0.2-6.2h0m-4.7-1.1h0m-5.9 2.4h0m7.9 4.4h0m3.8 1.3h0m0.1-7.5h0m0.4 3.8h0m-7 5.1h0m2.1-5.8h0m7.2-1.9h0m-6.6 0.2h0m-3 8.6h0m13.1-5.5h0m-10.9 2.6h0m-1.6-1.9h0m6.9-6.8h0m-9.6 4.2h0m10.1 0h0m-4.9 4.1h0m-2.6-5.7h0m-3.3-2.8h0m4.5 8.5h0m1.3-2.4h0m-5.4-1.5h0m10.8 2.6h0m-5.4 2.9h0m6.4-3.9h0m-2.5-4.8h0m-0.1 1.7h0m-3.4-0.1h0m-2.1-4.2h0m1.8 11.4h0m-1.7-3.7h0m-2.2-7.1h0m0.7 0.5h0m1.5 6.5h0m-2.5-1.2h0m10.3-0.8h0m-11.2 3.3h0m6.9 0.5h0m2.4-7.8h0m2.1 8.7h0m-7.3-3.2h0m0.3-7.1h0m4.1 7.9h0m-8.5-3.1h0m9.7 1.2h0m-2.7 3.4h0m-4-3.3h0m2.1 0.5h0m-0.7-1.9h0m-4.5-3.5h0m5.3-1.4h0m-4.7 3.2h0m6.8 3.7h0m1.1 4.7h0m-9.1-4.9h0m-7.1-0.4h0m-0.5 0.2h0m19.7 1.3h0m-1.9 0.1h0m-4.1-6.7h0m0.9 4.2h0m2.1-1.9h0m4 1.8h0m-4.8 3.7h0m-1 0.4h0m-5.7-2.3h0m9.9-3.7h0m-1.6-0.6h0m-3.8 7.3h0m-9.1-8.8h0m6.3 4.7h0m4.1-4.5h0m2.1 5.3h0m5.9-1.1h0m-7.5-0.3h0m0.3 1.1h0m-0.8-3h0m-1.4 6.9h0m-4.1 0.9h0m-1.3-3.9h0m6.2-2.6h0m-1.9 1.7h0m4.5-2.7h0m-6-3.5h0m4.2 7.3h0m-2.7 0.6h0m0.5 0.6h0m2.5-4.2h0m-3.3 5h0m10.2-4.1h0m-6.5-1.4h0m0.1 7h0m-8.1-6.8h0m12.2 8.9h0m-4.4-9.7h0m0.7 0.8h0m5.3 2.7h0m-9.1-2.5h0m3.8 5.3h0m-6-3.3h0m12.8-4.9h0m-6.9 7.1h0m-0.4 1.5h0m0.8-5.1h0m1-0.1h0m-2.6 2.1h0m-9.2 1.7h0m9.7-2.8h0m-8.6 3.4h0m8.9-4.2h0m4.4 0.2h0m-4.9 1.7h0m-0.8-3.8h0m6.9 9h0m-12.3-4.7h0m9.4-4.9h0m-7.2-0.9h0m5.7 7.1h0m-4.7 0.9h0m10.6-6.7h0m-11 6.2h0m0.8 0.9h0m-6.9-3.9h0m7.8 0.6h0m-1.6-2.4h0m10.2-1.7h0m-11.4 4.7h0m1.1 2.8h0m4.6-0.4h0m-9.1-4.8h0m8.3 1h0m-2.9-1.1h0m0.5-2.2h0m5.9 5.4h0m-5.5-1.8h0m-2.8-3.1h0m-6.5-0.4h0m13 2.9h0m-3.2-2.5h0m2.7 2.2h0m-1.3-2.4h0m-12.6 4.9h0m8-6.4h0m3.4 11.1h0m6.1-4.8h0m2.7 2h0m-11.5-4.7h0m4.8 5.2h0m-4.6-3.1h0m-0.4 3.7h0m3.8-3.5h0m-7.9 4.3h0m8.9-1.7h0m-1-0.3h0m-5.2-2h0m4.2 0.3h0m1.1 0.8h0m3.3-3.3h0m-8 0h0m1.3 3.3h0m-7.2-4.5h0m5 0.2h0m6.4 3.1h0m-4.3-1.2h0m-2.3-1.7h0m6.6 1.6h0m2-2.1h0m-2.2 5.2h0m1.5-4h0m-3.1 4.8h0m-9.4-3.1h0m6.1 1.4h0m0.9-3.9h0m0.1 1.2h0m5.1 5.2h0m-5.1-1.9h0m-0.1 0.7h0m4.9-8.1h0m-9.2 0.3h0m10.9 5.6h0m-3.4-2.8h0m6.6 0h0m-6.6 6h0m-11.4-8.1h0m7.1-0.6h0m4.8 4.1h0m-2 1.9h0m-3.9 1.5h0m-2.1-4.4h0m10.5-3.3h0m0.4 6h0m-3.7-0.8h0m-3.3 3.3h0m1-3.6h0m0.6 2.1h0m-1.5-1.5h0m-3.6-2.7h0m8.2 1.1h0m-4.7-2.3h0m-0.2-2.2h0m4.7 8.1h0m-2-5.5h0m-0.1 0.8h0m-5.1 2.2h0m-6.2-2.1h0m19.2 0.9h0m-10.2 0.7h0m3.7-2.1h0m-9.1-1.6h0m11 8.3h0m-0.8-0.5h0m0.3 1.3h0m-5.4-9.5h0m-0.3 6.3h0m11.1-8.1h0m-9.8 8.2h0m-4.7-5.3h0m9.2 4h0m-3.2 3h0m8.5-8.2h0m-13.4 3.3h0m-6.6 3.2h0m3.5-4.1h0m10.1 3.5h0m-4.8 0.1h0m5.6 1.7h0m-4.9-9.2h0m7 7.8h0m-8.3-4.9h0m3.5 1.7h0m-0.8 1.5h0m5.1 2.5h0m-10.4-6.1h0m6.3 3.7h0m-5.1-5.8h0m-4.2 6.4h0m3.2-2h0m-1.4 0.3h0m8.7-3.8h0m-10.5 3.9h0m5.8 1.6h0m9.1-2.8h0m-2.3 4.5h0m-4-3.4h0m-0.1 1.2h0m-11 0.5h0m12.7 2.5h0m1.6-5.4h0m-9.4 3.3h0m14.8-2.7h0m-13.5-1.8h0m2.4 3.1h0m2.6-1.3h0m3.3 2.5h0m-4.2-5.6h0m5.2 2.8h0m-5.8 4.7h0m3.7-10.1h0m-2.5 10.6h0m7-3.2h0m-8.1-2.4h0m6.1-3h0m-6 11.1h0m-5.9-7.9h0m6.6-4h0m-7.2 2.8h0m7 4.5h0m2.1-0.6h0m3.2-3.3h0m0.9-0.1h0m-6.6-0.9h0m2.5 2.6h0m1.8 5.6h0m1.1-10.7h0m-10.7-0.3h0m9.5 7.7h0m2.4-4.3h0m-3.2 7.3h0m0.8 1.5h0m-1.1-0.6h0m3.2-9.1h0m-6.7 6.4h0m1.9-2.6h0m2.8-1.3h0m-4.6-2.4h0m-0.4 3.7h0m4.2-2.5h0m-6.6 6.1h0m9.6-1.4h0m-1.1 2.1h0m-13.7-0.5h0m6.1-2.3h0m3.8-2.6h0m6.6 1.1h0m-5.6 0.4h0m5-0.3h0m-8.5-4.7h0m-1.6 9.9h0m3.2-0.6h0m1.6-5.2h0m6.8-0.7h0m-11.8-0.9h0m6.8 2.3h0m0.4-1.5h0m-1.2-4.5h0m-8.1 3.7h0m9.3 6.4h0m-2.5-5.8h0m1.5-1.8h0m1.8 1.9h0m-7.1-4.7h0m-2.9 6.4h0m4.1-0.8h0m9.1 1.2h0m-10.1 3.1h0m4.4-4h0m-5.6 3.7h0m4-2.6h0m7.3-2.3h0m-3.4-4.5h0m-1.6 2.2h0m-8.5 2.6h0m3.3 1.1h0m6.9-2.4h0m-6.9-0.1h0m3 2.6h0m-11.7 1.2h0m15.5 0.8h0m1-5.7h0m-7.3 7.1h0m-1.6-1.3h0m6-0.4h0m-5.2-6h0m1.7 5.6h0m2.2-4.7h0m3.4 8.5h0m-0.1-6.6h0m2.8-3h0m-14.1 6h0m6.1-9.2h0m-4.4 3.6h0m11.9-1.6h0m-14.9 3h0m9.9 3.8h0m-1.5 4.3h0m-10-7.1h0m14.6-0.5h0m-10 1.9h0m0.3-5.1h0m9.2 7.5h0m-4.8-7h0m6.2 7.7h0m-4.8-1.1h0m0.8-4.3h0m-9-3.4h0m13.9 0.2h0m-5.9 4.4h0m-3.8 7.6h0m3.8-11.7h0m-3.7 3.2h0m1 3.3h0m-0.5-7.2h0m-1.7 5.2h0m-2.2 1.6h0m3.3-3.1h0m-3.7 4.1h0m-1.3 2.9h0m3.7-10h0m7.8 4.3h0m2.6 5.1h0m-7.6-5.7h0m3.4-3.3h0m-4.7 4.1h0m8.6 1.9h0m-8.4 3h0m5.7-6.2h0m-1.1 0.9h0m4.1 1.7h0m-13.4 0h0m8-3.3h0m4.3 10.4h0m2.3-12h0m-8.8 3.3h0m2.3 3.2h0m2.7-2.4h0m1.5 1.3h0m-6.1 3.4h0m5.7 0.6h0m-9.6-4.4h0m10.8-1.6h0m-1.3 3.6h0m3.6-10.1h0m-2.6 7.3h0m-1.7 6.7h0m-7.9-7.7h0m8.9-2.5h0m-1.7 3.2h0m1.3 1.1h0m-10.3-5.2h0m6.4 11h0m-1.4-8.1h0m-1.5 3.8h0m-0.3 2.1h0m-0.5-7.7h0m7.5 8.9h0m-2.9-8.6h0m-2.6 0.9h0m5.3 2.1h0m1.4-2.1h0m-4.9 4.7h0m-3.3-5.2h0m4.4-2.6h0m2.5 8h0m-3.8-4.9h0m-0.9-0.3h0m0.5-1.4h0m-2.5 8.8h0m9.3-7.7h0m-5.2 3.9h0m-8.7 0.4h0m4.9-5.7h0m0.6 7.2h0m-0.9-3.2h0m2.8 0h0m-0.7-1.5h0m-3.8-1.1h0m12.8 2.9h0m-9 2.4h0m8.4-4.4h0m-7.4 0.7h0m-1.6-1.3h0m3.4 2.6h0m1.9-2.4h0m0 3.7h0m-10.1-2.9h0m13.1-2.3h0m-8.9 3.9h0m7.3-2h0m-3.1 2.5h0m-2.3 3.3h0m2.1-0.4h0m-1.2-2.4h0m0.1 3.9h0m1.1-5.2h0m1.1 0.5h0m3.2-2.4h0m-0.7 3.9h0m-1.4-5.8h0m-8.8 7.7h0m5.7 1.1h0m7.7-3.1h0m0.5-2.8h0m-3.8 1h0m1.2 0h0m-2.8-5h0m-4.8 6.2h0m-2 1.3h0m-8.5-3.9h0m15.4 0.5h0m-5.4-0.4h0m7.9-4.5h0m-5.6 7.7h0m-4 3.4h0m4.7 0h0m3.3-10.9h0m-9.1 5.3h0m1.7 2.7h0m-3.3-2.8h0m7.5 1.8h0m0.5 4.5h0m5.2-5h0m-5.1 0.7h0m-2.9 1h0m-2.6 0.2h0m7.1-1.5h0m-15-2.4h0m11.7-1.3h0m-4.7 2h0m4.1 5.5h0m6.2-5.5h0m-3.8 3.8h0m-0.5-0.5h0m-4.6-7.1h0m0.8 5.6h0m1.2-4.3h0m0.9 4.9h0m-2.9-3.4h0m4.3 5.6h0m2.5-9.3h0m-5.7 4.8h0m9.4-1.7h0m-3.1 7.6h0m-9.2-5.9h0m9.7-2.4h0m1.2 4h0m-3.6-0.8h0m-1.1-1.6h0m1 0.3h0m5.1 6h0m-4-9.6h0m-5.6 0.4h0m3.1 5.4h0m-2.5-3.3h0m8.6 3.5h0m-10.9 0.3h0m-0.6-1.1h0m5.5-3.5h0m-3 5.6h0m5.1-4.3h0m-3.5 5.3h0m3.9-2.5h0m3.5-0.5h0m-12.5 1.1h0m8.7 0.3h0m-9.5-1.9h0m-1.8 0.1h0m12.7 1.2h0m-8.4 1.4h0m0.3 0.3h0m3.8 1.6h0m0-2.2h0m-1.8-4.8h0m0.2-2.2h0m8.3 2.1h0m-10.9 4h0m10.2-1.1h0m-15.7 3.5h0m-0.5-2h0m9.5-5.1h0m5.9 6.6h0m-0.9 0.3h0m-7.8 2.6h0m10.6-8.5h0m-14-2.9h0m-2.4 2.4h0m12.9 1.5h0m1.4-3.4h0m-4.7 3.1h0m4.5-4.8h0m-0.9 7.6h0m-4.7-2.4h0m-7.9 2.5h0m9.9 0.3h0m6.5-9.9h0m-8 14.2h0" stroke="#f07676" stroke-width="0.7" stroke-linecap="square" fill="none"/>
<path d="M372.3 219.7h0m-0.1-4.4h0m3.1 1.3h0m0.9 4.5h0m0.8-6.7h0m5.6 7.4h0m-4.5-2.1h0m-9.9 0.3h0m18.6 0.6h0m-6-3.8h0m-14.2 1h0m12.4 0.3h0m-4.3 2.1h0m-4.7-3.7h0m8.2 1.3h0m1.5 0.7h0m-1.9-1.7h0m-3.9 1.8h0m8.1 4.7h0m-0.6-5.5h0m-7.9-1.2h0m9.8 1.5h0m0.6-2.7h0m8.4 3.7h0m-11.3-2h0m-5.6 0.9h0m-2.2 2h0m11.2-4.3h0m-13.7 3.9h0m6.8 0.9h0m-7.5-4.5h0m18.2 4.1h0m3-2.3h0m-22.4 4.4h0m8.5-0.1h0m2-4.5h0m-9.2-2.3h0m10 5.4h0m-1.7-2.8h0m-4.5 3.1h0m7.7 2.1h0m1.3-9.1h0m-6.8 7.5h0m0.5-3.2h0m9.4 5.5h0m-7.9-3.8h0m5.9 1.7h0m-8.5-5.4h0m-2 4.4h0m11.2-1.3h0m-8.2-4h0m4.9 1.6h0m-5.2-1.6h0m-3.3-7h0m4.6 10.5h0m0.1-2h0m-11 1.8h0m10.8-2h0m0.3 2.8h0m-1.9-1.8h0m2.9 3.9h0m11.5-7.3h0m-13.5 2.2h0m3.3 1.8h0m-0.9-0.8h0m-6.2-1.4h0m1.1 3.2h0m1.3 0.7h0m-5.2-1.6h0m14 2.1h0m-0.1-3.8h0m-3.2 3.8h0m-7.8-2.3h0m-1.7-2.4h0m-5.7 0.8h0m17 3h0m-9.9-1.4h0m-2.6-3.4h0m16.7 0.6h0m-18.6 3h0m8.9 1.4h0m0.9-3.4h0m4.1 3.6h0m-5.8 1.6h0m4.6-7.4h0m-9.1 6.9h0m-2.5-7.3h0m0 2.6h0m5.1-1.8h0m11.4 1.9h0m-5.1 3.9h0m-18.7-0.1h0m10-4.1h0m10.8 3.8h0m-3.9-3.3h0m-5.1 4.6h0m2.5-1h0m5.4-0.7h0m-2-0.9h0m-4.8-0.8h0m7.7 0.2h0m-0.3-3.3h0m-5.8 1.1h0m8.4 7.3h0m-4.4-7h0m-5 4.8h0m1.1-1.6h0m11.8-3.9h0m-14.8 1.8h0m7.9 3.3h0m-3.2-4.4h0m-14.9 3.6h0m8.3 0h0m0.4 2.2h0m1.9-2.8h0m-4.9-0.5h0m4.6-3.4h0m12 1.1h0m-13.7 6.2h0m5.7-0.4h0m8.7-4.6h0m-12.3-3h0m1.2 1.2h0m-4.5-0.5h0m7.7-1.2h0m1.5 5.1h0m-12.2 0.6h0m13.6-4.5h0m4.5 4.5h0m-13.7 5.9h0m5.5-9.8h0m3.7-0.3h0m0-3.8h0m-12.2 11.5h0m5.2-6.7h0m2.6-2.6h0m9.5 4.1h0m-10.3 3h0m11-1.1h0m-16.7-2.6h0m2.4 3h0m11.7 0.2h0m-13.6-4h0m-0.2-4.7h0m15.7 7.5h0m-13.3 1.8h0m1.2 3.3h0m2-5.8h0m-4.9 0h0m10.5 0.7h0m-7.7-1.8h0m15.3 2.9h0m-21.5-7.3h0m3.8 4.7h0m12.3 6.2h0m-7.7-6.9h0m-5.2 4.2h0m3.2-9h0m1.3 10.8h0m4.1-4.2h0m-2.9-3.9h0m2.5 4.1h0m-9.8-3.6h0m15.5 4.5h0m-6.4-3.1h0m-1.7 2.2h0m3.9-2.9h0m-4.3-1.7h0m-4.9 3.6h0m7.9-4.9h0m-6.1 8h0m11.9-4h0m2.1-3.3h0m-21 9.5h0m13.4-5.9h0m-12.3 2.7h0m6.3-1.6h0m0.7-0.6h0m-1.1 3.9h0m0.4-9h0m9.9 4h0m-6.7 0.2h0m-7.2 0.8h0m7.3-4.9h0m6.2 6.3h0m-7.6-4.4h0m8.9 2h0m-3.2-1.2h0m-3.7 0.9h0m-2.8 2.6h0m-3.7 3h0m17.2-0.2h0m-13.2-8.5h0m-10.4 2.9h0m10.6-1.2h0m1.8 4.4h0m4.3-1.4h0m-4.4 3.7h0m3.9-3.3h0m-0.8-3.1h0m-1.5 5.4h0m15.1-2.9h0m-16.3-3.4h0m7.4 6.1h0m-13.6-0.6h0m11.8-2.3h0m-12.3-1.2h0m2-1.2h0m0 4.6h0m0.1-1h0m-4.8 0.9h0m20.8-4.2h0m-14.4 5.1h0m6.8-4.6h0m-10.5 1.8h0m10.9 0.9h0m-3.8 4.3h0m0.3-9.9h0m6.4 6.5h0m-14.4 1.3h0m6.1 3.9h0m7.1-6.3h0m0.4 2.8h0m-6.9-3.6h0m-3.3-4.7h0m11.4 5.6h0m-18.7-4.9h0m21.8 4.9h0m-23.2 3.1h0m17.4-1.4h0m-8.1-3h0m-1.4-0.2h0m-7.7 3.8h0m16.8-0.6h0m-0.6 3.4h0m-8.2-9h0m1.7 5.5h0m-2.1 1.2h0m11.3-3.5h0m-15.4-1.1h0m7.3-2.7h0m10.6 2.3h0m-10.4 4.5h0m1.3-7.1h0m-11.6 5.9h0m9.1-1.6h0m-2.9 1.9h0m12.3-2.2h0m-8.4-0.6h0m-2.4 0.4h0m-4.5-1.5h0m6.7 2.1h0m-3.3-0.6h0m9.1 1.2h0m-3 2.8h0m-9.8-6.8h0m15.3 3.9h0m-16 0.1h0m5.6-0.4h0m-5.7-3.3h0m7-1.8h0m-1.6 4.1h0m-8.3 0.9h0m20.9-3.8h0m-15.2 1.6h0m9.1-1.2h0m-3.3-2.8h0m-0.4 6.6h0m-2.5 1.7h0m-1.7-2.9h0m1.3 2h0m0.8-1h0m11.2 0.9h0m-13.2-1.9h0m-4.4-0.1h0m1.7-0.9h0m-2.3-0.7h0m-1.2 4h0m6-1.8h0m2.6 0.7h0m-1.4-1.1h0m11.9 3.9h0m-7.7-1.6h0m-7.5-3.7h0m-0.7 3.3h0m13.1-4h0m-4.5 0.3h0m9.7 1.8h0m-16.9-2.8h0m-0.5 1.7h0m14.9 2.7h0m-13.8 0h0m-1.4 0.1h0m0.7 1.2h0m11.6 4.7h0m-8.1-8.1h0m6.9-0.7h0m-4-7.3h0m8.4 3.9h0m-7.8 9.2h0m-3.4-6.2h0m-0.7-2.1h0m-1.6 4.9h0m6.4-3.4h0m-8.2 1.9h0m14.4 3.2h0m-18.6-3.2h0m7-1.3h0m2.2 4.4h0m4-0.7h0m-2.9-2h0m-4.7 3.2h0m10.1-7.4h0m-9.8 3.6h0m4.9-3.1h0m-1.9 6.3h0m1.4-4h0m-7.6-1h0m15.1 5h0m-7.4-2.9h0m-13.2-1.3h0m17.5 3.1h0m-5.3 2.1h0m3.5-8.5h0m-4 8.9h0m8.2-4.3h0m0.9 4.2h0m-16.4-7h0m11.4 3h0m-7.4 3.9h0m7-1.3h0m0.5 1.9h0m-6.9-1.4h0m11.1-3.2h0m-2.3 3.6h0m-6.3-2.3h0m-9-1.1h0m11.9 0.8h0m2.5 1.2h0m-3.7-1.5h0" stroke="#f08686" stroke-width="0.6" stroke-linecap="square" fill="none"/>
<path d="M398.9 226.9h0m-6 1.1h0m-1.9 0.8h0m-3.7-1.8h0m3.7 0.5h0m-0.4 0.6h0m-2.2 0.3h0m14.8-1.2h0m-7.3-1h0m-4 1.3h0m4.5-1h0m4.9-0.1h0m-17 2.4h0m5.6-1.5h0m3-1.1h0m2.5-0.6h0m-6.8 1.3h0m1.5 1h0m7.8-2.3h0m-10.3 1.1h0m-1.4 2.3h0m5.9-1.2h0m-4.9-0.1h0m2.4 2h0m3.1-2h0m1.9-1.8h0m0 1.8h0m-5.3-2.2h0m-1.2 0.1h0m-1.8 1.2h0m7.4 0.4h0m-3.2 1.1h0m3.4-0.6h0m4 0.5h0m-9.4-1.9h0m4.8 0.6h0m0.4-2h0m0.6 1.2h0m-2.2 1.2h0m0 1.8h0" stroke="#444" stroke-width="0.5" stroke-linecap="square" fill="none"/>
<path d="M395.7 65.8h0m3.7 1.7h0m-4.3-0.7h0m1.7 0.3h0m-0.4 1.8h0m0.6-1.2h0m-0.7-2.5h0m0.3 1.9h0m-1.2 1.3h0m-1.1-1.8h0m0.6-0.6h0m1.7 1.9h0m0.8-3.6h0m3 3.2h0m-2.8-2h0m-2.8 1.5h0m4.8-1h0m-3.8 2h0m1.4-2.2h0m-0.8-0.1h0m-1.7 0.7h0m1.5 0.8h0m-1.1 1.9h0m3.7-4.2h0m-0.7-0.8h0m-0.2 5.2h0m2.6-2.1h0m-3-0.3h0m0.6 1.9h0m-0.8-1h0m-0.2-0.2h0m-0.9-0.7h0m-3 2.9h0m5.4-3.3h0m-1.6 1.6h0m-0.7-1.1h0m4.3 1.4h0m-2.2-2.6h0m0.2-0.5h0m-4.9 0.2h0m4.1 3.1h0m0-2.1h0m0.2-1h0m-4.4-1.5h0m0.6 1.3h0" stroke="#e77" stroke-width="0.55" stroke-linecap="square" fill="none"/>
<path d="M395.2 74.6h0m3.3-3h0m-4.8 0.6h0m-0.1-2.8h0m-1.6 2.7h0m3 0.3h0m1.2-3h0m-0.9 1.6h0m0.2-0.1h0m2.4 0.5h0m-1.6-3.9h0m3.8 3.4h0m-5.9 0.5h0m-0.7-0.9h0m5.6 1.3h0m-2.1-0.6h0m-0.1-1.7h0m-0.7 2.7h0m-2.8-3.7h0m3.5 3.3h0m1.6 0.7h0m-1.5-1.2h0m4.8 1.5h0m-8.6-3h0m2.6 0.4h0" stroke="#555" stroke-width="0.5" stroke-linecap="square" fill="none"/>
<path d="M396.6 106.1h0m0-0.3h0m-0.6 0.9h0m-2.4-0.5h0m3.9 1h0m0.8 0h0m-4.9-1h0m2.1-0.2h0m1.7 0.7h0m0.1 3.8h0m0.6-3.2h0m-2.3 0.1h0m1.5 0.3h0m2.4 1.1h0m-3.1-0.2h0m-1.9 0h0m-2.4-0.6h0m4.2-0.6h0m0.1-0.7h0m-3 2.1h0m1.6-3.1h0m0.8 1.5h0m2.6 0.8h0m-1.8-0.4h0m-1.1-1.4h0m-1.5-0.9h0m2.4 0.8h0m-1.6 1.3h0m1.8-1.3h0m1.4 1.9h0m-0.5-2h0m0.3 1.4h0m-2.4-0.2h0m0.5-0.2h0m-2.5 1.2h0m2.9-1.2h0m0.9 1.3h0m-0.6 0.6h0m-1.4-1.5h0m1.4-2.3h0m-4.6 1.1h0m6.2 1.1h0m-4 1.8h0m4.3-3.7h0m-2 2.2h0" stroke="#e66" stroke-width="0.55" stroke-linecap="square" fill="none"/>
<path d="M396.7 109.1h0m3.3 9.3h0m-1.6 0.8h0m1.5-6.8h0m-0.5 7.4h0m-5.5-6.2h0m0 4.6h0m5.2-2.7h0m-2.4-4.9h0m0.4 2.2h0" stroke="#e77" stroke-width="0.5" stroke-linecap="square" fill="none"/>
<path d="M382 78.2h0m3.5 0.3h0m-4.1-0.7h0m-3.3 3.6h0m5.2-2.9h0m7.1 0.5h0m-6.1 0.4h0m-8.7-4.5h0m11.6 2.9h0m-3.8 0.4h0m-3-0.6h0m24.1-1.5h0m-21.9 4.4h0m8.6-1.2h0m-7.1-0.7h0m0.4-0.2h0m0.6 1.8h0m-1.4-2.3h0m-3.6-1.3h0m14.7 0.8h0m6.3-1.2h0m-13.4 4.6h0m-0.2-3h0m3.4 0.3h0m-10.3-1h0m16.2 0.9h0m-20.9 5h0m15.1-4.5h0m-5.5 1.4h0m-7 0.2h0m5.5-0.1h0m8.8-0.7h0m-7.1 0.8h0m-5-3.1h0m7.2 3.4h0m3-1.8h0m-11.4 3.7h0m11.9-3.9h0m-5.3-1.3h0m-8.8 5.9h0m6.4-2.8h0m-5.9-1.7h0m13.4-0.3h0m-0.3-0.3h0m-12.2 3.7h0m6.1-2.4h0m6.1-0.8h0m1-1.6h0m-11.6 2.2h0m19.3-2.2h0m-21 4.7h0m16.4-4.5h0m-11.1 3.5h0m3.3-0.2h0m10.3-3.3h0m-17.1 1.6h0m10.9 0h0m5.5 0.3h0m5.5-1.1h0m-15.3 1h0m-3.1-0.2h0m-3.1 2.4h0m1.2-2.1h0m-1.6 1.9h0m7.8-3.8h0m5.5 2.5h0m-11.9-2.2h0m2.3 2.5h0m10.7-0.2h0m-22.1 1.8h0m3.1-4.2h0m20.2 1.4h0m5.1 1.1h0m-21.9-0.8h0m5.9 0.1h0m-0.1 0.3h0m-7.8 0.5h0m14.2-0.7h0m3.7-1.4h0m5.7-0.7h0m-6.6 2h0m5-0.5h0m-18.3-1.5h0m7.4 1.6h0m-7.2-1.1h0m18.6-1.3h0m-17.3 3.7h0m0-1.2h0m-3.7 0.2h0m4.7 1.1h0m4.4 1.1h0m7.9-3.4h0m2.3-0.7h0m-24.1 0.9h0m21 0.7h0m-11-0.4h0m27.5-3.4h0m-23.9 4.7h0m-2.7-0.2h0m1.7-1h0m-8.3-1.7h0m19.6 0h0m-16.4 2.5h0m16.8-2.3h0m-5.4 2.2h0m13.2-0.7h0m-17.6 0.8h0m1.8-0.2h0m-9-0.4h0m2.1 1.1h0m9.2-0.7h0m-16.7 1.1h0m20.3-2.2h0m-8.9 2.1h0m-5.2-0.4h0m-4.9 1.7h0m22.2-1.2h0m-25.3 2.1h0m7.3-5.1h0m17.6 0.2h0m-27.9 2.8h0m29 0h0m-22.8-1.5h0m4.3-1.4h0m-5.7 4.7h0m1.7-5.4h0m7.8 0.8h0m-4.1-0.3h0m1.9 1.9h0m-5.5 1.2h0m16.7-1.1h0m-5.8-0.6h0m-7.3 1.5h0m9-1h0m-9.4 0.9h0m0.1-0.6h0m-3.7-2.2h0m3.9 1.4h0m15.5-0.7h0m-13.3 1.9h0m2.8-0.2h0m0.8 0h0m-9.6-2.8h0m6 2.9h0m4-0.9h0m3.6-1.6h0m-16.2 7h0m26.8-5.8h0m-7.1-0.5h0m-13.9 3.9h0m8.8-1.8h0m-16.5 2.2h0m-0.5-1.1h0m4.7 0.6h0m22.3-4.1h0m-0.3 0.4h0m-7.3 2.5h0m3.2-3h0m-13.1 2.5h0m-2.8-1.8h0m-4.1 2h0m5.8 1.4h0m8.7-1h0m-0.1-1.8h0m-5.5 0.9h0m7.5 0.2h0m-7-1.6h0m13.1 0.3h0m4.6-2.1h0m-23.2 1.8h0m13.7 0.8h0m-1.2-0.7h0m-8.6 1.3h0m-0.3 1.2h0m-6.1 2.4h0m12.3-4h0m1.2-0.5h0m7.8 0.2h0m7.8 0.6h0m-18.5-1.7h0m-0.8 1.2h0m2.9-0.1h0m-5.6 1.8h0m-4.5-0.2h0m11.9-1.1h0m-7.3 1.4h0m2.3-2.1h0m2.9 0.6h0m7.8-2.3h0m-9 3.3h0m7.3-0.3h0m-1.4-2.1h0m-5.8 1.3h0m8.4 1.1h0m-10.1-1.5h0m2.7 0.9h0m8.9-0.4h0m-12.4-1.4h0m11.4 0h0m1.7 0.4h0m-2.3-0.2h0m-22.2 0.6h0m8.7 0h0m8.1 0.2h0m0.6-1.1h0m-12.1 5.7h0m6.6-3.8h0m-6.6-1.8h0m2.1 3.8h0m18.4-5.1h0m-6.3 2.7h0m-3.4-1.4h0m-3.5 2h0m-12.5-1.4h0m4.3-0.9h0m-1.1 1.6h0m17.8 1.2h0m0.1-3.6h0m-11.7 2.5h0m3 1.7h0m4.3-3.6h0m0 1.5h0m-10 1.8h0m-2 1.3h0m10.3-3.4h0m14.2 0h0m-24.7 0.4h0m14.5-1.9h0m-9.7 3.3h0m0.7-0.2h0m0.6-0.8h0m13.5-0.5h0m-10.7 2h0m-9.4 0.7h0m8.6-2.1h0m2.5-1.1h0m3 1.9h0m11.1-1.5h0m-11.5 0.1h0m1.3-1.2h0m-8.4 1.5h0m-3.9-1.5h0m9.4 2.2h0m6.3 0h0m-11.5-1.2h0m-12.7-0.2h0m5.3 1.9h0m-3.8 2.7h0m10.2-4.6h0m-3.3-1h0m-1.4 5.3h0m13.5-3h0m-15.3 2.5h0m7.5-2.1h0m5.9-1.6h0m-1.8-0.4h0m-2.2 3.5h0m7.7-4.1h0m-0.1 1.6h0m-13.4-1.9h0" stroke="#111" stroke-width="0.6" stroke-linecap="square" stroke-opacity="0.8" fill="none"/>
<path d="M373.6 78.1C373.8 77.3 374.5 76.8 375.2 76.5C376.0 76.2 377.2 76.0 378.2 76.1C379.1 76.2 380.3 76.8 381.1 77.0C381.9 77.3 381.6 77.5 383.1 77.6C384.5 77.6 388.3 77.5 389.9 77.4C391.6 77.2 391.6 76.9 392.9 76.8C394.2 76.6 396.2 76.4 397.8 76.3C399.3 76.2 401.4 75.6 402.2 76.1C402.9 76.6 402.9 78.6 402.2 79.2C401.4 79.8 399.3 79.7 397.8 79.9C396.2 80.1 394.2 80.2 392.9 80.4C391.6 80.5 391.6 80.7 389.9 80.8C388.3 80.9 384.5 80.8 383.1 81.0C381.6 81.2 381.9 81.8 381.1 82.2C380.3 82.5 379.1 83.2 378.2 83.3C377.2 83.5 376.0 83.4 375.2 83.1C374.5 82.7 373.8 82.1 373.6 81.3C373.3 80.4 373.3 78.9 373.6 78.1Z" fill="#000" filter="url(#b2)"/>
<path d="M393 132.4h0m-12.7 1.1h0m-8.2-5.3h0m4.5 0.6h0m11.8 0.4h0m-7.9 4.9h0m7.2-2.6h0m13.2-4.4h0m-14.7 2.9h0m-5.2 3.7h0m-0.9-1.7h0m15.4-2.3h0m-7.3 3.9h0m6.2-2.6h0m-16.9-1.4h0m8.1 3.4h0m-6.2-1.1h0m16.7 0h0m-5.1 1.1h0m-6.8-2.3h0m-8.9 5.8h0m27.1-5.2h0m-24.8-2.5h0m-2.8 7.3h0m24.1-7.7h0m-24.3 2h0m9.9 1.6h0m-5.8-2.2h0m-1.3 0.9h0m1 1.8h0m5.5 0h0m-9.7 0.9h0m17.3-4.4h0m-17.3 4.3h0m27.8-2.3h0m-19.4 4.9h0m8.9-1.8h0m7.5-6.3h0m-15.8 2.9h0m17.5 1.1h0m-11.3 1.8h0m-0.7-1.3h0m6 0.5h0m-7.7-3.4h0m3.4 2.3h0m1.4 2.1h0m6.7 0.1h0m1-1.6h0m-18.8-3.1h0m18.3 3.8h0m-16.8-4.4h0m3.2 4.1h0m-1.5 0.7h0m14.8-0.6h0m-19.8-2.3h0m11.3 3.5h0m-5.1-0.5h0m-8.7 1.7h0m25.5-1.1h0m-24.6-4.3h0m16.1 5.7h0m2.8-2.7h0m-4.4-1h0m8.9-3.7h0m-12.2 3.9h0m-6.7 1.8h0m9.9 0.7h0m-17.8 3.1h0m22.6-9.2h0m3.3 0.6h0m-19.5 2.3h0m7.2 0h0m-17.2 7.3h0m10.3-8.4h0m12.3 2.4h0m-1.6-0.2h0m-11.9 4.5h0m-2.2-8.1h0m6.5 2.8h0m0-1.2h0m-4.1 4.2h0m1.8-3.9h0m-2.8 2.5h0m6.7-0.4h0m-5.1 2.2h0m16-5.5h0m-16.9 6.9h0m6.6-4h0m-1 0.5h0m-2.6 2.3h0m3.1-3.5h0m5.9 0.5h0m-9.2 1.5h0m10.3-3.5h0m1.1-2.7h0m-15.6 1.6h0m1.3 2.8h0m-3.5-4.3h0m19.8 3.2h0m-14 4.8h0m3.8-0.9h0m-9.6-0.4h0m15-1.5h0m-13.9 2h0m8.4-3.7h0m-2.4 2.1h0m-0.4-4.1h0m12.9 4.7h0m7.8 0.1h0m-17.2-2.2h0m0.7 0.4h0m-3.2 3.6h0m-3.5-4.7h0m11.3-0.1h0m-0.7-0.3h0m3.8 0.7h0m-4.6-0.3h0m8.7-2.8h0m-10.2 3.8h0m-5.5 0.2h0m-3.4 5.2h0m2.8-3.5h0m8.8 1.8h0m7.2-3.7h0m-3.3-1.5h0m-9.4 2.4h0m5.5-2h0m6 0.7h0m-9.8 0.5h0m-3.8-0.1h0m-0.3-0.4h0m14.1-2.7h0m-16.6 3.1h0m11.7 1h0m-12.7-4.1h0m2.5 1.4h0m4 3.1h0m4.9-5.1h0m-1.9 0.6h0m-13.1-0.2h0m8.3 5.2h0m-10.8 2.3h0m19.1-4h0m-8 1.1h0m-3.3-1.7h0m19.7 2h0m-17.4-3.5h0m7.6 1h0m-15.1 1.6h0m17 0.2h0m-7.1-4.3h0m-11.6 0.7h0m20.8 4.9h0m-18.3 4.4h0m16.7-5.8h0m-14.2 0.6h0m4.9-2.2h0m-12.5-0.2h0m17-1.4h0m1.9 3.8h0m-15.8-1.9h0m17.5-0.5h0m-9.1 0.7h0m15.9 2.2h0m-25.7-4.6h0m17.2 2.6h0m8.8 0.3h0m-23.4 3.6h0m25.3-2.7h0m-5.8-1.6h0m-6.9-1.2h0m-8.1 3.3h0m-2.8-5h0m-1.2 7.4h0m17.4-5.1h0m-0.3-0.2h0m-1.8 0h0m-13.1 6.6h0m-5 1.2h0m16.5-4.3h0m0.9-4.7h0m-7.8 4.4h0m10.9-4.6h0m-1.1 1.8h0m-14.6 2.1h0m14.5-1.6h0m-17.3 8.2h0m27.7-8.5h0m-2.4-2.9h0m-6.5 4.3h0m-4.2 0.5h0m3.7-1.9h0m-5 2.8h0m-11 2.9h0m2-2h0m16.5-3.4h0m3.1 0.6h0m-1.2-0.9h0m-9.4-1.3h0m-13.2 6.7h0m32.4-8.8h0m-18.2 7.2h0m6.7-1h0m-1.6-4.2h0m-21.1-0.9h0m15.6 4.7h0m-3.7-2.4h0m6.2 0.6h0m2.7 1.9h0m-2.8 0h0m-9.3 1h0m5.7-1.6h0m-13.7-5.7h0m19.4 3.5h0m-14.7 3.7h0m3.8-0.9h0m-0.6-2.1h0m9.6-1.7h0m11.1 4.4h0m-26.9-0.7h0m14.2 2.1h0m-19-2.7h0m10.6-1.7h0m23.4 4.6h0m-12.1-5.8h0m8-1.7h0m-5 3.2h0m-16.9-2h0m13.4 5.5h0m-15.7 0.5h0m11.7-5.5h0m0.2 0.6h0m-5.1 0.6h0m-1.4 2.5h0m0.9-2.8h0m-3.9-1.1h0m13.1 0h0m2.4 0.9h0m2.5 3.2h0m-14.8 0.4h0m5.9-1h0m8.6-5.7h0m-4.2 2.5h0m1.6 4.5h0m7.7-1.8h0m-18-0.2h0m-5.8-3.2h0m13.1 4.3h0m-6.8-5.8h0m-12.3 10.7h0m6.2-7h0m5.5-2.2h0m-4.3 4.8h0m24.5-4h0m-16.6 4.8h0m-4.5-1.3h0m-5.9 1.5h0m9.4-4.6h0m-12.8 6h0m22.6-3.9h0" stroke="#111" stroke-width="0.6" stroke-linecap="square" stroke-opacity="0.8" fill="none"/>
<path d="M374.1 129.3C374.4 128.1 375.4 128.5 376.2 128.3C377.1 128.2 378.3 128.3 379.2 128.4C380.0 128.5 380.1 128.9 381.1 129.0C382.1 129.1 383.4 129.1 385.0 129.0C386.7 129.0 389.3 129.0 390.9 128.9C392.6 128.7 393.4 128.4 394.8 128.2C396.3 128.1 398.4 128.0 399.7 128.0C401.0 127.9 402.2 126.9 402.7 128.0C403.2 129.0 403.2 133.2 402.7 134.3C402.2 135.3 401.0 134.4 399.7 134.4C398.4 134.5 396.3 134.6 394.8 134.7C393.4 134.8 392.6 135.1 390.9 135.2C389.3 135.2 386.7 135.0 385.0 135.2C383.4 135.3 382.1 135.7 381.1 136.1C380.1 136.4 380.0 137.2 379.2 137.4C378.3 137.6 377.1 137.7 376.2 137.4C375.4 137.1 374.4 137.0 374.1 135.6C373.7 134.3 373.7 130.5 374.1 129.3Z" fill="#000" filter="url(#b2)"/>
<path d="M385.3 184h0m-20.3 3.7h0m-8.4-1.3h0m32.5-4h0m-17.3 7.5h0m21.7-6.1h0m-7 1.3h0m13.7-4.7h0m-1 3.6h0m-21.1-1.1h0m-13 2.4h0m-5.3 2.3h0m23.4-5.7h0m4.9 1.8h0m5.9-1.8h0m-10.3 3.3h0m-27.6 1.7h0m13.2 0.2h0m6.9-0.3h0m15.8-1.8h0m4.6-3.8h0m-40.6 8.1h0m41.2-3.9h0m-6.3-2.6h0m-8.1 1.5h0m0.2-1.7h0m-14.8 3.1h0m11.1-2.2h0m17.3 2.3h0m-30.3 4.8h0m5.6-0.9h0m1.4-3.6h0m23.7-1.7h0m-25.8 3.2h0m3.5 0.8h0m20.3-2.6h0m-7.2-2h0m21.3-4h0m-43.3 9.3h0m16.2-3.6h0m7.7 0.7h0m-11.5 0.2h0m-14.2 1.9h0m11.3-0.4h0m9.7-4.9h0m-11.1-0.4h0m1.6 1.8h0m12.1-0.8h0m-3.7 1.2h0m-1.8-0.1h0m10.1-1.7h0m-11.5 0.1h0m0.9 1.9h0m-9.9 0.1h0m19.4-2.4h0m7.4 0.5h0m-4.4-2.2h0m-1 4.1h0m-20.3 3.5h0m14.3-2.9h0m-25.7 4.4h0m-0.8-0.4h0m22.5-7.3h0m-8.1 4h0m3.3-1.8h0m15.8-0.1h0m0.8-4.1h0m-20.3 2.6h0m32.8-2.4h0m-34.8 6.6h0m7.4-2.8h0m-5.7 1.4h0m-4.3-2.1h0m25.6-4.3h0m-17.2 4.4h0m14.9-0.5h0m-20.8 0.9h0m26.2-4h0m1.5 0.8h0m-17.6 3.6h0m-9.9 0h0m7.2 0.8h0m15.3-0.1h0m-2.5-4.7h0m-19.1 9.3h0m4.6-7h0m-7 3.1h0m9.6-3.2h0m-8.5 1.4h0m-8.9 6.3h0m25-9.6h0m-12.7 5.4h0m16.2-2.4h0m-14.9-2.8h0m2.6 3.1h0m25.6-6.4h0m-38.5 8.2h0m14.1-2.3h0m-5.8 2.1h0m22.8-3.7h0m-42 7.1h0m11-0.6h0m8.4-1.4h0m11-3.2h0m-5-0.6h0m16.9-3.3h0m-32.9 5.4h0m13.7 0.8h0m23.6-3.1h0m-33.1 4.6h0m9.7-3.4h0m23.7-6.4h0m-20.2 7h0m-9 2h0m12.5-2h0m-15.1 0.4h0m16.1 0.6h0m-13 0h0m23.7-5.8h0m-21.3 5.4h0m-7.9 1.3h0m19.9-4.1h0m-21.8 1.3h0m17.8-0.9h0m6.9 2.3h0m7.6-4.7h0m5-1.4h0m-34.3 7.6h0m7.6 0h0m26.8-3.9h0m-20.5 0.6h0m16.3 1.2h0m-40.7 0h0m47.7-2.4h0m-12.4-1.1h0m-20 5.1h0m23.5-3.1h0m-6.8-1.3h0m-10.2 3.6h0m15.9-2.9h0m3.8-0.8h0m-22.1 4.3h0m14.1-1.3h0m-10.9-2.6h0m-10.9 6h0m13.3-5.2h0m-15.8 4.3h0m13.4-3h0m4.7-0.6h0m-31.2 4.7h0m27.2-0.9h0m-15-3.2h0m4 4.9h0m-13.1-3.6h0m1.7 1.3h0m15.3-2.7h0m16.7-1.5h0m-13.1 3.1h0m4.9-2.4h0m-20.5 1.8h0m46.4-1.7h0m-29 2.3h0m-14.8 4.8h0m25.7-5.5h0m7.7-0.4h0m-11.5-3.8h0m-26.6 7.7h0m24.1-2.5h0m18.8-4.7h0m-4.3 1.3h0m-33.2 4.7h0m12.8-4.8h0m-19.1 4.2h0m20.7-1h0m25.3-5.7h0m-34.5 5.7h0m22.6-1.6h0m-12.9 1.4h0m-24.8 0.1h0m23.3-2h0m-4 3h0m-15.6 2.9h0m8-4.3h0m48.4-3.3h0m-23.8 1.8h0m-15.8 0.5h0m-7.9 4.3h0m-8.2 2.1h0m10.4-0.1h0m3.7-3.5h0m-7.8-2.4h0m12.4-0.5h0m-1.6-0.4h0m-6.4 3.1h0m-9.1-0.4h0m6.4-1.3h0m12.7-0.4h0m7-1h0m-0.9-2.4h0m-6.1 4.4h0m-10-1.2h0m12.2-0.5h0m13.2-1.5h0m-3.7 1.1h0m-7.3 1.9h0m-28 5h0m41.5-10.1h0m-23.6 5.1h0m-14.1 1.7h0m41.2-6.1h0m3.3-0.9h0m-16.5 2.7h0m-32.9 6.5h0m3.1-4h0m21.1-1.1h0m-8.4 1.3h0m9.6-0.6h0m6.7-0.2h0m-13.4-2.9h0m-1 4h0m8.3-4h0m23.5-0.3h0m-31.4 4.2h0m-7.4 2.3h0m29.2-6.5h0m-0.1 0h0m-37.4 8h0m1.9-2.2h0m9.6-1.5h0m-0.5-1.9h0m4.6 2.3h0m0.4-2h0m18.5-1.5h0m-18.9 2.1h0m0.3 0.2h0m14.2-0.2h0m-13.6-0.6h0m2.2 1.9h0m19.4-4.9h0m-22.9 4.8h0m6.4-3.6h0m-0.9 4.2h0m25.5-9.5h0m-29.3 10.7h0m5.1-1h0m6.2-2.3h0m-14.4 0.1h0m13.8-2.6h0m-3.5 2.1h0m1.7 0.1h0m6.3 0.4h0m-34.9 1.7h0m20.4-0.1h0m-5.5-1h0m30-2.2h0m-16.3-0.1h0m-12.6 5.4h0m0.2-2.4h0m18.7-2.3h0m-9.8 0.8h0" stroke="#111" stroke-width="0.6" stroke-linecap="square" stroke-opacity="0.8" fill="none"/>
<path d="M358.3 185.5C359.4 184.7 363.0 184.9 365.3 184.5C367.6 184.1 369.7 183.7 372.2 183.2C374.6 182.7 377.1 182.0 380.0 181.5C383.0 181.0 386.9 180.6 389.8 180.3C392.8 180.0 395.2 179.7 397.7 179.5C400.1 179.3 403.4 178.5 404.5 179.3C405.7 180.1 405.7 183.5 404.5 184.5C403.4 185.5 400.1 185.2 397.7 185.5C395.2 185.8 392.8 186.0 389.8 186.5C386.9 187.0 383.0 187.9 380.0 188.5C377.1 189.1 374.6 189.7 372.2 190.0C369.7 190.3 367.6 190.6 365.3 190.5C363.0 190.4 359.4 190.3 358.3 189.5C357.1 188.7 357.1 186.3 358.3 185.5Z" fill="#000" filter="url(#b2)"/>
<path d="M405.1 231.4h0m-28.6 2.6h0m17.2 0.8h0m-24.7 0.7h0m6 0.7h0m-17.1-2.5h0m16.9 0h0m-7.7 1.2h0m38.9-3.2h0m-22.7 2.1h0m22.2-1.6h0m-13.3 1.3h0m-17.5 3.2h0m-2-1.5h0m19-2.2h0m-6.2 0.8h0m-18.7 0.4h0m21.6 0.2h0m-15.5 0.1h0m-8.3-2.4h0m-8.7 5.5h0m21.1-2.4h0m3.1-1.1h0m18.9-4.6h0m-39.4 6h0m-5.5-1.1h0m33.6-1.6h0m6.2-0.1h0m-25.5 0.7h0m21.2 0.9h0m-5.4 1.2h0m5.5-0.6h0m-14.8 0.2h0m22.2 1.6h0m-5.3-1.5h0m20.9 1.3h0m-41-2.4h0m7.9 1.2h0m20.3 1.1h0m-14.1-1.9h0m-11-0.9h0m11.5 1.3h0m4.2-3.7h0m-2.5 3.7h0m8.6-0.8h0m-10.5 0.5h0m-0.4-2.2h0m-15.4 2.8h0m5.9-1.9h0m27.1-2.7h0m-36.9 7.1h0m14-5.8h0m4.2 2.6h0m-21.5-0.1h0m28.2-2.9h0m-33.7 2.8h0m15.3 1.9h0m12.6 1h0m2.4-2.7h0m1.7-0.1h0m10.4 1.6h0m-21.7-2.2h0m-3.8 2.5h0m23.4-0.8h0m-25 0.1h0m-11.8 1.7h0m16.8-1.4h0m15.7-3.1h0m-6.6 0.6h0m1.7-0.4h0m-5.1 0.7h0m17-3.3h0m-2 2.7h0m2.5-2.1h0m-32.7 2.3h0m35 2h0m-27.6-2.3h0m-2.3 3.9h0m37.1-2.5h0m-32.9 0h0m19.9-2.5h0m-19.4 4.9h0m5.6-0.8h0m-28.1 1.3h0m32.4-2.2h0m14.5-1.3h0m-29 1.3h0m-9.2 0.5h0m8.9-1.6h0m31.7 0.9h0m-26.8 0.2h0m25.1 1.2h0m-27.9-3.1h0m7.5-1.4h0m-25 5.1h0m30.1-1.2h0m15.8-5h0m-15.9 1.8h0m-17.1 0.6h0m0.5 2.1h0m27.5-3h0m-13.4 1.8h0m12.1-0.8h0m12-3.6h0m-18.7 2.9h0m-1.9-0.1h0m-7 2.6h0m-10.8-2.3h0m31.5 3.3h0m-5-5.1h0m-9.9-0.5h0m-14.6 2.9h0m2.5 2.9h0m-3-1.1h0m-1.8-0.1h0m15-0.7h0m6-3.1h0m6.2 3.1h0m-15.3-1.6h0m3 2.7h0m-0.9-0.3h0m-17.3 0.8h0m22.2-2.7h0m-24.6 1.6h0m-1-0.7h0m40.9-1.1h0m-37 3.8h0m-3.2 1.1h0m20.2-4.8h0m21.8-3.8h0m-37.3 5.4h0m7.4 2.2h0m2.4-3.7h0m-2.5 2.3h0m15.2-0.6h0m0.4 1.2h0m-16.9-3.8h0m33.1-0.5h0m-20.1 2.5h0m-16.3-0.8h0m19.2 0.1h0m-15.8 1.9h0m16.4 0.8h0m-7.7 0.9h0m-12.2-2.3h0m-3.2-0.8h0m19.6 3.8h0m0.5-6.3h0m-0.3 1.7h0m-17.4 0.1h0m14.6 2h0m-11.1-0.7h0m30.8-3.2h0m-18.3 2.6h0m7.6 2.3h0m-4 0h0m-14.7-1.7h0m15.3-2.6h0m-6.2 4.2h0m-5.3 1h0m-9.8-5.8h0m8.2 3.2h0m16 0.4h0m-13.2-3.9h0m14.5 5h0m-11.3-0.2h0m-7.6-3.5h0m24 1h0m-35.2 5.2h0m-2.7-0.4h0m7.5-4.7h0m20.9 0.4h0m-28.3-2h0m40.8 1.5h0m-42.4 1.6h0m6.4 1.9h0m9.6-5h0m8.9 1h0m-0.1 0h0m-10 4.2h0m-2.9-2.1h0m13.2-0.1h0m-20.6-0.7h0m16.6 1.5h0m-15.6-4.5h0m35-0.2h0m-26.2 6.5h0m13.9-4.5h0m-11.6 4.4h0m16-3.4h0m-0.7 0.6h0m-24 2h0m21.7-2.5h0m-25.7 2.5h0m-3.2 2.1h0m45.3-4.8h0m-27 0h0m9.7 0.6h0m-20.6-1h0m0.8 3.3h0m-5 1.2h0m-11.5-4.3h0m48.7-2h0m-18 4.5h0m19.4-3.4h0m-18.6 3.9h0m-28.8-1.3h0m48.9-3.2h0m-36.2 1.5h0m5.7 2.2h0m-13.5 1.1h0m2.4-5.6h0m8.6 5h0m13.1-0.5h0m-3.9-0.2h0m-9-1h0m0.6-0.9h0m-2.9 2.5h0m3.3 0h0m14-0.2h0m-18.9 1.2h0m9.1-2h0m6.1-1.3h0m-19.6-0.4h0m3.3 2.4h0m-5-3.9h0m22.8 1.4h0m14.4-1.2h0m-41.9 4.3h0m9.9-2.7h0m11.6-0.4h0m-15-0.2h0m37.2-1.9h0m-12.8-0.2h0m0.9 3.1h0m-10.8 0.4h0m8.1 1.5h0m15.3-4.4h0m-20.2-0.3h0m-18.4 5.7h0m1.3-1.8h0m3 1.6h0m22.1-2.3h0m-17.3 0.5h0m-5.7-3.2h0m25.7 1.1h0m8.4-3.7h0m-17.6 6.1h0m-9.7 0.4h0m24.2-3.7h0m-16.2 4.4h0m2.4-5h0m19.4 3.5h0m-5.1-4.8h0m-19.4 3.2h0m-3-1.2h0m-1.2 1.1h0m5 0.7h0m9.7-1.5h0m-20.4 0.1h0" stroke="#111" stroke-width="0.6" stroke-linecap="square" stroke-opacity="0.8" fill="none"/>
<path d="M358.3 232.5C360.2 231.4 366.6 231.7 370.2 231.5C373.8 231.3 376.7 231.4 380.0 231.2C383.3 231.0 385.7 230.7 389.8 230.5C393.9 230.3 402.1 228.9 404.5 229.8C407.0 230.8 407.0 235.0 404.5 236.2C402.1 237.4 393.9 236.7 389.8 237.0C385.7 237.3 383.3 237.6 380.0 237.8C376.7 238.0 373.8 238.2 370.2 238.2C366.6 238.2 360.2 238.9 358.3 238.0C356.3 237.1 356.3 233.6 358.3 232.5Z" fill="#000" filter="url(#b2)"/>
<path d="M392.2 287.2h0m-1.2 5.2h0m8.2 2.7h0m-21.4-7h0m25.6-0.5h0m-15.6 8.8h0m1.2-2h0m-14-2.2h0m7.8 1.9h0m11.4-3h0m-3.2-0.4h0m0.2-1.2h0m4.1 6.9h0m-7.2-4.5h0m3.9 1.7h0m10.8-7.9h0m-8.1 9.9h0m-18.3-5.5h0m16.9 3.8h0m-1.9-3.2h0m-4.3 2.8h0m20.6-1.9h0m-15.8 1.6h0m9.8 0.5h0m-10.2 2.5h0m-7.5-2.4h0m7.9-2.7h0m-7.9 4.5h0m-1.7-5.6h0m-1.2 4.8h0m23-2.7h0m-24.1 4.9h0m18.9-3.3h0m-5.3-1.1h0m-4.2 2.8h0m7.8-5.2h0m-19.2 10.4h0m17.6-10.3h0m14.9 2.5h0m-22.4 1.9h0m-0.8 1.5h0m12.1-2h0m-23.8 3.1h0m-1.4-7.3h0m18.2 0.9h0m-10.6 4.1h0m17.6-2h0m-19.4 1.4h0m18.3-0.3h0m-6.1-0.7h0m9.5 1.1h0m2.9-5.1h0m-13.3 7h0m-3.6-3.4h0m10.5-2h0m-6.5-1h0m3.9-3.9h0m-0.3 0.5h0m-11.4 6.7h0m-6.6 5.1h0m20.9-7.6h0m-6.2 1.4h0m2.5-0.1h0m-3-0.2h0m3.4 2.3h0m4.4 0.5h0m-26.7-4.2h0m20.9 0.3h0m2.7 4.7h0m-20.1 4.5h0m-0.4-2.7h0m4.5-1.8h0m-2.2-2.5h0m26.6-3.3h0m-9.4 0.3h0m-4.9 0h0m15.1 4.1h0m-16.7-2.8h0m-2.1 3.1h0m4.3-1h0m8.7 3.1h0m-19.7 1.5h0m1.2-8.3h0m10.5 4.2h0m-16.7-0.9h0m-1.1-5.4h0m33.1-3h0m-27.2 12.7h0m9.6-1.8h0m-16-2.3h0m21.2 1.9h0m-6-0.6h0m8.4-3.4h0m2.7-0.5h0m-18 0.2h0m0.7-0.2h0m11 1.6h0m-2.8 1.8h0m0.7-1.9h0m10.3-1.5h0m-23.9 9.3h0m12.2-8.4h0m-7.5 2.9h0m0.2 0.3h0m13.8-4.8h0m-1.6 6.7h0m3.4 2.3h0m1.6-3.3h0m-16.5-1.2h0m20.2-6.9h0m-3.2 2.4h0m-16.7 4.3h0m-8-1.1h0m6.4 3h0m10-1.9h0m-9.5-3.3h0m-7.3 9.6h0m16.6-7h0m-5.6-0.4h0m-2.2-2h0m-3.6 0.6h0m12.6 2h0m14.1-1.5h0m-31.6 3.4h0m2.3 1.9h0m6.2-6.1h0m-0.5 2h0m11.1 0.7h0m10.5-5.5h0m-0.6-0.2h0m-5 5.9h0m-11.7-1.9h0m6.6-2.3h0m0.6 7h0m-11.3-4.6h0m-9.7-2.3h0m12.1 0.5h0m5.9 2.2h0m-11.2 2.3h0m16.4-7.8h0m0.5 2h0m-3.7 4.7h0m-5.7 0.1h0m11.6-5.6h0m-4.5 1.3h0m-14.6 7.2h0m8-2.6h0m9.3-2.2h0m-9.1 0.6h0m0-1.9h0m-12.3 5h0m16 0.5h0m-0.3-1.6h0m-9.3-0.4h0m23.3-4h0m-23.6 4h0m5-0.3h0m11.3 0.9h0m-18.1-1.9h0m12.2 0.4h0m-19.3 6.1h0m16.2-5.1h0m-6.8-1.7h0m23.7 2.1h0m-11.5-4.9h0m-12.5 0.1h0m4.7 1.8h0m9.5 3.5h0m-4-2.1h0m-2.2-2.7h0m3.5 0.3h0m-17.2-2.4h0m14.3 2.5h0m9.6 3.9h0m-3.6-3.1h0m-1.4 5.9h0m-18-4.3h0m9.1 0.1h0m12.6-5.4h0m-12.6 4.8h0m11.5-3h0m3.8 1.3h0m4.7-2.6h0m-16.1 4h0m-15.2 2h0m4.2-1.3h0m14.6-1.6h0m-4.2-0.3h0m-7.7 1.1h0m-10 3.1h0m15.3-2.2h0m3.5-5.8h0m-12.2 4.2h0m13.8-1.3h0m-0.6 3.1h0m-2-0.1h0m-2.2-1.1h0m-11.1 2.7h0m9.9-1.8h0m-11.7-4.3h0m3.2 5.2h0m22.3 3.4h0m-15.8-4.8h0m-6.6-3.6h0m14.9 3.7h0m10.8-5.4h0m-19 4.3h0m-3.2-0.5h0m9.1 3.4h0m-0.6-3.6h0m-8.1 1.7h0m16.8 1.7h0m-13.1-3.4h0m-6.5 2.6h0m24.7-2.6h0m-23.1 4.9h0m10.5-5.1h0m1.4 3.6h0m8.3-7.4h0m-20.4 10.8h0m3.3-2.6h0m12.6-8.4h0m-2.5 3.9h0m-2.1 1.1h0m5.2-1.6h0m-11 6h0m-1.2-3.5h0m21.8-3.9h0m-23.3 4.2h0m-0.8 2.9h0m1.3-3.8h0m3.4 0h0m-12.6-6h0m17.4 6.3h0m-6.1 0.4h0m9.2 1.4h0m2.4 2.4h0m-3.7-2.4h0m-14.5-0.6h0m9.6-3.8h0m13.8-1.4h0m-6 6.4h0m-14.9-1.7h0m12.3-3.1h0m-18.6 5.7h0m27.8-10h0m-27.7 11.7h0m10-6h0m6.5 4h0m-9.5-2.5h0m14.3-2.5h0m-11.4 1.5h0m-0.2-1.8h0m0.1 5.2h0m-9.2-1.8h0m17.4 0.1h0m-8.4-1.8h0m18-0.6h0m-26 6.9h0m7-4.8h0" stroke="#111" stroke-width="0.6" stroke-linecap="square" stroke-opacity="0.8" fill="none"/>
<path d="M374.3 291.6C374.6 290.4 375.6 289.2 376.2 288.5C376.9 287.8 377.5 287.4 378.2 287.5C378.8 287.6 379.5 288.5 380.1 288.9C380.8 289.4 380.6 290.2 382.1 290.5C383.6 290.7 387.5 290.9 389.0 290.5C390.4 290.1 389.8 288.6 390.9 288.0C392.1 287.5 394.0 287.3 395.8 287.1C397.7 287.0 400.5 287.0 401.9 287.4C403.3 287.8 403.8 288.2 404.2 289.4C404.5 290.6 404.5 293.6 404.2 294.8C403.8 296.0 403.3 296.4 401.9 296.8C400.5 297.2 397.7 297.1 395.8 297.0C394.0 297.0 392.1 296.6 390.9 296.4C389.8 296.2 390.4 296.0 389.0 295.9C387.5 295.8 383.6 295.4 382.1 295.9C380.6 296.4 380.8 298.2 380.1 298.8C379.5 299.5 378.8 300.0 378.2 300.0C377.5 300.0 376.9 299.6 376.2 298.8C375.6 298.1 374.6 296.9 374.3 295.7C373.9 294.5 373.9 292.8 374.3 291.6Z" fill="#000" filter="url(#b2)"/>
<path d="M390.7 345.1h0m13.9-3.8h0m-12.1 5.1h0m-7.2 0.8h0m22.4-1.9h0m-11.2 1.2h0m-4.6-0.6h0m13.1-3.9h0m-22.8 3.3h0m3.1-1.2h0m3-0.7h0m2.7 3.9h0m1.8-3.4h0m4.1 4.3h0m1.5-2.7h0m-8.6-0.4h0m13.6-3.2h0m-19.4 4h0m5.9-1.5h0m1.5 3.2h0m-9.2-1.6h0m1.1-1.9h0m6.1 0.3h0m5.9-1.4h0m-4.1-0.1h0m-8.9 4.6h0m10.4-4.3h0m-0.6 2.6h0m-9.9 0.2h0m8.9 0.3h0m-0.8-2.3h0m4.8 2.6h0m-21.4-2h0m8.6 2.4h0m6.5-4.9h0m-7.8 7.6h0m4.1-5.6h0m12.6 1.3h0m-14-0.5h0m19.5-4.6h0m-5.2 0.2h0m-10.1 5.6h0m0-1.5h0m8-4.7h0m-10.8 4.5h0m10-0.4h0m-20.9 2.3h0m5.1-2.6h0m21.7 3.4h0m-2-5h0m-13.4-1h0m3.1 3.3h0m5.1 1.9h0m-13 0.5h0m-0.6-3h0m18.4 4.4h0m-7.6-2.1h0m-0.7-1.4h0m-4.8-0.3h0m9 0.2h0m-4.8 2.5h0m-6.5-0.4h0m-2.8 0.7h0m-3.6-1.5h0m11.5-2.7h0m-8.3 0.1h0m1.4-1.6h0m16 2.6h0m-2.4-0.7h0m3.6 5.2h0m-7.3-4h0m-10 4.2h0m18.3-7h0m-11 4.4h0m7.1 0.8h0m2.3-6.1h0m1.7 1.5h0m-19.4 0.9h0m8.4 1.1h0m14.8-0.6h0m-22.3 1.4h0m-4.8 6.7h0m11.8-7.2h0m-11.6 0.2h0m19.4-0.5h0m-21.3 4.4h0m4-6h0m-0.4-0.3h0m11.7 3.3h0m-17.8 3.8h0m31.4-1.3h0m-10.2-2h0m-13.9-1.5h0m5 1.6h0m11-1.8h0m9.9 1h0m-23.2-2.6h0m18.1 0.8h0m-3-0.7h0m-8.7 1.4h0m-0.9 1.8h0m-0.8-3h0m-4.3 2.4h0m23.1 1.1h0m-16.1-4.7h0m5.5 1.9h0m-9 0.2h0m7.2-0.4h0m-0.5 2.1h0m1-2.5h0m-18.6 6.9h0m33.2-7h0m-28 2.4h0m-0.1 2.6h0m10.3-5.1h0m4.6 2.2h0m-4-0.7h0m-11.8-0.7h0m11.2 2.5h0m-1.9-2.3h0m-14.6 2.5h0m2.9 3h0m26.3-2.5h0m-18.8-4.1h0m-3.3-0.9h0m6.9 5.3h0m0.1-0.4h0m-4.4-1.3h0m8.6-1.3h0m14.2 2.7h0m-16.4-2.2h0m-1.2-3.6h0m-0.4 3.2h0m3.1 1.2h0m-6.6-1.2h0m3.3-0.1h0m-12.4 2.4h0m19.6-4.8h0m-11.9-0.2h0m3.7 1.7h0m4.8 3.4h0m-11.4 0.7h0m5.5-1.3h0m-13 2.6h0m28.4-1.9h0m-27.2-4.6h0m2.3 1.7h0m3.9 5.2h0m-0.9-2.5h0m-0.4-3.4h0m18 1.5h0m-7.1 0.9h0m4 0.7h0m-8.5-2h0m11.8 1.5h0m-17.4-4h0m9.8 2.4h0m-10.4 1.8h0m0.6 3h0m6-3.2h0m12.7-1.5h0m-21.5 3.4h0m13.2-2.7h0m4.2 1.1h0m-11.3-2.9h0m-6.3 1h0m6 3h0m17.6-7.1h0m-8 5.1h0m-18.6 2.2h0m17.1-4.2h0m-10.3 1h0m-3.1 3h0m-5.4 3.6h0m27.1-11.6h0m-11.6 6.3h0m6.3 2.5h0m-10.6-2.8h0m9.6-2.3h0m-9.2 2.1h0m1.6-1.6h0m-1.7 1.6h0m3.9-0.5h0m-2.4-0.8h0m5.5-1.4h0m3.8 4h0m-15.1-5.3h0m15.4 5.4h0m-14.9-3.8h0m1.7 2h0m1.7-3.6h0m7.8 2h0m-5.3 1.6h0m12.8-3.6h0m-14.7 3.8h0m-2.9-2.8h0m17.3 3.8h0m-14.6-3.3h0m-6.1 3.7h0m1.2-4.8h0m20.2 2.9h0m-9.7-1h0m3.3 0.3h0m-14.8 6.1h0m1.9-6.9h0m21.7 3.7h0m-26.6 3.6h0m13.1-5.3h0m-9.7 0.8h0m19.5-2.5h0m-18.9 4h0m13.2-2.1h0m2.3-0.5h0m-5.4-1.5h0m-9.5 4.9h0m0.6-5.4h0m6-0.1h0m20.5 1.8h0m-5.9 0.8h0m-16.8-1.3h0m-6.1 1.4h0m6.2-3.1h0m-3.4 3.9h0m7.7-0.6h0m9.3-6.4h0m3.2 4.9h0m-11.2-4.3h0m-1.6 1.5h0m5.3 3.7h0m-17.8 2.5h0m16.6-3.4h0m-0.5 0.6h0m5.6-2h0m-14.4 5.2h0m-2.2-0.2h0m14.5-4.8h0m-14.2 0.6h0m-10.9 3.7h0m13.5-1.2h0m15.6-0.8h0m-14.7 1h0m4.9 0.5h0m4.2-2.3h0m-20.5 1.6h0m11.4-1.8h0m6.2-0.2h0m0.7 1.4h0m2.1-4.6h0m-3.3 3.1h0m10.1-0.3h0m-8.1 2.3h0m-5.3-1.7h0m-2.7-0.3h0m5.9 0.4h0m-9.8-0.5h0m15-0.2h0m-10 1.9h0m-6-0.3h0m14.7 0.1h0m8.2-2.7h0" stroke="#111" stroke-width="0.6" stroke-linecap="square" stroke-opacity="0.8" fill="none"/>
<path d="M374.8 342.8C375.1 341.3 376.3 341.5 377.2 341.2C378.1 341.0 379.2 341.1 380.2 341.2C381.1 341.4 381.3 341.9 382.9 342.0C384.5 342.2 388.0 342.2 390.0 342.0C392.0 341.9 393.2 341.2 394.9 341.0C396.5 340.8 398.2 340.7 399.8 340.8C401.3 340.9 403.4 340.3 404.2 341.4C404.9 342.5 404.9 346.1 404.2 347.3C403.4 348.4 401.3 348.1 399.8 348.3C398.2 348.4 396.5 348.4 394.9 348.3C393.2 348.1 392.0 347.6 390.0 347.4C388.0 347.3 384.4 347.0 382.9 347.4C381.4 347.9 381.9 349.4 381.1 350.0C380.4 350.5 379.2 350.8 378.2 350.8C377.2 350.8 375.8 351.3 375.3 350.0C374.7 348.6 374.4 344.2 374.8 342.8Z" fill="#000" filter="url(#b2)"/>
<path d="M375.2 409.9h0m4.3 0.9h0m-5.5 2.8h0m2.1-8.8h0m4.2 6.5h0m-1.9 2.1h0m-1.7-2.7h0m3.6-1.2h0m-4.7 0.3h0m2-2.3h0m-2.7 4.7h0m4.6-6.4h0m-4.8 4h0m-1 4.6h0m6.1-1.9h0m-2.9-6h0m-2.4 3.7h0m3.3-5.7h0m-3.1 3.4h0m-1.5-1.5h0m5.7-1.6h0m-1.4 6.2h0m-1.6 0.6h0m3.3-1.8h0m-6.9 1.1h0m2.9-0.4h0m5.5-3.4h0m-3.5 1.9h0m-0.9-0.8h0m-2 4.9h0m2.5-3.2h0m1.6-3.7h0m1.8 1.2h0m0.2-1.5h0m-8.4 5.3h0m4.9-2.9h0m-2.7 0.5h0m2.3 2.1h0m-1-2.5h0m4.5 2.2h0m-2.5-7.8h0m0.2 7.4h0m-3.9-4h0m4.2 1.2h0m-2.2 5h0m-0.1-4.4h0m4.3 5.9h0m-2.3-3.1h0m-1.3-4h0m-0.8 1.5h0m-0.8 7.1h0m3.2-3.9h0m3.2-3.7h0m-3.1-0.1h0m-2.2 0h0m-1.5 5.4h0m-0.3 0h0m3.1-2.8h0m0.8-0.3h0m-3.1-3.9h0m-1.2 1.3h0m5.4 2.5h0m-5.5 0.9h0m-1.5 3.4h0m3-6.2h0m-0.3 5.9h0m-0.9-5.6h0m-0.2-4.4h0m3.3 8.9h0m-1.5-4h0m1.9 0.3h0m0.4 2.4h0m-1.3-6.6h0m2.7 2.8h0m-5.2 0.4h0m6.3-3.6h0m-5.1 4.3h0m-1.8-0.1h0m5.3 1.3h0m-0.4-3h0m-3.5 4.3h0m5.5 0.6h0m-5.6-2.4h0m1.9-1.2h0m0.2-0.5h0m0.4-4.1h0m-4.9 1.8h0m3.1 5.6h0m2.6 1h0m-1.7-5.9h0m-0.5 4.4h0m-0.3-1.2h0m-1.9 2.2h0m4.8-3.5h0m0.5 2.9h0m-2.3-5.5h0m-1 2.1h0m2.6-0.6h0m0.2 4.6h0m-0.8-1.6h0m-2.3-2.1h0m3.1-0.1h0m-1-2.3h0m-0.2 3.7h0m-1.3-2.3h0m1 3.1h0m4.5 2.7h0m-4.6-6h0m-1.3 1.3h0m-0.1-0.4h0m3 1h0m1.4 1h0m-7.8-2.6h0m4.4 5h0m-0.4-3.7h0m-3.1-1.8h0m4.8 1.3h0m3-0.4h0m-5.6 0.1h0m2.5 0.9h0m-6.2 1.9h0m6.9 1h0m-3.1-2h0m0.4-0.5h0m-1.8 2.9h0m-0.7-1.7h0m3.4 3.1h0m2.2-5.6h0m-5-2.9h0m2.4 6.2h0m1.5-7.5h0m-0.2 6h0m1.1 4.7h0m-0.9-3.9h0m2.5-3.2h0m-2.6 2h0m3.2-5.2h0m-5.6 2.5h0m-0.3-1.4h0m-0.3 0.6h0m3 3.7h0m-0.8-0.8h0m-3.4 7.2h0m-0.2-1.6h0m1.3-5.6h0m-0.5-0.4h0m3.7 1.7h0m1.5-1.9h0m-0.1 2.5h0m-4.2 2.5h0m3.1-4.1h0m3.1 0.8h0m-5.9-5.6h0m-2.8 6.6h0m5.6-1.6h0m-1.3 1.5h0m-1.4 1.2h0m0.9-6.3h0m1.1 6.1h0m1.3-6.4h0m-4.1 5.3h0m1.4 3.5h0m2-1h0m-2-1.6h0m3.6-1.1h0m-6.4-2.6h0m4.6 4.1h0m-2.9-2h0m2.5 1.9h0m0.2-0.6h0m-1.3-3.1h0m1.3 2.3h0m-3.7-1.3h0m4.5 0h0m-2.7 0.9h0m-1.2 3.8h0m2.2-6h0m2.7 1.1h0m-2.6-2.6h0m0 2.2h0m-1.1 3.3h0m0.5 1.8h0m1.8-6.3h0m-1.9 2.8h0m-2-3.3h0m-1.7 5.2h0m5.7-2.8h0m-3.9-0.9h0m2.8-0.5h0m-2.1-0.8h0m5.4 6.3h0m-3.1-2.2h0m-0.3 0.2h0m5-0.1h0m-8.8-2.1h0m5.8 3.4h0m-1.3 0.6h0m-1.4-6.9h0m2.2 1.3h0m-1.6 1.3h0m1.9 6.4h0m-0.3-5.5h0m-0.6 2.9h0m-1.7-0.8h0m-0.1-2.7h0m-1.2-1.2h0m1.6-0.1h0m0.4-3.4h0m2.3 7.2h0m-4.5-2h0m2 0.2h0m4.5-1.1h0m-7.4-0.2h0m4.7-2.4h0m-2.8 0.5h0m3.6 0.2h0m2 3.8h0m-1.2-2.5h0m-1.7 1.8h0m-1.3 3h0m-3.2-4.8h0m-0.3 4.1h0m7.2 0h0m-7.2-4.6h0m4.6 3.7h0m-1.4 1.2h0m2.5 0.6h0m-2.4-8h0m-5.2 1h0m5.9 0.7h0m-1.8 0.6h0m0.9 3.8h0m1.9-0.4h0m-3.1-2.4h0m-1.6-0.3h0m5.1 4.3h0m1.8-0.6h0m-5.9 3.3h0m-0.5-7.9h0m0.6 3.1h0m0.3 1.7h0m-1.8 0.7h0m-1.4-2.7h0m6.2-5h0m2.2 0.9h0m0 0.5h0m0.5 4.1h0m-2.4-4.7h0m-1.7 3.7h0m-1.9 3.2h0m0.9 2.5h0m-1.4-1.4h0m6.1-3h0m-2.1 1.1h0m-6 2.9h0m6.6-5.9h0m2.8-2.7h0m-2.4 5.9h0m-4.2-4.2h0m-0.1 4.2h0" stroke="#111" stroke-width="0.6" stroke-linecap="square" stroke-opacity="0.8" fill="none"/>
<path d="M371.7 408.1C371.8 406.8 372.5 405.6 373.4 405.0C374.2 404.4 375.8 404.3 377.0 404.4C378.1 404.6 379.5 405.0 380.1 405.9C380.7 406.7 380.9 408.3 380.8 409.5C380.7 410.7 380.4 412.2 379.7 413.1C378.9 413.9 377.6 414.5 376.5 414.5C375.4 414.5 374.0 414.1 373.2 413.1C372.4 412.0 371.7 409.5 371.7 408.1Z" fill="#000" filter="url(#b2)"/>
<path d="M388.6 406h0m4.6-0.6h0m-0.2 1.1h0m-0.3-1.7h0m0.8-0.9h0m2.2-0.3h0m-4.2 1.8h0m0.9 1h0m2.4-0.6h0m-0.2-1.1h0m-2.9 2.1h0m4-1.9h0m-0.2 3.2h0m-2.8-2.6h0m2.2 0.8h0m1.1 0.4h0m-3.8 2.5h0m1.6-3.9h0m0.7 5.1h0m0.1-1.9h0m0.1-3.8h0m-5.9 3.4h0m9.8-3.9h0m-5.3-0.8h0m4 2.7h0m-6.2-1.6h0m3.7 4.3h0m-0.7-3.5h0m2.7 0.4h0m-5.7 0.9h0m2.7 0.3h0m-1.5-0.1h0m5.8-0.4h0m-5.7 0.8h0m4 0.5h0m-7.7 1.1h0m4.1-3.4h0m3.5 1.1h0m-2.9 4h0m4.9-3.8h0m-6.2 1.4h0m2.9 1.8h0m-2.6-2.6h0m0.9 1.2h0m1.3 0h0m-1.5-2.9h0m2.6 0h0m-0.5 3h0m-4.6-1.3h0m-1.4 0.8h0m4.1-2.5h0m0.7 3.4h0m1.5-1h0m-2.1 1.2h0m-4.4 1h0m5.1-1.4h0m-2.3-3h0m2.2 3.3h0m-2.6-4.3h0m5.5 2.8h0m-3.7-2.9h0m-3.9-0.5h0m10.4 0.3h0m-1.7 3.9h0m-3.5-2.2h0m-0.5 0.2h0m-3.7 0.8h0m5.2-0.3h0m-5.2-0.5h0m1.7 1.3h0m3.6-3h0m-3.4 1.2h0m2.1-3.6h0m-0.7 3.4h0m4.1-0.3h0m-5.4 0.2h0m2.1 1.8h0m-3.8-1.3h0m3.8 0.6h0m-2.8 1.4h0m2.5 0.2h0m3.8-3.3h0m-8.4 2.4h0m1.8-2.8h0m6.7 1.5h0m-2.8 2.8h0m1.8-1.9h0m1 0.4h0m-6.4 1.8h0m1-2.5h0m2.5-0.5h0m-1.1 1.1h0m0.1 1h0m1.3-4h0m-4.1 4.1h0m6.6-3.6h0m-5.7 2h0m3.7 1.9h0m-0.5-2.9h0m-3.9-1.3h0m2.5 1.9h0m-3.2-0.2h0m4.8 0.1h0m0 0.5h0m-3.5-2.4h0m3.2 6h0m-2.8-5.4h0m3.6-1.3h0m-1.8 3.2h0m3.4 0.3h0m-4-1.7h0m1.4-1.3h0m-9.5 1.4h0m13.3-0.8h0m-4.4 3.9h0m5.3-3.1h0m-4.2 0.9h0m-1.2 1.2h0m0.3-0.8h0m-1.3-0.7h0m1.5-1.1h0m-1 3.6h0m-0.8-2.6h0m1.5 0.3h0m-2-2.9h0m-4.1 1.9h0m0.9-1h0m4.5 3.2h0m-1.4 1.9h0m4.5-1.6h0m-3.9-0.6h0m0.1-2h0m3.8 2.4h0m-3.5-3.8h0m5.5 4.2h0m-5-3.1h0m0.6 0h0m0.5 3h0m1-2.1h0m-5.5-0.6h0m2.4 0.9h0m1.8 1.2h0m-0.3-1.5h0m1.5 3h0m5.2-0.2h0m-8.4-3.6h0m-1.1 3.8h0m4.2-3.5h0m-5.6-2.2h0m8.8 1.2h0m-7.6 1.6h0m-2-1.3h0m5 4.1h0m1.7-3.1h0m-6.8-0.4h0m7.1 2.7h0m-1-2.7h0m-2.5 2.5h0m0.1-0.7h0m6.1 1.3h0m-1.5 1.3h0m-4.1-2.6h0m-1.7 1.6h0m-1.8 0h0m7.4-2.3h0m-3.5 1.2h0m-2.6-3.5h0m1.7 4.3h0m1.9-1.9h0m-4.7 1.3h0m3.2-2h0m-1-0.8h0m3.3 0.3h0m-4.4 0.4h0m1.6-2.4h0m2.9 3.5h0m-0.6-0.7h0m1.1-1.9h0m-4.9 2.8h0m7.1 0.4h0m-8-1.2h0m-0.3-0.2h0m7 3.5h0m-5.4-0.9h0m3.6-1.4h0m-3.4 0.6h0m4.5 0h0m-4.6-1.9h0m2.9 0.6h0m-1.2 0.5h0m0.4-0.6h0m2.6 1.2h0m1.6 1h0m-0.6-1.7h0m-4.3-0.1h0m-0.3 2.9h0m1.8-4.3h0m-1.8 1h0m4.6 1.5h0m-3.6-2.7h0m3.2 1.6h0m-6.1 0.1h0m1.6 0.2h0m-0.3 2.2h0m2-4.3h0m-3.6-0.2h0m-0.9-2.2h0m5.5 3.3h0m-5.2 1.3h0m1.8 2.7h0m1.7-2.8h0m4.3-2.2h0m-9.4 2.4h0m-0.7 0.6h0m4.3-1.8h0m-2.5 0.8h0m5.9 0.9h0m-1.6-3.4h0m3 3.8h0m-5-1.9h0m-0.2 0.2h0m1.1 3.1h0m1.3-1.7h0m-0.7-0.2h0m-1.6 0.2h0m-4.5-0.8h0m4.7-1.5h0m-1 3.1h0m0-1h0m2.9-1.9h0m-0.4-2.8h0m4.1 1.9h0m-3.7 1.5h0m-5.5-0.4h0m3.4-1.3h0m1.9 3.3h0m2.3-3h0m-0.6-2.3h0m1.4 3.7h0m1.1 1.8h0m-7.8 0.4h0m5.1-4h0m-4.2 1.8h0m-0.1 1h0m3.6 0h0m-4.1-3.5h0m1.3 1.6h0m-0.2 1.2h0m0.4 0.4h0m-0.8-0.5h0m5.7-2.5h0m-4.6 3.1h0m3.1-0.1h0m-2.6-1h0m1 2.4h0m-0.2-0.6h0m0.4-0.7h0m1.2-0.1h0m-3.2-1.9h0m5.4 2.2h0" stroke="#111" stroke-width="0.6" stroke-linecap="square" stroke-opacity="0.8" fill="none"/>
<path d="M388.4 406.5C388.4 405.5 389.3 404.3 390.4 403.8C391.5 403.3 393.4 403.1 394.9 403.4C396.4 403.6 398.5 404.3 399.2 405.2C399.9 406.0 399.7 407.5 398.9 408.3C398.2 409.1 396.3 409.8 394.9 410.0C393.5 410.3 391.5 410.3 390.4 409.7C389.3 409.1 388.4 407.5 388.4 406.5Z" fill="#000" filter="url(#b2)"/>
<path d="M378.4 460.1h0m-1.5-2.6h0m1.3 0.5h0m-2.5 7h0m-0.2-4.8h0m-0.8-2h0m4.3 4h0m-0.7-3.8h0m-0.8-2h0m0.1 3h0m-0.8-0.2h0m2.6 6.4h0m-8-5.1h0m7.2-0.4h0m-0.5 0.2h0m-1.4 2.4h0m4.2-0.7h0m-5.8-4.2h0m2.7 5.9h0m0.1-2.3h0m-1.2 0.5h0m-1.3-5.1h0m0.9 9.7h0m2.4-5h0m-0.1-0.3h0m-1.8-2h0m1.6 2h0m-1.2 1.9h0m0.5 2h0m-1.9 1.7h0m2-7.4h0m0.7 8h0m0.7-10.2h0m-6.5 3.6h0m2.3-0.3h0m2.5 3.4h0m0.1-2.9h0m0.1 5.5h0m-1.3-1.2h0m0.6-0.4h0m-4-4.5h0m7.9 1.7h0m-5.9 4.3h0m2.8-5.2h0m-2.4 5.8h0m2.1-10.7h0m2.1 3h0m-0.8 0.4h0m0.8 0.3h0m-3.1 6.5h0m0.7-5.6h0m0.1 1.9h0m-1.2 4.4h0m-0.7-6.8h0m4.5 0.2h0m-0.9-1.7h0m-1 3.2h0m1.5 1.9h0m-3-3.4h0m1.4 1.3h0m-0.2 3h0m-3.1-5.3h0m0.8-1.5h0m-0.1 5h0m5.6-5.7h0m-3.2 5.2h0m-1.7 0.2h0m-1.3-1.5h0m2-1.4h0m-0.6 1.9h0m3.6 0.8h0m-2.4 1.7h0m-2-3.3h0m5.5 4.6h0m-2.8-7.8h0m1.7 6.3h0m-5.9-2.7h0m4.7 1.3h0m1-2.4h0m-2.7 5.2h0m-1.9-1.4h0m3.2-3.5h0m3.9 2.7h0m-5.6-0.5h0m1.5-4.2h0m-1.6 3.7h0m-1.9-3.5h0m1.3 2.6h0m-3.4-0.8h0m6.4-2h0m-0.4-0.7h0m-1.2 5.3h0m-1.2-2.9h0m0.2 3.8h0m2.3-5.8h0m1.9 4.5h0m-2.2-1.9h0m-4.3-3h0m4.5 6h0m1 0.3h0m-3.3-1.6h0m0-6.3h0m-0.5 8.3h0m0.7 4h0m3-9.9h0m-1.9 5.4h0m-2.3 0.6h0m3.4-5.3h0m-0.5 2.3h0m-4.8-0.9h0m6.8 2.8h0m0-3.5h0m-3.5 2.1h0m0-1.6h0m1.9 1.8h0m2.5 2.5h0m-1.1-7.4h0m-2.9 6.5h0m-1.2-1.1h0m1.3-0.9h0m-0.7 1.5h0m-2.1 0h0m4.7 3.2h0m0.4-8.3h0m-4.6-0.5h0m3.6 0h0m2.2 0.9h0m-4.3 3.4h0m-2.6-0.9h0m2.1-2.4h0m1.5 3.5h0m-2.5-3.1h0m0.7 2.8h0m3.5-0.5h0m-1.4-2.2h0m1.8-0.8h0m0.1 8.2h0m-0.8-1h0m1-5.8h0m-1.7 0.8h0m-1.1 3.4h0m-1.7 1.5h0m0.9-4.5h0m4.4 2.3h0m-3.8-1h0m-1.5-3.8h0m1.2 1.1h0m2.9 1.3h0m-5-1.3h0m4.3 3.1h0m-0.9-2.8h0m1.1 2.9h0m-3.8-2.8h0m0-2.7h0m0.8 3.6h0m-1 5h0m2.2-6.1h0m-3.4-2h0m-0.1 2.9h0m3.8 3.4h0m-0.3-2.7h0m-4.8-1h0m7.8 1.2h0m-3.8-1.8h0m-0.3 5.5h0m2.6-1.2h0m-3.5-0.3h0m3.7 0.5h0m-2.5-2.3h0m-0.6 0.4h0m2.3-3.5h0m-3.5 4.2h0m3.3-6.2h0m2 5.3h0m-1.8-1.1h0m-0.2 3.1h0m-3.8-5.4h0m7 0.5h0m-1.8 1.7h0m-3 5.6h0m0.6-4.3h0m1.7-3.4h0m-0.8 2.3h0m0.8 1.7h0m3.8-3.6h0m-4.9 1.6h0m0.4 2.4h0m-5.4-1.3h0m5.8 0.2h0m-2.3-1.1h0m2.6-4.6h0m-0.3 3.9h0m-6.1-0.2h0m3.8 1h0m2.3 1.6h0m-2.6-1.9h0m-1.1-2.6h0m0.7-0.1h0m-1.7 6.9h0m1.6-1.8h0m3.1 1.7h0m-1.7-0.7h0m-1.2-0.5h0m-0.6-5.1h0m6.6-0.5h0m-3.4 3.9h0m-1.1 4.6h0m5.2-8.5h0m-6 1.9h0m2.5-1.1h0m1.1 3.2h0m-0.1-3.8h0m-0.2 5h0m1.1-0.6h0m-4.1 1.4h0m-1-0.3h0m0.9 0.4h0m2-3.6h0m-1.5 4.6h0m1.9 2.1h0m-0.9-11.7h0m-4.7 4.7h0m3.2 3.2h0m1-2.2h0m0.7 0.9h0m1 0.7h0m-0.3 0.6h0m-4-3.4h0m2 3.2h0m-2-2.6h0m2.4-1.1h0m-1.1 1h0m0.9 2.9h0m0.4-3.5h0m2.1 6.5h0m-0.4-3.1h0m1.7-6.1h0m-2.7 2.3h0m3.3-2.4h0m-5 0.8h0m4.9 3h0m1.8-0.2h0m-6.4-5.5h0m-1 8.2h0m1.1-3.7h0m1.8 0.3h0m-2.4-1.9h0m4.8 3.9h0m-4.4-5h0m1.7 1.5h0m-0.1 3.5h0m-1.6-3.2h0m4.5 5.7h0m-5.6-7.6h0m-1.5 6.9h0m6.1 1h0m0.9-7.1h0m-0.4 4.8h0m-5.2-2.9h0m0 3.6h0" stroke="#111" stroke-width="0.6" stroke-linecap="square" stroke-opacity="0.8" fill="none"/>
<path d="M372.5 461.0C372.6 459.8 373.6 458.6 374.3 457.9C375.1 457.2 376.0 456.7 377.0 456.7C378.1 456.7 379.8 457.2 380.6 457.9C381.4 458.6 381.7 459.8 381.7 461.0C381.7 462.2 381.4 464.1 380.6 465.1C379.8 466.1 378.1 466.8 377.0 466.8C375.9 466.8 374.6 466.1 373.9 465.1C373.1 464.1 372.4 462.2 372.5 461.0Z" fill="#000" filter="url(#b2)"/>
<path d="M393.2 459.5h0m1.4-0.7h0m1.1-1h0m-2.5 2.6h0m2.8-0.9h0m0.5-3.2h0m-0.5 1.5h0m-1.1 1.9h0m-2.2-2.6h0m5.7-0.3h0m-2 2.8h0m-1.3-1.5h0m-2.4 1.7h0m2.5-0.3h0m-1.3-0.9h0m0 1.9h0m2.2-1.5h0m-7.3-0.5h0m5.3 0h0m-2.9 2.8h0m6.3-3.7h0m-2.9 2.3h0m-2.5 3.9h0m1.9-4.7h0m1.2 0.5h0m0.5 3.2h0m1.8-5.2h0m-1.8 2.3h0m-1.3-2.1h0m0.7 4.5h0m-3 1h0m-1.3-3.2h0m1.4 1.7h0m0.9-0.2h0m2.6-4h0m-2.1 1.1h0m2.1 4h0m2.9-1.4h0m-6 1.2h0m3.9-4.4h0m2.9 2.5h0m-7.9-0.9h0m8.5 1.1h0m-6.5 1.1h0m2.6-1.8h0m0.7 2.6h0m-1.5-2.6h0m-5.8-2.8h0m8.7-1.2h0m-4.9 2.7h0m0.5-0.1h0m5.4 0.6h0m-4.7-1.5h0m-1.5 1.9h0m2.6-1.1h0m1 0.4h0m2.7-1.6h0m-2.2 1.5h0m0.1-0.9h0m-2.4 0h0m2.7 1h0m-3.4 1.7h0m2.6-4.1h0m-1.9 2.8h0m5 1.5h0m-5-1.6h0m-1.7 0.3h0m1.3-3h0m-1.5 3.3h0m1.4 0.6h0m4.2-2.7h0m-4.5 2.6h0m0.6-1.3h0m-2.7 2h0m0.5-2.5h0m3.2 0.4h0m2.3 0.2h0m-7.1 1h0m5 0h0m0.8-3.6h0m1.3 2h0m-1.5 0.3h0m1.1 1.4h0m-2.7 0.1h0m-1.3-0.4h0m-1.4-2.1h0m4 0.9h0m-2-2.6h0m-0.3 2.8h0m1.5-0.9h0m-1.8 4h0m-3.4-4.1h0m5 1.5h0m-1.3-3.9h0m1.2 5h0m-1.4-1.5h0m-1.4-1.1h0m4.2 1.5h0m-0.5-1h0m-2.3 1h0m2.4 1h0m1.9 0h0m-7-0.4h0m4.4-0.4h0m-5 1.1h0m7 2.8h0m-3.9-5.9h0m1.7 2.2h0m1.2-0.3h0m2.9 0.3h0m-2 0.8h0m-6.9-1.9h0m6.3 0.9h0m-0.7-0.5h0m-1.9-1.1h0m4.3 0.7h0m-0.2 1.2h0m-0.3-1.9h0m-0.8 1h0m2.2 3.8h0m-4.3-1.2h0m0.5-2.6h0m3.4-1.2h0m-6.2 1.9h0m2.2 1.3h0m1.6-1.2h0m-1.9-1.6h0m-0.2 3.5h0m1.2-2.5h0m-1.3 4.8h0m0.1-3h0m2.3-0.8h0m-2.8-1.3h0m4.6-1h0m-2.5 1.7h0m-2.3 1.3h0m1.5 2.2h0m1.2-6.6h0m1 3.9h0m-1.9 0.4h0m-2.9-0.4h0m0.8 0.2h0m5.3-1.2h0m-1.7-1.1h0m-1-0.8h0m-2.4 0h0m2.7 1.5h0m-4.2-0.6h0m0.6 0.1h0m1.3 0.2h0m2.8-0.6h0m-0.9 2.9h0m-1-2.9h0m-2 3h0m2.7-1.4h0m-2.8 2h0m0.4-4.9h0m3.4 2.2h0m-5.3 0.6h0m-1-1.5h0m5.7 2.9h0m-1.3-0.7h0m2.2-2.7h0m2.7 1h0m-2.7-1.6h0m-1.7 1.4h0m-1.5 3.6h0m0.4-4.2h0m0.8 4.5h0m-4.2-3.8h0m3.7 1.4h0m-1.1 2.5h0m3-3.5h0m-1.8-0.6h0m3.3-0.3h0m-3.2-1.6h0m1.1 3.6h0m4.5-0.3h0m-6.5 0.5h0m0.5-2.8h0m-0.7 0.8h0m2.9 1.5h0m-1.5-1.6h0m2.9 2h0m-3.8-0.2h0m2.2-1.5h0m0.1-1.5h0m-5.8 3.8h0m5.3 1h0m-3.5-4.5h0m4.5 2.8h0m-2.5 1.2h0m5.4-3.4h0m-5.2 4.7h0m-0.9-2.9h0m0.3-1.2h0m0.4 0.7h0m4.2-3.7h0m1.8 2.7h0m-6.2 3.5h0m5.9-1.3h0m-6.6-0.7h0m2.9 0.3h0m-0.2 1.6h0m-1.8 0.5h0m-2.8-4.5h0m7.4-0.4h0m-3.5 0.8h0m-2.2-0.9h0m6.2 2h0m-0.4 1.5h0m-3.8-0.7h0m2.1 1.6h0m-2.8-2.8h0m-3.1-0.1h0m0.4 1.8h0m1.6 1.2h0m-1.8-1.4h0m1.3-2h0m0.7 2.6h0m5.9-3.8h0m-3.1 1.9h0m0.9 1.3h0m0.7 1.7h0m1.1-2.4h0m-4 0.6h0m-2.4-0.1h0m-0.7-1h0m2.8-0.2h0m-0.2 3.7h0m2.5-2.9h0m-4.9 4.4h0m0.7-4.9h0m1.2 2.9h0m-0.4-4.7h0m3.3-0.5h0m1.8 0.7h0m-5.8 0.4h0m2.7 4.1h0m-0.9-1.7h0m-4.2 0.1h0m3.7 0.6h0m-0.6 0.1h0m1.3 1.2h0m3.6-2.9h0m-3.1 1h0m-1.3-1.3h0m-2.2 2.4h0m1.5-2.3h0m-1.3 0.9h0m3.1-0.9h0m0.1 1.1h0m-1.1-1.1h0m3.5-0.6h0m-2.8-2.7h0m0.7 4.7h0m-0.7 1.2h0m-3.1-2.3h0m1.5 0.1h0m4.7-1.6h0" stroke="#111" stroke-width="0.6" stroke-linecap="square" stroke-opacity="0.8" fill="none"/>
<path d="M390.2 459.5C390.1 458.5 391.1 457.6 391.9 457.1C392.7 456.6 393.7 456.4 395.0 456.5C396.3 456.6 398.6 457.1 399.5 457.7C400.4 458.3 400.7 459.1 400.2 460.0C399.8 460.8 398.1 462.3 396.8 462.8C395.5 463.4 393.4 463.7 392.3 463.2C391.2 462.6 390.2 460.5 390.2 459.5Z" fill="#000" filter="url(#b2)"/>
<path d="M365 79.2h0m-5.2 4.1h0m8.5-6.1h0m-2.7-0.6h0m-7.4 2.9h0m3.9-3.4h0" stroke="#333" stroke-width="0.5" stroke-linecap="square" fill="none"/>
<path d="M358.3 77.6h0m-0.1 5.2h0m-0.2-2.7h0m-0.8 0h0m1.4 1.8h0m-0.5-1.6h0m-0.2-0.8h0m-0.7-0.8h0m1.2 1.1h0m-0.5 3.3h0m1-6h0m-1.5 2.5h0m2 0.2h0m-0.1 2.2h0" stroke="#333" stroke-width="0.5" stroke-linecap="square" fill="none"/>
<path d="M359.6 129h0m1.6 7.1h0m-1.2-0.9h0m1.3-4.5h0m0.2 3.5h0m4-0.8h0" stroke="#333" stroke-width="0.5" stroke-linecap="square" fill="none"/>
<path d="M358.3 131.7h0m0.4-0.8h0m-0.5 4.7h0m0.8-1.2h0m-1.1-0.8h0m0.2 0h0m0.9-2.6h0m-0.1-2.6h0m0 2.7h0m-0.4-1h0m0.9 1h0m-1.2 4.6h0m0.9-1.5h0m-1.4-1.8h0" stroke="#333" stroke-width="0.5" stroke-linecap="square" fill="none"/>
<path d="M363.2 301.4h0m-1.7-1.3h0m9.6-12.6h0m-13.1 12.9h0m2.9-2.5h0m3.7 5.5h0m-3.9-6.8h0m1.4 3.4h0m11.5-9.1h0m-4.6 7.8h0m3.1-5.9h0m-12.6-0.3h0m3.9-3.3h0m0.4 5h0m7.6-4h0m-0.8 11.1h0m-2.6-1.2h0m-8-1.1h0m-1.5 2.7h0m13.7-2.7h0m-5.4-9.1h0m4.4 10.3h0m-4.9-3.9h0m4.6 7.6h0m-1.6-5.5h0m2.1-7.2h0m-6.5 9.6h0m-2.9-8.9h0m11.4-3h0m-8.4 1.1h0m-1.2 13.4h0m9.3-11.8h0m-14.8 1.6h0m13.2-2.4h0m-2.5 6h0m-3.2 3.4h0m2.6 3.1h0m-7.2-3.1h0m-2.9 0.1h0m14.9-8.1h0m-14.8 6.3h0m10-2.3h0m-2.8-3.3h0m2.5-3.2h0m1.8 1.7h0m-0.5 8.8h0m-3.3-4.8h0m-6.5 3.5h0m9.8 0.8h0m1.7 3.4h0m-4.9-5.9h0m-1.5 0.2h0m2.1 5.8h0m4.4-8.5h0m0.6-4.6h0" stroke="#555" stroke-width="0.5" stroke-linecap="square" fill="none"/>
<path d="M364.6 347h0m-2.9-2h0m3.6-2.4h0m5.5 1.9h0m-9.2-1.2h0m10.8 1.5h0m-3.7-2.2h0m-2 5.4h0m0.8-2.7h0m-6.2-2.1h0m-2.9 1.2h0m0.6 3.3h0m1.8-0.6h0m9.9-1.6h0m-1.4-0.9h0m-2.9-0.6h0m5.9 2.1h0m-10.1-2.9h0m0.2-0.5h0m6.8 4h0m-7.9 0.4h0m4.1-1.6h0m-2.1-2.5h0m3.6 0.4h0m2.7-0.9h0m-11.2 2h0m8.2-1.8h0m5 2.8h0m-8.7 1.7h0m9.3 0.8h0m-3.4-3.2h0m-2.5-0.5h0m-1.9 3.2h0m-3-3.7h0m-1.9 4.1h0m6.4-4.1h0m-1 0.9h0m2.5-0.7h0m-8.8-0.2h0m1.4 1.6h0m10.2-0.1h0m1.4 0.8h0m-2.4-0.4h0m1.8 1h0m0.4-3h0m-6.2-0.1h0m-5.8 3.3h0m10 0.5h0m-7.8-4.4h0m2.2 4.6h0" stroke="#555" stroke-width="0.5" stroke-linecap="square" fill="none"/>
<path d="M363.3 393h0m-0.9 25.4h0m-1.8-3.4h0m20.2-11.9h0m15.1 5.6h0m-35.7-9.2h0m18.8 9.6h0m-20.2-19.7h0m33 19.4h0m-26.1-17.6h0m24.6 4.6h0m7-3.1h0" stroke="#444" stroke-width="0.5" stroke-linecap="square" fill="none"/>
<path d="M365.3 454.4h0m37.4-10.6h0m-33.2 2.7h0m9.6-7.9h0m-18.4-6.5h0m32.4 12.5h0m-0.5 19.2h0m-26.6-9.4h0m30.1-16h0m-12.8-2.2h0m20.2 1.1h0m-9.8 22h0" stroke="#444" stroke-width="0.5" stroke-linecap="square" fill="none"/>
<path d="M383.9 404.9h0m-1.3 5.8h0m0.7-4.4h0m1.5 1.4h0m-1.3-0.2h0m2.4 3h0m-2.9-1.6h0m1.1-0.6h0m-1.8-2.3h0m0.5 2.6h0m4.5-0.5h0m-1.2 0.2h0m-3.4-1h0m-0.5-2.3h0m5.4 2.3h0m-3.9 4.5h0m-0.2-5.8h0m3.5-0.6h0m-0.3 6.2h0m-1.7-6.2h0" stroke="#333" stroke-width="0.5" stroke-linecap="square" fill="none"/>
<path d="M386.4 458.9h0m-4.4 3.5h0m2.6-0.4h0m-2.6-2.6h0m2.9 0.2h0m-0.4-0.5h0m2-0.2h0m-2.1-0.3h0m4.5 2.6h0m-3.1 1.5h0m0-5.2h0m2.4 5.4h0m-2.7-2.1h0m0.9-0.7h0m-0.3 1.7h0m-0.8-3.7h0m-1.1 0.8h0m2.6 4h0m-4.1-2.3h0m3.9-3.7h0" stroke="#333" stroke-width="0.5" stroke-linecap="square" fill="none"/>
<path d="M434.5 470 V22 M431.3 33.8 L434.5 21.6 L437.9 33.8" fill="none" stroke="#777" stroke-width="0.9"/>
<path d="M433.4 27.2 L434.5 21.4 L435.6 27.2 Z" fill="#333"/>
<text x="428.60" y="240.00" font-size="7.4" text-anchor="middle" textLength="107.5" lengthAdjust="spacingAndGlyphs" transform="rotate(-90 428.60 240.00)">pHH3+ Cells in G2/M (AF647; log)</text>
<text x="500.50" y="509.50" font-size="7" text-anchor="middle" textLength="80" lengthAdjust="spacingAndGlyphs">pSMAD2L+ Cells in G2/M</text>
<text x="500.50" y="517.50" font-size="7" text-anchor="middle" textLength="39" lengthAdjust="spacingAndGlyphs">(AF488; log)</text>
<text x="422.40" y="7.50" font-size="14" fill="#000" font-weight="bold">u</text>
<line x1="454.5" y1="8" x2="454.5" y2="89.3" stroke="#aaa" stroke-width="0.7"/>
<line x1="454.2" y1="89.5" x2="552.3" y2="89.5" stroke="#aaa" stroke-width="0.7"/>
<line x1="452.6" y1="89.5" x2="454.2" y2="89.5" stroke="#aaa" stroke-width="0.6"/>
<text x="451.00" y="91.70" font-size="6.6" fill="#111" text-anchor="end" font-weight="bold">0</text>
<line x1="452.6" y1="62.5" x2="454.2" y2="62.5" stroke="#aaa" stroke-width="0.6"/>
<text x="451.00" y="64.60" font-size="6.6" fill="#111" text-anchor="end" font-weight="bold">2</text>
<line x1="452.6" y1="35.5" x2="454.2" y2="35.5" stroke="#aaa" stroke-width="0.6"/>
<text x="451.00" y="37.50" font-size="6.6" fill="#111" text-anchor="end" font-weight="bold">4</text>
<line x1="452.6" y1="8.5" x2="454.2" y2="8.5" stroke="#aaa" stroke-width="0.6"/>
<text x="451.00" y="10.40" font-size="6.6" fill="#111" text-anchor="end" font-weight="bold">6</text>
<line x1="454.5" y1="89.3" x2="454.5" y2="91.1" stroke="#aaa" stroke-width="0.6"/>
<text x="455.50" y="100.30" font-size="6.6" font-weight="bold" fill="#111" text-anchor="middle" transform="rotate(-45 455.50 98.00)">0</text>
<line x1="473.5" y1="89.3" x2="473.5" y2="91.1" stroke="#aaa" stroke-width="0.6"/>
<text x="475.12" y="100.30" font-size="6.6" font-weight="bold" fill="#111" text-anchor="middle" transform="rotate(-45 475.12 98.00)">1</text>
<line x1="493.5" y1="89.3" x2="493.5" y2="91.1" stroke="#aaa" stroke-width="0.6"/>
<text x="494.74" y="100.30" font-size="6.6" font-weight="bold" fill="#111" text-anchor="middle" transform="rotate(-45 494.74 98.00)">2</text>
<line x1="513.5" y1="89.3" x2="513.5" y2="91.1" stroke="#aaa" stroke-width="0.6"/>
<text x="514.36" y="100.30" font-size="6.6" font-weight="bold" fill="#111" text-anchor="middle" transform="rotate(-45 514.36 98.00)">3</text>
<line x1="532.5" y1="89.3" x2="532.5" y2="91.1" stroke="#aaa" stroke-width="0.6"/>
<text x="533.98" y="100.30" font-size="6.6" font-weight="bold" fill="#111" text-anchor="middle" transform="rotate(-45 533.98 98.00)">4</text>
<line x1="552.5" y1="89.3" x2="552.5" y2="91.1" stroke="#aaa" stroke-width="0.6"/>
<text x="553.60" y="100.30" font-size="6.6" font-weight="bold" fill="#111" text-anchor="middle" transform="rotate(-45 553.60 98.00)">5</text>
<text x="460.00" y="29.00" font-size="6.8">A549</text>
<text x="476.20" y="25.40" font-size="3.9">WT</text>
<line x1="479.706" y1="76.4275" x2="545.433" y2="24.9375" stroke="#e07a7a" stroke-width="0.6"/>
<circle cx="479.71" cy="76.43" r="1.4" fill="#000"/>
<circle cx="487.55" cy="66.27" r="1.4" fill="#000"/>
<circle cx="489.52" cy="67.62" r="1.4" fill="#000"/>
<circle cx="490.50" cy="62.20" r="1.4" fill="#000"/>
<circle cx="489.52" cy="71.01" r="1.4" fill="#000"/>
<circle cx="490.50" cy="68.97" r="1.4" fill="#000"/>
<circle cx="499.33" cy="58.14" r="1.4" fill="#000"/>
<circle cx="501.29" cy="54.75" r="1.4" fill="#000"/>
<circle cx="506.19" cy="54.07" r="1.4" fill="#000"/>
<circle cx="514.04" cy="46.62" r="1.4" fill="#000"/>
<circle cx="515.02" cy="45.94" r="1.4" fill="#000"/>
<circle cx="518.95" cy="44.59" r="1.4" fill="#000"/>
<circle cx="520.91" cy="41.88" r="1.4" fill="#000"/>
<circle cx="523.85" cy="40.52" r="1.4" fill="#000"/>
<circle cx="536.60" cy="31.04" r="1.4" fill="#000"/>
<circle cx="542.49" cy="25.62" r="1.4" fill="#000"/>
<circle cx="544.45" cy="24.26" r="1.4" fill="#000"/>
<text x="530.00" y="70.50" font-size="6.4" textLength="19" lengthAdjust="spacingAndGlyphs"><tspan font-style="italic">p</tspan> ≤ ···</text>
<text x="522.50" y="79.00" font-size="6.4" textLength="33.5" lengthAdjust="spacingAndGlyphs">r<tspan font-size="4" dy="-2.6">2</tspan><tspan dy="2.6"> = 0.9856</tspan></text>
<line x1="452.5" y1="109.25" x2="452.5" y2="190" stroke="#aaa" stroke-width="0.7"/>
<line x1="452.5" y1="190.5" x2="547.5" y2="190.5" stroke="#aaa" stroke-width="0.7"/>
<line x1="450.9" y1="190.5" x2="452.5" y2="190.5" stroke="#aaa" stroke-width="0.6"/>
<text x="449.30" y="192.40" font-size="6.6" fill="#111" text-anchor="end" font-weight="bold">0</text>
<line x1="450.9" y1="173.5" x2="452.5" y2="173.5" stroke="#aaa" stroke-width="0.6"/>
<text x="449.30" y="176.25" font-size="6.6" fill="#111" text-anchor="end" font-weight="bold">1</text>
<line x1="450.9" y1="157.5" x2="452.5" y2="157.5" stroke="#aaa" stroke-width="0.6"/>
<text x="449.30" y="160.10" font-size="6.6" fill="#111" text-anchor="end" font-weight="bold">2</text>
<line x1="450.9" y1="141.5" x2="452.5" y2="141.5" stroke="#aaa" stroke-width="0.6"/>
<text x="449.30" y="143.95" font-size="6.6" fill="#111" text-anchor="end" font-weight="bold">3</text>
<line x1="450.9" y1="125.5" x2="452.5" y2="125.5" stroke="#aaa" stroke-width="0.6"/>
<text x="449.30" y="127.80" font-size="6.6" fill="#111" text-anchor="end" font-weight="bold">4</text>
<line x1="450.9" y1="109.5" x2="452.5" y2="109.5" stroke="#aaa" stroke-width="0.6"/>
<text x="449.30" y="111.65" font-size="6.6" fill="#111" text-anchor="end" font-weight="bold">5</text>
<line x1="452.5" y1="190" x2="452.5" y2="191.8" stroke="#aaa" stroke-width="0.6"/>
<text x="453.80" y="201.00" font-size="6.6" font-weight="bold" fill="#111" text-anchor="middle" transform="rotate(-45 453.80 198.70)">0</text>
<line x1="471.5" y1="190" x2="471.5" y2="191.8" stroke="#aaa" stroke-width="0.6"/>
<text x="472.80" y="201.00" font-size="6.6" font-weight="bold" fill="#111" text-anchor="middle" transform="rotate(-45 472.80 198.70)">1</text>
<line x1="490.5" y1="190" x2="490.5" y2="191.8" stroke="#aaa" stroke-width="0.6"/>
<text x="491.80" y="201.00" font-size="6.6" font-weight="bold" fill="#111" text-anchor="middle" transform="rotate(-45 491.80 198.70)">2</text>
<line x1="509.5" y1="190" x2="509.5" y2="191.8" stroke="#aaa" stroke-width="0.6"/>
<text x="510.80" y="201.00" font-size="6.6" font-weight="bold" fill="#111" text-anchor="middle" transform="rotate(-45 510.80 198.70)">3</text>
<line x1="528.5" y1="190" x2="528.5" y2="191.8" stroke="#aaa" stroke-width="0.6"/>
<text x="529.80" y="201.00" font-size="6.6" font-weight="bold" fill="#111" text-anchor="middle" transform="rotate(-45 529.80 198.70)">4</text>
<line x1="547.5" y1="190" x2="547.5" y2="191.8" stroke="#aaa" stroke-width="0.6"/>
<text x="548.80" y="201.00" font-size="6.6" font-weight="bold" fill="#111" text-anchor="middle" transform="rotate(-45 548.80 198.70)">5</text>
<text x="460.00" y="124.70" font-size="6.8">H838</text>
<line x1="461.05" y1="185.155" x2="535.15" y2="117.325" stroke="#e07a7a" stroke-width="0.6"/>
<circle cx="461.05" cy="178.69" r="1.4" fill="#000"/>
<circle cx="480.05" cy="173.04" r="1.4" fill="#000"/>
<circle cx="488.60" cy="164.16" r="1.4" fill="#000"/>
<circle cx="489.55" cy="165.78" r="1.4" fill="#000"/>
<circle cx="490.50" cy="158.51" r="1.4" fill="#000"/>
<circle cx="492.40" cy="156.89" r="1.4" fill="#000"/>
<circle cx="507.60" cy="143.97" r="1.4" fill="#000"/>
<circle cx="509.50" cy="141.55" r="1.4" fill="#000"/>
<circle cx="513.30" cy="138.32" r="1.4" fill="#000"/>
<circle cx="514.25" cy="136.71" r="1.4" fill="#000"/>
<circle cx="517.10" cy="135.09" r="1.4" fill="#000"/>
<circle cx="518.05" cy="131.86" r="1.4" fill="#000"/>
<circle cx="519.95" cy="131.86" r="1.4" fill="#000"/>
<circle cx="529.45" cy="123.79" r="1.4" fill="#000"/>
<circle cx="533.25" cy="120.56" r="1.4" fill="#000"/>
<circle cx="535.15" cy="114.90" r="1.4" fill="#000"/>
<text x="528.00" y="175.00" font-size="6.4" textLength="19" lengthAdjust="spacingAndGlyphs"><tspan font-style="italic">p</tspan> ≤ ···</text>
<text x="519.50" y="182.50" font-size="6.4" textLength="33" lengthAdjust="spacingAndGlyphs">r<tspan font-size="4" dy="-2.6">2</tspan><tspan dy="2.6"> = 0.9808</tspan></text>
<line x1="453.5" y1="214.25" x2="453.5" y2="291.25" stroke="#aaa" stroke-width="0.7"/>
<line x1="453.75" y1="291.5" x2="551.25" y2="291.5" stroke="#aaa" stroke-width="0.7"/>
<line x1="452.15" y1="291.5" x2="453.75" y2="291.5" stroke="#aaa" stroke-width="0.6"/>
<text x="450.55" y="293.65" font-size="6.6" fill="#111" text-anchor="end" font-weight="bold">0</text>
<line x1="452.15" y1="272.5" x2="453.75" y2="272.5" stroke="#aaa" stroke-width="0.6"/>
<text x="450.55" y="274.40" font-size="6.6" fill="#111" text-anchor="end" font-weight="bold">1</text>
<line x1="452.15" y1="252.5" x2="453.75" y2="252.5" stroke="#aaa" stroke-width="0.6"/>
<text x="450.55" y="255.15" font-size="6.6" fill="#111" text-anchor="end" font-weight="bold">2</text>
<line x1="452.15" y1="233.5" x2="453.75" y2="233.5" stroke="#aaa" stroke-width="0.6"/>
<text x="450.55" y="235.90" font-size="6.6" fill="#111" text-anchor="end" font-weight="bold">3</text>
<line x1="452.15" y1="214.5" x2="453.75" y2="214.5" stroke="#aaa" stroke-width="0.6"/>
<text x="450.55" y="216.65" font-size="6.6" fill="#111" text-anchor="end" font-weight="bold">4</text>
<line x1="453.5" y1="291.25" x2="453.5" y2="293.05" stroke="#aaa" stroke-width="0.6"/>
<text x="455.05" y="302.25" font-size="6.6" font-weight="bold" fill="#111" text-anchor="middle" transform="rotate(-45 455.05 299.95)">0</text>
<line x1="478.5" y1="291.25" x2="478.5" y2="293.05" stroke="#aaa" stroke-width="0.6"/>
<text x="479.43" y="302.25" font-size="6.6" font-weight="bold" fill="#111" text-anchor="middle" transform="rotate(-45 479.43 299.95)">1</text>
<line x1="502.5" y1="291.25" x2="502.5" y2="293.05" stroke="#aaa" stroke-width="0.6"/>
<text x="503.80" y="302.25" font-size="6.6" font-weight="bold" fill="#111" text-anchor="middle" transform="rotate(-45 503.80 299.95)">2</text>
<line x1="526.5" y1="291.25" x2="526.5" y2="293.05" stroke="#aaa" stroke-width="0.6"/>
<text x="528.17" y="302.25" font-size="6.6" font-weight="bold" fill="#111" text-anchor="middle" transform="rotate(-45 528.17 299.95)">3</text>
<line x1="551.5" y1="291.25" x2="551.5" y2="293.05" stroke="#aaa" stroke-width="0.6"/>
<text x="552.55" y="302.25" font-size="6.6" font-weight="bold" fill="#111" text-anchor="middle" transform="rotate(-45 552.55 299.95)">4</text>
<text x="458.75" y="223.00" font-size="6.8">H1650</text>
<line x1="476.419" y1="276.235" x2="530.531" y2="225.8" stroke="#e07a7a" stroke-width="0.6"/>
<circle cx="476.42" cy="269.11" r="1.4" fill="#000"/>
<circle cx="483.49" cy="269.11" r="1.4" fill="#000"/>
<circle cx="477.15" cy="282.01" r="1.4" fill="#000"/>
<circle cx="500.55" cy="252.75" r="1.4" fill="#000"/>
<circle cx="505.43" cy="249.86" r="1.4" fill="#000"/>
<circle cx="508.59" cy="247.36" r="1.4" fill="#000"/>
<circle cx="511.03" cy="246.01" r="1.4" fill="#000"/>
<circle cx="514.69" cy="243.12" r="1.4" fill="#000"/>
<circle cx="515.17" cy="241.20" r="1.4" fill="#000"/>
<circle cx="515.91" cy="240.81" r="1.4" fill="#000"/>
<circle cx="518.34" cy="239.28" r="1.4" fill="#000"/>
<circle cx="520.78" cy="238.31" r="1.4" fill="#000"/>
<circle cx="522.49" cy="235.81" r="1.4" fill="#000"/>
<circle cx="520.78" cy="231.96" r="1.4" fill="#000"/>
<circle cx="526.88" cy="226.76" r="1.4" fill="#000"/>
<circle cx="530.53" cy="224.84" r="1.4" fill="#000"/>
<text x="527.00" y="268.00" font-size="6.4" textLength="19" lengthAdjust="spacingAndGlyphs"><tspan font-style="italic">p</tspan> ≤ ···</text>
<text x="520.00" y="277.00" font-size="6.4" textLength="33.75" lengthAdjust="spacingAndGlyphs">r<tspan font-size="4" dy="-2.6">2</tspan><tspan dy="2.6"> = 0.9635</tspan></text>
<line x1="453.5" y1="308.75" x2="453.5" y2="385" stroke="#aaa" stroke-width="0.7"/>
<line x1="453.25" y1="385.5" x2="548.75" y2="385.5" stroke="#aaa" stroke-width="0.7"/>
<line x1="451.65" y1="385.5" x2="453.25" y2="385.5" stroke="#aaa" stroke-width="0.6"/>
<text x="450.05" y="387.40" font-size="6.6" fill="#111" text-anchor="end" font-weight="bold">0</text>
<line x1="451.65" y1="365.5" x2="453.25" y2="365.5" stroke="#aaa" stroke-width="0.6"/>
<text x="450.05" y="368.34" font-size="6.6" fill="#111" text-anchor="end" font-weight="bold">1</text>
<line x1="451.65" y1="346.5" x2="453.25" y2="346.5" stroke="#aaa" stroke-width="0.6"/>
<text x="450.05" y="349.27" font-size="6.6" fill="#111" text-anchor="end" font-weight="bold">2</text>
<line x1="451.65" y1="327.5" x2="453.25" y2="327.5" stroke="#aaa" stroke-width="0.6"/>
<text x="450.05" y="330.21" font-size="6.6" fill="#111" text-anchor="end" font-weight="bold">3</text>
<line x1="451.65" y1="308.5" x2="453.25" y2="308.5" stroke="#aaa" stroke-width="0.6"/>
<text x="450.05" y="311.15" font-size="6.6" fill="#111" text-anchor="end" font-weight="bold">4</text>
<line x1="453.5" y1="385" x2="453.5" y2="386.8" stroke="#aaa" stroke-width="0.6"/>
<text x="454.55" y="396.00" font-size="6.6" font-weight="bold" fill="#111" text-anchor="middle" transform="rotate(-45 454.55 393.70)">0</text>
<line x1="477.5" y1="385" x2="477.5" y2="386.8" stroke="#aaa" stroke-width="0.6"/>
<text x="478.43" y="396.00" font-size="6.6" font-weight="bold" fill="#111" text-anchor="middle" transform="rotate(-45 478.43 393.70)">1</text>
<line x1="501.5" y1="385" x2="501.5" y2="386.8" stroke="#aaa" stroke-width="0.6"/>
<text x="502.30" y="396.00" font-size="6.6" font-weight="bold" fill="#111" text-anchor="middle" transform="rotate(-45 502.30 393.70)">2</text>
<line x1="524.5" y1="385" x2="524.5" y2="386.8" stroke="#aaa" stroke-width="0.6"/>
<text x="526.17" y="396.00" font-size="6.6" font-weight="bold" fill="#111" text-anchor="middle" transform="rotate(-45 526.17 393.70)">3</text>
<line x1="548.5" y1="385" x2="548.5" y2="386.8" stroke="#aaa" stroke-width="0.6"/>
<text x="550.05" y="396.00" font-size="6.6" font-weight="bold" fill="#111" text-anchor="middle" transform="rotate(-45 550.05 393.70)">4</text>
<text x="458.75" y="319.50" font-size="6.8">H1975</text>
<line x1="475.215" y1="381.759" x2="535.619" y2="316.375" stroke="#e07a7a" stroke-width="0.6"/>
<circle cx="475.21" cy="366.70" r="1.4" fill="#000"/>
<circle cx="486.20" cy="385.00" r="1.4" fill="#000"/>
<circle cx="489.78" cy="379.28" r="1.4" fill="#000"/>
<circle cx="504.58" cy="346.49" r="1.4" fill="#000"/>
<circle cx="507.69" cy="343.44" r="1.4" fill="#000"/>
<circle cx="508.16" cy="341.54" r="1.4" fill="#000"/>
<circle cx="510.55" cy="338.30" r="1.4" fill="#000"/>
<circle cx="521.77" cy="330.29" r="1.4" fill="#000"/>
<circle cx="522.49" cy="329.34" r="1.4" fill="#000"/>
<circle cx="522.97" cy="327.43" r="1.4" fill="#000"/>
<circle cx="524.16" cy="326.29" r="1.4" fill="#000"/>
<circle cx="526.07" cy="325.52" r="1.4" fill="#000"/>
<circle cx="528.46" cy="324.38" r="1.4" fill="#000"/>
<circle cx="530.84" cy="321.71" r="1.4" fill="#000"/>
<circle cx="535.62" cy="316.38" r="1.4" fill="#000"/>
<text x="527.00" y="360.50" font-size="6.4" textLength="19" lengthAdjust="spacingAndGlyphs"><tspan font-style="italic">p</tspan> ≤ ···</text>
<text x="520.50" y="368.70" font-size="6.4" textLength="29.5" lengthAdjust="spacingAndGlyphs">r<tspan font-size="4" dy="-2.6">2</tspan><tspan dy="2.6"> = 0.892</tspan></text>
<line x1="453.5" y1="406.5" x2="453.5" y2="486.25" stroke="#aaa" stroke-width="0.7"/>
<line x1="453.75" y1="486.5" x2="548.75" y2="486.5" stroke="#aaa" stroke-width="0.7"/>
<line x1="452.15" y1="486.5" x2="453.75" y2="486.5" stroke="#aaa" stroke-width="0.6"/>
<text x="450.55" y="488.65" font-size="6.6" fill="#111" text-anchor="end" font-weight="bold">0</text>
<line x1="452.15" y1="466.5" x2="453.75" y2="466.5" stroke="#aaa" stroke-width="0.6"/>
<text x="450.55" y="468.71" font-size="6.6" fill="#111" text-anchor="end" font-weight="bold">1</text>
<line x1="452.15" y1="446.5" x2="453.75" y2="446.5" stroke="#aaa" stroke-width="0.6"/>
<text x="450.55" y="448.77" font-size="6.6" fill="#111" text-anchor="end" font-weight="bold">2</text>
<line x1="452.15" y1="426.5" x2="453.75" y2="426.5" stroke="#aaa" stroke-width="0.6"/>
<text x="450.55" y="428.84" font-size="6.6" fill="#111" text-anchor="end" font-weight="bold">3</text>
<line x1="452.15" y1="406.5" x2="453.75" y2="406.5" stroke="#aaa" stroke-width="0.6"/>
<text x="450.55" y="408.90" font-size="6.6" fill="#111" text-anchor="end" font-weight="bold">4</text>
<line x1="453.5" y1="486.25" x2="453.5" y2="488.05" stroke="#aaa" stroke-width="0.6"/>
<text x="455.05" y="497.25" font-size="6.6" font-weight="bold" fill="#111" text-anchor="middle" transform="rotate(-45 455.05 494.95)">0</text>
<line x1="477.5" y1="486.25" x2="477.5" y2="488.05" stroke="#aaa" stroke-width="0.6"/>
<text x="478.80" y="497.25" font-size="6.6" font-weight="bold" fill="#111" text-anchor="middle" transform="rotate(-45 478.80 494.95)">1</text>
<line x1="501.5" y1="486.25" x2="501.5" y2="488.05" stroke="#aaa" stroke-width="0.6"/>
<text x="502.55" y="497.25" font-size="6.6" font-weight="bold" fill="#111" text-anchor="middle" transform="rotate(-45 502.55 494.95)">2</text>
<line x1="525.5" y1="486.25" x2="525.5" y2="488.05" stroke="#aaa" stroke-width="0.6"/>
<text x="526.30" y="497.25" font-size="6.6" font-weight="bold" fill="#111" text-anchor="middle" transform="rotate(-45 526.30 494.95)">3</text>
<line x1="548.5" y1="486.25" x2="548.5" y2="488.05" stroke="#aaa" stroke-width="0.6"/>
<text x="550.05" y="497.25" font-size="6.6" font-weight="bold" fill="#111" text-anchor="middle" transform="rotate(-45 550.05 494.95)">4</text>
<text x="460.00" y="410.50" font-size="6.8">H520</text>
<line x1="464.438" y1="476.281" x2="536.875" y2="413.478" stroke="#e07a7a" stroke-width="0.6"/>
<circle cx="464.44" cy="474.29" r="1.4" fill="#000"/>
<circle cx="495.31" cy="448.77" r="1.4" fill="#000"/>
<circle cx="495.79" cy="450.76" r="1.4" fill="#000"/>
<circle cx="501.25" cy="445.78" r="1.4" fill="#000"/>
<circle cx="508.38" cy="438.40" r="1.4" fill="#000"/>
<circle cx="509.09" cy="436.41" r="1.4" fill="#000"/>
<circle cx="510.75" cy="436.41" r="1.4" fill="#000"/>
<circle cx="512.65" cy="435.41" r="1.4" fill="#000"/>
<circle cx="519.77" cy="423.85" r="1.4" fill="#000"/>
<circle cx="521.91" cy="427.83" r="1.4" fill="#000"/>
<circle cx="523.34" cy="423.85" r="1.4" fill="#000"/>
<circle cx="526.90" cy="423.45" r="1.4" fill="#000"/>
<circle cx="527.85" cy="422.45" r="1.4" fill="#000"/>
<circle cx="529.75" cy="421.45" r="1.4" fill="#000"/>
<circle cx="536.16" cy="411.48" r="1.4" fill="#000"/>
<text x="526.00" y="464.50" font-size="6.4" textLength="19" lengthAdjust="spacingAndGlyphs"><tspan font-style="italic">p</tspan> ≤ ···</text>
<text x="517.00" y="472.30" font-size="6.4" textLength="33.5" lengthAdjust="spacingAndGlyphs">r<tspan font-size="4" dy="-2.6">2</tspan><tspan dy="2.6"> = 0.9836</tspan></text>
<text x="574.80" y="8.30" font-size="14" fill="#000" font-weight="bold">v</text>
<path d="M586.5 473.5 V19 M583.4 30.8 L586.5 18.6 L589.6 30.8" fill="none" stroke="#777" stroke-width="0.9"/>
<path d="M585.4 24.2 L586.5 18.4 L587.6 24.2 Z" fill="#333"/>
<text x="582.50" y="241.20" font-size="8" text-anchor="middle" textLength="153.5" lengthAdjust="spacingAndGlyphs" transform="rotate(-90 582.50 241.20)">% Double Pos. Cells (pSMAD2L &amp; pHH3; log)</text>
<line x1="600.5" y1="8.9" x2="600.5" y2="86.4" stroke="#2a2a2a" stroke-width="1.0"/>
<line x1="599.8" y1="86.5" x2="678.6" y2="86.5" stroke="#2a2a2a" stroke-width="1.0"/>
<line x1="598.3" y1="9.5" x2="600.3" y2="9.5" stroke="#2a2a2a" stroke-width="0.9"/>
<text x="595.80" y="11.50" font-size="6.5" fill="#111" text-anchor="end" font-weight="bold">2</text>
<line x1="598.3" y1="28.5" x2="600.3" y2="28.5" stroke="#2a2a2a" stroke-width="0.9"/>
<text x="595.80" y="30.50" font-size="6.5" fill="#111" text-anchor="end" font-weight="bold">1</text>
<line x1="598.3" y1="47.5" x2="600.3" y2="47.5" stroke="#2a2a2a" stroke-width="0.9"/>
<text x="595.80" y="49.60" font-size="6.5" fill="#111" text-anchor="end" font-weight="bold">0</text>
<line x1="598.3" y1="66.5" x2="600.3" y2="66.5" stroke="#2a2a2a" stroke-width="0.9"/>
<text x="595.80" y="69.00" font-size="6.5" fill="#111" text-anchor="end" font-weight="bold">−1</text>
<line x1="598.3" y1="86.5" x2="600.3" y2="86.5" stroke="#2a2a2a" stroke-width="0.9"/>
<text x="595.80" y="88.50" font-size="6.5" fill="#111" text-anchor="end" font-weight="bold">−2</text>
<line x1="606.5" y1="86.4" x2="606.5" y2="88.4" stroke="#2a2a2a" stroke-width="0.9"/>
<line x1="619.5" y1="86.4" x2="619.5" y2="88.4" stroke="#2a2a2a" stroke-width="0.9"/>
<line x1="632.5" y1="86.4" x2="632.5" y2="88.4" stroke="#2a2a2a" stroke-width="0.9"/>
<line x1="645.5" y1="86.4" x2="645.5" y2="88.4" stroke="#2a2a2a" stroke-width="0.9"/>
<line x1="658.5" y1="86.4" x2="658.5" y2="88.4" stroke="#2a2a2a" stroke-width="0.9"/>
<line x1="671.5" y1="86.4" x2="671.5" y2="88.4" stroke="#2a2a2a" stroke-width="0.9"/>
<text x="662.10" y="14.90" font-size="6.8">A549</text>
<circle cx="605.60" cy="44.50" r="1.85" fill="#fff" stroke="#111" stroke-width="0.7"/>
<circle cx="608.80" cy="45.00" r="1.85" fill="#fff" stroke="#111" stroke-width="0.7"/>
<circle cx="607.20" cy="47.80" r="1.85" fill="#fff" stroke="#111" stroke-width="0.7"/>
<line x1="606.5" y1="43.9881" x2="606.5" y2="47.5452" stroke="#111" stroke-width="0.8"/>
<line x1="602.9" y1="45.5" x2="610.9" y2="45.5" stroke="#111" stroke-width="0.9"/>
<line x1="604.7" y1="43.5" x2="609.1" y2="43.5" stroke="#111" stroke-width="0.8"/>
<line x1="604.7" y1="47.5" x2="609.1" y2="47.5" stroke="#111" stroke-width="0.8"/>
<circle cx="618.30" cy="43.10" r="1.85" fill="#fff" stroke="#111" stroke-width="0.7"/>
<circle cx="621.50" cy="43.70" r="1.85" fill="#fff" stroke="#111" stroke-width="0.7"/>
<circle cx="619.60" cy="48.80" r="1.85" fill="#fff" stroke="#111" stroke-width="0.7"/>
<line x1="619.5" y1="42.0679" x2="619.5" y2="48.3321" stroke="#111" stroke-width="0.8"/>
<line x1="615.8" y1="45.5" x2="623.8" y2="45.5" stroke="#111" stroke-width="0.9"/>
<line x1="617.6" y1="42.5" x2="622" y2="42.5" stroke="#111" stroke-width="0.8"/>
<line x1="617.6" y1="48.5" x2="622" y2="48.5" stroke="#111" stroke-width="0.8"/>
<circle cx="631.30" cy="19.60" r="1.85" fill="#ea6e6e" stroke="#111" stroke-width="0.7"/>
<circle cx="634.20" cy="22.80" r="1.85" fill="#ea6e6e" stroke="#111" stroke-width="0.7"/>
<circle cx="632.30" cy="24.70" r="1.85" fill="#ea6e6e" stroke="#111" stroke-width="0.7"/>
<line x1="632.5" y1="19.7892" x2="632.5" y2="24.9441" stroke="#111" stroke-width="0.8"/>
<line x1="628.9" y1="22.5" x2="636.9" y2="22.5" stroke="#111" stroke-width="0.9"/>
<line x1="630.7" y1="19.5" x2="635.1" y2="19.5" stroke="#111" stroke-width="0.8"/>
<line x1="630.7" y1="24.5" x2="635.1" y2="24.5" stroke="#111" stroke-width="0.8"/>
<circle cx="644.40" cy="76.80" r="1.85" fill="#ea6e6e" stroke="#111" stroke-width="0.7"/>
<circle cx="647.50" cy="77.20" r="1.85" fill="#ea6e6e" stroke="#111" stroke-width="0.7"/>
<circle cx="645.60" cy="80.60" r="1.85" fill="#ea6e6e" stroke="#111" stroke-width="0.7"/>
<line x1="645.5" y1="76.1119" x2="645.5" y2="80.2881" stroke="#111" stroke-width="0.8"/>
<line x1="641.6" y1="78.5" x2="649.6" y2="78.5" stroke="#111" stroke-width="0.9"/>
<line x1="643.4" y1="76.5" x2="647.8" y2="76.5" stroke="#111" stroke-width="0.8"/>
<line x1="643.4" y1="80.5" x2="647.8" y2="80.5" stroke="#111" stroke-width="0.8"/>
<circle cx="656.70" cy="43.10" r="1.85" fill="#fff" stroke="#111" stroke-width="0.7"/>
<circle cx="660.20" cy="45.00" r="1.85" fill="#fff" stroke="#111" stroke-width="0.7"/>
<circle cx="658.30" cy="50.10" r="1.85" fill="#fff" stroke="#111" stroke-width="0.7"/>
<line x1="658.5" y1="42.4468" x2="658.5" y2="49.6865" stroke="#111" stroke-width="0.8"/>
<line x1="654.7" y1="46.5" x2="662.7" y2="46.5" stroke="#111" stroke-width="0.9"/>
<line x1="656.5" y1="42.5" x2="660.9" y2="42.5" stroke="#111" stroke-width="0.8"/>
<line x1="656.5" y1="49.5" x2="660.9" y2="49.5" stroke="#111" stroke-width="0.8"/>
<circle cx="670.10" cy="60.30" r="1.85" fill="#ea6e6e" stroke="#111" stroke-width="0.7"/>
<circle cx="672.90" cy="64.80" r="1.85" fill="#ea6e6e" stroke="#111" stroke-width="0.7"/>
<circle cx="671.00" cy="66.00" r="1.85" fill="#ea6e6e" stroke="#111" stroke-width="0.7"/>
<line x1="671.5" y1="60.695" x2="671.5" y2="66.705" stroke="#111" stroke-width="0.8"/>
<line x1="667.4" y1="63.5" x2="675.4" y2="63.5" stroke="#111" stroke-width="0.9"/>
<line x1="669.2" y1="60.5" x2="673.6" y2="60.5" stroke="#111" stroke-width="0.8"/>
<line x1="669.2" y1="66.5" x2="673.6" y2="66.5" stroke="#111" stroke-width="0.8"/>
<text x="678.60" y="11.30" font-size="3.9">WT</text>
<path d="M618.6 38 V11.6 H632.4 V15.6" fill="none" stroke="#8a8a8a" stroke-width="0.75"/>
<circle cx="620.55" cy="9.00" r="0.95" fill="#333"/>
<circle cx="624.45" cy="9.00" r="0.95" fill="#333"/>
<circle cx="628.35" cy="9.00" r="0.95" fill="#333"/>
<circle cx="632.25" cy="9.00" r="0.95" fill="#333"/>
<path d="M620.2 38.5 V35.2 H646.3 V70.5" fill="none" stroke="#8a8a8a" stroke-width="0.75"/>
<circle cx="627.35" cy="33.40" r="0.95" fill="#333"/>
<circle cx="631.25" cy="33.40" r="0.95" fill="#333"/>
<circle cx="635.15" cy="33.40" r="0.95" fill="#333"/>
<circle cx="639.05" cy="33.40" r="0.95" fill="#333"/>
<path d="M658 38.7 V34.5 H672.3 V55.9" fill="none" stroke="#8a8a8a" stroke-width="0.75"/>
<circle cx="659.05" cy="32.30" r="0.95" fill="#333"/>
<circle cx="662.95" cy="32.30" r="0.95" fill="#333"/>
<circle cx="666.85" cy="32.30" r="0.95" fill="#333"/>
<circle cx="670.75" cy="32.30" r="0.95" fill="#333"/>
<line x1="602.5" y1="110.9" x2="602.5" y2="188.1" stroke="#6a6a6a" stroke-width="1.0"/>
<line x1="601.5" y1="188.5" x2="682.5" y2="188.5" stroke="#6a6a6a" stroke-width="1.0"/>
<line x1="600" y1="111.5" x2="602" y2="111.5" stroke="#6a6a6a" stroke-width="0.9"/>
<text x="597.50" y="113.50" font-size="6.5" fill="#111" text-anchor="end" font-weight="bold">2</text>
<line x1="600" y1="126.5" x2="602" y2="126.5" stroke="#6a6a6a" stroke-width="0.9"/>
<text x="597.50" y="128.80" font-size="6.5" fill="#111" text-anchor="end" font-weight="bold">1</text>
<line x1="600" y1="142.5" x2="602" y2="142.5" stroke="#6a6a6a" stroke-width="0.9"/>
<text x="597.50" y="144.10" font-size="6.5" fill="#111" text-anchor="end" font-weight="bold">0</text>
<line x1="600" y1="157.5" x2="602" y2="157.5" stroke="#6a6a6a" stroke-width="0.9"/>
<text x="597.50" y="159.40" font-size="6.5" fill="#111" text-anchor="end" font-weight="bold">−1</text>
<line x1="600" y1="172.5" x2="602" y2="172.5" stroke="#6a6a6a" stroke-width="0.9"/>
<text x="597.50" y="174.80" font-size="6.5" fill="#111" text-anchor="end" font-weight="bold">−2</text>
<line x1="600" y1="188.5" x2="602" y2="188.5" stroke="#6a6a6a" stroke-width="0.9"/>
<text x="597.50" y="190.20" font-size="6.5" fill="#111" text-anchor="end" font-weight="bold">−3</text>
<line x1="608.5" y1="188.1" x2="608.5" y2="190.1" stroke="#6a6a6a" stroke-width="0.9"/>
<line x1="621.5" y1="188.1" x2="621.5" y2="190.1" stroke="#6a6a6a" stroke-width="0.9"/>
<line x1="635.5" y1="188.1" x2="635.5" y2="190.1" stroke="#6a6a6a" stroke-width="0.9"/>
<line x1="648.5" y1="188.1" x2="648.5" y2="190.1" stroke="#6a6a6a" stroke-width="0.9"/>
<line x1="661.5" y1="188.1" x2="661.5" y2="190.1" stroke="#6a6a6a" stroke-width="0.9"/>
<line x1="675.5" y1="188.1" x2="675.5" y2="190.1" stroke="#6a6a6a" stroke-width="0.9"/>
<text x="657.30" y="112.10" font-size="6.8">H838</text>
<circle cx="606.80" cy="137.40" r="1.85" fill="#fff" stroke="#111" stroke-width="0.7"/>
<circle cx="610.10" cy="137.40" r="1.85" fill="#fff" stroke="#111" stroke-width="0.7"/>
<circle cx="608.50" cy="140.40" r="1.85" fill="#fff" stroke="#111" stroke-width="0.7"/>
<line x1="608.5" y1="136.668" x2="608.5" y2="140.132" stroke="#111" stroke-width="0.8"/>
<line x1="604.4" y1="138.5" x2="612.4" y2="138.5" stroke="#111" stroke-width="0.9"/>
<line x1="606.2" y1="136.5" x2="610.6" y2="136.5" stroke="#111" stroke-width="0.8"/>
<line x1="606.2" y1="140.5" x2="610.6" y2="140.5" stroke="#111" stroke-width="0.8"/>
<circle cx="620.20" cy="137.00" r="1.85" fill="#fff" stroke="#111" stroke-width="0.7"/>
<circle cx="623.60" cy="137.00" r="1.85" fill="#fff" stroke="#111" stroke-width="0.7"/>
<circle cx="622.00" cy="142.40" r="1.85" fill="#fff" stroke="#111" stroke-width="0.7"/>
<line x1="621.5" y1="135.682" x2="621.5" y2="141.918" stroke="#111" stroke-width="0.8"/>
<line x1="617.9" y1="138.5" x2="625.9" y2="138.5" stroke="#111" stroke-width="0.9"/>
<line x1="619.7" y1="135.5" x2="624.1" y2="135.5" stroke="#111" stroke-width="0.8"/>
<line x1="619.7" y1="141.5" x2="624.1" y2="141.5" stroke="#111" stroke-width="0.8"/>
<circle cx="633.70" cy="118.20" r="1.85" fill="#ea6e6e" stroke="#111" stroke-width="0.7"/>
<circle cx="636.80" cy="123.20" r="1.85" fill="#ea6e6e" stroke="#111" stroke-width="0.7"/>
<circle cx="634.40" cy="122.20" r="1.85" fill="#ea6e6e" stroke="#111" stroke-width="0.7"/>
<line x1="635.5" y1="118.554" x2="635.5" y2="123.846" stroke="#111" stroke-width="0.8"/>
<line x1="631.5" y1="121.5" x2="639.5" y2="121.5" stroke="#111" stroke-width="0.9"/>
<line x1="633.3" y1="118.5" x2="637.7" y2="118.5" stroke="#111" stroke-width="0.8"/>
<line x1="633.3" y1="123.5" x2="637.7" y2="123.5" stroke="#111" stroke-width="0.8"/>
<circle cx="646.30" cy="163.70" r="1.85" fill="#ea6e6e" stroke="#111" stroke-width="0.7"/>
<circle cx="650.70" cy="165.60" r="1.85" fill="#ea6e6e" stroke="#111" stroke-width="0.7"/>
<circle cx="648.50" cy="173.20" r="1.85" fill="#ea6e6e" stroke="#111" stroke-width="0.7"/>
<line x1="648.5" y1="162.473" x2="648.5" y2="172.527" stroke="#111" stroke-width="0.8"/>
<line x1="644.5" y1="167.5" x2="652.5" y2="167.5" stroke="#111" stroke-width="0.9"/>
<line x1="646.3" y1="162.5" x2="650.7" y2="162.5" stroke="#111" stroke-width="0.8"/>
<line x1="646.3" y1="172.5" x2="650.7" y2="172.5" stroke="#111" stroke-width="0.8"/>
<circle cx="660.20" cy="137.40" r="1.85" fill="#fff" stroke="#111" stroke-width="0.7"/>
<circle cx="663.70" cy="137.40" r="1.85" fill="#fff" stroke="#111" stroke-width="0.7"/>
<circle cx="662.00" cy="142.80" r="1.85" fill="#fff" stroke="#111" stroke-width="0.7"/>
<line x1="661.5" y1="136.082" x2="661.5" y2="142.318" stroke="#111" stroke-width="0.8"/>
<line x1="657.9" y1="139.5" x2="665.9" y2="139.5" stroke="#111" stroke-width="0.9"/>
<line x1="659.7" y1="136.5" x2="664.1" y2="136.5" stroke="#111" stroke-width="0.8"/>
<line x1="659.7" y1="142.5" x2="664.1" y2="142.5" stroke="#111" stroke-width="0.8"/>
<circle cx="672.70" cy="155.70" r="1.85" fill="#ea6e6e" stroke="#111" stroke-width="0.7"/>
<circle cx="677.40" cy="156.10" r="1.85" fill="#ea6e6e" stroke="#111" stroke-width="0.7"/>
<circle cx="675.10" cy="165.90" r="1.85" fill="#ea6e6e" stroke="#111" stroke-width="0.7"/>
<line x1="675.5" y1="153.456" x2="675.5" y2="165.01" stroke="#111" stroke-width="0.8"/>
<line x1="671.2" y1="159.5" x2="679.2" y2="159.5" stroke="#111" stroke-width="0.9"/>
<line x1="673" y1="153.5" x2="677.4" y2="153.5" stroke="#111" stroke-width="0.8"/>
<line x1="673" y1="165.5" x2="677.4" y2="165.5" stroke="#111" stroke-width="0.8"/>
<path d="M621.2 133 V112.1 H635.7 V115.9" fill="none" stroke="#8a8a8a" stroke-width="0.75"/>
<circle cx="622.55" cy="110.10" r="0.95" fill="#333"/>
<circle cx="626.45" cy="110.10" r="0.95" fill="#333"/>
<circle cx="630.35" cy="110.10" r="0.95" fill="#333"/>
<circle cx="634.25" cy="110.10" r="0.95" fill="#333"/>
<path d="M623.6 134 V132.3 H648.8 V157.9" fill="none" stroke="#8a8a8a" stroke-width="0.75"/>
<circle cx="628.55" cy="131.50" r="0.95" fill="#333"/>
<circle cx="632.45" cy="131.50" r="0.95" fill="#333"/>
<circle cx="636.35" cy="131.50" r="0.95" fill="#333"/>
<circle cx="640.25" cy="131.50" r="0.95" fill="#333"/>
<path d="M661.6 134.3 V130.7 H675.4 V151.9" fill="none" stroke="#8a8a8a" stroke-width="0.75"/>
<circle cx="662.05" cy="128.10" r="0.95" fill="#333"/>
<circle cx="665.95" cy="128.10" r="0.95" fill="#333"/>
<circle cx="669.85" cy="128.10" r="0.95" fill="#333"/>
<circle cx="673.75" cy="128.10" r="0.95" fill="#333"/>
<line x1="602.5" y1="213" x2="602.5" y2="284.4" stroke="#2a2a2a" stroke-width="1.0"/>
<line x1="602.3" y1="284.5" x2="680.8" y2="284.5" stroke="#2a2a2a" stroke-width="1.0"/>
<line x1="600.8" y1="213.5" x2="602.8" y2="213.5" stroke="#2a2a2a" stroke-width="0.9"/>
<text x="598.30" y="215.60" font-size="6.5" fill="#111" text-anchor="end" font-weight="bold">1</text>
<line x1="600.8" y1="236.5" x2="602.8" y2="236.5" stroke="#2a2a2a" stroke-width="0.9"/>
<text x="598.30" y="239.00" font-size="6.5" fill="#111" text-anchor="end" font-weight="bold">0</text>
<line x1="600.8" y1="260.5" x2="602.8" y2="260.5" stroke="#2a2a2a" stroke-width="0.9"/>
<text x="598.30" y="262.40" font-size="6.5" fill="#111" text-anchor="end" font-weight="bold">−1</text>
<line x1="600.8" y1="284.5" x2="602.8" y2="284.5" stroke="#2a2a2a" stroke-width="0.9"/>
<text x="598.30" y="286.50" font-size="6.5" fill="#111" text-anchor="end" font-weight="bold">−2</text>
<line x1="609.5" y1="284.4" x2="609.5" y2="286.4" stroke="#2a2a2a" stroke-width="0.9"/>
<line x1="622.5" y1="284.4" x2="622.5" y2="286.4" stroke="#2a2a2a" stroke-width="0.9"/>
<line x1="635.5" y1="284.4" x2="635.5" y2="286.4" stroke="#2a2a2a" stroke-width="0.9"/>
<line x1="648.5" y1="284.4" x2="648.5" y2="286.4" stroke="#2a2a2a" stroke-width="0.9"/>
<line x1="661.5" y1="284.4" x2="661.5" y2="286.4" stroke="#2a2a2a" stroke-width="0.9"/>
<line x1="673.5" y1="284.4" x2="673.5" y2="286.4" stroke="#2a2a2a" stroke-width="0.9"/>
<text x="657.70" y="208.20" font-size="6.8">H1650</text>
<circle cx="607.10" cy="238.40" r="1.85" fill="#fff" stroke="#111" stroke-width="0.7"/>
<circle cx="609.70" cy="234.80" r="1.85" fill="#fff" stroke="#111" stroke-width="0.7"/>
<circle cx="611.70" cy="232.00" r="1.85" fill="#fff" stroke="#111" stroke-width="0.7"/>
<line x1="609.5" y1="231.858" x2="609.5" y2="238.275" stroke="#111" stroke-width="0.8"/>
<line x1="605.4" y1="235.5" x2="613.4" y2="235.5" stroke="#111" stroke-width="0.9"/>
<line x1="607.2" y1="231.5" x2="611.6" y2="231.5" stroke="#111" stroke-width="0.8"/>
<line x1="607.2" y1="238.5" x2="611.6" y2="238.5" stroke="#111" stroke-width="0.8"/>
<circle cx="622.10" cy="229.70" r="1.85" fill="#fff" stroke="#111" stroke-width="0.7"/>
<circle cx="620.20" cy="237.10" r="1.85" fill="#fff" stroke="#111" stroke-width="0.7"/>
<circle cx="624.00" cy="237.10" r="1.85" fill="#fff" stroke="#111" stroke-width="0.7"/>
<line x1="622.5" y1="230.361" x2="622.5" y2="238.906" stroke="#111" stroke-width="0.8"/>
<line x1="618.4" y1="234.5" x2="626.4" y2="234.5" stroke="#111" stroke-width="0.9"/>
<line x1="620.2" y1="230.5" x2="624.6" y2="230.5" stroke="#111" stroke-width="0.8"/>
<line x1="620.2" y1="238.5" x2="624.6" y2="238.5" stroke="#111" stroke-width="0.8"/>
<circle cx="632.90" cy="217.70" r="1.85" fill="#ea6e6e" stroke="#111" stroke-width="0.7"/>
<circle cx="637.40" cy="219.00" r="1.85" fill="#ea6e6e" stroke="#111" stroke-width="0.7"/>
<circle cx="634.80" cy="227.50" r="1.85" fill="#ea6e6e" stroke="#111" stroke-width="0.7"/>
<line x1="635.5" y1="216.077" x2="635.5" y2="226.723" stroke="#111" stroke-width="0.8"/>
<line x1="631.5" y1="221.5" x2="639.5" y2="221.5" stroke="#111" stroke-width="0.9"/>
<line x1="633.3" y1="216.5" x2="637.7" y2="216.5" stroke="#111" stroke-width="0.8"/>
<line x1="633.3" y1="226.5" x2="637.7" y2="226.5" stroke="#111" stroke-width="0.8"/>
<circle cx="648.20" cy="265.40" r="1.85" fill="#ea6e6e" stroke="#111" stroke-width="0.7"/>
<circle cx="650.70" cy="270.20" r="1.85" fill="#ea6e6e" stroke="#111" stroke-width="0.7"/>
<circle cx="645.60" cy="273.00" r="1.85" fill="#ea6e6e" stroke="#111" stroke-width="0.7"/>
<line x1="648.5" y1="265.69" x2="648.5" y2="273.377" stroke="#111" stroke-width="0.8"/>
<line x1="644.2" y1="269.5" x2="652.2" y2="269.5" stroke="#111" stroke-width="0.9"/>
<line x1="646" y1="265.5" x2="650.4" y2="265.5" stroke="#111" stroke-width="0.8"/>
<line x1="646" y1="273.5" x2="650.4" y2="273.5" stroke="#111" stroke-width="0.8"/>
<circle cx="660.20" cy="230.40" r="1.85" fill="#fff" stroke="#111" stroke-width="0.7"/>
<circle cx="658.30" cy="238.90" r="1.85" fill="#fff" stroke="#111" stroke-width="0.7"/>
<circle cx="662.80" cy="238.40" r="1.85" fill="#fff" stroke="#111" stroke-width="0.7"/>
<line x1="661.5" y1="231.13" x2="661.5" y2="240.67" stroke="#111" stroke-width="0.8"/>
<line x1="657.1" y1="235.5" x2="665.1" y2="235.5" stroke="#111" stroke-width="0.9"/>
<line x1="658.9" y1="231.5" x2="663.3" y2="231.5" stroke="#111" stroke-width="0.8"/>
<line x1="658.9" y1="240.5" x2="663.3" y2="240.5" stroke="#111" stroke-width="0.8"/>
<circle cx="671.40" cy="247.40" r="1.85" fill="#ea6e6e" stroke="#111" stroke-width="0.7"/>
<circle cx="676.10" cy="250.20" r="1.85" fill="#ea6e6e" stroke="#111" stroke-width="0.7"/>
<circle cx="673.90" cy="257.10" r="1.85" fill="#ea6e6e" stroke="#111" stroke-width="0.7"/>
<line x1="673.5" y1="246.574" x2="673.5" y2="256.559" stroke="#111" stroke-width="0.8"/>
<line x1="669.9" y1="251.5" x2="677.9" y2="251.5" stroke="#111" stroke-width="0.9"/>
<line x1="671.7" y1="246.5" x2="676.1" y2="246.5" stroke="#111" stroke-width="0.8"/>
<line x1="671.7" y1="256.5" x2="676.1" y2="256.5" stroke="#111" stroke-width="0.8"/>
<path d="M621.1 224.7 V208.2 H634.8 V210.7" fill="none" stroke="#8a8a8a" stroke-width="0.75"/>
<circle cx="626.55" cy="206.30" r="0.95" fill="#333"/>
<circle cx="630.45" cy="206.30" r="0.95" fill="#333"/>
<path d="M622.2 243 V251.3 H647.7 V258.5" fill="none" stroke="#8a8a8a" stroke-width="0.75"/>
<circle cx="629.15" cy="249.20" r="0.95" fill="#333"/>
<circle cx="633.05" cy="249.20" r="0.95" fill="#333"/>
<circle cx="636.95" cy="249.20" r="0.95" fill="#333"/>
<circle cx="640.85" cy="249.20" r="0.95" fill="#333"/>
<path d="M660.2 225.3 V222.4 H674.2 V242.5" fill="none" stroke="#8a8a8a" stroke-width="0.75"/>
<circle cx="665.45" cy="220.60" r="0.95" fill="#333"/>
<circle cx="669.35" cy="220.60" r="0.95" fill="#333"/>
<line x1="602.5" y1="312.1" x2="602.5" y2="383.2" stroke="#2a2a2a" stroke-width="1.0"/>
<line x1="601.6" y1="383.5" x2="679.9" y2="383.5" stroke="#2a2a2a" stroke-width="1.0"/>
<line x1="600.1" y1="312.5" x2="602.1" y2="312.5" stroke="#2a2a2a" stroke-width="0.9"/>
<text x="597.60" y="314.70" font-size="6.5" fill="#111" text-anchor="end" font-weight="bold">1</text>
<line x1="600.1" y1="335.5" x2="602.1" y2="335.5" stroke="#2a2a2a" stroke-width="0.9"/>
<text x="597.60" y="338.00" font-size="6.5" fill="#111" text-anchor="end" font-weight="bold">0</text>
<line x1="600.1" y1="359.5" x2="602.1" y2="359.5" stroke="#2a2a2a" stroke-width="0.9"/>
<text x="597.60" y="361.50" font-size="6.5" fill="#111" text-anchor="end" font-weight="bold">−1</text>
<line x1="600.1" y1="383.5" x2="602.1" y2="383.5" stroke="#2a2a2a" stroke-width="0.9"/>
<text x="597.60" y="385.30" font-size="6.5" fill="#111" text-anchor="end" font-weight="bold">−2</text>
<line x1="608.5" y1="383.2" x2="608.5" y2="385.2" stroke="#2a2a2a" stroke-width="0.9"/>
<line x1="621.5" y1="383.2" x2="621.5" y2="385.2" stroke="#2a2a2a" stroke-width="0.9"/>
<line x1="633.5" y1="383.2" x2="633.5" y2="385.2" stroke="#2a2a2a" stroke-width="0.9"/>
<line x1="646.5" y1="383.2" x2="646.5" y2="385.2" stroke="#2a2a2a" stroke-width="0.9"/>
<line x1="659.5" y1="383.2" x2="659.5" y2="385.2" stroke="#2a2a2a" stroke-width="0.9"/>
<line x1="672.5" y1="383.2" x2="672.5" y2="385.2" stroke="#2a2a2a" stroke-width="0.9"/>
<text x="657.70" y="305.00" font-size="6.8">H1975</text>
<circle cx="606.90" cy="328.50" r="1.85" fill="#fff" stroke="#111" stroke-width="0.7"/>
<circle cx="609.40" cy="330.80" r="1.85" fill="#fff" stroke="#111" stroke-width="0.7"/>
<circle cx="608.20" cy="332.00" r="1.85" fill="#fff" stroke="#111" stroke-width="0.7"/>
<line x1="608.5" y1="328.655" x2="608.5" y2="332.212" stroke="#111" stroke-width="0.8"/>
<line x1="604.4" y1="330.5" x2="612.4" y2="330.5" stroke="#111" stroke-width="0.9"/>
<line x1="606.2" y1="328.5" x2="610.6" y2="328.5" stroke="#111" stroke-width="0.8"/>
<line x1="606.2" y1="332.5" x2="610.6" y2="332.5" stroke="#111" stroke-width="0.8"/>
<circle cx="619.30" cy="328.50" r="1.85" fill="#fff" stroke="#111" stroke-width="0.7"/>
<circle cx="622.10" cy="329.80" r="1.85" fill="#fff" stroke="#111" stroke-width="0.7"/>
<circle cx="620.90" cy="332.30" r="1.85" fill="#fff" stroke="#111" stroke-width="0.7"/>
<line x1="621.5" y1="328.269" x2="621.5" y2="332.131" stroke="#111" stroke-width="0.8"/>
<line x1="617.1" y1="330.5" x2="625.1" y2="330.5" stroke="#111" stroke-width="0.9"/>
<line x1="618.9" y1="328.5" x2="623.3" y2="328.5" stroke="#111" stroke-width="0.8"/>
<line x1="618.9" y1="332.5" x2="623.3" y2="332.5" stroke="#111" stroke-width="0.8"/>
<circle cx="632.00" cy="315.80" r="1.85" fill="#ea6e6e" stroke="#111" stroke-width="0.7"/>
<circle cx="636.10" cy="316.80" r="1.85" fill="#ea6e6e" stroke="#111" stroke-width="0.7"/>
<circle cx="634.20" cy="318.30" r="1.85" fill="#ea6e6e" stroke="#111" stroke-width="0.7"/>
<line x1="633.5" y1="315.708" x2="633.5" y2="318.225" stroke="#111" stroke-width="0.8"/>
<line x1="629.8" y1="316.5" x2="637.8" y2="316.5" stroke="#111" stroke-width="0.9"/>
<line x1="631.6" y1="315.5" x2="636" y2="315.5" stroke="#111" stroke-width="0.8"/>
<line x1="631.6" y1="318.5" x2="636" y2="318.5" stroke="#111" stroke-width="0.8"/>
<circle cx="646.50" cy="368.60" r="1.85" fill="#ea6e6e" stroke="#111" stroke-width="0.7"/>
<circle cx="646.50" cy="376.20" r="1.85" fill="#ea6e6e" stroke="#111" stroke-width="0.7"/>
<circle cx="646.50" cy="383.20" r="1.85" fill="#ea6e6e" stroke="#111" stroke-width="0.7"/>
<line x1="646.5" y1="368.698" x2="646.5" y2="383.302" stroke="#111" stroke-width="0.8"/>
<line x1="642.5" y1="376.5" x2="650.5" y2="376.5" stroke="#111" stroke-width="0.9"/>
<line x1="644.3" y1="368.5" x2="648.7" y2="368.5" stroke="#111" stroke-width="0.8"/>
<line x1="644.3" y1="383.5" x2="648.7" y2="383.5" stroke="#111" stroke-width="0.8"/>
<circle cx="657.70" cy="329.10" r="1.85" fill="#fff" stroke="#111" stroke-width="0.7"/>
<circle cx="660.90" cy="331.30" r="1.85" fill="#fff" stroke="#111" stroke-width="0.7"/>
<circle cx="659.20" cy="334.80" r="1.85" fill="#fff" stroke="#111" stroke-width="0.7"/>
<line x1="659.5" y1="328.859" x2="659.5" y2="334.608" stroke="#111" stroke-width="0.8"/>
<line x1="655.6" y1="331.5" x2="663.6" y2="331.5" stroke="#111" stroke-width="0.9"/>
<line x1="657.4" y1="328.5" x2="661.8" y2="328.5" stroke="#111" stroke-width="0.8"/>
<line x1="657.4" y1="334.5" x2="661.8" y2="334.5" stroke="#111" stroke-width="0.8"/>
<circle cx="672.30" cy="345.70" r="1.85" fill="#ea6e6e" stroke="#111" stroke-width="0.7"/>
<circle cx="670.10" cy="355.90" r="1.85" fill="#ea6e6e" stroke="#111" stroke-width="0.7"/>
<circle cx="674.20" cy="355.00" r="1.85" fill="#ea6e6e" stroke="#111" stroke-width="0.7"/>
<line x1="672.5" y1="346.553" x2="672.5" y2="357.847" stroke="#111" stroke-width="0.8"/>
<line x1="668.7" y1="352.5" x2="676.7" y2="352.5" stroke="#111" stroke-width="0.9"/>
<line x1="670.5" y1="346.5" x2="674.9" y2="346.5" stroke="#111" stroke-width="0.8"/>
<line x1="670.5" y1="357.5" x2="674.9" y2="357.5" stroke="#111" stroke-width="0.8"/>
<path d="M620.2 324.7 V310.1 H633.6 V312.6" fill="none" stroke="#8a8a8a" stroke-width="0.75"/>
<circle cx="622.80" cy="307.60" r="0.95" fill="#333"/>
<circle cx="626.70" cy="307.60" r="0.95" fill="#333"/>
<circle cx="630.60" cy="307.60" r="0.95" fill="#333"/>
<path d="M621.1 338.4 V352.1 H645.6 V362.2" fill="none" stroke="#8a8a8a" stroke-width="0.75"/>
<circle cx="626.95" cy="349.60" r="0.95" fill="#333"/>
<circle cx="630.85" cy="349.60" r="0.95" fill="#333"/>
<circle cx="634.75" cy="349.60" r="0.95" fill="#333"/>
<circle cx="638.65" cy="349.60" r="0.95" fill="#333"/>
<path d="M657.7 324.7 V319 H672.7 V339.9" fill="none" stroke="#8a8a8a" stroke-width="0.75"/>
<circle cx="658.75" cy="317.10" r="0.95" fill="#333"/>
<circle cx="662.65" cy="317.10" r="0.95" fill="#333"/>
<circle cx="666.55" cy="317.10" r="0.95" fill="#333"/>
<circle cx="670.45" cy="317.10" r="0.95" fill="#333"/>
<line x1="603.5" y1="402.9" x2="603.5" y2="482" stroke="#2a2a2a" stroke-width="1.0"/>
<line x1="602.6" y1="482.5" x2="681.5" y2="482.5" stroke="#2a2a2a" stroke-width="1.0"/>
<line x1="601.1" y1="403.5" x2="603.1" y2="403.5" stroke="#2a2a2a" stroke-width="0.9"/>
<text x="598.60" y="405.50" font-size="6.5" fill="#111" text-anchor="end" font-weight="bold">2</text>
<line x1="601.1" y1="423.5" x2="603.1" y2="423.5" stroke="#2a2a2a" stroke-width="0.9"/>
<text x="598.60" y="425.20" font-size="6.5" fill="#111" text-anchor="end" font-weight="bold">1</text>
<line x1="601.1" y1="442.5" x2="603.1" y2="442.5" stroke="#2a2a2a" stroke-width="0.9"/>
<text x="598.60" y="444.70" font-size="6.5" fill="#111" text-anchor="end" font-weight="bold">0</text>
<line x1="601.1" y1="462.5" x2="603.1" y2="462.5" stroke="#2a2a2a" stroke-width="0.9"/>
<text x="598.60" y="464.40" font-size="6.5" fill="#111" text-anchor="end" font-weight="bold">−1</text>
<line x1="601.1" y1="482.5" x2="603.1" y2="482.5" stroke="#2a2a2a" stroke-width="0.9"/>
<text x="598.60" y="484.10" font-size="6.5" fill="#111" text-anchor="end" font-weight="bold">−2</text>
<line x1="609.5" y1="482" x2="609.5" y2="484" stroke="#2a2a2a" stroke-width="0.9"/>
<line x1="622.5" y1="482" x2="622.5" y2="484" stroke="#2a2a2a" stroke-width="0.9"/>
<line x1="635.5" y1="482" x2="635.5" y2="484" stroke="#2a2a2a" stroke-width="0.9"/>
<line x1="649.5" y1="482" x2="649.5" y2="484" stroke="#2a2a2a" stroke-width="0.9"/>
<line x1="662.5" y1="482" x2="662.5" y2="484" stroke="#2a2a2a" stroke-width="0.9"/>
<line x1="676.5" y1="482" x2="676.5" y2="484" stroke="#2a2a2a" stroke-width="0.9"/>
<text x="656.70" y="412.40" font-size="6.8">H520</text>
<circle cx="608.20" cy="430.50" r="1.85" fill="#fff" stroke="#111" stroke-width="0.7"/>
<circle cx="611.30" cy="431.50" r="1.85" fill="#fff" stroke="#111" stroke-width="0.7"/>
<circle cx="609.70" cy="436.20" r="1.85" fill="#fff" stroke="#111" stroke-width="0.7"/>
<line x1="609.5" y1="429.69" x2="609.5" y2="435.777" stroke="#111" stroke-width="0.8"/>
<line x1="605.3" y1="432.5" x2="613.3" y2="432.5" stroke="#111" stroke-width="0.9"/>
<line x1="607.1" y1="429.5" x2="611.5" y2="429.5" stroke="#111" stroke-width="0.8"/>
<line x1="607.1" y1="435.5" x2="611.5" y2="435.5" stroke="#111" stroke-width="0.8"/>
<circle cx="621.50" cy="431.10" r="1.85" fill="#fff" stroke="#111" stroke-width="0.7"/>
<circle cx="624.70" cy="433.30" r="1.85" fill="#fff" stroke="#111" stroke-width="0.7"/>
<circle cx="622.80" cy="436.20" r="1.85" fill="#fff" stroke="#111" stroke-width="0.7"/>
<line x1="622.5" y1="430.975" x2="622.5" y2="436.091" stroke="#111" stroke-width="0.8"/>
<line x1="618.5" y1="433.5" x2="626.5" y2="433.5" stroke="#111" stroke-width="0.9"/>
<line x1="620.3" y1="430.5" x2="624.7" y2="430.5" stroke="#111" stroke-width="0.8"/>
<line x1="620.3" y1="436.5" x2="624.7" y2="436.5" stroke="#111" stroke-width="0.8"/>
<circle cx="636.10" cy="419.10" r="1.85" fill="#ea6e6e" stroke="#111" stroke-width="0.7"/>
<circle cx="638.60" cy="423.10" r="1.85" fill="#ea6e6e" stroke="#111" stroke-width="0.7"/>
<circle cx="634.20" cy="429.80" r="1.85" fill="#ea6e6e" stroke="#111" stroke-width="0.7"/>
<line x1="635.5" y1="418.594" x2="635.5" y2="429.406" stroke="#111" stroke-width="0.8"/>
<line x1="631.8" y1="424.5" x2="639.8" y2="424.5" stroke="#111" stroke-width="0.9"/>
<line x1="633.6" y1="418.5" x2="638" y2="418.5" stroke="#111" stroke-width="0.8"/>
<line x1="633.6" y1="429.5" x2="638" y2="429.5" stroke="#111" stroke-width="0.8"/>
<circle cx="647.40" cy="454.60" r="1.85" fill="#ea6e6e" stroke="#111" stroke-width="0.7"/>
<circle cx="651.70" cy="458.40" r="1.85" fill="#ea6e6e" stroke="#111" stroke-width="0.7"/>
<circle cx="649.50" cy="472.90" r="1.85" fill="#ea6e6e" stroke="#111" stroke-width="0.7"/>
<line x1="649.5" y1="452.309" x2="649.5" y2="471.624" stroke="#111" stroke-width="0.8"/>
<line x1="645.5" y1="461.5" x2="653.5" y2="461.5" stroke="#111" stroke-width="0.9"/>
<line x1="647.3" y1="452.5" x2="651.7" y2="452.5" stroke="#111" stroke-width="0.8"/>
<line x1="647.3" y1="471.5" x2="651.7" y2="471.5" stroke="#111" stroke-width="0.8"/>
<circle cx="662.80" cy="428.20" r="1.85" fill="#fff" stroke="#111" stroke-width="0.7"/>
<circle cx="665.30" cy="432.40" r="1.85" fill="#fff" stroke="#111" stroke-width="0.7"/>
<circle cx="660.20" cy="436.60" r="1.85" fill="#fff" stroke="#111" stroke-width="0.7"/>
<line x1="662.5" y1="428.2" x2="662.5" y2="436.6" stroke="#111" stroke-width="0.8"/>
<line x1="658.7" y1="432.5" x2="666.7" y2="432.5" stroke="#111" stroke-width="0.9"/>
<line x1="660.5" y1="428.5" x2="664.9" y2="428.5" stroke="#111" stroke-width="0.8"/>
<line x1="660.5" y1="436.5" x2="664.9" y2="436.5" stroke="#111" stroke-width="0.8"/>
<circle cx="676.10" cy="433.70" r="1.85" fill="#ea6e6e" stroke="#111" stroke-width="0.7"/>
<circle cx="678.60" cy="439.10" r="1.85" fill="#ea6e6e" stroke="#111" stroke-width="0.7"/>
<circle cx="673.60" cy="444.70" r="1.85" fill="#ea6e6e" stroke="#111" stroke-width="0.7"/>
<line x1="676.5" y1="433.666" x2="676.5" y2="444.667" stroke="#111" stroke-width="0.8"/>
<line x1="672" y1="439.5" x2="680" y2="439.5" stroke="#111" stroke-width="0.9"/>
<line x1="673.8" y1="433.5" x2="678.2" y2="433.5" stroke="#111" stroke-width="0.8"/>
<line x1="673.8" y1="444.5" x2="678.2" y2="444.5" stroke="#111" stroke-width="0.8"/>
<path d="M622.4 440.6 V447.6 H648.8 V452.1" fill="none" stroke="#8a8a8a" stroke-width="0.75"/>
<circle cx="631.00" cy="445.50" r="0.95" fill="#333"/>
<circle cx="634.90" cy="445.50" r="0.95" fill="#333"/>
<circle cx="638.80" cy="445.50" r="0.95" fill="#333"/>
<text x="612.60" y="489.50" font-size="7.1" text-anchor="end" transform="rotate(-45 612.60 489.50)">Medium</text>
<text x="625.80" y="489.50" font-size="7.1" text-anchor="end" transform="rotate(-45 625.80 489.50)">DMSO</text>
<text x="639.10" y="489.50" font-size="7.1" text-anchor="end" transform="rotate(-45 639.10 489.50)">CDK1-i.</text>
<text x="652.80" y="489.50" font-size="7.1" text-anchor="end" transform="rotate(-45 652.80 489.50)">CDK2-i.</text>
<text x="666.00" y="489.50" font-size="7.1" text-anchor="end" transform="rotate(-45 666.00 489.50)">A. dest.</text>
<text x="679.30" y="489.50" font-size="7.1" text-anchor="end" transform="rotate(-45 679.30 489.50)">CDK4/6-i.</text>
</svg></body></html>
